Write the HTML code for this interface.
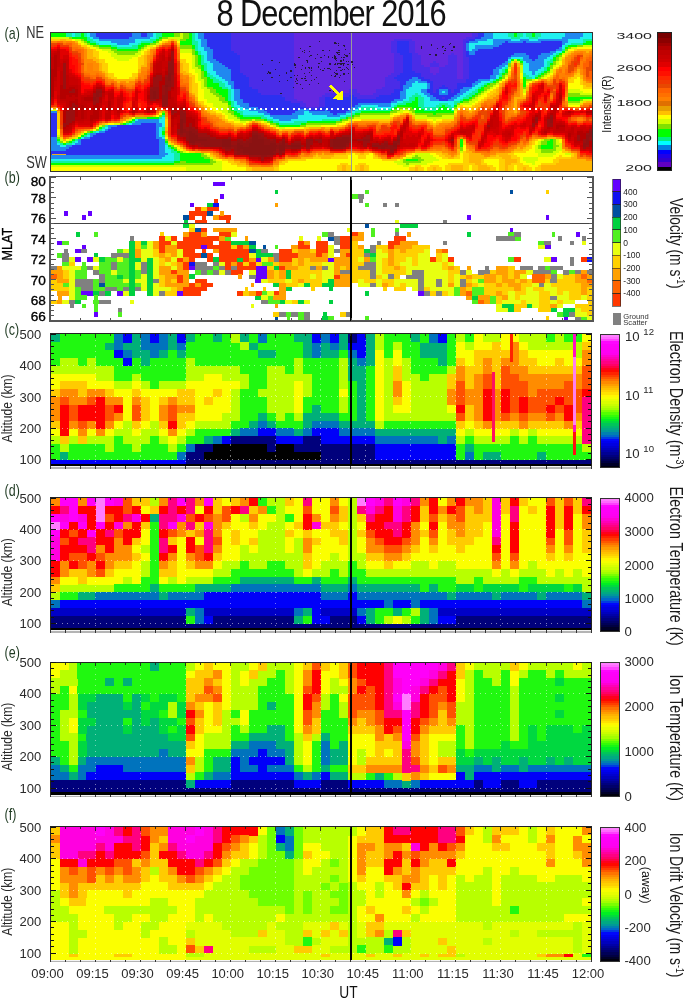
<!DOCTYPE html><html><head><meta charset="utf-8"><style>html,body{margin:0;padding:0;background:#fff}svg{display:block;will-change:transform}</style></head><body>
<svg width="685" height="999" viewBox="0 0 685 999" font-family='"Liberation Sans", sans-serif' shape-rendering="crispEdges">
<rect width="685" height="999" fill="#fff"/>
<text transform="translate(216.50,25.70) rotate(0) scale(0.85,1)" font-size="36.2" fill="#111" text-anchor="start" letter-spacing="-1.2">8 December 2016</text>
<path fill="#00ff00" d="M50.5 32.5h15.3v2.3h-15.3zM80.6 32.5h3.3v2.3h-3.3zM161.8 32.5h12.3v2.3h-12.3zM188.9 32.5h3.3v2.3h-3.3zM513.8 32.5h3.3v2.3h-3.3zM531.8 32.5h3.3v2.3h-3.3zM50.5 34.5h15.3v2.3h-15.3zM80.6 34.5h3.3v2.3h-3.3zM161.8 34.5h12.3v2.3h-12.3zM188.9 34.5h3.3v2.3h-3.3zM513.8 34.5h3.3v2.3h-3.3zM531.8 34.5h3.3v2.3h-3.3zM71.6 36.5h15.3v2.3h-15.3zM158.8 36.5h3.3v2.3h-3.3zM188.9 36.5h3.3v2.3h-3.3zM83.6 38.5h3.3v2.3h-3.3zM155.8 38.5h3.3v2.3h-3.3zM185.9 38.5h6.3v2.3h-6.3zM86.6 40.5h3.3v2.3h-3.3zM152.8 40.5h3.3v2.3h-3.3zM179.9 40.5h12.3v2.3h-12.3zM586 40.5h6.3v2.3h-6.3zM89.6 42.5h6.3v2.3h-6.3zM140.8 42.5h9.3v2.3h-9.3zM179.9 42.5h12.3v2.3h-12.3zM583 42.5h9.3v2.3h-9.3zM98.6 44.5h12.3v2.3h-12.3zM137.7 44.5h6.3v2.3h-6.3zM191.9 44.5h3.3v2.3h-3.3zM567.9 44.5h9.3v2.3h-9.3zM110.7 46.5h6.3v2.3h-6.3zM137.7 46.5h3.3v2.3h-3.3zM191.9 46.5h3.3v2.3h-3.3zM564.9 46.5h3.3v2.3h-3.3zM116.7 48.5h21.4v2.3h-21.4zM194.9 50.5h3.3v2.3h-3.3zM561.9 50.5h3.3v2.3h-3.3zM194.9 52.5h3.3v2.3h-3.3zM558.9 52.5h3.3v2.3h-3.3zM197.9 54.5h3.3v2.3h-3.3zM555.9 54.5h3.3v2.3h-3.3zM197.9 56.5h3.3v2.3h-3.3zM552.9 56.5h3.3v2.3h-3.3zM197.9 58.5h3.3v2.3h-3.3zM510.8 58.5h3.3v2.3h-3.3zM516.8 58.5h3.3v2.3h-3.3zM552.9 58.5h3.3v2.3h-3.3zM197.9 60.5h3.3v2.3h-3.3zM519.8 60.5h3.3v2.3h-3.3zM197.9 62.5h3.3v2.3h-3.3zM549.9 62.5h3.3v2.3h-3.3zM200.9 64.5h3.3v2.3h-3.3zM200.9 66.5h3.3v2.3h-3.3zM546.9 66.5h3.3v2.3h-3.3zM200.9 68.5h3.3v2.3h-3.3zM504.8 68.5h3.3v2.3h-3.3zM546.9 68.5h3.3v2.3h-3.3zM203.9 70.5h3.3v2.3h-3.3zM504.8 70.5h3.3v2.3h-3.3zM543.9 70.5h3.3v2.3h-3.3zM203.9 72.5h3.3v2.3h-3.3zM501.8 72.5h3.3v2.3h-3.3zM540.9 72.5h3.3v2.3h-3.3zM203.9 74.5h3.3v2.3h-3.3zM537.9 74.5h3.3v2.3h-3.3zM206.9 76.5h3.3v2.3h-3.3zM498.7 76.5h3.3v2.3h-3.3zM522.8 76.5h3.3v2.3h-3.3zM534.8 76.5h3.3v2.3h-3.3zM206.9 78.5h6.3v2.3h-6.3zM495.7 78.5h3.3v2.3h-3.3zM522.8 78.5h3.3v2.3h-3.3zM206.9 80.5h6.3v2.3h-6.3zM492.7 80.5h3.3v2.3h-3.3zM522.8 80.5h3.3v2.3h-3.3zM206.9 82.5h12.3v2.3h-12.3zM486.7 82.5h3.3v2.3h-3.3zM522.8 82.5h3.3v2.3h-3.3zM206.9 84.5h12.3v2.3h-12.3zM483.7 84.5h3.3v2.3h-3.3zM522.8 84.5h3.3v2.3h-3.3zM212.9 86.5h9.3v2.3h-9.3zM480.7 86.5h3.3v2.3h-3.3zM216 88.5h12.3v2.3h-12.3zM477.7 88.5h6.3v2.3h-6.3zM216 90.5h12.3v2.3h-12.3zM477.7 90.5h3.3v2.3h-3.3zM219 92.5h9.3v2.3h-9.3zM474.7 92.5h3.3v2.3h-3.3zM222 94.5h6.3v2.3h-6.3zM471.7 94.5h3.3v2.3h-3.3zM225 96.5h3.3v2.3h-3.3zM414.5 96.5h3.3v2.3h-3.3zM468.7 96.5h3.3v2.3h-3.3zM567.9 96.5h24.4v2.3h-24.4zM225 98.5h3.3v2.3h-3.3zM414.5 98.5h3.3v2.3h-3.3zM462.6 98.5h6.3v2.3h-6.3zM567.9 98.5h12.3v2.3h-12.3zM228 100.5h3.3v2.3h-3.3zM411.5 100.5h6.3v2.3h-6.3zM459.6 100.5h3.3v2.3h-3.3zM228 102.6h3.3v2.3h-3.3zM405.5 102.6h12.3v2.3h-12.3zM396.5 104.6h21.4v2.3h-21.4zM441.6 104.6h3.3v2.3h-3.3zM453.6 104.6h3.3v2.3h-3.3zM231 106.6h3.3v2.3h-3.3zM393.4 106.6h3.3v2.3h-3.3zM411.5 106.6h9.3v2.3h-9.3zM438.6 106.6h9.3v2.3h-9.3zM231 108.6h3.3v2.3h-3.3zM390.4 108.6h3.3v2.3h-3.3zM414.5 108.6h9.3v2.3h-9.3zM435.6 108.6h15.3v2.3h-15.3zM234 110.6h3.3v2.3h-3.3zM360.4 110.6h30.4v2.3h-30.4zM414.5 110.6h39.4v2.3h-39.4zM161.8 112.6h3.3v2.3h-3.3zM234 112.6h6.3v2.3h-6.3zM354.3 112.6h6.3v2.3h-6.3zM432.6 112.6h3.3v2.3h-3.3zM237 114.6h6.3v2.3h-6.3zM351.3 114.6h3.3v2.3h-3.3zM146.8 116.6h12.3v2.3h-12.3zM240 116.6h21.4v2.3h-21.4zM345.3 116.6h3.3v2.3h-3.3zM131.7 118.6h3.3v2.3h-3.3zM264.1 118.6h3.3v2.3h-3.3zM339.3 118.6h3.3v2.3h-3.3zM128.7 120.6h3.3v2.3h-3.3zM270.1 120.6h3.3v2.3h-3.3zM306.2 120.6h30.4v2.3h-30.4zM122.7 122.6h3.3v2.3h-3.3zM276.1 122.6h3.3v2.3h-3.3zM300.2 122.6h6.3v2.3h-6.3zM279.1 124.6h21.4v2.3h-21.4zM98.6 126.6h3.3v2.3h-3.3zM89.6 130.6h3.3v2.3h-3.3zM161.8 130.6h3.3v2.3h-3.3zM83.6 132.6h3.3v2.3h-3.3zM161.8 132.6h3.3v2.3h-3.3zM80.6 134.6h3.3v2.3h-3.3zM77.6 136.6h3.3v2.3h-3.3zM56.5 138.6h3.3v2.3h-3.3zM71.6 138.6h3.3v2.3h-3.3zM459.6 138.6h3.3v2.3h-3.3zM549.9 138.6h3.3v2.3h-3.3zM68.5 140.6h3.3v2.3h-3.3zM164.8 140.6h3.3v2.3h-3.3zM459.6 140.6h3.3v2.3h-3.3zM546.9 140.6h6.3v2.3h-6.3zM62.5 142.6h3.3v2.3h-3.3zM459.6 142.6h3.3v2.3h-3.3zM546.9 142.6h6.3v2.3h-6.3zM167.8 144.6h3.3v2.3h-3.3zM459.6 144.6h3.3v2.3h-3.3zM540.9 144.6h12.3v2.3h-12.3zM170.8 146.6h3.3v2.3h-3.3zM540.9 146.6h12.3v2.3h-12.3zM173.8 148.6h3.3v2.3h-3.3zM176.8 150.6h3.3v2.3h-3.3zM179.9 152.6h21.4v2.3h-21.4zM179.9 154.6h21.4v2.3h-21.4zM179.9 156.6h24.4v2.3h-24.4zM179.9 158.6h30.4v2.3h-30.4zM405.5 158.6h12.3v2.3h-12.3zM173.8 160.6h6.3v2.3h-6.3zM185.9 160.6h24.4v2.3h-24.4zM50.5 162.6h123.6v2.3h-123.6z"/>
<path fill="#10f0a0" d="M65.5 32.5h6.3v2.3h-6.3zM74.6 32.5h6.3v2.3h-6.3zM83.6 32.5h3.3v2.3h-3.3zM155.8 32.5h6.3v2.3h-6.3zM191.9 32.5h3.3v2.3h-3.3zM507.8 32.5h6.3v2.3h-6.3zM516.8 32.5h6.3v2.3h-6.3zM525.8 32.5h6.3v2.3h-6.3zM534.8 32.5h6.3v2.3h-6.3zM65.5 34.5h6.3v2.3h-6.3zM74.6 34.5h6.3v2.3h-6.3zM83.6 34.5h3.3v2.3h-3.3zM155.8 34.5h6.3v2.3h-6.3zM191.9 34.5h3.3v2.3h-3.3zM507.8 34.5h6.3v2.3h-6.3zM516.8 34.5h6.3v2.3h-6.3zM525.8 34.5h6.3v2.3h-6.3zM534.8 34.5h6.3v2.3h-6.3zM86.6 36.5h3.3v2.3h-3.3zM155.8 36.5h3.3v2.3h-3.3zM191.9 36.5h3.3v2.3h-3.3zM510.8 36.5h9.3v2.3h-9.3zM528.8 36.5h9.3v2.3h-9.3zM86.6 38.5h6.3v2.3h-6.3zM149.8 38.5h6.3v2.3h-6.3zM191.9 38.5h3.3v2.3h-3.3zM583 38.5h9.3v2.3h-9.3zM89.6 40.5h6.3v2.3h-6.3zM140.8 40.5h12.3v2.3h-12.3zM191.9 40.5h6.3v2.3h-6.3zM583 40.5h3.3v2.3h-3.3zM95.6 42.5h3.3v2.3h-3.3zM137.7 42.5h3.3v2.3h-3.3zM191.9 42.5h6.3v2.3h-6.3zM570.9 42.5h12.3v2.3h-12.3zM110.7 44.5h6.3v2.3h-6.3zM131.7 44.5h6.3v2.3h-6.3zM194.9 44.5h3.3v2.3h-3.3zM564.9 44.5h3.3v2.3h-3.3zM116.7 46.5h21.4v2.3h-21.4zM194.9 46.5h3.3v2.3h-3.3zM194.9 48.5h3.3v2.3h-3.3zM561.9 48.5h3.3v2.3h-3.3zM197.9 50.5h3.3v2.3h-3.3zM197.9 52.5h3.3v2.3h-3.3zM555.9 52.5h3.3v2.3h-3.3zM200.9 54.5h3.3v2.3h-3.3zM552.9 54.5h3.3v2.3h-3.3zM200.9 56.5h3.3v2.3h-3.3zM200.9 58.5h3.3v2.3h-3.3zM519.8 58.5h3.3v2.3h-3.3zM549.9 58.5h3.3v2.3h-3.3zM200.9 60.5h3.3v2.3h-3.3zM507.8 60.5h3.3v2.3h-3.3zM546.9 60.5h6.3v2.3h-6.3zM200.9 62.5h6.3v2.3h-6.3zM546.9 62.5h3.3v2.3h-3.3zM203.9 64.5h3.3v2.3h-3.3zM546.9 64.5h3.3v2.3h-3.3zM203.9 66.5h3.3v2.3h-3.3zM504.8 66.5h3.3v2.3h-3.3zM543.9 66.5h3.3v2.3h-3.3zM203.9 68.5h3.3v2.3h-3.3zM501.8 68.5h3.3v2.3h-3.3zM543.9 68.5h3.3v2.3h-3.3zM501.8 70.5h3.3v2.3h-3.3zM540.9 70.5h3.3v2.3h-3.3zM206.9 72.5h3.3v2.3h-3.3zM498.7 72.5h3.3v2.3h-3.3zM522.8 72.5h3.3v2.3h-3.3zM537.9 72.5h3.3v2.3h-3.3zM206.9 74.5h6.3v2.3h-6.3zM498.7 74.5h3.3v2.3h-3.3zM522.8 74.5h6.3v2.3h-6.3zM534.8 74.5h3.3v2.3h-3.3zM209.9 76.5h6.3v2.3h-6.3zM525.8 76.5h6.3v2.3h-6.3zM212.9 78.5h6.3v2.3h-6.3zM492.7 78.5h3.3v2.3h-3.3zM212.9 80.5h9.3v2.3h-9.3zM489.7 80.5h3.3v2.3h-3.3zM219 82.5h6.3v2.3h-6.3zM483.7 82.5h3.3v2.3h-3.3zM219 84.5h6.3v2.3h-6.3zM480.7 84.5h3.3v2.3h-3.3zM222 86.5h6.3v2.3h-6.3zM477.7 86.5h3.3v2.3h-3.3zM228 88.5h3.3v2.3h-3.3zM474.7 88.5h3.3v2.3h-3.3zM228 90.5h3.3v2.3h-3.3zM471.7 90.5h6.3v2.3h-6.3zM228 92.5h3.3v2.3h-3.3zM414.5 92.5h3.3v2.3h-3.3zM468.7 92.5h6.3v2.3h-6.3zM228 94.5h3.3v2.3h-3.3zM411.5 94.5h9.3v2.3h-9.3zM465.6 94.5h6.3v2.3h-6.3zM228 96.5h3.3v2.3h-3.3zM408.5 96.5h6.3v2.3h-6.3zM417.5 96.5h6.3v2.3h-6.3zM462.6 96.5h6.3v2.3h-6.3zM228 98.5h3.3v2.3h-3.3zM408.5 98.5h6.3v2.3h-6.3zM417.5 98.5h6.3v2.3h-6.3zM459.6 98.5h3.3v2.3h-3.3zM231 100.5h3.3v2.3h-3.3zM402.5 100.5h9.3v2.3h-9.3zM417.5 100.5h6.3v2.3h-6.3zM453.6 100.5h6.3v2.3h-6.3zM231 102.6h3.3v2.3h-3.3zM396.5 102.6h9.3v2.3h-9.3zM417.5 102.6h6.3v2.3h-6.3zM438.6 102.6h9.3v2.3h-9.3zM453.6 102.6h3.3v2.3h-3.3zM231 104.6h3.3v2.3h-3.3zM393.4 104.6h3.3v2.3h-3.3zM417.5 104.6h6.3v2.3h-6.3zM435.6 104.6h6.3v2.3h-6.3zM444.6 104.6h6.3v2.3h-6.3zM234 106.6h3.3v2.3h-3.3zM360.4 106.6h15.3v2.3h-15.3zM390.4 106.6h3.3v2.3h-3.3zM420.5 106.6h18.4v2.3h-18.4zM447.6 106.6h6.3v2.3h-6.3zM234 108.6h6.3v2.3h-6.3zM357.4 108.6h33.4v2.3h-33.4zM423.5 108.6h12.3v2.3h-12.3zM450.6 108.6h3.3v2.3h-3.3zM237 110.6h6.3v2.3h-6.3zM354.3 110.6h6.3v2.3h-6.3zM240 112.6h3.3v2.3h-3.3zM351.3 112.6h3.3v2.3h-3.3zM161.8 114.6h3.3v2.3h-3.3zM243 114.6h21.4v2.3h-21.4zM345.3 114.6h6.3v2.3h-6.3zM158.8 116.6h3.3v2.3h-3.3zM261.1 116.6h6.3v2.3h-6.3zM339.3 116.6h6.3v2.3h-6.3zM267.1 118.6h6.3v2.3h-6.3zM321.2 118.6h18.4v2.3h-18.4zM131.7 120.6h3.3v2.3h-3.3zM273.1 120.6h6.3v2.3h-6.3zM294.2 120.6h12.3v2.3h-12.3zM125.7 122.6h3.3v2.3h-3.3zM279.1 122.6h21.4v2.3h-21.4zM104.7 124.6h3.3v2.3h-3.3zM101.6 126.6h3.3v2.3h-3.3zM161.8 126.6h3.3v2.3h-3.3zM98.6 128.6h3.3v2.3h-3.3zM161.8 128.6h3.3v2.3h-3.3zM92.6 130.6h3.3v2.3h-3.3zM86.6 132.6h3.3v2.3h-3.3zM83.6 134.6h3.3v2.3h-3.3zM161.8 134.6h3.3v2.3h-3.3zM74.6 138.6h3.3v2.3h-3.3zM56.5 140.6h3.3v2.3h-3.3zM71.6 140.6h3.3v2.3h-3.3zM59.5 142.6h3.3v2.3h-3.3zM65.5 142.6h6.3v2.3h-6.3zM164.8 142.6h3.3v2.3h-3.3zM167.8 146.6h3.3v2.3h-3.3zM170.8 148.6h3.3v2.3h-3.3zM170.8 150.6h6.3v2.3h-6.3zM173.8 152.6h6.3v2.3h-6.3zM173.8 154.6h6.3v2.3h-6.3zM173.8 156.6h6.3v2.3h-6.3zM173.8 158.6h6.3v2.3h-6.3zM50.5 160.6h123.6v2.3h-123.6z"/>
<path fill="#20f0f0" d="M71.6 32.5h3.3v2.3h-3.3zM86.6 32.5h3.3v2.3h-3.3zM152.8 32.5h3.3v2.3h-3.3zM194.9 32.5h3.3v2.3h-3.3zM492.7 32.5h15.3v2.3h-15.3zM522.8 32.5h3.3v2.3h-3.3zM540.9 32.5h24.4v2.3h-24.4zM583 32.5h9.3v2.3h-9.3zM71.6 34.5h3.3v2.3h-3.3zM86.6 34.5h3.3v2.3h-3.3zM152.8 34.5h3.3v2.3h-3.3zM194.9 34.5h3.3v2.3h-3.3zM492.7 34.5h15.3v2.3h-15.3zM522.8 34.5h3.3v2.3h-3.3zM540.9 34.5h24.4v2.3h-24.4zM583 34.5h9.3v2.3h-9.3zM89.6 36.5h3.3v2.3h-3.3zM149.8 36.5h6.3v2.3h-6.3zM194.9 36.5h3.3v2.3h-3.3zM492.7 36.5h18.3v2.3h-18.3zM519.8 36.5h9.3v2.3h-9.3zM537.9 36.5h24.4v2.3h-24.4zM580 36.5h12.3v2.3h-12.3zM92.6 38.5h6.3v2.3h-6.3zM134.7 38.5h15.3v2.3h-15.3zM194.9 38.5h6.3v2.3h-6.3zM486.7 38.5h6.3v2.3h-6.3zM510.8 38.5h9.3v2.3h-9.3zM528.8 38.5h9.3v2.3h-9.3zM567.9 38.5h15.3v2.3h-15.3zM95.6 40.5h15.3v2.3h-15.3zM134.7 40.5h6.3v2.3h-6.3zM197.9 40.5h3.3v2.3h-3.3zM477.7 40.5h15.3v2.3h-15.3zM567.9 40.5h15.3v2.3h-15.3zM98.6 42.5h18.4v2.3h-18.4zM128.7 42.5h9.3v2.3h-9.3zM197.9 42.5h3.3v2.3h-3.3zM468.7 42.5h24.4v2.3h-24.4zM564.9 42.5h6.3v2.3h-6.3zM116.7 44.5h15.3v2.3h-15.3zM197.9 44.5h3.3v2.3h-3.3zM468.7 44.5h6.3v2.3h-6.3zM561.9 44.5h3.3v2.3h-3.3zM197.9 46.5h6.3v2.3h-6.3zM468.7 46.5h6.3v2.3h-6.3zM561.9 46.5h3.3v2.3h-3.3zM197.9 48.5h6.3v2.3h-6.3zM468.7 48.5h3.3v2.3h-3.3zM200.9 50.5h6.3v2.3h-6.3zM555.9 50.5h6.3v2.3h-6.3zM200.9 52.5h6.3v2.3h-6.3zM552.9 52.5h3.3v2.3h-3.3zM203.9 54.5h3.3v2.3h-3.3zM549.9 54.5h3.3v2.3h-3.3zM203.9 56.5h3.3v2.3h-3.3zM510.8 56.5h12.3v2.3h-12.3zM546.9 56.5h6.3v2.3h-6.3zM203.9 58.5h3.3v2.3h-3.3zM507.8 58.5h3.3v2.3h-3.3zM543.9 58.5h6.3v2.3h-6.3zM203.9 60.5h6.3v2.3h-6.3zM522.8 60.5h3.3v2.3h-3.3zM543.9 60.5h3.3v2.3h-3.3zM206.9 62.5h6.3v2.3h-6.3zM522.8 62.5h6.3v2.3h-6.3zM543.9 62.5h3.3v2.3h-3.3zM206.9 64.5h6.3v2.3h-6.3zM504.8 64.5h3.3v2.3h-3.3zM522.8 64.5h6.3v2.3h-6.3zM543.9 64.5h3.3v2.3h-3.3zM206.9 66.5h6.3v2.3h-6.3zM501.8 66.5h3.3v2.3h-3.3zM522.8 66.5h6.3v2.3h-6.3zM540.9 66.5h3.3v2.3h-3.3zM206.9 68.5h6.3v2.3h-6.3zM498.7 68.5h3.3v2.3h-3.3zM522.8 68.5h6.3v2.3h-6.3zM537.9 68.5h6.3v2.3h-6.3zM206.9 70.5h9.3v2.3h-9.3zM498.7 70.5h3.3v2.3h-3.3zM522.8 70.5h9.3v2.3h-9.3zM534.8 70.5h6.3v2.3h-6.3zM209.9 72.5h6.3v2.3h-6.3zM525.8 72.5h6.3v2.3h-6.3zM534.8 72.5h3.3v2.3h-3.3zM212.9 74.5h6.3v2.3h-6.3zM495.7 74.5h3.3v2.3h-3.3zM528.8 74.5h6.3v2.3h-6.3zM216 76.5h6.3v2.3h-6.3zM495.7 76.5h3.3v2.3h-3.3zM531.8 76.5h3.3v2.3h-3.3zM219 78.5h6.3v2.3h-6.3zM489.7 78.5h3.3v2.3h-3.3zM222 80.5h6.3v2.3h-6.3zM414.5 80.5h3.3v2.3h-3.3zM480.7 80.5h9.3v2.3h-9.3zM225 82.5h3.3v2.3h-3.3zM411.5 82.5h15.3v2.3h-15.3zM477.7 82.5h6.3v2.3h-6.3zM225 84.5h6.3v2.3h-6.3zM411.5 84.5h15.3v2.3h-15.3zM474.7 84.5h6.3v2.3h-6.3zM228 86.5h3.3v2.3h-3.3zM408.5 86.5h18.4v2.3h-18.4zM471.7 86.5h6.3v2.3h-6.3zM231 88.5h3.3v2.3h-3.3zM405.5 88.5h15.3v2.3h-15.3zM468.7 88.5h6.3v2.3h-6.3zM231 90.5h3.3v2.3h-3.3zM405.5 90.5h15.3v2.3h-15.3zM441.6 90.5h3.3v2.3h-3.3zM465.6 90.5h6.3v2.3h-6.3zM231 92.5h3.3v2.3h-3.3zM405.5 92.5h9.3v2.3h-9.3zM417.5 92.5h6.3v2.3h-6.3zM462.6 92.5h6.3v2.3h-6.3zM231 94.5h3.3v2.3h-3.3zM405.5 94.5h6.3v2.3h-6.3zM420.5 94.5h6.3v2.3h-6.3zM459.6 94.5h6.3v2.3h-6.3zM231 96.5h3.3v2.3h-3.3zM405.5 96.5h3.3v2.3h-3.3zM423.5 96.5h6.3v2.3h-6.3zM456.6 96.5h6.3v2.3h-6.3zM231 98.5h3.3v2.3h-3.3zM402.5 98.5h6.3v2.3h-6.3zM423.5 98.5h6.3v2.3h-6.3zM453.6 98.5h6.3v2.3h-6.3zM234 100.5h3.3v2.3h-3.3zM396.5 100.5h6.3v2.3h-6.3zM423.5 100.5h30.4v2.3h-30.4zM234 102.6h3.3v2.3h-3.3zM390.4 102.6h6.3v2.3h-6.3zM423.5 102.6h15.3v2.3h-15.3zM447.6 102.6h6.3v2.3h-6.3zM234 104.6h6.3v2.3h-6.3zM360.4 104.6h18.4v2.3h-18.4zM390.4 104.6h3.3v2.3h-3.3zM423.5 104.6h12.3v2.3h-12.3zM450.6 104.6h3.3v2.3h-3.3zM237 106.6h6.3v2.3h-6.3zM357.4 106.6h3.3v2.3h-3.3zM375.4 106.6h15.3v2.3h-15.3zM240 108.6h9.3v2.3h-9.3zM354.3 108.6h3.3v2.3h-3.3zM243 110.6h15.3v2.3h-15.3zM303.2 110.6h6.3v2.3h-6.3zM351.3 110.6h3.3v2.3h-3.3zM243 112.6h21.4v2.3h-21.4zM303.2 112.6h9.3v2.3h-9.3zM345.3 112.6h6.3v2.3h-6.3zM264.1 114.6h6.3v2.3h-6.3zM297.2 114.6h30.4v2.3h-30.4zM339.3 114.6h6.3v2.3h-6.3zM161.8 116.6h3.3v2.3h-3.3zM267.1 116.6h6.3v2.3h-6.3zM297.2 116.6h42.4v2.3h-42.4zM134.7 118.6h3.3v2.3h-3.3zM158.8 118.6h6.3v2.3h-6.3zM273.1 118.6h6.3v2.3h-6.3zM291.2 118.6h30.4v2.3h-30.4zM158.8 120.6h6.3v2.3h-6.3zM279.1 120.6h15.3v2.3h-15.3zM128.7 122.6h3.3v2.3h-3.3zM161.8 122.6h3.3v2.3h-3.3zM161.8 124.6h3.3v2.3h-3.3zM104.7 126.6h3.3v2.3h-3.3zM158.8 126.6h3.3v2.3h-3.3zM101.6 128.6h3.3v2.3h-3.3zM158.8 128.6h3.3v2.3h-3.3zM95.6 130.6h3.3v2.3h-3.3zM158.8 130.6h3.3v2.3h-3.3zM158.8 132.6h3.3v2.3h-3.3zM86.6 134.6h3.3v2.3h-3.3zM158.8 134.6h3.3v2.3h-3.3zM80.6 136.6h3.3v2.3h-3.3zM161.8 136.6h3.3v2.3h-3.3zM74.6 140.6h3.3v2.3h-3.3zM56.5 142.6h3.3v2.3h-3.3zM71.6 142.6h3.3v2.3h-3.3zM59.5 144.6h6.3v2.3h-6.3zM164.8 144.6h3.3v2.3h-3.3zM164.8 146.6h3.3v2.3h-3.3zM164.8 148.6h6.3v2.3h-6.3zM164.8 150.6h6.3v2.3h-6.3zM167.8 152.6h6.3v2.3h-6.3zM164.8 154.6h9.3v2.3h-9.3zM161.8 156.6h12.3v2.3h-12.3zM50.5 158.6h123.6v2.3h-123.6z"/>
<path fill="#2088f0" d="M89.6 32.5h6.3v2.3h-6.3zM131.7 32.5h9.3v2.3h-9.3zM146.8 32.5h6.3v2.3h-6.3zM197.9 32.5h6.3v2.3h-6.3zM483.7 32.5h9.3v2.3h-9.3zM564.9 32.5h18.4v2.3h-18.4zM89.6 34.5h6.3v2.3h-6.3zM131.7 34.5h9.3v2.3h-9.3zM146.8 34.5h6.3v2.3h-6.3zM197.9 34.5h6.3v2.3h-6.3zM483.7 34.5h9.3v2.3h-9.3zM564.9 34.5h18.4v2.3h-18.4zM92.6 36.5h6.3v2.3h-6.3zM128.7 36.5h21.4v2.3h-21.4zM197.9 36.5h6.3v2.3h-6.3zM480.7 36.5h12.3v2.3h-12.3zM561.9 36.5h18.3v2.3h-18.3zM98.6 38.5h36.4v2.3h-36.4zM200.9 38.5h6.3v2.3h-6.3zM474.7 38.5h12.3v2.3h-12.3zM492.7 38.5h18.3v2.3h-18.3zM519.8 38.5h9.3v2.3h-9.3zM537.9 38.5h30.4v2.3h-30.4zM110.7 40.5h24.4v2.3h-24.4zM200.9 40.5h6.3v2.3h-6.3zM468.7 40.5h9.3v2.3h-9.3zM492.7 40.5h12.3v2.3h-12.3zM507.8 40.5h15.3v2.3h-15.3zM525.8 40.5h15.3v2.3h-15.3zM561.9 40.5h6.3v2.3h-6.3zM116.7 42.5h12.3v2.3h-12.3zM200.9 42.5h6.3v2.3h-6.3zM465.6 42.5h3.3v2.3h-3.3zM492.7 42.5h9.3v2.3h-9.3zM561.9 42.5h3.3v2.3h-3.3zM200.9 44.5h6.3v2.3h-6.3zM465.6 44.5h3.3v2.3h-3.3zM474.7 44.5h24.4v2.3h-24.4zM203.9 46.5h6.3v2.3h-6.3zM465.6 46.5h3.3v2.3h-3.3zM474.7 46.5h18.4v2.3h-18.4zM558.9 46.5h3.3v2.3h-3.3zM203.9 48.5h9.3v2.3h-9.3zM465.6 48.5h3.3v2.3h-3.3zM471.7 48.5h6.3v2.3h-6.3zM555.9 48.5h6.3v2.3h-6.3zM206.9 50.5h6.3v2.3h-6.3zM468.7 50.5h6.3v2.3h-6.3zM549.9 50.5h6.3v2.3h-6.3zM206.9 52.5h6.3v2.3h-6.3zM468.7 52.5h6.3v2.3h-6.3zM513.8 52.5h12.3v2.3h-12.3zM540.9 52.5h12.3v2.3h-12.3zM206.9 54.5h6.3v2.3h-6.3zM510.8 54.5h18.4v2.3h-18.4zM537.9 54.5h12.3v2.3h-12.3zM206.9 56.5h6.3v2.3h-6.3zM507.8 56.5h3.3v2.3h-3.3zM522.8 56.5h6.3v2.3h-6.3zM537.9 56.5h9.3v2.3h-9.3zM206.9 58.5h9.3v2.3h-9.3zM522.8 58.5h9.3v2.3h-9.3zM534.8 58.5h9.3v2.3h-9.3zM209.9 60.5h9.3v2.3h-9.3zM504.8 60.5h3.3v2.3h-3.3zM525.8 60.5h18.4v2.3h-18.4zM212.9 62.5h9.3v2.3h-9.3zM501.8 62.5h6.3v2.3h-6.3zM528.8 62.5h15.3v2.3h-15.3zM212.9 64.5h12.3v2.3h-12.3zM498.7 64.5h6.3v2.3h-6.3zM528.8 64.5h15.3v2.3h-15.3zM212.9 66.5h15.3v2.3h-15.3zM495.7 66.5h6.3v2.3h-6.3zM528.8 66.5h12.3v2.3h-12.3zM212.9 68.5h18.4v2.3h-18.4zM492.7 68.5h6.3v2.3h-6.3zM528.8 68.5h9.3v2.3h-9.3zM216 70.5h15.3v2.3h-15.3zM492.7 70.5h6.3v2.3h-6.3zM531.8 70.5h3.3v2.3h-3.3zM216 72.5h15.3v2.3h-15.3zM492.7 72.5h6.3v2.3h-6.3zM531.8 72.5h3.3v2.3h-3.3zM219 74.5h12.3v2.3h-12.3zM489.7 74.5h6.3v2.3h-6.3zM222 76.5h9.3v2.3h-9.3zM411.5 76.5h6.3v2.3h-6.3zM489.7 76.5h6.3v2.3h-6.3zM225 78.5h6.3v2.3h-6.3zM408.5 78.5h12.3v2.3h-12.3zM477.7 78.5h12.3v2.3h-12.3zM228 80.5h6.3v2.3h-6.3zM405.5 80.5h9.3v2.3h-9.3zM417.5 80.5h9.3v2.3h-9.3zM474.7 80.5h6.3v2.3h-6.3zM228 82.5h6.3v2.3h-6.3zM405.5 82.5h6.3v2.3h-6.3zM426.5 82.5h3.3v2.3h-3.3zM471.7 82.5h6.3v2.3h-6.3zM231 84.5h3.3v2.3h-3.3zM402.5 84.5h9.3v2.3h-9.3zM426.5 84.5h3.3v2.3h-3.3zM471.7 84.5h3.3v2.3h-3.3zM231 86.5h3.3v2.3h-3.3zM402.5 86.5h6.3v2.3h-6.3zM426.5 86.5h3.3v2.3h-3.3zM462.6 86.5h9.3v2.3h-9.3zM234 88.5h6.3v2.3h-6.3zM402.5 88.5h3.3v2.3h-3.3zM420.5 88.5h6.3v2.3h-6.3zM438.6 88.5h9.3v2.3h-9.3zM459.6 88.5h9.3v2.3h-9.3zM234 90.5h6.3v2.3h-6.3zM399.5 90.5h6.3v2.3h-6.3zM420.5 90.5h6.3v2.3h-6.3zM438.6 90.5h3.3v2.3h-3.3zM444.6 90.5h3.3v2.3h-3.3zM459.6 90.5h6.3v2.3h-6.3zM234 92.5h6.3v2.3h-6.3zM399.5 92.5h6.3v2.3h-6.3zM423.5 92.5h6.3v2.3h-6.3zM438.6 92.5h9.3v2.3h-9.3zM456.6 92.5h6.3v2.3h-6.3zM234 94.5h6.3v2.3h-6.3zM399.5 94.5h6.3v2.3h-6.3zM426.5 94.5h6.3v2.3h-6.3zM453.6 94.5h6.3v2.3h-6.3zM234 96.5h6.3v2.3h-6.3zM399.5 96.5h6.3v2.3h-6.3zM429.6 96.5h6.3v2.3h-6.3zM450.6 96.5h6.3v2.3h-6.3zM234 98.5h9.3v2.3h-9.3zM393.4 98.5h9.3v2.3h-9.3zM429.6 98.5h9.3v2.3h-9.3zM447.6 98.5h6.3v2.3h-6.3zM237 100.5h6.3v2.3h-6.3zM390.4 100.5h6.3v2.3h-6.3zM237 102.6h12.3v2.3h-12.3zM357.4 102.6h33.4v2.3h-33.4zM240 104.6h9.3v2.3h-9.3zM354.3 104.6h6.3v2.3h-6.3zM378.4 104.6h12.3v2.3h-12.3zM243 106.6h15.3v2.3h-15.3zM351.3 106.6h6.3v2.3h-6.3zM249.1 108.6h15.3v2.3h-15.3zM297.2 108.6h12.3v2.3h-12.3zM324.3 108.6h3.3v2.3h-3.3zM348.3 108.6h6.3v2.3h-6.3zM50.5 110.6h6.3v2.3h-6.3zM258.1 110.6h9.3v2.3h-9.3zM294.2 110.6h9.3v2.3h-9.3zM309.2 110.6h21.4v2.3h-21.4zM345.3 110.6h6.3v2.3h-6.3zM264.1 112.6h6.3v2.3h-6.3zM291.2 112.6h12.3v2.3h-12.3zM312.2 112.6h21.4v2.3h-21.4zM336.3 112.6h9.3v2.3h-9.3zM270.1 114.6h27.4v2.3h-27.4zM327.3 114.6h12.3v2.3h-12.3zM273.1 116.6h24.4v2.3h-24.4zM137.7 118.6h21.4v2.3h-21.4zM279.1 118.6h12.3v2.3h-12.3zM134.7 120.6h24.4v2.3h-24.4zM131.7 122.6h9.3v2.3h-9.3zM155.8 122.6h6.3v2.3h-6.3zM107.7 124.6h9.3v2.3h-9.3zM155.8 124.6h6.3v2.3h-6.3zM107.7 126.6h3.3v2.3h-3.3zM155.8 126.6h3.3v2.3h-3.3zM104.7 128.6h3.3v2.3h-3.3zM155.8 128.6h3.3v2.3h-3.3zM98.6 130.6h6.3v2.3h-6.3zM155.8 130.6h3.3v2.3h-3.3zM89.6 132.6h6.3v2.3h-6.3zM155.8 132.6h3.3v2.3h-3.3zM89.6 134.6h3.3v2.3h-3.3zM155.8 134.6h3.3v2.3h-3.3zM50.5 136.6h6.3v2.3h-6.3zM83.6 136.6h6.3v2.3h-6.3zM155.8 136.6h6.3v2.3h-6.3zM50.5 138.6h6.3v2.3h-6.3zM77.6 138.6h3.3v2.3h-3.3zM158.8 138.6h6.3v2.3h-6.3zM50.5 140.6h6.3v2.3h-6.3zM77.6 140.6h3.3v2.3h-3.3zM158.8 140.6h6.3v2.3h-6.3zM50.5 142.6h6.3v2.3h-6.3zM74.6 142.6h6.3v2.3h-6.3zM158.8 142.6h6.3v2.3h-6.3zM50.5 144.6h9.3v2.3h-9.3zM65.5 144.6h6.3v2.3h-6.3zM158.8 144.6h6.3v2.3h-6.3zM50.5 146.6h18.3v2.3h-18.3zM158.8 146.6h6.3v2.3h-6.3zM50.5 148.6h15.3v2.3h-15.3zM158.8 148.6h6.3v2.3h-6.3zM158.8 150.6h6.3v2.3h-6.3zM158.8 152.6h9.3v2.3h-9.3zM50.5 154.6h114.6v2.3h-114.6zM50.5 156.6h111.6v2.3h-111.6z"/>
<path fill="#2c30f0" d="M95.6 32.5h36.4v2.3h-36.4zM140.8 32.5h6.3v2.3h-6.3zM203.9 32.5h27.4v2.3h-27.4zM477.7 32.5h6.3v2.3h-6.3zM95.6 34.5h36.4v2.3h-36.4zM140.8 34.5h6.3v2.3h-6.3zM203.9 34.5h27.4v2.3h-27.4zM477.7 34.5h6.3v2.3h-6.3zM98.6 36.5h30.4v2.3h-30.4zM203.9 36.5h27.4v2.3h-27.4zM474.7 36.5h6.3v2.3h-6.3zM206.9 38.5h24.4v2.3h-24.4zM468.7 38.5h6.3v2.3h-6.3zM206.9 40.5h24.4v2.3h-24.4zM396.5 40.5h12.3v2.3h-12.3zM465.6 40.5h3.3v2.3h-3.3zM504.8 40.5h3.3v2.3h-3.3zM522.8 40.5h3.3v2.3h-3.3zM540.9 40.5h21.4v2.3h-21.4zM206.9 42.5h24.4v2.3h-24.4zM396.5 42.5h12.3v2.3h-12.3zM501.8 42.5h60.5v2.3h-60.5zM206.9 44.5h24.4v2.3h-24.4zM396.5 44.5h12.3v2.3h-12.3zM498.7 44.5h63.5v2.3h-63.5zM209.9 46.5h21.4v2.3h-21.4zM396.5 46.5h12.3v2.3h-12.3zM492.7 46.5h66.5v2.3h-66.5zM212.9 48.5h18.4v2.3h-18.4zM396.5 48.5h12.3v2.3h-12.3zM477.7 48.5h78.5v2.3h-78.5zM212.9 50.5h21.4v2.3h-21.4zM396.5 50.5h12.3v2.3h-12.3zM465.6 50.5h3.3v2.3h-3.3zM474.7 50.5h75.5v2.3h-75.5zM212.9 52.5h24.4v2.3h-24.4zM399.5 52.5h12.3v2.3h-12.3zM465.6 52.5h3.3v2.3h-3.3zM474.7 52.5h39.4v2.3h-39.4zM525.8 52.5h15.3v2.3h-15.3zM212.9 54.5h27.4v2.3h-27.4zM402.5 54.5h9.3v2.3h-9.3zM465.6 54.5h45.4v2.3h-45.4zM528.8 54.5h9.3v2.3h-9.3zM212.9 56.5h27.4v2.3h-27.4zM402.5 56.5h9.3v2.3h-9.3zM468.7 56.5h39.4v2.3h-39.4zM528.8 56.5h9.3v2.3h-9.3zM216 58.5h24.4v2.3h-24.4zM402.5 58.5h9.3v2.3h-9.3zM468.7 58.5h39.4v2.3h-39.4zM531.8 58.5h3.3v2.3h-3.3zM219 60.5h21.4v2.3h-21.4zM402.5 60.5h9.3v2.3h-9.3zM468.7 60.5h36.4v2.3h-36.4zM222 62.5h18.4v2.3h-18.4zM402.5 62.5h9.3v2.3h-9.3zM468.7 62.5h33.4v2.3h-33.4zM225 64.5h15.3v2.3h-15.3zM402.5 64.5h9.3v2.3h-9.3zM468.7 64.5h30.4v2.3h-30.4zM228 66.5h12.3v2.3h-12.3zM402.5 66.5h9.3v2.3h-9.3zM468.7 66.5h27.4v2.3h-27.4zM231 68.5h9.3v2.3h-9.3zM402.5 68.5h9.3v2.3h-9.3zM468.7 68.5h24.4v2.3h-24.4zM231 70.5h9.3v2.3h-9.3zM402.5 70.5h12.3v2.3h-12.3zM468.7 70.5h24.4v2.3h-24.4zM231 72.5h12.3v2.3h-12.3zM399.5 72.5h21.4v2.3h-21.4zM468.7 72.5h24.4v2.3h-24.4zM231 74.5h15.3v2.3h-15.3zM396.5 74.5h24.4v2.3h-24.4zM468.7 74.5h21.4v2.3h-21.4zM231 76.5h18.4v2.3h-18.4zM393.4 76.5h18.4v2.3h-18.4zM417.5 76.5h6.3v2.3h-6.3zM468.7 76.5h21.4v2.3h-21.4zM231 78.5h18.4v2.3h-18.4zM396.5 78.5h12.3v2.3h-12.3zM420.5 78.5h9.3v2.3h-9.3zM465.6 78.5h12.3v2.3h-12.3zM234 80.5h15.3v2.3h-15.3zM399.5 80.5h6.3v2.3h-6.3zM426.5 80.5h6.3v2.3h-6.3zM465.6 80.5h9.3v2.3h-9.3zM234 82.5h15.3v2.3h-15.3zM399.5 82.5h6.3v2.3h-6.3zM429.6 82.5h3.3v2.3h-3.3zM456.6 82.5h15.3v2.3h-15.3zM234 84.5h15.3v2.3h-15.3zM399.5 84.5h3.3v2.3h-3.3zM429.6 84.5h3.3v2.3h-3.3zM441.6 84.5h3.3v2.3h-3.3zM456.6 84.5h15.3v2.3h-15.3zM234 86.5h18.4v2.3h-18.4zM399.5 86.5h3.3v2.3h-3.3zM429.6 86.5h3.3v2.3h-3.3zM438.6 86.5h9.3v2.3h-9.3zM456.6 86.5h6.3v2.3h-6.3zM240 88.5h18.3v2.3h-18.3zM393.4 88.5h9.3v2.3h-9.3zM426.5 88.5h6.3v2.3h-6.3zM435.6 88.5h3.3v2.3h-3.3zM447.6 88.5h3.3v2.3h-3.3zM453.6 88.5h6.3v2.3h-6.3zM240 90.5h18.3v2.3h-18.3zM393.4 90.5h6.3v2.3h-6.3zM426.5 90.5h6.3v2.3h-6.3zM435.6 90.5h3.3v2.3h-3.3zM447.6 90.5h3.3v2.3h-3.3zM453.6 90.5h6.3v2.3h-6.3zM240 92.5h21.4v2.3h-21.4zM390.4 92.5h9.3v2.3h-9.3zM429.6 92.5h9.3v2.3h-9.3zM447.6 92.5h9.3v2.3h-9.3zM240 94.5h42.4v2.3h-42.4zM348.3 94.5h6.3v2.3h-6.3zM378.4 94.5h21.4v2.3h-21.4zM432.6 94.5h21.4v2.3h-21.4zM240 96.5h45.4v2.3h-45.4zM324.3 96.5h33.4v2.3h-33.4zM375.4 96.5h24.4v2.3h-24.4zM435.6 96.5h6.3v2.3h-6.3zM444.6 96.5h6.3v2.3h-6.3zM243 98.5h42.4v2.3h-42.4zM324.3 98.5h69.5v2.3h-69.5zM438.6 98.5h9.3v2.3h-9.3zM243 100.5h48.4v2.3h-48.4zM324.3 100.5h66.5v2.3h-66.5zM249.1 102.6h51.4v2.3h-51.4zM324.3 102.6h33.4v2.3h-33.4zM249.1 104.6h51.4v2.3h-51.4zM324.3 104.6h30.4v2.3h-30.4zM258.1 106.6h48.4v2.3h-48.4zM318.2 106.6h33.4v2.3h-33.4zM264.1 108.6h33.4v2.3h-33.4zM309.2 108.6h15.3v2.3h-15.3zM327.3 108.6h21.4v2.3h-21.4zM267.1 110.6h27.4v2.3h-27.4zM330.3 110.6h15.3v2.3h-15.3zM50.5 112.6h6.3v2.3h-6.3zM270.1 112.6h21.4v2.3h-21.4zM333.3 112.6h3.3v2.3h-3.3zM50.5 114.6h6.3v2.3h-6.3zM50.5 116.6h6.3v2.3h-6.3zM50.5 118.6h6.3v2.3h-6.3zM50.5 120.6h6.3v2.3h-6.3zM50.5 122.6h6.3v2.3h-6.3zM140.8 122.6h15.3v2.3h-15.3zM50.5 124.6h6.3v2.3h-6.3zM116.7 124.6h39.4v2.3h-39.4zM50.5 126.6h6.3v2.3h-6.3zM110.7 126.6h45.4v2.3h-45.4zM50.5 128.6h6.3v2.3h-6.3zM107.7 128.6h48.4v2.3h-48.4zM50.5 130.6h6.3v2.3h-6.3zM104.7 130.6h51.4v2.3h-51.4zM50.5 132.6h6.3v2.3h-6.3zM95.6 132.6h60.5v2.3h-60.5zM50.5 134.6h6.3v2.3h-6.3zM92.6 134.6h63.5v2.3h-63.5zM89.6 136.6h66.5v2.3h-66.5zM80.6 138.6h78.5v2.3h-78.5zM80.6 140.6h78.5v2.3h-78.5zM80.6 142.6h78.5v2.3h-78.5zM71.6 144.6h87.5v2.3h-87.5zM68.5 146.6h90.6v2.3h-90.6zM65.5 148.6h93.6v2.3h-93.6zM50.5 150.6h108.6v2.3h-108.6zM50.5 152.6h108.6v2.3h-108.6z"/>
<path fill="#80e000" d="M173.8 32.5h6.3v2.3h-6.3zM182.9 32.5h6.3v2.3h-6.3zM173.8 34.5h6.3v2.3h-6.3zM182.9 34.5h6.3v2.3h-6.3zM68.5 36.5h3.3v2.3h-3.3zM161.8 36.5h6.3v2.3h-6.3zM182.9 36.5h6.3v2.3h-6.3zM80.6 38.5h3.3v2.3h-3.3zM158.8 38.5h3.3v2.3h-3.3zM179.9 38.5h6.3v2.3h-6.3zM83.6 40.5h3.3v2.3h-3.3zM155.8 40.5h3.3v2.3h-3.3zM86.6 42.5h3.3v2.3h-3.3zM149.8 42.5h6.3v2.3h-6.3zM92.6 44.5h6.3v2.3h-6.3zM143.8 44.5h3.3v2.3h-3.3zM179.9 44.5h12.3v2.3h-12.3zM577 44.5h6.3v2.3h-6.3zM98.6 46.5h12.3v2.3h-12.3zM140.8 46.5h3.3v2.3h-3.3zM179.9 46.5h12.3v2.3h-12.3zM567.9 46.5h3.3v2.3h-3.3zM110.7 48.5h6.3v2.3h-6.3zM137.7 48.5h3.3v2.3h-3.3zM191.9 48.5h3.3v2.3h-3.3zM564.9 48.5h3.3v2.3h-3.3zM113.7 50.5h24.4v2.3h-24.4zM191.9 50.5h3.3v2.3h-3.3zM116.7 52.5h18.4v2.3h-18.4zM191.9 52.5h3.3v2.3h-3.3zM194.9 54.5h3.3v2.3h-3.3zM558.9 54.5h3.3v2.3h-3.3zM194.9 56.5h3.3v2.3h-3.3zM555.9 56.5h3.3v2.3h-3.3zM194.9 58.5h3.3v2.3h-3.3zM555.9 58.5h3.3v2.3h-3.3zM194.9 60.5h3.3v2.3h-3.3zM552.9 60.5h3.3v2.3h-3.3zM194.9 62.5h3.3v2.3h-3.3zM507.8 62.5h3.3v2.3h-3.3zM519.8 62.5h3.3v2.3h-3.3zM552.9 62.5h3.3v2.3h-3.3zM194.9 64.5h6.3v2.3h-6.3zM507.8 64.5h3.3v2.3h-3.3zM549.9 64.5h3.3v2.3h-3.3zM197.9 66.5h3.3v2.3h-3.3zM549.9 66.5h3.3v2.3h-3.3zM200.9 70.5h3.3v2.3h-3.3zM546.9 70.5h3.3v2.3h-3.3zM200.9 72.5h3.3v2.3h-3.3zM504.8 72.5h3.3v2.3h-3.3zM543.9 72.5h3.3v2.3h-3.3zM200.9 74.5h3.3v2.3h-3.3zM501.8 74.5h3.3v2.3h-3.3zM540.9 74.5h3.3v2.3h-3.3zM200.9 76.5h6.3v2.3h-6.3zM501.8 76.5h3.3v2.3h-3.3zM537.9 76.5h3.3v2.3h-3.3zM203.9 78.5h3.3v2.3h-3.3zM498.7 78.5h3.3v2.3h-3.3zM525.8 78.5h6.3v2.3h-6.3zM203.9 80.5h3.3v2.3h-3.3zM495.7 80.5h3.3v2.3h-3.3zM203.9 82.5h3.3v2.3h-3.3zM489.7 82.5h6.3v2.3h-6.3zM203.9 84.5h3.3v2.3h-3.3zM486.7 84.5h6.3v2.3h-6.3zM206.9 86.5h6.3v2.3h-6.3zM483.7 86.5h6.3v2.3h-6.3zM522.8 86.5h3.3v2.3h-3.3zM209.9 88.5h6.3v2.3h-6.3zM483.7 88.5h3.3v2.3h-3.3zM209.9 90.5h6.3v2.3h-6.3zM480.7 90.5h3.3v2.3h-3.3zM212.9 92.5h6.3v2.3h-6.3zM477.7 92.5h3.3v2.3h-3.3zM567.9 92.5h12.3v2.3h-12.3zM216 94.5h6.3v2.3h-6.3zM474.7 94.5h3.3v2.3h-3.3zM567.9 94.5h24.4v2.3h-24.4zM219 96.5h6.3v2.3h-6.3zM471.7 96.5h3.3v2.3h-3.3zM219 98.5h6.3v2.3h-6.3zM468.7 98.5h3.3v2.3h-3.3zM580 98.5h3.3v2.3h-3.3zM222 100.5h6.3v2.3h-6.3zM462.6 100.5h6.3v2.3h-6.3zM567.9 100.5h12.3v2.3h-12.3zM456.6 102.6h3.3v2.3h-3.3zM228 104.6h3.3v2.3h-3.3zM228 106.6h3.3v2.3h-3.3zM396.5 106.6h15.3v2.3h-15.3zM453.6 106.6h3.3v2.3h-3.3zM228 108.6h3.3v2.3h-3.3zM393.4 108.6h6.3v2.3h-6.3zM408.5 108.6h6.3v2.3h-6.3zM161.8 110.6h3.3v2.3h-3.3zM228 110.6h6.3v2.3h-6.3zM390.4 110.6h6.3v2.3h-6.3zM411.5 110.6h3.3v2.3h-3.3zM231 112.6h3.3v2.3h-3.3zM360.4 112.6h30.4v2.3h-30.4zM414.5 112.6h18.4v2.3h-18.4zM435.6 112.6h18.4v2.3h-18.4zM158.8 114.6h3.3v2.3h-3.3zM234 114.6h3.3v2.3h-3.3zM354.3 114.6h6.3v2.3h-6.3zM426.5 114.6h15.3v2.3h-15.3zM134.7 116.6h12.3v2.3h-12.3zM237 116.6h3.3v2.3h-3.3zM348.3 116.6h6.3v2.3h-6.3zM240 118.6h12.3v2.3h-12.3zM255.1 118.6h9.3v2.3h-9.3zM342.3 118.6h6.3v2.3h-6.3zM125.7 120.6h3.3v2.3h-3.3zM267.1 120.6h3.3v2.3h-3.3zM336.3 120.6h6.3v2.3h-6.3zM119.7 122.6h3.3v2.3h-3.3zM270.1 122.6h6.3v2.3h-6.3zM306.2 122.6h30.4v2.3h-30.4zM101.6 124.6h3.3v2.3h-3.3zM276.1 124.6h3.3v2.3h-3.3zM300.2 124.6h6.3v2.3h-6.3zM95.6 128.6h3.3v2.3h-3.3zM86.6 130.6h3.3v2.3h-3.3zM56.5 136.6h3.3v2.3h-3.3zM164.8 138.6h3.3v2.3h-3.3zM543.9 138.6h6.3v2.3h-6.3zM552.9 138.6h3.3v2.3h-3.3zM59.5 140.6h3.3v2.3h-3.3zM65.5 140.6h3.3v2.3h-3.3zM540.9 140.6h6.3v2.3h-6.3zM552.9 140.6h3.3v2.3h-3.3zM540.9 142.6h6.3v2.3h-6.3zM552.9 142.6h3.3v2.3h-3.3zM170.8 144.6h3.3v2.3h-3.3zM537.9 144.6h3.3v2.3h-3.3zM552.9 144.6h6.3v2.3h-6.3zM173.8 146.6h3.3v2.3h-3.3zM459.6 146.6h3.3v2.3h-3.3zM537.9 146.6h3.3v2.3h-3.3zM552.9 146.6h3.3v2.3h-3.3zM459.6 148.6h3.3v2.3h-3.3zM540.9 148.6h15.3v2.3h-15.3zM179.9 150.6h3.3v2.3h-3.3zM540.9 150.6h12.3v2.3h-12.3zM200.9 152.6h3.3v2.3h-3.3zM200.9 154.6h6.3v2.3h-6.3zM414.5 154.6h3.3v2.3h-3.3zM203.9 156.6h6.3v2.3h-6.3zM411.5 156.6h9.3v2.3h-9.3zM209.9 158.6h3.3v2.3h-3.3zM402.5 158.6h3.3v2.3h-3.3zM417.5 158.6h6.3v2.3h-6.3zM179.9 160.6h6.3v2.3h-6.3zM209.9 160.6h6.3v2.3h-6.3zM402.5 160.6h18.3v2.3h-18.3zM173.8 162.6h39.4v2.3h-39.4zM405.5 162.6h3.3v2.3h-3.3z"/>
<path fill="#d0ff00" d="M179.9 32.5h3.3v2.3h-3.3zM179.9 34.5h3.3v2.3h-3.3zM50.5 36.5h18.3v2.3h-18.3zM167.8 36.5h15.3v2.3h-15.3zM74.6 38.5h6.3v2.3h-6.3zM176.8 38.5h3.3v2.3h-3.3zM80.6 40.5h3.3v2.3h-3.3zM83.6 42.5h3.3v2.3h-3.3zM155.8 42.5h3.3v2.3h-3.3zM89.6 44.5h3.3v2.3h-3.3zM146.8 44.5h6.3v2.3h-6.3zM583 44.5h9.3v2.3h-9.3zM95.6 46.5h3.3v2.3h-3.3zM143.8 46.5h3.3v2.3h-3.3zM570.9 46.5h6.3v2.3h-6.3zM101.6 48.5h9.3v2.3h-9.3zM140.8 48.5h3.3v2.3h-3.3zM179.9 48.5h12.3v2.3h-12.3zM107.7 50.5h6.3v2.3h-6.3zM137.7 50.5h3.3v2.3h-3.3zM179.9 50.5h12.3v2.3h-12.3zM564.9 50.5h3.3v2.3h-3.3zM110.7 52.5h6.3v2.3h-6.3zM134.7 52.5h6.3v2.3h-6.3zM561.9 52.5h3.3v2.3h-3.3zM110.7 54.5h27.4v2.3h-27.4zM191.9 54.5h3.3v2.3h-3.3zM113.7 56.5h18.3v2.3h-18.3zM191.9 56.5h3.3v2.3h-3.3zM558.9 56.5h3.3v2.3h-3.3zM116.7 58.5h12.3v2.3h-12.3zM191.9 58.5h3.3v2.3h-3.3zM513.8 58.5h3.3v2.3h-3.3zM558.9 58.5h3.3v2.3h-3.3zM191.9 60.5h3.3v2.3h-3.3zM510.8 60.5h3.3v2.3h-3.3zM516.8 60.5h3.3v2.3h-3.3zM555.9 60.5h3.3v2.3h-3.3zM191.9 62.5h3.3v2.3h-3.3zM555.9 62.5h3.3v2.3h-3.3zM191.9 64.5h3.3v2.3h-3.3zM519.8 64.5h3.3v2.3h-3.3zM552.9 64.5h3.3v2.3h-3.3zM191.9 66.5h6.3v2.3h-6.3zM507.8 66.5h3.3v2.3h-3.3zM519.8 66.5h3.3v2.3h-3.3zM194.9 68.5h6.3v2.3h-6.3zM519.8 68.5h3.3v2.3h-3.3zM549.9 68.5h3.3v2.3h-3.3zM194.9 70.5h6.3v2.3h-6.3zM519.8 70.5h3.3v2.3h-3.3zM549.9 70.5h3.3v2.3h-3.3zM197.9 72.5h3.3v2.3h-3.3zM546.9 72.5h3.3v2.3h-3.3zM197.9 74.5h3.3v2.3h-3.3zM504.8 74.5h3.3v2.3h-3.3zM543.9 74.5h3.3v2.3h-3.3zM197.9 76.5h3.3v2.3h-3.3zM540.9 76.5h3.3v2.3h-3.3zM197.9 78.5h6.3v2.3h-6.3zM531.8 78.5h3.3v2.3h-3.3zM200.9 80.5h3.3v2.3h-3.3zM525.8 80.5h3.3v2.3h-3.3zM200.9 82.5h3.3v2.3h-3.3zM495.7 82.5h3.3v2.3h-3.3zM200.9 84.5h3.3v2.3h-3.3zM492.7 84.5h3.3v2.3h-3.3zM200.9 86.5h6.3v2.3h-6.3zM489.7 86.5h3.3v2.3h-3.3zM203.9 88.5h6.3v2.3h-6.3zM486.7 88.5h3.3v2.3h-3.3zM522.8 88.5h3.3v2.3h-3.3zM567.9 88.5h12.3v2.3h-12.3zM203.9 90.5h6.3v2.3h-6.3zM483.7 90.5h3.3v2.3h-3.3zM522.8 90.5h3.3v2.3h-3.3zM567.9 90.5h15.3v2.3h-15.3zM203.9 92.5h9.3v2.3h-9.3zM480.7 92.5h3.3v2.3h-3.3zM580 92.5h12.3v2.3h-12.3zM203.9 94.5h12.3v2.3h-12.3zM477.7 94.5h3.3v2.3h-3.3zM203.9 96.5h15.3v2.3h-15.3zM474.7 96.5h3.3v2.3h-3.3zM206.9 98.5h12.3v2.3h-12.3zM471.7 98.5h6.3v2.3h-6.3zM583 98.5h9.3v2.3h-9.3zM206.9 100.5h15.3v2.3h-15.3zM468.7 100.5h6.3v2.3h-6.3zM580 100.5h3.3v2.3h-3.3zM212.9 102.6h15.3v2.3h-15.3zM459.6 102.6h12.3v2.3h-12.3zM567.9 102.6h12.3v2.3h-12.3zM212.9 104.6h15.3v2.3h-15.3zM456.6 104.6h3.3v2.3h-3.3zM216 106.6h12.3v2.3h-12.3zM50.5 108.6h6.3v2.3h-6.3zM219 108.6h9.3v2.3h-9.3zM399.5 108.6h9.3v2.3h-9.3zM453.6 108.6h3.3v2.3h-3.3zM222 110.6h6.3v2.3h-6.3zM396.5 110.6h6.3v2.3h-6.3zM408.5 110.6h3.3v2.3h-3.3zM225 112.6h6.3v2.3h-6.3zM390.4 112.6h3.3v2.3h-3.3zM411.5 112.6h3.3v2.3h-3.3zM228 114.6h6.3v2.3h-6.3zM360.4 114.6h30.4v2.3h-30.4zM414.5 114.6h12.3v2.3h-12.3zM441.6 114.6h12.3v2.3h-12.3zM228 116.6h9.3v2.3h-9.3zM354.3 116.6h36.4v2.3h-36.4zM414.5 116.6h39.4v2.3h-39.4zM128.7 118.6h3.3v2.3h-3.3zM234 118.6h6.3v2.3h-6.3zM252.1 118.6h3.3v2.3h-3.3zM348.3 118.6h3.3v2.3h-3.3zM432.6 118.6h3.3v2.3h-3.3zM240 120.6h6.3v2.3h-6.3zM264.1 120.6h3.3v2.3h-3.3zM342.3 120.6h3.3v2.3h-3.3zM113.7 122.6h6.3v2.3h-6.3zM336.3 122.6h3.3v2.3h-3.3zM98.6 124.6h3.3v2.3h-3.3zM273.1 124.6h3.3v2.3h-3.3zM306.2 124.6h15.3v2.3h-15.3zM279.1 126.6h6.3v2.3h-6.3zM80.6 132.6h3.3v2.3h-3.3zM56.5 134.6h3.3v2.3h-3.3zM74.6 136.6h3.3v2.3h-3.3zM59.5 138.6h3.3v2.3h-3.3zM68.5 138.6h3.3v2.3h-3.3zM540.9 138.6h3.3v2.3h-3.3zM555.9 138.6h3.3v2.3h-3.3zM537.9 140.6h3.3v2.3h-3.3zM555.9 140.6h3.3v2.3h-3.3zM167.8 142.6h3.3v2.3h-3.3zM537.9 142.6h3.3v2.3h-3.3zM555.9 142.6h6.3v2.3h-6.3zM534.8 144.6h3.3v2.3h-3.3zM558.9 144.6h3.3v2.3h-3.3zM534.8 146.6h3.3v2.3h-3.3zM555.9 146.6h6.3v2.3h-6.3zM176.8 148.6h3.3v2.3h-3.3zM534.8 148.6h6.3v2.3h-6.3zM555.9 148.6h6.3v2.3h-6.3zM182.9 150.6h3.3v2.3h-3.3zM459.6 150.6h3.3v2.3h-3.3zM534.8 150.6h6.3v2.3h-6.3zM552.9 150.6h6.3v2.3h-6.3zM203.9 152.6h3.3v2.3h-3.3zM414.5 152.6h15.3v2.3h-15.3zM537.9 152.6h18.3v2.3h-18.3zM564.9 152.6h6.3v2.3h-6.3zM206.9 154.6h3.3v2.3h-3.3zM411.5 154.6h3.3v2.3h-3.3zM417.5 154.6h15.3v2.3h-15.3zM537.9 154.6h15.3v2.3h-15.3zM209.9 156.6h3.3v2.3h-3.3zM405.5 156.6h6.3v2.3h-6.3zM420.5 156.6h15.3v2.3h-15.3zM522.8 156.6h15.3v2.3h-15.3zM212.9 158.6h3.3v2.3h-3.3zM399.5 158.6h3.3v2.3h-3.3zM423.5 158.6h15.3v2.3h-15.3zM522.8 158.6h15.3v2.3h-15.3zM216 160.6h6.3v2.3h-6.3zM393.4 160.6h9.3v2.3h-9.3zM420.5 160.6h12.3v2.3h-12.3zM525.8 160.6h9.3v2.3h-9.3zM212.9 162.6h9.3v2.3h-9.3zM396.5 162.6h9.3v2.3h-9.3zM408.5 162.6h18.4v2.3h-18.4zM531.8 162.6h3.3v2.3h-3.3zM50.5 164.6h171.8v2.3h-171.8zM402.5 164.6h6.3v2.3h-6.3zM185.9 166.6h36.4v2.3h-36.4zM185.9 168.6h36.4v2.3h-36.4z"/>
<path fill="#4a2ce8" d="M231 32.5h63.5v2.3h-63.5zM471.7 32.5h6.3v2.3h-6.3zM231 34.5h63.5v2.3h-63.5zM471.7 34.5h6.3v2.3h-6.3zM231 36.5h63.5v2.3h-63.5zM465.6 36.5h9.3v2.3h-9.3zM231 38.5h63.5v2.3h-63.5zM393.4 38.5h18.4v2.3h-18.4zM462.6 38.5h6.3v2.3h-6.3zM231 40.5h63.5v2.3h-63.5zM390.4 40.5h6.3v2.3h-6.3zM408.5 40.5h6.3v2.3h-6.3zM462.6 40.5h3.3v2.3h-3.3zM231 42.5h63.5v2.3h-63.5zM390.4 42.5h6.3v2.3h-6.3zM408.5 42.5h6.3v2.3h-6.3zM462.6 42.5h3.3v2.3h-3.3zM231 44.5h63.5v2.3h-63.5zM390.4 44.5h6.3v2.3h-6.3zM408.5 44.5h6.3v2.3h-6.3zM462.6 44.5h3.3v2.3h-3.3zM231 46.5h63.5v2.3h-63.5zM390.4 46.5h6.3v2.3h-6.3zM408.5 46.5h6.3v2.3h-6.3zM462.6 46.5h3.3v2.3h-3.3zM231 48.5h63.5v2.3h-63.5zM390.4 48.5h6.3v2.3h-6.3zM408.5 48.5h6.3v2.3h-6.3zM462.6 48.5h3.3v2.3h-3.3zM234 50.5h60.5v2.3h-60.5zM390.4 50.5h6.3v2.3h-6.3zM408.5 50.5h6.3v2.3h-6.3zM462.6 50.5h3.3v2.3h-3.3zM237 52.5h57.5v2.3h-57.5zM393.4 52.5h6.3v2.3h-6.3zM411.5 52.5h6.3v2.3h-6.3zM450.6 52.5h3.3v2.3h-3.3zM462.6 52.5h3.3v2.3h-3.3zM240 54.5h54.5v2.3h-54.5zM393.4 54.5h9.3v2.3h-9.3zM411.5 54.5h9.3v2.3h-9.3zM447.6 54.5h9.3v2.3h-9.3zM462.6 54.5h3.3v2.3h-3.3zM240 56.5h54.5v2.3h-54.5zM393.4 56.5h9.3v2.3h-9.3zM411.5 56.5h9.3v2.3h-9.3zM447.6 56.5h9.3v2.3h-9.3zM462.6 56.5h6.3v2.3h-6.3zM240 58.5h54.5v2.3h-54.5zM393.4 58.5h9.3v2.3h-9.3zM411.5 58.5h9.3v2.3h-9.3zM447.6 58.5h9.3v2.3h-9.3zM462.6 58.5h6.3v2.3h-6.3zM240 60.5h54.5v2.3h-54.5zM393.4 60.5h9.3v2.3h-9.3zM411.5 60.5h9.3v2.3h-9.3zM432.6 60.5h3.3v2.3h-3.3zM447.6 60.5h9.3v2.3h-9.3zM462.6 60.5h6.3v2.3h-6.3zM240 62.5h54.5v2.3h-54.5zM393.4 62.5h9.3v2.3h-9.3zM411.5 62.5h9.3v2.3h-9.3zM429.6 62.5h9.3v2.3h-9.3zM447.6 62.5h9.3v2.3h-9.3zM462.6 62.5h6.3v2.3h-6.3zM240 64.5h54.5v2.3h-54.5zM393.4 64.5h9.3v2.3h-9.3zM411.5 64.5h12.3v2.3h-12.3zM429.6 64.5h9.3v2.3h-9.3zM444.6 64.5h12.3v2.3h-12.3zM462.6 64.5h6.3v2.3h-6.3zM240 66.5h54.5v2.3h-54.5zM393.4 66.5h9.3v2.3h-9.3zM411.5 66.5h18.4v2.3h-18.4zM438.6 66.5h18.4v2.3h-18.4zM462.6 66.5h6.3v2.3h-6.3zM240 68.5h54.5v2.3h-54.5zM393.4 68.5h9.3v2.3h-9.3zM411.5 68.5h18.4v2.3h-18.4zM438.6 68.5h18.4v2.3h-18.4zM462.6 68.5h6.3v2.3h-6.3zM240 70.5h54.5v2.3h-54.5zM393.4 70.5h9.3v2.3h-9.3zM414.5 70.5h15.3v2.3h-15.3zM438.6 70.5h18.4v2.3h-18.4zM462.6 70.5h6.3v2.3h-6.3zM243 72.5h51.4v2.3h-51.4zM390.4 72.5h9.3v2.3h-9.3zM420.5 72.5h12.3v2.3h-12.3zM435.6 72.5h21.4v2.3h-21.4zM462.6 72.5h6.3v2.3h-6.3zM246 74.5h48.4v2.3h-48.4zM387.4 74.5h9.3v2.3h-9.3zM420.5 74.5h36.4v2.3h-36.4zM462.6 74.5h6.3v2.3h-6.3zM249.1 76.5h45.4v2.3h-45.4zM384.4 76.5h9.3v2.3h-9.3zM423.5 76.5h33.4v2.3h-33.4zM462.6 76.5h6.3v2.3h-6.3zM249.1 78.5h45.4v2.3h-45.4zM384.4 78.5h12.3v2.3h-12.3zM429.6 78.5h36.4v2.3h-36.4zM249.1 80.5h45.4v2.3h-45.4zM384.4 80.5h15.3v2.3h-15.3zM432.6 80.5h33.4v2.3h-33.4zM249.1 82.5h45.4v2.3h-45.4zM384.4 82.5h15.3v2.3h-15.3zM432.6 82.5h24.4v2.3h-24.4zM249.1 84.5h45.4v2.3h-45.4zM384.4 84.5h15.3v2.3h-15.3zM432.6 84.5h9.3v2.3h-9.3zM444.6 84.5h12.3v2.3h-12.3zM252.1 86.5h42.4v2.3h-42.4zM381.4 86.5h18.3v2.3h-18.3zM432.6 86.5h6.3v2.3h-6.3zM447.6 86.5h9.3v2.3h-9.3zM258.1 88.5h36.4v2.3h-36.4zM348.3 88.5h9.3v2.3h-9.3zM375.4 88.5h18.4v2.3h-18.4zM432.6 88.5h3.3v2.3h-3.3zM450.6 88.5h3.3v2.3h-3.3zM258.1 90.5h36.4v2.3h-36.4zM348.3 90.5h9.3v2.3h-9.3zM375.4 90.5h18.4v2.3h-18.4zM432.6 90.5h3.3v2.3h-3.3zM450.6 90.5h3.3v2.3h-3.3zM261.1 92.5h33.4v2.3h-33.4zM324.3 92.5h36.4v2.3h-36.4zM372.4 92.5h18.4v2.3h-18.4zM282.1 94.5h12.3v2.3h-12.3zM321.2 94.5h27.4v2.3h-27.4zM354.3 94.5h24.4v2.3h-24.4zM285.1 96.5h9.3v2.3h-9.3zM318.2 96.5h6.3v2.3h-6.3zM357.4 96.5h18.3v2.3h-18.3zM441.6 96.5h3.3v2.3h-3.3zM285.1 98.5h12.3v2.3h-12.3zM318.2 98.5h6.3v2.3h-6.3zM291.2 100.5h12.3v2.3h-12.3zM318.2 100.5h6.3v2.3h-6.3zM300.2 102.6h6.3v2.3h-6.3zM318.2 102.6h6.3v2.3h-6.3zM300.2 104.6h6.3v2.3h-6.3zM318.2 104.6h6.3v2.3h-6.3zM306.2 106.6h12.3v2.3h-12.3z"/>
<path fill="#6428e0" d="M294.2 32.5h177.8v2.3h-177.8zM294.2 34.5h177.8v2.3h-177.8zM294.2 36.5h171.8v2.3h-171.8zM294.2 38.5h99.6v2.3h-99.6zM411.5 38.5h51.4v2.3h-51.4zM294.2 40.5h96.6v2.3h-96.6zM414.5 40.5h48.4v2.3h-48.4zM294.2 42.5h96.6v2.3h-96.6zM414.5 42.5h48.4v2.3h-48.4zM294.2 44.5h96.6v2.3h-96.6zM414.5 44.5h48.4v2.3h-48.4zM294.2 46.5h96.6v2.3h-96.6zM414.5 46.5h48.4v2.3h-48.4zM294.2 48.5h96.6v2.3h-96.6zM414.5 48.5h48.4v2.3h-48.4zM294.2 50.5h96.6v2.3h-96.6zM414.5 50.5h48.4v2.3h-48.4zM294.2 52.5h99.6v2.3h-99.6zM417.5 52.5h33.4v2.3h-33.4zM453.6 52.5h9.3v2.3h-9.3zM294.2 54.5h99.6v2.3h-99.6zM420.5 54.5h27.4v2.3h-27.4zM456.6 54.5h6.3v2.3h-6.3zM294.2 56.5h99.6v2.3h-99.6zM420.5 56.5h27.4v2.3h-27.4zM456.6 56.5h6.3v2.3h-6.3zM294.2 58.5h99.6v2.3h-99.6zM420.5 58.5h27.4v2.3h-27.4zM456.6 58.5h6.3v2.3h-6.3zM294.2 60.5h99.6v2.3h-99.6zM420.5 60.5h12.3v2.3h-12.3zM435.6 60.5h12.3v2.3h-12.3zM456.6 60.5h6.3v2.3h-6.3zM294.2 62.5h99.6v2.3h-99.6zM420.5 62.5h9.3v2.3h-9.3zM438.6 62.5h9.3v2.3h-9.3zM456.6 62.5h6.3v2.3h-6.3zM294.2 64.5h99.6v2.3h-99.6zM423.5 64.5h6.3v2.3h-6.3zM438.6 64.5h6.3v2.3h-6.3zM456.6 64.5h6.3v2.3h-6.3zM294.2 66.5h99.6v2.3h-99.6zM429.6 66.5h9.3v2.3h-9.3zM456.6 66.5h6.3v2.3h-6.3zM294.2 68.5h99.6v2.3h-99.6zM429.6 68.5h9.3v2.3h-9.3zM456.6 68.5h6.3v2.3h-6.3zM294.2 70.5h99.6v2.3h-99.6zM429.6 70.5h9.3v2.3h-9.3zM456.6 70.5h6.3v2.3h-6.3zM294.2 72.5h96.6v2.3h-96.6zM432.6 72.5h3.3v2.3h-3.3zM456.6 72.5h6.3v2.3h-6.3zM294.2 74.5h93.6v2.3h-93.6zM456.6 74.5h6.3v2.3h-6.3zM294.2 76.5h90.5v2.3h-90.5zM456.6 76.5h6.3v2.3h-6.3zM294.2 78.5h90.5v2.3h-90.5zM294.2 80.5h90.5v2.3h-90.5zM294.2 82.5h90.5v2.3h-90.5zM294.2 84.5h90.5v2.3h-90.5zM294.2 86.5h87.5v2.3h-87.5zM294.2 88.5h54.4v2.3h-54.4zM357.4 88.5h18.3v2.3h-18.3zM294.2 90.5h54.4v2.3h-54.4zM357.4 90.5h18.3v2.3h-18.3zM294.2 92.5h30.4v2.3h-30.4zM360.4 92.5h12.3v2.3h-12.3zM294.2 94.5h27.4v2.3h-27.4zM294.2 96.5h24.4v2.3h-24.4zM297.2 98.5h21.4v2.3h-21.4zM303.2 100.5h15.3v2.3h-15.3zM306.2 102.6h12.3v2.3h-12.3zM306.2 104.6h12.3v2.3h-12.3z"/>
<path fill="#ffd000" d="M50.5 38.5h9.3v2.3h-9.3zM65.5 38.5h6.3v2.3h-6.3zM167.8 38.5h3.3v2.3h-3.3zM173.8 38.5h3.3v2.3h-3.3zM161.8 40.5h3.3v2.3h-3.3zM77.6 42.5h3.3v2.3h-3.3zM158.8 42.5h3.3v2.3h-3.3zM176.8 42.5h3.3v2.3h-3.3zM80.6 44.5h6.3v2.3h-6.3zM86.6 46.5h3.3v2.3h-3.3zM149.8 46.5h3.3v2.3h-3.3zM92.6 48.5h3.3v2.3h-3.3zM146.8 48.5h3.3v2.3h-3.3zM574 48.5h3.3v2.3h-3.3zM92.6 50.5h6.3v2.3h-6.3zM143.8 50.5h3.3v2.3h-3.3zM567.9 50.5h3.3v2.3h-3.3zM92.6 52.5h6.3v2.3h-6.3zM143.8 52.5h3.3v2.3h-3.3zM564.9 52.5h3.3v2.3h-3.3zM92.6 54.5h6.3v2.3h-6.3zM140.8 54.5h3.3v2.3h-3.3zM95.6 56.5h3.3v2.3h-3.3zM137.7 56.5h6.3v2.3h-6.3zM561.9 56.5h3.3v2.3h-3.3zM98.6 58.5h6.3v2.3h-6.3zM137.7 58.5h6.3v2.3h-6.3zM179.9 58.5h6.3v2.3h-6.3zM98.6 60.5h6.3v2.3h-6.3zM137.7 60.5h6.3v2.3h-6.3zM179.9 60.5h6.3v2.3h-6.3zM101.6 62.5h6.3v2.3h-6.3zM137.7 62.5h6.3v2.3h-6.3zM182.9 62.5h6.3v2.3h-6.3zM510.8 62.5h3.3v2.3h-3.3zM101.6 64.5h6.3v2.3h-6.3zM137.7 64.5h3.3v2.3h-3.3zM182.9 64.5h6.3v2.3h-6.3zM558.9 64.5h3.3v2.3h-3.3zM101.6 66.5h6.3v2.3h-6.3zM137.7 66.5h3.3v2.3h-3.3zM182.9 66.5h6.3v2.3h-6.3zM555.9 66.5h3.3v2.3h-3.3zM101.6 68.5h6.3v2.3h-6.3zM182.9 68.5h6.3v2.3h-6.3zM552.9 68.5h3.3v2.3h-3.3zM104.7 70.5h3.3v2.3h-3.3zM185.9 70.5h3.3v2.3h-3.3zM507.8 70.5h3.3v2.3h-3.3zM552.9 70.5h3.3v2.3h-3.3zM107.7 72.5h6.3v2.3h-6.3zM131.7 72.5h6.3v2.3h-6.3zM188.9 72.5h3.3v2.3h-3.3zM507.8 72.5h3.3v2.3h-3.3zM577 72.5h3.3v2.3h-3.3zM107.7 74.5h6.3v2.3h-6.3zM131.7 74.5h6.3v2.3h-6.3zM188.9 74.5h6.3v2.3h-6.3zM549.9 74.5h3.3v2.3h-3.3zM574 74.5h6.3v2.3h-6.3zM110.7 76.5h6.3v2.3h-6.3zM128.7 76.5h6.3v2.3h-6.3zM191.9 76.5h3.3v2.3h-3.3zM546.9 76.5h3.3v2.3h-3.3zM570.9 76.5h6.3v2.3h-6.3zM191.9 78.5h3.3v2.3h-3.3zM519.8 78.5h3.3v2.3h-3.3zM567.9 78.5h6.3v2.3h-6.3zM580 78.5h3.3v2.3h-3.3zM191.9 80.5h3.3v2.3h-3.3zM519.8 80.5h3.3v2.3h-3.3zM567.9 80.5h6.3v2.3h-6.3zM580 80.5h3.3v2.3h-3.3zM191.9 82.5h6.3v2.3h-6.3zM580 82.5h3.3v2.3h-3.3zM191.9 84.5h6.3v2.3h-6.3zM525.8 84.5h3.3v2.3h-3.3zM583 84.5h3.3v2.3h-3.3zM191.9 86.5h6.3v2.3h-6.3zM495.7 86.5h3.3v2.3h-3.3zM583 86.5h9.3v2.3h-9.3zM191.9 88.5h6.3v2.3h-6.3zM492.7 88.5h3.3v2.3h-3.3zM191.9 90.5h6.3v2.3h-6.3zM489.7 90.5h6.3v2.3h-6.3zM194.9 92.5h3.3v2.3h-3.3zM486.7 92.5h6.3v2.3h-6.3zM194.9 94.5h3.3v2.3h-3.3zM486.7 94.5h3.3v2.3h-3.3zM522.8 94.5h3.3v2.3h-3.3zM483.7 96.5h3.3v2.3h-3.3zM480.7 98.5h3.3v2.3h-3.3zM197.9 100.5h6.3v2.3h-6.3zM477.7 100.5h3.3v2.3h-3.3zM583 100.5h3.3v2.3h-3.3zM200.9 102.6h3.3v2.3h-3.3zM474.7 102.6h3.3v2.3h-3.3zM580 102.6h3.3v2.3h-3.3zM203.9 104.6h3.3v2.3h-3.3zM459.6 104.6h3.3v2.3h-3.3zM471.7 104.6h3.3v2.3h-3.3zM206.9 106.6h3.3v2.3h-3.3zM465.6 106.6h6.3v2.3h-6.3zM206.9 108.6h6.3v2.3h-6.3zM468.7 108.6h3.3v2.3h-3.3zM209.9 110.6h6.3v2.3h-6.3zM56.5 112.6h3.3v2.3h-3.3zM216 112.6h6.3v2.3h-6.3zM399.5 112.6h3.3v2.3h-3.3zM408.5 112.6h3.3v2.3h-3.3zM453.6 112.6h3.3v2.3h-3.3zM56.5 114.6h3.3v2.3h-3.3zM222 114.6h3.3v2.3h-3.3zM393.4 114.6h3.3v2.3h-3.3zM411.5 114.6h3.3v2.3h-3.3zM56.5 116.6h3.3v2.3h-3.3zM222 116.6h3.3v2.3h-3.3zM390.4 116.6h3.3v2.3h-3.3zM56.5 118.6h3.3v2.3h-3.3zM125.7 118.6h3.3v2.3h-3.3zM164.8 118.6h3.3v2.3h-3.3zM225 118.6h3.3v2.3h-3.3zM360.4 118.6h30.4v2.3h-30.4zM414.5 118.6h12.3v2.3h-12.3zM441.6 118.6h12.3v2.3h-12.3zM56.5 120.6h3.3v2.3h-3.3zM164.8 120.6h3.3v2.3h-3.3zM228 120.6h6.3v2.3h-6.3zM249.1 120.6h3.3v2.3h-3.3zM258.1 120.6h3.3v2.3h-3.3zM348.3 120.6h3.3v2.3h-3.3zM429.6 120.6h3.3v2.3h-3.3zM435.6 120.6h6.3v2.3h-6.3zM56.5 122.6h3.3v2.3h-3.3zM104.7 122.6h3.3v2.3h-3.3zM164.8 122.6h3.3v2.3h-3.3zM234 122.6h9.3v2.3h-9.3zM264.1 122.6h3.3v2.3h-3.3zM432.6 122.6h3.3v2.3h-3.3zM56.5 124.6h3.3v2.3h-3.3zM164.8 124.6h3.3v2.3h-3.3zM336.3 124.6h6.3v2.3h-6.3zM56.5 126.6h3.3v2.3h-3.3zM303.2 126.6h6.3v2.3h-6.3zM279.1 128.6h3.3v2.3h-3.3zM164.8 134.6h3.3v2.3h-3.3zM59.5 136.6h3.3v2.3h-3.3zM71.6 136.6h3.3v2.3h-3.3zM534.8 138.6h3.3v2.3h-3.3zM167.8 140.6h3.3v2.3h-3.3zM462.6 140.6h3.3v2.3h-3.3zM531.8 140.6h3.3v2.3h-3.3zM170.8 142.6h3.3v2.3h-3.3zM462.6 142.6h3.3v2.3h-3.3zM531.8 142.6h3.3v2.3h-3.3zM176.8 144.6h3.3v2.3h-3.3zM528.8 144.6h3.3v2.3h-3.3zM179.9 146.6h3.3v2.3h-3.3zM525.8 146.6h6.3v2.3h-6.3zM182.9 148.6h3.3v2.3h-3.3zM522.8 148.6h6.3v2.3h-6.3zM561.9 148.6h3.3v2.3h-3.3zM188.9 150.6h6.3v2.3h-6.3zM462.6 150.6h3.3v2.3h-3.3zM513.8 150.6h12.3v2.3h-12.3zM561.9 150.6h6.3v2.3h-6.3zM345.3 152.6h6.3v2.3h-6.3zM354.3 152.6h6.3v2.3h-6.3zM363.4 152.6h6.3v2.3h-6.3zM408.5 152.6h3.3v2.3h-3.3zM435.6 152.6h6.3v2.3h-6.3zM462.6 152.6h6.3v2.3h-6.3zM507.8 152.6h6.3v2.3h-6.3zM570.9 152.6h3.3v2.3h-3.3zM209.9 154.6h3.3v2.3h-3.3zM315.2 154.6h3.3v2.3h-3.3zM333.3 154.6h15.3v2.3h-15.3zM357.4 154.6h9.3v2.3h-9.3zM372.4 154.6h3.3v2.3h-3.3zM438.6 154.6h6.3v2.3h-6.3zM456.6 154.6h3.3v2.3h-3.3zM462.6 154.6h6.3v2.3h-6.3zM495.7 154.6h3.3v2.3h-3.3zM510.8 154.6h6.3v2.3h-6.3zM558.9 154.6h3.3v2.3h-3.3zM570.9 154.6h3.3v2.3h-3.3zM212.9 156.6h3.3v2.3h-3.3zM312.2 156.6h9.3v2.3h-9.3zM330.3 156.6h18.4v2.3h-18.4zM357.4 156.6h9.3v2.3h-9.3zM372.4 156.6h6.3v2.3h-6.3zM441.6 156.6h6.3v2.3h-6.3zM453.6 156.6h6.3v2.3h-6.3zM462.6 156.6h6.3v2.3h-6.3zM486.7 156.6h15.3v2.3h-15.3zM510.8 156.6h9.3v2.3h-9.3zM555.9 156.6h15.3v2.3h-15.3zM222 158.6h6.3v2.3h-6.3zM288.2 158.6h18.4v2.3h-18.4zM381.4 158.6h15.3v2.3h-15.3zM462.6 158.6h6.3v2.3h-6.3zM480.7 158.6h3.3v2.3h-3.3zM498.7 158.6h6.3v2.3h-6.3zM516.8 158.6h3.3v2.3h-3.3zM552.9 158.6h6.3v2.3h-6.3zM228 160.6h6.3v2.3h-6.3zM282.1 160.6h6.3v2.3h-6.3zM462.6 160.6h6.3v2.3h-6.3zM480.7 160.6h3.3v2.3h-3.3zM498.7 160.6h6.3v2.3h-6.3zM516.8 160.6h3.3v2.3h-3.3zM552.9 160.6h6.3v2.3h-6.3zM231 162.6h6.3v2.3h-6.3zM279.1 162.6h6.3v2.3h-6.3zM339.3 162.6h9.3v2.3h-9.3zM357.4 162.6h9.3v2.3h-9.3zM447.6 162.6h27.4v2.3h-27.4zM480.7 162.6h6.3v2.3h-6.3zM498.7 162.6h6.3v2.3h-6.3zM510.8 162.6h12.3v2.3h-12.3zM540.9 162.6h15.3v2.3h-15.3zM237 164.6h9.3v2.3h-9.3zM336.3 164.6h6.3v2.3h-6.3zM345.3 164.6h6.3v2.3h-6.3zM354.3 164.6h6.3v2.3h-6.3zM363.4 164.6h6.3v2.3h-6.3zM414.5 164.6h6.3v2.3h-6.3zM429.6 164.6h9.3v2.3h-9.3zM444.6 164.6h6.3v2.3h-6.3zM462.6 164.6h6.3v2.3h-6.3zM471.7 164.6h6.3v2.3h-6.3zM486.7 164.6h6.3v2.3h-6.3zM498.7 164.6h6.3v2.3h-6.3zM507.8 164.6h6.3v2.3h-6.3zM516.8 164.6h12.3v2.3h-12.3zM537.9 164.6h3.3v2.3h-3.3zM246 166.6h6.3v2.3h-6.3zM273.1 166.6h6.3v2.3h-6.3zM336.3 166.6h6.3v2.3h-6.3zM345.3 166.6h6.3v2.3h-6.3zM354.3 166.6h6.3v2.3h-6.3zM363.4 166.6h6.3v2.3h-6.3zM408.5 166.6h6.3v2.3h-6.3zM417.5 166.6h6.3v2.3h-6.3zM426.5 166.6h6.3v2.3h-6.3zM435.6 166.6h6.3v2.3h-6.3zM444.6 166.6h6.3v2.3h-6.3zM462.6 166.6h6.3v2.3h-6.3zM471.7 166.6h6.3v2.3h-6.3zM489.7 166.6h6.3v2.3h-6.3zM498.7 166.6h6.3v2.3h-6.3zM507.8 166.6h6.3v2.3h-6.3zM516.8 166.6h6.3v2.3h-6.3zM525.8 166.6h6.3v2.3h-6.3zM534.8 166.6h6.3v2.3h-6.3zM246 168.6h6.3v2.3h-6.3zM273.1 168.6h6.3v2.3h-6.3zM336.3 168.6h6.3v2.3h-6.3zM345.3 168.6h6.3v2.3h-6.3zM354.3 168.6h6.3v2.3h-6.3zM363.4 168.6h6.3v2.3h-6.3zM408.5 168.6h6.3v2.3h-6.3zM417.5 168.6h6.3v2.3h-6.3zM426.5 168.6h6.3v2.3h-6.3zM435.6 168.6h6.3v2.3h-6.3zM444.6 168.6h6.3v2.3h-6.3zM462.6 168.6h6.3v2.3h-6.3zM471.7 168.6h6.3v2.3h-6.3zM489.7 168.6h6.3v2.3h-6.3zM498.7 168.6h6.3v2.3h-6.3zM507.8 168.6h6.3v2.3h-6.3zM516.8 168.6h6.3v2.3h-6.3zM525.8 168.6h6.3v2.3h-6.3zM534.8 168.6h6.3v2.3h-6.3z"/>
<path fill="#ffb400" d="M59.5 38.5h6.3v2.3h-6.3zM170.8 38.5h3.3v2.3h-3.3zM74.6 40.5h3.3v2.3h-3.3zM164.8 40.5h3.3v2.3h-3.3zM155.8 44.5h3.3v2.3h-3.3zM176.8 44.5h3.3v2.3h-3.3zM83.6 46.5h3.3v2.3h-3.3zM152.8 46.5h3.3v2.3h-3.3zM86.6 48.5h6.3v2.3h-6.3zM577 48.5h15.3v2.3h-15.3zM86.6 50.5h6.3v2.3h-6.3zM146.8 50.5h3.3v2.3h-3.3zM570.9 50.5h3.3v2.3h-3.3zM586 50.5h3.3v2.3h-3.3zM86.6 52.5h6.3v2.3h-6.3zM146.8 52.5h3.3v2.3h-3.3zM567.9 52.5h3.3v2.3h-3.3zM86.6 54.5h6.3v2.3h-6.3zM143.8 54.5h3.3v2.3h-3.3zM564.9 54.5h3.3v2.3h-3.3zM86.6 56.5h9.3v2.3h-9.3zM143.8 56.5h3.3v2.3h-3.3zM92.6 58.5h6.3v2.3h-6.3zM143.8 58.5h3.3v2.3h-3.3zM561.9 58.5h3.3v2.3h-3.3zM95.6 60.5h3.3v2.3h-3.3zM143.8 60.5h3.3v2.3h-3.3zM513.8 60.5h3.3v2.3h-3.3zM561.9 60.5h3.3v2.3h-3.3zM98.6 62.5h3.3v2.3h-3.3zM143.8 62.5h3.3v2.3h-3.3zM179.9 62.5h3.3v2.3h-3.3zM516.8 62.5h3.3v2.3h-3.3zM561.9 62.5h3.3v2.3h-3.3zM98.6 64.5h3.3v2.3h-3.3zM140.8 64.5h6.3v2.3h-6.3zM179.9 64.5h3.3v2.3h-3.3zM510.8 64.5h3.3v2.3h-3.3zM516.8 64.5h3.3v2.3h-3.3zM98.6 66.5h3.3v2.3h-3.3zM179.9 66.5h3.3v2.3h-3.3zM98.6 68.5h3.3v2.3h-3.3zM137.7 68.5h3.3v2.3h-3.3zM179.9 68.5h3.3v2.3h-3.3zM577 68.5h3.3v2.3h-3.3zM101.6 70.5h3.3v2.3h-3.3zM137.7 70.5h3.3v2.3h-3.3zM179.9 70.5h6.3v2.3h-6.3zM577 70.5h3.3v2.3h-3.3zM104.7 72.5h3.3v2.3h-3.3zM182.9 72.5h6.3v2.3h-6.3zM552.9 72.5h3.3v2.3h-3.3zM574 72.5h3.3v2.3h-3.3zM104.7 74.5h3.3v2.3h-3.3zM507.8 74.5h3.3v2.3h-3.3zM580 74.5h3.3v2.3h-3.3zM107.7 76.5h3.3v2.3h-3.3zM134.7 76.5h3.3v2.3h-3.3zM188.9 76.5h3.3v2.3h-3.3zM549.9 76.5h3.3v2.3h-3.3zM567.9 76.5h3.3v2.3h-3.3zM580 76.5h3.3v2.3h-3.3zM113.7 78.5h21.4v2.3h-21.4zM188.9 78.5h3.3v2.3h-3.3zM504.8 78.5h3.3v2.3h-3.3zM537.9 78.5h3.3v2.3h-3.3zM546.9 78.5h3.3v2.3h-3.3zM116.7 80.5h3.3v2.3h-3.3zM125.7 80.5h3.3v2.3h-3.3zM188.9 80.5h3.3v2.3h-3.3zM501.8 80.5h3.3v2.3h-3.3zM531.8 80.5h3.3v2.3h-3.3zM583 80.5h3.3v2.3h-3.3zM188.9 82.5h3.3v2.3h-3.3zM498.7 82.5h3.3v2.3h-3.3zM519.8 82.5h3.3v2.3h-3.3zM583 82.5h9.3v2.3h-9.3zM188.9 84.5h3.3v2.3h-3.3zM498.7 84.5h3.3v2.3h-3.3zM519.8 84.5h3.3v2.3h-3.3zM586 84.5h6.3v2.3h-6.3zM188.9 86.5h3.3v2.3h-3.3zM519.8 86.5h3.3v2.3h-3.3zM525.8 86.5h3.3v2.3h-3.3zM188.9 88.5h3.3v2.3h-3.3zM495.7 88.5h3.3v2.3h-3.3zM519.8 88.5h3.3v2.3h-3.3zM525.8 88.5h3.3v2.3h-3.3zM188.9 90.5h3.3v2.3h-3.3zM495.7 90.5h3.3v2.3h-3.3zM519.8 90.5h3.3v2.3h-3.3zM191.9 92.5h3.3v2.3h-3.3zM492.7 92.5h6.3v2.3h-6.3zM519.8 92.5h3.3v2.3h-3.3zM489.7 94.5h6.3v2.3h-6.3zM519.8 94.5h3.3v2.3h-3.3zM194.9 96.5h3.3v2.3h-3.3zM486.7 96.5h6.3v2.3h-6.3zM513.8 96.5h12.3v2.3h-12.3zM564.9 96.5h3.3v2.3h-3.3zM194.9 98.5h3.3v2.3h-3.3zM483.7 98.5h3.3v2.3h-3.3zM513.8 98.5h3.3v2.3h-3.3zM564.9 98.5h3.3v2.3h-3.3zM480.7 100.5h3.3v2.3h-3.3zM513.8 100.5h3.3v2.3h-3.3zM586 100.5h6.3v2.3h-6.3zM197.9 102.6h3.3v2.3h-3.3zM477.7 102.6h3.3v2.3h-3.3zM513.8 102.6h3.3v2.3h-3.3zM200.9 104.6h3.3v2.3h-3.3zM474.7 104.6h6.3v2.3h-6.3zM513.8 104.6h3.3v2.3h-3.3zM203.9 106.6h3.3v2.3h-3.3zM459.6 106.6h6.3v2.3h-6.3zM471.7 106.6h6.3v2.3h-6.3zM513.8 106.6h3.3v2.3h-3.3zM203.9 108.6h3.3v2.3h-3.3zM456.6 108.6h3.3v2.3h-3.3zM465.6 108.6h3.3v2.3h-3.3zM471.7 108.6h3.3v2.3h-3.3zM513.8 108.6h3.3v2.3h-3.3zM56.5 110.6h3.3v2.3h-3.3zM158.8 110.6h3.3v2.3h-3.3zM206.9 110.6h3.3v2.3h-3.3zM468.7 110.6h3.3v2.3h-3.3zM513.8 110.6h3.3v2.3h-3.3zM209.9 112.6h6.3v2.3h-6.3zM402.5 112.6h3.3v2.3h-3.3zM152.8 114.6h3.3v2.3h-3.3zM216 114.6h6.3v2.3h-6.3zM396.5 114.6h3.3v2.3h-3.3zM453.6 114.6h3.3v2.3h-3.3zM128.7 116.6h3.3v2.3h-3.3zM164.8 116.6h3.3v2.3h-3.3zM219 116.6h3.3v2.3h-3.3zM411.5 116.6h3.3v2.3h-3.3zM222 118.6h3.3v2.3h-3.3zM390.4 118.6h3.3v2.3h-3.3zM119.7 120.6h3.3v2.3h-3.3zM225 120.6h3.3v2.3h-3.3zM255.1 120.6h3.3v2.3h-3.3zM351.3 120.6h3.3v2.3h-3.3zM378.4 120.6h12.3v2.3h-12.3zM426.5 120.6h3.3v2.3h-3.3zM441.6 120.6h9.3v2.3h-9.3zM101.6 122.6h3.3v2.3h-3.3zM231 122.6h3.3v2.3h-3.3zM246 122.6h3.3v2.3h-3.3zM261.1 122.6h3.3v2.3h-3.3zM345.3 122.6h3.3v2.3h-3.3zM429.6 122.6h3.3v2.3h-3.3zM435.6 122.6h3.3v2.3h-3.3zM234 124.6h12.3v2.3h-12.3zM267.1 124.6h3.3v2.3h-3.3zM342.3 124.6h3.3v2.3h-3.3zM432.6 124.6h3.3v2.3h-3.3zM164.8 126.6h3.3v2.3h-3.3zM273.1 126.6h3.3v2.3h-3.3zM309.2 126.6h12.3v2.3h-12.3zM324.3 126.6h6.3v2.3h-6.3zM89.6 128.6h3.3v2.3h-3.3zM164.8 128.6h3.3v2.3h-3.3zM282.1 128.6h12.3v2.3h-12.3zM303.2 128.6h3.3v2.3h-3.3zM80.6 130.6h3.3v2.3h-3.3zM77.6 132.6h3.3v2.3h-3.3zM164.8 132.6h3.3v2.3h-3.3zM74.6 134.6h3.3v2.3h-3.3zM68.5 136.6h3.3v2.3h-3.3zM546.9 136.6h9.3v2.3h-9.3zM62.5 138.6h3.3v2.3h-3.3zM462.6 138.6h3.3v2.3h-3.3zM531.8 138.6h3.3v2.3h-3.3zM528.8 140.6h3.3v2.3h-3.3zM528.8 142.6h3.3v2.3h-3.3zM525.8 144.6h3.3v2.3h-3.3zM516.8 146.6h3.3v2.3h-3.3zM522.8 146.6h3.3v2.3h-3.3zM456.6 148.6h3.3v2.3h-3.3zM465.6 148.6h3.3v2.3h-3.3zM513.8 148.6h9.3v2.3h-9.3zM194.9 150.6h6.3v2.3h-6.3zM414.5 150.6h27.4v2.3h-27.4zM456.6 150.6h3.3v2.3h-3.3zM465.6 150.6h6.3v2.3h-6.3zM510.8 150.6h3.3v2.3h-3.3zM567.9 150.6h3.3v2.3h-3.3zM209.9 152.6h3.3v2.3h-3.3zM315.2 152.6h3.3v2.3h-3.3zM321.2 152.6h3.3v2.3h-3.3zM333.3 152.6h12.3v2.3h-12.3zM360.4 152.6h3.3v2.3h-3.3zM372.4 152.6h3.3v2.3h-3.3zM405.5 152.6h3.3v2.3h-3.3zM441.6 152.6h6.3v2.3h-6.3zM456.6 152.6h3.3v2.3h-3.3zM468.7 152.6h12.3v2.3h-12.3zM495.7 152.6h12.3v2.3h-12.3zM574 152.6h3.3v2.3h-3.3zM212.9 154.6h3.3v2.3h-3.3zM312.2 154.6h3.3v2.3h-3.3zM318.2 154.6h15.3v2.3h-15.3zM375.4 154.6h3.3v2.3h-3.3zM444.6 154.6h6.3v2.3h-6.3zM453.6 154.6h3.3v2.3h-3.3zM468.7 154.6h15.3v2.3h-15.3zM489.7 154.6h6.3v2.3h-6.3zM498.7 154.6h12.3v2.3h-12.3zM574 154.6h3.3v2.3h-3.3zM216 156.6h3.3v2.3h-3.3zM300.2 156.6h12.3v2.3h-12.3zM321.2 156.6h9.3v2.3h-9.3zM378.4 156.6h3.3v2.3h-3.3zM399.5 156.6h3.3v2.3h-3.3zM447.6 156.6h6.3v2.3h-6.3zM468.7 156.6h18.3v2.3h-18.3zM501.8 156.6h9.3v2.3h-9.3zM570.9 156.6h6.3v2.3h-6.3zM228 158.6h6.3v2.3h-6.3zM285.1 158.6h3.3v2.3h-3.3zM468.7 158.6h12.3v2.3h-12.3zM504.8 158.6h12.3v2.3h-12.3zM558.9 158.6h27.4v2.3h-27.4zM234 160.6h6.3v2.3h-6.3zM279.1 160.6h3.3v2.3h-3.3zM468.7 160.6h12.3v2.3h-12.3zM504.8 160.6h12.3v2.3h-12.3zM558.9 160.6h33.4v2.3h-33.4zM237 162.6h9.3v2.3h-9.3zM474.7 162.6h6.3v2.3h-6.3zM504.8 162.6h6.3v2.3h-6.3zM555.9 162.6h36.4v2.3h-36.4zM246 164.6h3.3v2.3h-3.3zM273.1 164.6h6.3v2.3h-6.3zM342.3 164.6h3.3v2.3h-3.3zM360.4 164.6h3.3v2.3h-3.3zM450.6 164.6h12.3v2.3h-12.3zM477.7 164.6h9.3v2.3h-9.3zM504.8 164.6h3.3v2.3h-3.3zM540.9 164.6h51.4v2.3h-51.4zM252.1 166.6h21.4v2.3h-21.4zM342.3 166.6h3.3v2.3h-3.3zM360.4 166.6h3.3v2.3h-3.3zM414.5 166.6h3.3v2.3h-3.3zM432.6 166.6h3.3v2.3h-3.3zM450.6 166.6h12.3v2.3h-12.3zM477.7 166.6h12.3v2.3h-12.3zM504.8 166.6h3.3v2.3h-3.3zM522.8 166.6h3.3v2.3h-3.3zM540.9 166.6h51.4v2.3h-51.4zM252.1 168.6h21.4v2.3h-21.4zM342.3 168.6h3.3v2.3h-3.3zM360.4 168.6h3.3v2.3h-3.3zM414.5 168.6h3.3v2.3h-3.3zM432.6 168.6h3.3v2.3h-3.3zM450.6 168.6h12.3v2.3h-12.3zM477.7 168.6h12.3v2.3h-12.3zM504.8 168.6h3.3v2.3h-3.3zM522.8 168.6h3.3v2.3h-3.3zM540.9 168.6h51.4v2.3h-51.4z"/>
<path fill="#ffff00" d="M71.6 38.5h3.3v2.3h-3.3zM161.8 38.5h6.3v2.3h-6.3zM77.6 40.5h3.3v2.3h-3.3zM158.8 40.5h3.3v2.3h-3.3zM176.8 40.5h3.3v2.3h-3.3zM80.6 42.5h3.3v2.3h-3.3zM86.6 44.5h3.3v2.3h-3.3zM152.8 44.5h3.3v2.3h-3.3zM89.6 46.5h6.3v2.3h-6.3zM146.8 46.5h3.3v2.3h-3.3zM577 46.5h15.3v2.3h-15.3zM95.6 48.5h6.3v2.3h-6.3zM143.8 48.5h3.3v2.3h-3.3zM567.9 48.5h6.3v2.3h-6.3zM98.6 50.5h9.3v2.3h-9.3zM140.8 50.5h3.3v2.3h-3.3zM98.6 52.5h12.3v2.3h-12.3zM140.8 52.5h3.3v2.3h-3.3zM179.9 52.5h12.3v2.3h-12.3zM98.6 54.5h12.3v2.3h-12.3zM137.7 54.5h3.3v2.3h-3.3zM179.9 54.5h12.3v2.3h-12.3zM561.9 54.5h3.3v2.3h-3.3zM98.6 56.5h15.3v2.3h-15.3zM131.7 56.5h6.3v2.3h-6.3zM179.9 56.5h12.3v2.3h-12.3zM104.7 58.5h12.3v2.3h-12.3zM128.7 58.5h9.3v2.3h-9.3zM185.9 58.5h6.3v2.3h-6.3zM104.7 60.5h33.4v2.3h-33.4zM185.9 60.5h6.3v2.3h-6.3zM558.9 60.5h3.3v2.3h-3.3zM107.7 62.5h30.4v2.3h-30.4zM188.9 62.5h3.3v2.3h-3.3zM558.9 62.5h3.3v2.3h-3.3zM107.7 64.5h30.4v2.3h-30.4zM188.9 64.5h3.3v2.3h-3.3zM555.9 64.5h3.3v2.3h-3.3zM107.7 66.5h30.4v2.3h-30.4zM188.9 66.5h3.3v2.3h-3.3zM552.9 66.5h3.3v2.3h-3.3zM107.7 68.5h30.4v2.3h-30.4zM188.9 68.5h6.3v2.3h-6.3zM507.8 68.5h3.3v2.3h-3.3zM107.7 70.5h30.4v2.3h-30.4zM188.9 70.5h6.3v2.3h-6.3zM113.7 72.5h18.3v2.3h-18.3zM191.9 72.5h6.3v2.3h-6.3zM519.8 72.5h3.3v2.3h-3.3zM549.9 72.5h3.3v2.3h-3.3zM113.7 74.5h18.3v2.3h-18.3zM194.9 74.5h3.3v2.3h-3.3zM519.8 74.5h3.3v2.3h-3.3zM546.9 74.5h3.3v2.3h-3.3zM116.7 76.5h12.3v2.3h-12.3zM194.9 76.5h3.3v2.3h-3.3zM504.8 76.5h3.3v2.3h-3.3zM519.8 76.5h3.3v2.3h-3.3zM543.9 76.5h3.3v2.3h-3.3zM577 76.5h3.3v2.3h-3.3zM194.9 78.5h3.3v2.3h-3.3zM501.8 78.5h3.3v2.3h-3.3zM534.8 78.5h3.3v2.3h-3.3zM574 78.5h6.3v2.3h-6.3zM194.9 80.5h6.3v2.3h-6.3zM498.7 80.5h3.3v2.3h-3.3zM528.8 80.5h3.3v2.3h-3.3zM574 80.5h6.3v2.3h-6.3zM197.9 82.5h3.3v2.3h-3.3zM525.8 82.5h3.3v2.3h-3.3zM567.9 82.5h12.3v2.3h-12.3zM197.9 84.5h3.3v2.3h-3.3zM495.7 84.5h3.3v2.3h-3.3zM567.9 84.5h15.3v2.3h-15.3zM197.9 86.5h3.3v2.3h-3.3zM492.7 86.5h3.3v2.3h-3.3zM567.9 86.5h15.3v2.3h-15.3zM197.9 88.5h6.3v2.3h-6.3zM489.7 88.5h3.3v2.3h-3.3zM580 88.5h12.3v2.3h-12.3zM197.9 90.5h6.3v2.3h-6.3zM486.7 90.5h3.3v2.3h-3.3zM583 90.5h9.3v2.3h-9.3zM197.9 92.5h6.3v2.3h-6.3zM483.7 92.5h3.3v2.3h-3.3zM522.8 92.5h3.3v2.3h-3.3zM197.9 94.5h6.3v2.3h-6.3zM480.7 94.5h6.3v2.3h-6.3zM197.9 96.5h6.3v2.3h-6.3zM477.7 96.5h6.3v2.3h-6.3zM197.9 98.5h9.3v2.3h-9.3zM477.7 98.5h3.3v2.3h-3.3zM203.9 100.5h3.3v2.3h-3.3zM474.7 100.5h3.3v2.3h-3.3zM203.9 102.6h9.3v2.3h-9.3zM471.7 102.6h3.3v2.3h-3.3zM206.9 104.6h6.3v2.3h-6.3zM462.6 104.6h9.3v2.3h-9.3zM567.9 104.6h12.3v2.3h-12.3zM209.9 106.6h6.3v2.3h-6.3zM456.6 106.6h3.3v2.3h-3.3zM212.9 108.6h6.3v2.3h-6.3zM216 110.6h6.3v2.3h-6.3zM402.5 110.6h6.3v2.3h-6.3zM453.6 110.6h3.3v2.3h-3.3zM158.8 112.6h3.3v2.3h-3.3zM222 112.6h3.3v2.3h-3.3zM393.4 112.6h6.3v2.3h-6.3zM155.8 114.6h3.3v2.3h-3.3zM225 114.6h3.3v2.3h-3.3zM390.4 114.6h3.3v2.3h-3.3zM131.7 116.6h3.3v2.3h-3.3zM225 116.6h3.3v2.3h-3.3zM228 118.6h6.3v2.3h-6.3zM351.3 118.6h9.3v2.3h-9.3zM426.5 118.6h6.3v2.3h-6.3zM435.6 118.6h6.3v2.3h-6.3zM122.7 120.6h3.3v2.3h-3.3zM234 120.6h6.3v2.3h-6.3zM246 120.6h3.3v2.3h-3.3zM261.1 120.6h3.3v2.3h-3.3zM345.3 120.6h3.3v2.3h-3.3zM432.6 120.6h3.3v2.3h-3.3zM107.7 122.6h6.3v2.3h-6.3zM243 122.6h3.3v2.3h-3.3zM267.1 122.6h3.3v2.3h-3.3zM339.3 122.6h6.3v2.3h-6.3zM270.1 124.6h3.3v2.3h-3.3zM321.2 124.6h15.3v2.3h-15.3zM95.6 126.6h3.3v2.3h-3.3zM276.1 126.6h3.3v2.3h-3.3zM285.1 126.6h18.4v2.3h-18.4zM56.5 128.6h3.3v2.3h-3.3zM92.6 128.6h3.3v2.3h-3.3zM56.5 130.6h3.3v2.3h-3.3zM83.6 130.6h3.3v2.3h-3.3zM56.5 132.6h3.3v2.3h-3.3zM77.6 134.6h3.3v2.3h-3.3zM164.8 136.6h3.3v2.3h-3.3zM65.5 138.6h3.3v2.3h-3.3zM537.9 138.6h3.3v2.3h-3.3zM558.9 138.6h3.3v2.3h-3.3zM62.5 140.6h3.3v2.3h-3.3zM534.8 140.6h3.3v2.3h-3.3zM558.9 140.6h3.3v2.3h-3.3zM534.8 142.6h3.3v2.3h-3.3zM173.8 144.6h3.3v2.3h-3.3zM462.6 144.6h3.3v2.3h-3.3zM531.8 144.6h3.3v2.3h-3.3zM176.8 146.6h3.3v2.3h-3.3zM462.6 146.6h3.3v2.3h-3.3zM531.8 146.6h3.3v2.3h-3.3zM179.9 148.6h3.3v2.3h-3.3zM462.6 148.6h3.3v2.3h-3.3zM528.8 148.6h6.3v2.3h-6.3zM185.9 150.6h3.3v2.3h-3.3zM525.8 150.6h9.3v2.3h-9.3zM558.9 150.6h3.3v2.3h-3.3zM206.9 152.6h3.3v2.3h-3.3zM351.3 152.6h3.3v2.3h-3.3zM369.4 152.6h3.3v2.3h-3.3zM411.5 152.6h3.3v2.3h-3.3zM429.6 152.6h6.3v2.3h-6.3zM459.6 152.6h3.3v2.3h-3.3zM513.8 152.6h24.4v2.3h-24.4zM555.9 152.6h9.3v2.3h-9.3zM348.3 154.6h9.3v2.3h-9.3zM366.4 154.6h6.3v2.3h-6.3zM405.5 154.6h6.3v2.3h-6.3zM432.6 154.6h6.3v2.3h-6.3zM459.6 154.6h3.3v2.3h-3.3zM516.8 154.6h21.4v2.3h-21.4zM552.9 154.6h6.3v2.3h-6.3zM561.9 154.6h9.3v2.3h-9.3zM348.3 156.6h9.3v2.3h-9.3zM366.4 156.6h6.3v2.3h-6.3zM402.5 156.6h3.3v2.3h-3.3zM435.6 156.6h6.3v2.3h-6.3zM459.6 156.6h3.3v2.3h-3.3zM519.8 156.6h3.3v2.3h-3.3zM537.9 156.6h18.3v2.3h-18.3zM216 158.6h6.3v2.3h-6.3zM306.2 158.6h75.5v2.3h-75.5zM396.5 158.6h3.3v2.3h-3.3zM438.6 158.6h24.4v2.3h-24.4zM483.7 158.6h15.3v2.3h-15.3zM519.8 158.6h3.3v2.3h-3.3zM537.9 158.6h15.3v2.3h-15.3zM222 160.6h6.3v2.3h-6.3zM288.2 160.6h105.6v2.3h-105.6zM432.6 160.6h30.4v2.3h-30.4zM483.7 160.6h15.3v2.3h-15.3zM519.8 160.6h6.3v2.3h-6.3zM534.8 160.6h18.3v2.3h-18.3zM222 162.6h9.3v2.3h-9.3zM285.1 162.6h54.5v2.3h-54.5zM348.3 162.6h9.3v2.3h-9.3zM366.4 162.6h30.4v2.3h-30.4zM426.5 162.6h21.4v2.3h-21.4zM486.7 162.6h12.3v2.3h-12.3zM522.8 162.6h9.3v2.3h-9.3zM534.8 162.6h6.3v2.3h-6.3zM222 164.6h15.3v2.3h-15.3zM279.1 164.6h57.5v2.3h-57.5zM351.3 164.6h3.3v2.3h-3.3zM369.4 164.6h33.4v2.3h-33.4zM408.5 164.6h6.3v2.3h-6.3zM420.5 164.6h9.3v2.3h-9.3zM438.6 164.6h6.3v2.3h-6.3zM468.7 164.6h3.3v2.3h-3.3zM492.7 164.6h6.3v2.3h-6.3zM513.8 164.6h3.3v2.3h-3.3zM528.8 164.6h9.3v2.3h-9.3zM50.5 166.6h135.7v2.3h-135.7zM222 166.6h24.4v2.3h-24.4zM279.1 166.6h57.5v2.3h-57.5zM351.3 166.6h3.3v2.3h-3.3zM369.4 166.6h39.4v2.3h-39.4zM423.5 166.6h3.3v2.3h-3.3zM441.6 166.6h3.3v2.3h-3.3zM468.7 166.6h3.3v2.3h-3.3zM495.7 166.6h3.3v2.3h-3.3zM513.8 166.6h3.3v2.3h-3.3zM531.8 166.6h3.3v2.3h-3.3zM50.5 168.6h135.7v2.3h-135.7zM222 168.6h24.4v2.3h-24.4zM279.1 168.6h57.5v2.3h-57.5zM351.3 168.6h3.3v2.3h-3.3zM369.4 168.6h39.4v2.3h-39.4zM423.5 168.6h3.3v2.3h-3.3zM441.6 168.6h3.3v2.3h-3.3zM468.7 168.6h3.3v2.3h-3.3zM495.7 168.6h3.3v2.3h-3.3zM513.8 168.6h3.3v2.3h-3.3zM531.8 168.6h3.3v2.3h-3.3z"/>
<path fill="#ff8000" d="M50.5 40.5h6.3v2.3h-6.3zM65.5 40.5h6.3v2.3h-6.3zM71.6 42.5h3.3v2.3h-3.3zM71.6 44.5h6.3v2.3h-6.3zM77.6 46.5h3.3v2.3h-3.3zM152.8 48.5h3.3v2.3h-3.3zM176.8 48.5h3.3v2.3h-3.3zM176.8 50.5h3.3v2.3h-3.3zM580 50.5h3.3v2.3h-3.3zM574 52.5h3.3v2.3h-3.3zM589 52.5h3.3v2.3h-3.3zM149.8 54.5h3.3v2.3h-3.3zM570.9 54.5h3.3v2.3h-3.3zM586 54.5h3.3v2.3h-3.3zM149.8 56.5h3.3v2.3h-3.3zM583 56.5h3.3v2.3h-3.3zM567.9 58.5h3.3v2.3h-3.3zM583 58.5h3.3v2.3h-3.3zM580 60.5h3.3v2.3h-3.3zM86.6 62.5h6.3v2.3h-6.3zM146.8 62.5h3.3v2.3h-3.3zM580 62.5h3.3v2.3h-3.3zM86.6 64.5h6.3v2.3h-6.3zM146.8 64.5h3.3v2.3h-3.3zM580 64.5h3.3v2.3h-3.3zM86.6 66.5h6.3v2.3h-6.3zM146.8 66.5h3.3v2.3h-3.3zM564.9 66.5h3.3v2.3h-3.3zM580 66.5h3.3v2.3h-3.3zM86.6 68.5h6.3v2.3h-6.3zM510.8 68.5h3.3v2.3h-3.3zM83.6 70.5h15.3v2.3h-15.3zM140.8 70.5h6.3v2.3h-6.3zM555.9 70.5h3.3v2.3h-3.3zM89.6 72.5h6.3v2.3h-6.3zM98.6 72.5h3.3v2.3h-3.3zM140.8 72.5h6.3v2.3h-6.3zM558.9 72.5h6.3v2.3h-6.3zM570.9 72.5h3.3v2.3h-3.3zM101.6 74.5h3.3v2.3h-3.3zM137.7 74.5h6.3v2.3h-6.3zM179.9 74.5h3.3v2.3h-3.3zM558.9 74.5h12.3v2.3h-12.3zM583 74.5h3.3v2.3h-3.3zM140.8 76.5h3.3v2.3h-3.3zM179.9 76.5h3.3v2.3h-3.3zM185.9 76.5h3.3v2.3h-3.3zM516.8 76.5h3.3v2.3h-3.3zM558.9 76.5h3.3v2.3h-3.3zM564.9 76.5h3.3v2.3h-3.3zM583 76.5h3.3v2.3h-3.3zM104.7 78.5h3.3v2.3h-3.3zM134.7 78.5h3.3v2.3h-3.3zM182.9 78.5h6.3v2.3h-6.3zM516.8 78.5h3.3v2.3h-3.3zM540.9 78.5h3.3v2.3h-3.3zM564.9 78.5h3.3v2.3h-3.3zM107.7 80.5h3.3v2.3h-3.3zM113.7 80.5h3.3v2.3h-3.3zM182.9 80.5h6.3v2.3h-6.3zM534.8 80.5h3.3v2.3h-3.3zM549.9 80.5h3.3v2.3h-3.3zM589 80.5h3.3v2.3h-3.3zM122.7 82.5h3.3v2.3h-3.3zM116.7 84.5h3.3v2.3h-3.3zM125.7 84.5h6.3v2.3h-6.3zM501.8 84.5h3.3v2.3h-3.3zM516.8 86.5h3.3v2.3h-3.3zM516.8 88.5h3.3v2.3h-3.3zM498.7 90.5h3.3v2.3h-3.3zM525.8 90.5h3.3v2.3h-3.3zM564.9 90.5h3.3v2.3h-3.3zM513.8 92.5h3.3v2.3h-3.3zM188.9 94.5h3.3v2.3h-3.3zM549.9 94.5h3.3v2.3h-3.3zM191.9 96.5h3.3v2.3h-3.3zM549.9 96.5h3.3v2.3h-3.3zM510.8 98.5h3.3v2.3h-3.3zM483.7 100.5h12.3v2.3h-12.3zM510.8 100.5h3.3v2.3h-3.3zM516.8 100.5h3.3v2.3h-3.3zM194.9 102.6h3.3v2.3h-3.3zM480.7 102.6h3.3v2.3h-3.3zM486.7 102.6h3.3v2.3h-3.3zM589 102.6h3.3v2.3h-3.3zM564.9 104.6h3.3v2.3h-3.3zM50.5 106.6h3.3v2.3h-3.3zM477.7 106.6h3.3v2.3h-3.3zM507.8 106.6h3.3v2.3h-3.3zM574 106.6h6.3v2.3h-6.3zM200.9 108.6h3.3v2.3h-3.3zM507.8 108.6h3.3v2.3h-3.3zM200.9 110.6h3.3v2.3h-3.3zM516.8 110.6h3.3v2.3h-3.3zM203.9 112.6h3.3v2.3h-3.3zM462.6 112.6h3.3v2.3h-3.3zM471.7 112.6h3.3v2.3h-3.3zM507.8 112.6h6.3v2.3h-6.3zM143.8 114.6h6.3v2.3h-6.3zM206.9 114.6h3.3v2.3h-3.3zM408.5 114.6h3.3v2.3h-3.3zM456.6 114.6h3.3v2.3h-3.3zM465.6 114.6h6.3v2.3h-6.3zM507.8 114.6h3.3v2.3h-3.3zM122.7 116.6h3.3v2.3h-3.3zM209.9 116.6h3.3v2.3h-3.3zM399.5 116.6h3.3v2.3h-3.3zM577 116.6h6.3v2.3h-6.3zM119.7 118.6h3.3v2.3h-3.3zM212.9 118.6h6.3v2.3h-6.3zM110.7 120.6h3.3v2.3h-3.3zM116.7 120.6h3.3v2.3h-3.3zM216 120.6h3.3v2.3h-3.3zM411.5 120.6h3.3v2.3h-3.3zM453.6 120.6h3.3v2.3h-3.3zM216 122.6h3.3v2.3h-3.3zM249.1 122.6h3.3v2.3h-3.3zM258.1 122.6h3.3v2.3h-3.3zM348.3 122.6h3.3v2.3h-3.3zM357.4 122.6h9.3v2.3h-9.3zM387.4 122.6h3.3v2.3h-3.3zM414.5 122.6h3.3v2.3h-3.3zM447.6 122.6h6.3v2.3h-6.3zM95.6 124.6h3.3v2.3h-3.3zM219 124.6h12.3v2.3h-12.3zM246 124.6h3.3v2.3h-3.3zM345.3 124.6h3.3v2.3h-3.3zM429.6 124.6h3.3v2.3h-3.3zM438.6 124.6h6.3v2.3h-6.3zM92.6 126.6h3.3v2.3h-3.3zM237 126.6h3.3v2.3h-3.3zM267.1 126.6h3.3v2.3h-3.3zM330.3 126.6h3.3v2.3h-3.3zM339.3 126.6h3.3v2.3h-3.3zM435.6 126.6h6.3v2.3h-6.3zM83.6 128.6h3.3v2.3h-3.3zM234 128.6h3.3v2.3h-3.3zM432.6 128.6h3.3v2.3h-3.3zM77.6 130.6h3.3v2.3h-3.3zM279.1 132.6h3.3v2.3h-3.3zM65.5 136.6h3.3v2.3h-3.3zM534.8 136.6h9.3v2.3h-9.3zM558.9 136.6h3.3v2.3h-3.3zM519.8 140.6h3.3v2.3h-3.3zM561.9 142.6h3.3v2.3h-3.3zM179.9 144.6h3.3v2.3h-3.3zM465.6 144.6h3.3v2.3h-3.3zM561.9 144.6h3.3v2.3h-3.3zM182.9 146.6h3.3v2.3h-3.3zM441.6 146.6h3.3v2.3h-3.3zM468.7 146.6h3.3v2.3h-3.3zM513.8 146.6h3.3v2.3h-3.3zM185.9 148.6h3.3v2.3h-3.3zM429.6 148.6h3.3v2.3h-3.3zM435.6 148.6h6.3v2.3h-6.3zM444.6 148.6h3.3v2.3h-3.3zM507.8 148.6h3.3v2.3h-3.3zM567.9 148.6h3.3v2.3h-3.3zM209.9 150.6h3.3v2.3h-3.3zM321.2 150.6h3.3v2.3h-3.3zM345.3 150.6h6.3v2.3h-6.3zM354.3 150.6h3.3v2.3h-3.3zM363.4 150.6h3.3v2.3h-3.3zM411.5 150.6h3.3v2.3h-3.3zM447.6 150.6h3.3v2.3h-3.3zM489.7 150.6h6.3v2.3h-6.3zM498.7 150.6h6.3v2.3h-6.3zM570.9 150.6h6.3v2.3h-6.3zM216 152.6h3.3v2.3h-3.3zM309.2 152.6h3.3v2.3h-3.3zM375.4 152.6h3.3v2.3h-3.3zM450.6 152.6h3.3v2.3h-3.3zM483.7 152.6h6.3v2.3h-6.3zM303.2 154.6h6.3v2.3h-6.3zM378.4 154.6h3.3v2.3h-3.3zM399.5 154.6h3.3v2.3h-3.3zM222 156.6h3.3v2.3h-3.3zM228 156.6h3.3v2.3h-3.3zM288.2 156.6h9.3v2.3h-9.3zM384.4 156.6h3.3v2.3h-3.3zM390.4 156.6h3.3v2.3h-3.3zM577 156.6h9.3v2.3h-9.3zM234 158.6h6.3v2.3h-6.3zM279.1 158.6h3.3v2.3h-3.3zM276.1 160.6h3.3v2.3h-3.3zM246 162.6h3.3v2.3h-3.3zM249.1 164.6h12.3v2.3h-12.3zM270.1 164.6h3.3v2.3h-3.3z"/>
<path fill="#ff7000" d="M56.5 40.5h6.3v2.3h-6.3zM62.5 42.5h3.3v2.3h-3.3zM164.8 42.5h6.3v2.3h-6.3zM173.8 42.5h3.3v2.3h-3.3zM158.8 44.5h3.3v2.3h-3.3zM71.6 46.5h6.3v2.3h-6.3zM71.6 48.5h3.3v2.3h-3.3zM80.6 48.5h3.3v2.3h-3.3zM80.6 50.5h3.3v2.3h-3.3zM152.8 50.5h3.3v2.3h-3.3zM80.6 52.5h3.3v2.3h-3.3zM176.8 52.5h3.3v2.3h-3.3zM577 52.5h6.3v2.3h-6.3zM80.6 54.5h3.3v2.3h-3.3zM176.8 54.5h3.3v2.3h-3.3zM589 54.5h3.3v2.3h-3.3zM80.6 56.5h3.3v2.3h-3.3zM176.8 56.5h3.3v2.3h-3.3zM570.9 56.5h3.3v2.3h-3.3zM586 56.5h3.3v2.3h-3.3zM149.8 58.5h3.3v2.3h-3.3zM580 58.5h3.3v2.3h-3.3zM567.9 60.5h3.3v2.3h-3.3zM583 60.5h3.3v2.3h-3.3zM577 64.5h3.3v2.3h-3.3zM146.8 68.5h3.3v2.3h-3.3zM558.9 68.5h3.3v2.3h-3.3zM564.9 68.5h3.3v2.3h-3.3zM574 68.5h3.3v2.3h-3.3zM583 68.5h3.3v2.3h-3.3zM510.8 70.5h3.3v2.3h-3.3zM558.9 70.5h3.3v2.3h-3.3zM564.9 70.5h3.3v2.3h-3.3zM583 70.5h3.3v2.3h-3.3zM83.6 72.5h6.3v2.3h-6.3zM95.6 72.5h3.3v2.3h-3.3zM555.9 72.5h3.3v2.3h-3.3zM564.9 72.5h6.3v2.3h-6.3zM583 72.5h3.3v2.3h-3.3zM89.6 74.5h6.3v2.3h-6.3zM98.6 74.5h3.3v2.3h-3.3zM143.8 74.5h3.3v2.3h-3.3zM92.6 76.5h3.3v2.3h-3.3zM101.6 76.5h3.3v2.3h-3.3zM137.7 76.5h3.3v2.3h-3.3zM143.8 76.5h3.3v2.3h-3.3zM552.9 76.5h3.3v2.3h-3.3zM561.9 76.5h3.3v2.3h-3.3zM140.8 78.5h3.3v2.3h-3.3zM179.9 78.5h3.3v2.3h-3.3zM586 78.5h6.3v2.3h-6.3zM104.7 80.5h3.3v2.3h-3.3zM110.7 80.5h3.3v2.3h-3.3zM179.9 80.5h3.3v2.3h-3.3zM504.8 80.5h3.3v2.3h-3.3zM516.8 80.5h3.3v2.3h-3.3zM543.9 80.5h3.3v2.3h-3.3zM564.9 80.5h3.3v2.3h-3.3zM107.7 82.5h3.3v2.3h-3.3zM113.7 82.5h3.3v2.3h-3.3zM119.7 82.5h3.3v2.3h-3.3zM179.9 82.5h9.3v2.3h-9.3zM516.8 82.5h3.3v2.3h-3.3zM546.9 82.5h3.3v2.3h-3.3zM131.7 84.5h3.3v2.3h-3.3zM185.9 84.5h3.3v2.3h-3.3zM516.8 84.5h3.3v2.3h-3.3zM528.8 84.5h3.3v2.3h-3.3zM128.7 86.5h3.3v2.3h-3.3zM564.9 86.5h3.3v2.3h-3.3zM564.9 88.5h3.3v2.3h-3.3zM525.8 92.5h3.3v2.3h-3.3zM549.9 92.5h3.3v2.3h-3.3zM510.8 96.5h3.3v2.3h-3.3zM191.9 98.5h3.3v2.3h-3.3zM522.8 98.5h3.3v2.3h-3.3zM483.7 102.6h3.3v2.3h-3.3zM489.7 102.6h3.3v2.3h-3.3zM507.8 102.6h3.3v2.3h-3.3zM516.8 102.6h3.3v2.3h-3.3zM561.9 102.6h3.3v2.3h-3.3zM194.9 104.6h3.3v2.3h-3.3zM480.7 104.6h3.3v2.3h-3.3zM486.7 104.6h3.3v2.3h-3.3zM507.8 104.6h3.3v2.3h-3.3zM516.8 104.6h3.3v2.3h-3.3zM583 104.6h6.3v2.3h-6.3zM197.9 106.6h3.3v2.3h-3.3zM516.8 106.6h3.3v2.3h-3.3zM56.5 108.6h3.3v2.3h-3.3zM161.8 108.6h3.3v2.3h-3.3zM477.7 108.6h3.3v2.3h-3.3zM504.8 108.6h3.3v2.3h-3.3zM516.8 108.6h3.3v2.3h-3.3zM164.8 110.6h3.3v2.3h-3.3zM459.6 110.6h3.3v2.3h-3.3zM474.7 110.6h3.3v2.3h-3.3zM504.8 110.6h3.3v2.3h-3.3zM200.9 112.6h3.3v2.3h-3.3zM504.8 112.6h3.3v2.3h-3.3zM125.7 114.6h3.3v2.3h-3.3zM203.9 114.6h3.3v2.3h-3.3zM462.6 114.6h3.3v2.3h-3.3zM504.8 114.6h3.3v2.3h-3.3zM510.8 114.6h6.3v2.3h-6.3zM206.9 116.6h3.3v2.3h-3.3zM396.5 116.6h3.3v2.3h-3.3zM408.5 116.6h3.3v2.3h-3.3zM456.6 116.6h3.3v2.3h-3.3zM465.6 116.6h3.3v2.3h-3.3zM504.8 116.6h3.3v2.3h-3.3zM209.9 118.6h3.3v2.3h-3.3zM393.4 118.6h3.3v2.3h-3.3zM399.5 118.6h3.3v2.3h-3.3zM574 118.6h3.3v2.3h-3.3zM583 118.6h3.3v2.3h-3.3zM113.7 120.6h3.3v2.3h-3.3zM212.9 120.6h3.3v2.3h-3.3zM390.4 120.6h3.3v2.3h-3.3zM212.9 122.6h3.3v2.3h-3.3zM366.4 122.6h6.3v2.3h-6.3zM375.4 122.6h3.3v2.3h-3.3zM381.4 122.6h6.3v2.3h-6.3zM417.5 122.6h3.3v2.3h-3.3zM216 124.6h3.3v2.3h-3.3zM261.1 124.6h3.3v2.3h-3.3zM375.4 124.6h6.3v2.3h-6.3zM426.5 124.6h3.3v2.3h-3.3zM444.6 124.6h9.3v2.3h-9.3zM225 126.6h3.3v2.3h-3.3zM231 126.6h3.3v2.3h-3.3zM243 126.6h3.3v2.3h-3.3zM264.1 126.6h3.3v2.3h-3.3zM342.3 126.6h3.3v2.3h-3.3zM375.4 126.6h3.3v2.3h-3.3zM426.5 126.6h3.3v2.3h-3.3zM441.6 126.6h3.3v2.3h-3.3zM80.6 128.6h3.3v2.3h-3.3zM273.1 128.6h3.3v2.3h-3.3zM309.2 128.6h9.3v2.3h-9.3zM321.2 128.6h3.3v2.3h-3.3zM336.3 128.6h3.3v2.3h-3.3zM435.6 128.6h9.3v2.3h-9.3zM276.1 130.6h3.3v2.3h-3.3zM282.1 130.6h3.3v2.3h-3.3zM291.2 130.6h3.3v2.3h-3.3zM306.2 130.6h3.3v2.3h-3.3zM432.6 130.6h9.3v2.3h-9.3zM59.5 132.6h3.3v2.3h-3.3zM288.2 132.6h3.3v2.3h-3.3zM303.2 132.6h3.3v2.3h-3.3zM531.8 134.6h3.3v2.3h-3.3zM546.9 134.6h3.3v2.3h-3.3zM167.8 136.6h3.3v2.3h-3.3zM561.9 138.6h3.3v2.3h-3.3zM173.8 140.6h3.3v2.3h-3.3zM525.8 140.6h3.3v2.3h-3.3zM561.9 140.6h3.3v2.3h-3.3zM516.8 142.6h3.3v2.3h-3.3zM522.8 142.6h3.3v2.3h-3.3zM468.7 144.6h3.3v2.3h-3.3zM513.8 144.6h3.3v2.3h-3.3zM432.6 146.6h9.3v2.3h-9.3zM471.7 146.6h3.3v2.3h-3.3zM507.8 146.6h6.3v2.3h-6.3zM564.9 146.6h3.3v2.3h-3.3zM414.5 148.6h6.3v2.3h-6.3zM426.5 148.6h3.3v2.3h-3.3zM492.7 148.6h6.3v2.3h-6.3zM504.8 148.6h3.3v2.3h-3.3zM315.2 150.6h6.3v2.3h-6.3zM324.3 150.6h6.3v2.3h-6.3zM357.4 150.6h3.3v2.3h-3.3zM369.4 150.6h3.3v2.3h-3.3zM408.5 150.6h3.3v2.3h-3.3zM450.6 150.6h6.3v2.3h-6.3zM474.7 150.6h12.3v2.3h-12.3zM303.2 152.6h3.3v2.3h-3.3zM402.5 152.6h3.3v2.3h-3.3zM577 152.6h3.3v2.3h-3.3zM219 154.6h3.3v2.3h-3.3zM297.2 154.6h3.3v2.3h-3.3zM381.4 154.6h6.3v2.3h-6.3zM393.4 154.6h3.3v2.3h-3.3zM577 154.6h3.3v2.3h-3.3zM231 156.6h3.3v2.3h-3.3zM586 156.6h3.3v2.3h-3.3zM240 158.6h6.3v2.3h-6.3zM276.1 158.6h3.3v2.3h-3.3zM273.1 160.6h3.3v2.3h-3.3zM261.1 164.6h9.3v2.3h-9.3z"/>
<path fill="#ff8c00" d="M62.5 40.5h3.3v2.3h-3.3zM71.6 40.5h3.3v2.3h-3.3zM167.8 40.5h3.3v2.3h-3.3zM173.8 40.5h3.3v2.3h-3.3zM74.6 42.5h3.3v2.3h-3.3zM161.8 42.5h3.3v2.3h-3.3zM77.6 44.5h3.3v2.3h-3.3zM80.6 46.5h3.3v2.3h-3.3zM176.8 46.5h3.3v2.3h-3.3zM83.6 48.5h3.3v2.3h-3.3zM149.8 48.5h3.3v2.3h-3.3zM83.6 50.5h3.3v2.3h-3.3zM149.8 50.5h3.3v2.3h-3.3zM574 50.5h6.3v2.3h-6.3zM583 50.5h3.3v2.3h-3.3zM589 50.5h3.3v2.3h-3.3zM83.6 52.5h3.3v2.3h-3.3zM149.8 52.5h3.3v2.3h-3.3zM570.9 52.5h3.3v2.3h-3.3zM583 52.5h6.3v2.3h-6.3zM83.6 54.5h3.3v2.3h-3.3zM146.8 54.5h3.3v2.3h-3.3zM567.9 54.5h3.3v2.3h-3.3zM583 54.5h3.3v2.3h-3.3zM83.6 56.5h3.3v2.3h-3.3zM146.8 56.5h3.3v2.3h-3.3zM564.9 56.5h6.3v2.3h-6.3zM83.6 58.5h9.3v2.3h-9.3zM146.8 58.5h3.3v2.3h-3.3zM564.9 58.5h3.3v2.3h-3.3zM83.6 60.5h12.3v2.3h-12.3zM146.8 60.5h3.3v2.3h-3.3zM564.9 60.5h3.3v2.3h-3.3zM83.6 62.5h3.3v2.3h-3.3zM92.6 62.5h6.3v2.3h-6.3zM564.9 62.5h3.3v2.3h-3.3zM83.6 64.5h3.3v2.3h-3.3zM92.6 64.5h6.3v2.3h-6.3zM561.9 64.5h6.3v2.3h-6.3zM83.6 66.5h3.3v2.3h-3.3zM92.6 66.5h6.3v2.3h-6.3zM140.8 66.5h6.3v2.3h-6.3zM510.8 66.5h3.3v2.3h-3.3zM516.8 66.5h3.3v2.3h-3.3zM558.9 66.5h6.3v2.3h-6.3zM577 66.5h3.3v2.3h-3.3zM83.6 68.5h3.3v2.3h-3.3zM92.6 68.5h6.3v2.3h-6.3zM140.8 68.5h6.3v2.3h-6.3zM516.8 68.5h3.3v2.3h-3.3zM555.9 68.5h3.3v2.3h-3.3zM561.9 68.5h3.3v2.3h-3.3zM580 68.5h3.3v2.3h-3.3zM98.6 70.5h3.3v2.3h-3.3zM516.8 70.5h3.3v2.3h-3.3zM561.9 70.5h3.3v2.3h-3.3zM574 70.5h3.3v2.3h-3.3zM580 70.5h3.3v2.3h-3.3zM101.6 72.5h3.3v2.3h-3.3zM137.7 72.5h3.3v2.3h-3.3zM179.9 72.5h3.3v2.3h-3.3zM516.8 72.5h3.3v2.3h-3.3zM580 72.5h3.3v2.3h-3.3zM182.9 74.5h6.3v2.3h-6.3zM516.8 74.5h3.3v2.3h-3.3zM552.9 74.5h3.3v2.3h-3.3zM570.9 74.5h3.3v2.3h-3.3zM104.7 76.5h3.3v2.3h-3.3zM182.9 76.5h3.3v2.3h-3.3zM507.8 76.5h3.3v2.3h-3.3zM107.7 78.5h6.3v2.3h-6.3zM543.9 78.5h3.3v2.3h-3.3zM549.9 78.5h3.3v2.3h-3.3zM583 78.5h3.3v2.3h-3.3zM119.7 80.5h6.3v2.3h-6.3zM128.7 80.5h6.3v2.3h-6.3zM546.9 80.5h3.3v2.3h-3.3zM586 80.5h3.3v2.3h-3.3zM116.7 82.5h3.3v2.3h-3.3zM125.7 82.5h9.3v2.3h-9.3zM501.8 82.5h3.3v2.3h-3.3zM528.8 82.5h3.3v2.3h-3.3zM498.7 86.5h3.3v2.3h-3.3zM498.7 88.5h3.3v2.3h-3.3zM516.8 90.5h3.3v2.3h-3.3zM188.9 92.5h3.3v2.3h-3.3zM516.8 92.5h3.3v2.3h-3.3zM564.9 92.5h3.3v2.3h-3.3zM191.9 94.5h3.3v2.3h-3.3zM495.7 94.5h3.3v2.3h-3.3zM513.8 94.5h6.3v2.3h-6.3zM564.9 94.5h3.3v2.3h-3.3zM492.7 96.5h6.3v2.3h-6.3zM486.7 98.5h9.3v2.3h-9.3zM516.8 98.5h6.3v2.3h-6.3zM194.9 100.5h3.3v2.3h-3.3zM564.9 100.5h3.3v2.3h-3.3zM510.8 102.6h3.3v2.3h-3.3zM564.9 102.6h3.3v2.3h-3.3zM583 102.6h6.3v2.3h-6.3zM197.9 104.6h3.3v2.3h-3.3zM510.8 104.6h3.3v2.3h-3.3zM580 104.6h3.3v2.3h-3.3zM53.5 106.6h3.3v2.3h-3.3zM200.9 106.6h3.3v2.3h-3.3zM510.8 106.6h3.3v2.3h-3.3zM459.6 108.6h6.3v2.3h-6.3zM474.7 108.6h3.3v2.3h-3.3zM510.8 108.6h3.3v2.3h-3.3zM203.9 110.6h3.3v2.3h-3.3zM456.6 110.6h3.3v2.3h-3.3zM462.6 110.6h6.3v2.3h-6.3zM471.7 110.6h3.3v2.3h-3.3zM507.8 110.6h6.3v2.3h-6.3zM155.8 112.6h3.3v2.3h-3.3zM164.8 112.6h3.3v2.3h-3.3zM206.9 112.6h3.3v2.3h-3.3zM405.5 112.6h3.3v2.3h-3.3zM456.6 112.6h3.3v2.3h-3.3zM465.6 112.6h6.3v2.3h-6.3zM513.8 112.6h3.3v2.3h-3.3zM134.7 114.6h9.3v2.3h-9.3zM149.8 114.6h3.3v2.3h-3.3zM164.8 114.6h3.3v2.3h-3.3zM209.9 114.6h6.3v2.3h-6.3zM399.5 114.6h6.3v2.3h-6.3zM125.7 116.6h3.3v2.3h-3.3zM212.9 116.6h6.3v2.3h-6.3zM393.4 116.6h3.3v2.3h-3.3zM453.6 116.6h3.3v2.3h-3.3zM122.7 118.6h3.3v2.3h-3.3zM219 118.6h3.3v2.3h-3.3zM411.5 118.6h3.3v2.3h-3.3zM453.6 118.6h3.3v2.3h-3.3zM577 118.6h6.3v2.3h-6.3zM219 120.6h6.3v2.3h-6.3zM252.1 120.6h3.3v2.3h-3.3zM354.3 120.6h24.4v2.3h-24.4zM414.5 120.6h12.3v2.3h-12.3zM450.6 120.6h3.3v2.3h-3.3zM98.6 122.6h3.3v2.3h-3.3zM219 122.6h12.3v2.3h-12.3zM378.4 122.6h3.3v2.3h-3.3zM426.5 122.6h3.3v2.3h-3.3zM438.6 122.6h9.3v2.3h-9.3zM231 124.6h3.3v2.3h-3.3zM264.1 124.6h3.3v2.3h-3.3zM435.6 124.6h3.3v2.3h-3.3zM234 126.6h3.3v2.3h-3.3zM270.1 126.6h3.3v2.3h-3.3zM321.2 126.6h3.3v2.3h-3.3zM333.3 126.6h6.3v2.3h-6.3zM432.6 126.6h3.3v2.3h-3.3zM86.6 128.6h3.3v2.3h-3.3zM276.1 128.6h3.3v2.3h-3.3zM294.2 128.6h9.3v2.3h-9.3zM306.2 128.6h3.3v2.3h-3.3zM324.3 128.6h6.3v2.3h-6.3zM164.8 130.6h3.3v2.3h-3.3zM279.1 130.6h3.3v2.3h-3.3zM288.2 130.6h3.3v2.3h-3.3zM303.2 130.6h3.3v2.3h-3.3zM74.6 132.6h3.3v2.3h-3.3zM59.5 134.6h3.3v2.3h-3.3zM71.6 134.6h3.3v2.3h-3.3zM459.6 136.6h3.3v2.3h-3.3zM531.8 136.6h3.3v2.3h-3.3zM543.9 136.6h3.3v2.3h-3.3zM555.9 136.6h3.3v2.3h-3.3zM167.8 138.6h3.3v2.3h-3.3zM456.6 138.6h3.3v2.3h-3.3zM528.8 138.6h3.3v2.3h-3.3zM170.8 140.6h3.3v2.3h-3.3zM456.6 140.6h3.3v2.3h-3.3zM173.8 142.6h3.3v2.3h-3.3zM456.6 142.6h3.3v2.3h-3.3zM519.8 142.6h3.3v2.3h-3.3zM525.8 142.6h3.3v2.3h-3.3zM456.6 144.6h3.3v2.3h-3.3zM516.8 144.6h9.3v2.3h-9.3zM456.6 146.6h3.3v2.3h-3.3zM465.6 146.6h3.3v2.3h-3.3zM519.8 146.6h3.3v2.3h-3.3zM561.9 146.6h3.3v2.3h-3.3zM432.6 148.6h3.3v2.3h-3.3zM441.6 148.6h3.3v2.3h-3.3zM468.7 148.6h6.3v2.3h-6.3zM510.8 148.6h3.3v2.3h-3.3zM564.9 148.6h3.3v2.3h-3.3zM200.9 150.6h9.3v2.3h-9.3zM351.3 150.6h3.3v2.3h-3.3zM366.4 150.6h3.3v2.3h-3.3zM441.6 150.6h6.3v2.3h-6.3zM471.7 150.6h3.3v2.3h-3.3zM495.7 150.6h3.3v2.3h-3.3zM504.8 150.6h6.3v2.3h-6.3zM212.9 152.6h3.3v2.3h-3.3zM300.2 152.6h3.3v2.3h-3.3zM312.2 152.6h3.3v2.3h-3.3zM318.2 152.6h3.3v2.3h-3.3zM324.3 152.6h9.3v2.3h-9.3zM447.6 152.6h3.3v2.3h-3.3zM453.6 152.6h3.3v2.3h-3.3zM480.7 152.6h3.3v2.3h-3.3zM489.7 152.6h6.3v2.3h-6.3zM216 154.6h3.3v2.3h-3.3zM300.2 154.6h3.3v2.3h-3.3zM309.2 154.6h3.3v2.3h-3.3zM402.5 154.6h3.3v2.3h-3.3zM450.6 154.6h3.3v2.3h-3.3zM483.7 154.6h6.3v2.3h-6.3zM219 156.6h3.3v2.3h-3.3zM285.1 156.6h3.3v2.3h-3.3zM297.2 156.6h3.3v2.3h-3.3zM381.4 156.6h3.3v2.3h-3.3zM393.4 156.6h6.3v2.3h-6.3zM282.1 158.6h3.3v2.3h-3.3zM586 158.6h6.3v2.3h-6.3zM240 160.6h6.3v2.3h-6.3zM273.1 162.6h6.3v2.3h-6.3z"/>
<path fill="#e84800" d="M170.8 40.5h3.3v2.3h-3.3zM50.5 42.5h6.3v2.3h-6.3zM59.5 42.5h3.3v2.3h-3.3zM161.8 44.5h6.3v2.3h-6.3zM173.8 44.5h3.3v2.3h-3.3zM68.5 46.5h3.3v2.3h-3.3zM71.6 50.5h6.3v2.3h-6.3zM77.6 52.5h3.3v2.3h-3.3zM77.6 54.5h3.3v2.3h-3.3zM152.8 54.5h3.3v2.3h-3.3zM580 54.5h3.3v2.3h-3.3zM574 56.5h3.3v2.3h-3.3zM574 58.5h3.3v2.3h-3.3zM176.8 60.5h3.3v2.3h-3.3zM570.9 60.5h3.3v2.3h-3.3zM589 60.5h3.3v2.3h-3.3zM80.6 62.5h3.3v2.3h-3.3zM149.8 62.5h3.3v2.3h-3.3zM513.8 62.5h3.3v2.3h-3.3zM570.9 62.5h3.3v2.3h-3.3zM577 62.5h3.3v2.3h-3.3zM589 62.5h3.3v2.3h-3.3zM149.8 64.5h3.3v2.3h-3.3zM567.9 64.5h6.3v2.3h-6.3zM589 64.5h3.3v2.3h-3.3zM567.9 66.5h6.3v2.3h-6.3zM586 66.5h6.3v2.3h-6.3zM567.9 68.5h6.3v2.3h-6.3zM586 68.5h6.3v2.3h-6.3zM567.9 70.5h3.3v2.3h-3.3zM586 70.5h3.3v2.3h-3.3zM80.6 72.5h3.3v2.3h-3.3zM586 72.5h3.3v2.3h-3.3zM146.8 74.5h3.3v2.3h-3.3zM513.8 74.5h3.3v2.3h-3.3zM586 74.5h3.3v2.3h-3.3zM83.6 76.5h6.3v2.3h-6.3zM98.6 76.5h3.3v2.3h-3.3zM513.8 76.5h3.3v2.3h-3.3zM89.6 78.5h6.3v2.3h-6.3zM101.6 78.5h3.3v2.3h-3.3zM143.8 78.5h3.3v2.3h-3.3zM510.8 78.5h3.3v2.3h-3.3zM552.9 78.5h3.3v2.3h-3.3zM558.9 78.5h3.3v2.3h-3.3zM110.7 82.5h3.3v2.3h-3.3zM140.8 82.5h3.3v2.3h-3.3zM531.8 82.5h3.3v2.3h-3.3zM119.7 84.5h3.3v2.3h-3.3zM546.9 84.5h9.3v2.3h-9.3zM122.7 86.5h3.3v2.3h-3.3zM179.9 86.5h6.3v2.3h-6.3zM501.8 86.5h3.3v2.3h-3.3zM528.8 86.5h3.3v2.3h-3.3zM552.9 86.5h3.3v2.3h-3.3zM125.7 88.5h6.3v2.3h-6.3zM513.8 88.5h3.3v2.3h-3.3zM185.9 90.5h3.3v2.3h-3.3zM549.9 90.5h6.3v2.3h-6.3zM510.8 92.5h3.3v2.3h-3.3zM552.9 92.5h3.3v2.3h-3.3zM525.8 96.5h3.3v2.3h-3.3zM507.8 98.5h3.3v2.3h-3.3zM561.9 98.5h3.3v2.3h-3.3zM188.9 100.5h3.3v2.3h-3.3zM537.9 100.5h3.3v2.3h-3.3zM546.9 100.5h3.3v2.3h-3.3zM191.9 102.6h3.3v2.3h-3.3zM537.9 102.6h3.3v2.3h-3.3zM53.5 104.6h3.3v2.3h-3.3zM537.9 104.6h3.3v2.3h-3.3zM589 104.6h3.3v2.3h-3.3zM480.7 106.6h3.3v2.3h-3.3zM489.7 106.6h3.3v2.3h-3.3zM543.9 106.6h3.3v2.3h-3.3zM583 106.6h3.3v2.3h-3.3zM155.8 108.6h3.3v2.3h-3.3zM197.9 108.6h3.3v2.3h-3.3zM486.7 108.6h3.3v2.3h-3.3zM501.8 108.6h3.3v2.3h-3.3zM477.7 110.6h9.3v2.3h-9.3zM501.8 110.6h3.3v2.3h-3.3zM519.8 110.6h6.3v2.3h-6.3zM480.7 112.6h6.3v2.3h-6.3zM501.8 112.6h3.3v2.3h-3.3zM519.8 112.6h3.3v2.3h-3.3zM122.7 114.6h3.3v2.3h-3.3zM131.7 114.6h3.3v2.3h-3.3zM459.6 114.6h3.3v2.3h-3.3zM483.7 114.6h3.3v2.3h-3.3zM580 114.6h3.3v2.3h-3.3zM119.7 116.6h3.3v2.3h-3.3zM203.9 116.6h3.3v2.3h-3.3zM462.6 116.6h3.3v2.3h-3.3zM483.7 116.6h3.3v2.3h-3.3zM510.8 116.6h3.3v2.3h-3.3zM589 116.6h3.3v2.3h-3.3zM465.6 118.6h3.3v2.3h-3.3zM477.7 118.6h9.3v2.3h-9.3zM507.8 118.6h3.3v2.3h-3.3zM567.9 118.6h3.3v2.3h-3.3zM586 118.6h3.3v2.3h-3.3zM98.6 120.6h3.3v2.3h-3.3zM206.9 120.6h3.3v2.3h-3.3zM396.5 120.6h3.3v2.3h-3.3zM408.5 120.6h3.3v2.3h-3.3zM456.6 120.6h3.3v2.3h-3.3zM477.7 120.6h3.3v2.3h-3.3zM504.8 120.6h3.3v2.3h-3.3zM209.9 122.6h3.3v2.3h-3.3zM252.1 122.6h6.3v2.3h-6.3zM390.4 122.6h3.3v2.3h-3.3zM396.5 122.6h3.3v2.3h-3.3zM59.5 124.6h3.3v2.3h-3.3zM249.1 124.6h3.3v2.3h-3.3zM258.1 124.6h3.3v2.3h-3.3zM348.3 124.6h3.3v2.3h-3.3zM366.4 124.6h3.3v2.3h-3.3zM384.4 124.6h3.3v2.3h-3.3zM414.5 124.6h3.3v2.3h-3.3zM453.6 124.6h3.3v2.3h-3.3zM59.5 126.6h3.3v2.3h-3.3zM216 126.6h3.3v2.3h-3.3zM246 126.6h3.3v2.3h-3.3zM387.4 126.6h3.3v2.3h-3.3zM450.6 126.6h3.3v2.3h-3.3zM74.6 128.6h3.3v2.3h-3.3zM219 128.6h9.3v2.3h-9.3zM231 128.6h3.3v2.3h-3.3zM237 128.6h3.3v2.3h-3.3zM378.4 128.6h3.3v2.3h-3.3zM426.5 128.6h3.3v2.3h-3.3zM444.6 128.6h3.3v2.3h-3.3zM234 130.6h3.3v2.3h-3.3zM294.2 130.6h9.3v2.3h-9.3zM327.3 130.6h3.3v2.3h-3.3zM375.4 130.6h3.3v2.3h-3.3zM71.6 132.6h3.3v2.3h-3.3zM276.1 132.6h3.3v2.3h-3.3zM68.5 134.6h3.3v2.3h-3.3zM167.8 134.6h3.3v2.3h-3.3zM288.2 134.6h3.3v2.3h-3.3zM435.6 134.6h6.3v2.3h-6.3zM522.8 134.6h3.3v2.3h-3.3zM537.9 134.6h3.3v2.3h-3.3zM462.6 136.6h3.3v2.3h-3.3zM519.8 136.6h3.3v2.3h-3.3zM173.8 138.6h3.3v2.3h-3.3zM525.8 138.6h3.3v2.3h-3.3zM516.8 140.6h3.3v2.3h-3.3zM179.9 142.6h3.3v2.3h-3.3zM441.6 142.6h3.3v2.3h-3.3zM468.7 142.6h6.3v2.3h-6.3zM513.8 142.6h3.3v2.3h-3.3zM182.9 144.6h3.3v2.3h-3.3zM453.6 144.6h3.3v2.3h-3.3zM492.7 144.6h6.3v2.3h-6.3zM507.8 144.6h3.3v2.3h-3.3zM498.7 146.6h3.3v2.3h-3.3zM504.8 146.6h3.3v2.3h-3.3zM567.9 146.6h3.3v2.3h-3.3zM197.9 148.6h3.3v2.3h-3.3zM351.3 148.6h3.3v2.3h-3.3zM366.4 148.6h3.3v2.3h-3.3zM423.5 148.6h3.3v2.3h-3.3zM570.9 148.6h6.3v2.3h-6.3zM216 150.6h3.3v2.3h-3.3zM300.2 150.6h3.3v2.3h-3.3zM309.2 150.6h3.3v2.3h-3.3zM342.3 150.6h3.3v2.3h-3.3zM372.4 150.6h3.3v2.3h-3.3zM402.5 150.6h3.3v2.3h-3.3zM219 152.6h3.3v2.3h-3.3zM297.2 152.6h3.3v2.3h-3.3zM399.5 152.6h3.3v2.3h-3.3zM222 154.6h3.3v2.3h-3.3zM288.2 154.6h3.3v2.3h-3.3zM294.2 154.6h3.3v2.3h-3.3zM580 154.6h3.3v2.3h-3.3zM586 154.6h3.3v2.3h-3.3zM282.1 156.6h3.3v2.3h-3.3zM273.1 158.6h3.3v2.3h-3.3zM249.1 162.6h9.3v2.3h-9.3zM270.1 162.6h3.3v2.3h-3.3z"/>
<path fill="#ff2800" d="M56.5 42.5h3.3v2.3h-3.3zM53.5 44.5h3.3v2.3h-3.3zM158.8 46.5h3.3v2.3h-3.3zM164.8 46.5h3.3v2.3h-3.3zM173.8 46.5h3.3v2.3h-3.3zM68.5 50.5h3.3v2.3h-3.3zM71.6 54.5h6.3v2.3h-6.3zM74.6 56.5h3.3v2.3h-3.3zM152.8 56.5h3.3v2.3h-3.3zM577 56.5h3.3v2.3h-3.3zM577 58.5h3.3v2.3h-3.3zM77.6 62.5h3.3v2.3h-3.3zM574 62.5h3.3v2.3h-3.3zM77.6 64.5h3.3v2.3h-3.3zM77.6 66.5h3.3v2.3h-3.3zM513.8 66.5h3.3v2.3h-3.3zM77.6 68.5h3.3v2.3h-3.3zM513.8 68.5h3.3v2.3h-3.3zM77.6 70.5h3.3v2.3h-3.3zM149.8 70.5h3.3v2.3h-3.3zM513.8 70.5h3.3v2.3h-3.3zM176.8 72.5h3.3v2.3h-3.3zM80.6 76.5h3.3v2.3h-3.3zM80.6 78.5h3.3v2.3h-3.3zM95.6 78.5h6.3v2.3h-6.3zM83.6 80.5h6.3v2.3h-6.3zM92.6 80.5h3.3v2.3h-3.3zM101.6 80.5h3.3v2.3h-3.3zM146.8 80.5h3.3v2.3h-3.3zM507.8 80.5h3.3v2.3h-3.3zM513.8 80.5h3.3v2.3h-3.3zM558.9 80.5h3.3v2.3h-3.3zM89.6 82.5h3.3v2.3h-3.3zM137.7 82.5h3.3v2.3h-3.3zM143.8 82.5h3.3v2.3h-3.3zM510.8 82.5h3.3v2.3h-3.3zM561.9 82.5h3.3v2.3h-3.3zM110.7 84.5h3.3v2.3h-3.3zM134.7 84.5h3.3v2.3h-3.3zM140.8 84.5h3.3v2.3h-3.3zM531.8 84.5h3.3v2.3h-3.3zM543.9 84.5h3.3v2.3h-3.3zM555.9 84.5h3.3v2.3h-3.3zM140.8 86.5h3.3v2.3h-3.3zM510.8 86.5h6.3v2.3h-6.3zM543.9 86.5h6.3v2.3h-6.3zM555.9 86.5h3.3v2.3h-3.3zM113.7 88.5h3.3v2.3h-3.3zM122.7 88.5h3.3v2.3h-3.3zM501.8 88.5h3.3v2.3h-3.3zM543.9 88.5h3.3v2.3h-3.3zM125.7 90.5h3.3v2.3h-3.3zM179.9 90.5h6.3v2.3h-6.3zM528.8 90.5h3.3v2.3h-3.3zM128.7 92.5h3.3v2.3h-3.3zM179.9 92.5h3.3v2.3h-3.3zM507.8 92.5h3.3v2.3h-3.3zM528.8 92.5h3.3v2.3h-3.3zM128.7 94.5h3.3v2.3h-3.3zM179.9 94.5h3.3v2.3h-3.3zM528.8 94.5h3.3v2.3h-3.3zM185.9 96.5h3.3v2.3h-3.3zM498.7 96.5h3.3v2.3h-3.3zM540.9 96.5h3.3v2.3h-3.3zM546.9 96.5h3.3v2.3h-3.3zM552.9 96.5h3.3v2.3h-3.3zM561.9 96.5h3.3v2.3h-3.3zM185.9 98.5h3.3v2.3h-3.3zM537.9 98.5h6.3v2.3h-6.3zM128.7 100.5h3.3v2.3h-3.3zM495.7 100.5h3.3v2.3h-3.3zM501.8 100.5h6.3v2.3h-6.3zM540.9 100.5h3.3v2.3h-3.3zM549.9 100.5h3.3v2.3h-3.3zM53.5 102.6h3.3v2.3h-3.3zM125.7 102.6h6.3v2.3h-6.3zM137.7 102.6h3.3v2.3h-3.3zM501.8 102.6h3.3v2.3h-3.3zM543.9 102.6h3.3v2.3h-3.3zM50.5 104.6h3.3v2.3h-3.3zM125.7 104.6h6.3v2.3h-6.3zM137.7 104.6h3.3v2.3h-3.3zM188.9 104.6h3.3v2.3h-3.3zM492.7 104.6h3.3v2.3h-3.3zM534.8 104.6h3.3v2.3h-3.3zM546.9 104.6h3.3v2.3h-3.3zM125.7 106.6h3.3v2.3h-3.3zM158.8 106.6h3.3v2.3h-3.3zM519.8 106.6h3.3v2.3h-3.3zM534.8 106.6h3.3v2.3h-3.3zM540.9 106.6h3.3v2.3h-3.3zM558.9 106.6h3.3v2.3h-3.3zM164.8 108.6h3.3v2.3h-3.3zM194.9 108.6h3.3v2.3h-3.3zM498.7 108.6h3.3v2.3h-3.3zM522.8 108.6h3.3v2.3h-3.3zM558.9 108.6h3.3v2.3h-3.3zM197.9 110.6h3.3v2.3h-3.3zM489.7 110.6h3.3v2.3h-3.3zM498.7 110.6h3.3v2.3h-3.3zM525.8 110.6h3.3v2.3h-3.3zM543.9 110.6h3.3v2.3h-3.3zM558.9 110.6h3.3v2.3h-3.3zM122.7 112.6h3.3v2.3h-3.3zM134.7 112.6h3.3v2.3h-3.3zM152.8 112.6h3.3v2.3h-3.3zM119.7 114.6h3.3v2.3h-3.3zM167.8 114.6h3.3v2.3h-3.3zM522.8 114.6h3.3v2.3h-3.3zM570.9 114.6h3.3v2.3h-3.3zM167.8 116.6h3.3v2.3h-3.3zM474.7 116.6h3.3v2.3h-3.3zM486.7 116.6h3.3v2.3h-3.3zM516.8 116.6h6.3v2.3h-6.3zM110.7 118.6h3.3v2.3h-3.3zM116.7 118.6h3.3v2.3h-3.3zM200.9 118.6h3.3v2.3h-3.3zM459.6 118.6h3.3v2.3h-3.3zM471.7 118.6h3.3v2.3h-3.3zM501.8 118.6h3.3v2.3h-3.3zM513.8 118.6h3.3v2.3h-3.3zM200.9 120.6h3.3v2.3h-3.3zM462.6 120.6h6.3v2.3h-6.3zM501.8 120.6h3.3v2.3h-3.3zM507.8 120.6h3.3v2.3h-3.3zM574 120.6h3.3v2.3h-3.3zM586 120.6h3.3v2.3h-3.3zM200.9 122.6h9.3v2.3h-9.3zM393.4 122.6h3.3v2.3h-3.3zM399.5 122.6h3.3v2.3h-3.3zM504.8 122.6h3.3v2.3h-3.3zM580 122.6h3.3v2.3h-3.3zM92.6 124.6h3.3v2.3h-3.3zM351.3 124.6h3.3v2.3h-3.3zM390.4 124.6h3.3v2.3h-3.3zM408.5 124.6h3.3v2.3h-3.3zM420.5 124.6h6.3v2.3h-6.3zM456.6 124.6h3.3v2.3h-3.3zM477.7 124.6h6.3v2.3h-6.3zM537.9 124.6h3.3v2.3h-3.3zM74.6 126.6h9.3v2.3h-9.3zM89.6 126.6h3.3v2.3h-3.3zM167.8 126.6h3.3v2.3h-3.3zM209.9 126.6h3.3v2.3h-3.3zM249.1 126.6h3.3v2.3h-3.3zM354.3 126.6h3.3v2.3h-3.3zM366.4 126.6h3.3v2.3h-3.3zM372.4 126.6h3.3v2.3h-3.3zM396.5 126.6h3.3v2.3h-3.3zM411.5 126.6h3.3v2.3h-3.3zM417.5 126.6h3.3v2.3h-3.3zM423.5 126.6h3.3v2.3h-3.3zM453.6 126.6h3.3v2.3h-3.3zM477.7 126.6h6.3v2.3h-6.3zM167.8 128.6h3.3v2.3h-3.3zM216 128.6h3.3v2.3h-3.3zM240 128.6h3.3v2.3h-3.3zM264.1 128.6h3.3v2.3h-3.3zM330.3 128.6h3.3v2.3h-3.3zM342.3 128.6h3.3v2.3h-3.3zM393.4 128.6h3.3v2.3h-3.3zM423.5 128.6h3.3v2.3h-3.3zM450.6 128.6h3.3v2.3h-3.3zM474.7 128.6h9.3v2.3h-9.3zM167.8 130.6h3.3v2.3h-3.3zM219 130.6h9.3v2.3h-9.3zM231 130.6h3.3v2.3h-3.3zM270.1 130.6h6.3v2.3h-6.3zM309.2 130.6h3.3v2.3h-3.3zM315.2 130.6h3.3v2.3h-3.3zM336.3 130.6h3.3v2.3h-3.3zM381.4 130.6h9.3v2.3h-9.3zM393.4 130.6h3.3v2.3h-3.3zM426.5 130.6h6.3v2.3h-6.3zM447.6 130.6h3.3v2.3h-3.3zM474.7 130.6h3.3v2.3h-3.3zM522.8 130.6h3.3v2.3h-3.3zM534.8 130.6h3.3v2.3h-3.3zM167.8 132.6h3.3v2.3h-3.3zM234 132.6h3.3v2.3h-3.3zM282.1 132.6h6.3v2.3h-6.3zM294.2 132.6h3.3v2.3h-3.3zM300.2 132.6h3.3v2.3h-3.3zM324.3 132.6h6.3v2.3h-6.3zM375.4 132.6h9.3v2.3h-9.3zM393.4 132.6h3.3v2.3h-3.3zM444.6 132.6h3.3v2.3h-3.3zM474.7 132.6h3.3v2.3h-3.3zM62.5 134.6h3.3v2.3h-3.3zM456.6 134.6h3.3v2.3h-3.3zM471.7 134.6h6.3v2.3h-6.3zM528.8 134.6h3.3v2.3h-3.3zM540.9 134.6h6.3v2.3h-6.3zM555.9 134.6h6.3v2.3h-6.3zM173.8 136.6h3.3v2.3h-3.3zM288.2 136.6h3.3v2.3h-3.3zM432.6 136.6h12.3v2.3h-12.3zM471.7 136.6h9.3v2.3h-9.3zM525.8 136.6h3.3v2.3h-3.3zM453.6 138.6h3.3v2.3h-3.3zM465.6 138.6h3.3v2.3h-3.3zM471.7 138.6h3.3v2.3h-3.3zM495.7 138.6h3.3v2.3h-3.3zM516.8 138.6h3.3v2.3h-3.3zM176.8 140.6h3.3v2.3h-3.3zM432.6 140.6h9.3v2.3h-9.3zM453.6 140.6h3.3v2.3h-3.3zM492.7 140.6h3.3v2.3h-3.3zM510.8 140.6h6.3v2.3h-6.3zM444.6 142.6h3.3v2.3h-3.3zM498.7 142.6h3.3v2.3h-3.3zM564.9 142.6h3.3v2.3h-3.3zM429.6 144.6h3.3v2.3h-3.3zM474.7 144.6h3.3v2.3h-3.3zM489.7 144.6h3.3v2.3h-3.3zM501.8 144.6h6.3v2.3h-6.3zM567.9 144.6h3.3v2.3h-3.3zM185.9 146.6h3.3v2.3h-3.3zM474.7 146.6h3.3v2.3h-3.3zM486.7 146.6h3.3v2.3h-3.3zM209.9 148.6h3.3v2.3h-3.3zM312.2 148.6h9.3v2.3h-9.3zM324.3 148.6h6.3v2.3h-6.3zM345.3 148.6h3.3v2.3h-3.3zM357.4 148.6h3.3v2.3h-3.3zM363.4 148.6h3.3v2.3h-3.3zM405.5 148.6h9.3v2.3h-9.3zM477.7 148.6h3.3v2.3h-3.3zM333.3 150.6h9.3v2.3h-9.3zM375.4 150.6h3.3v2.3h-3.3zM399.5 150.6h3.3v2.3h-3.3zM396.5 152.6h3.3v2.3h-3.3zM580 152.6h3.3v2.3h-3.3zM228 154.6h6.3v2.3h-6.3zM234 156.6h12.3v2.3h-12.3zM249.1 160.6h3.3v2.3h-3.3zM261.1 162.6h6.3v2.3h-6.3z"/>
<path fill="#ff6000" d="M65.5 42.5h6.3v2.3h-6.3zM68.5 44.5h3.3v2.3h-3.3zM155.8 46.5h3.3v2.3h-3.3zM74.6 48.5h6.3v2.3h-6.3zM77.6 50.5h3.3v2.3h-3.3zM152.8 52.5h3.3v2.3h-3.3zM574 54.5h3.3v2.3h-3.3zM580 56.5h3.3v2.3h-3.3zM589 56.5h3.3v2.3h-3.3zM80.6 58.5h3.3v2.3h-3.3zM176.8 58.5h3.3v2.3h-3.3zM570.9 58.5h3.3v2.3h-3.3zM586 58.5h6.3v2.3h-6.3zM80.6 60.5h3.3v2.3h-3.3zM149.8 60.5h3.3v2.3h-3.3zM586 60.5h3.3v2.3h-3.3zM567.9 62.5h3.3v2.3h-3.3zM583 62.5h6.3v2.3h-6.3zM80.6 64.5h3.3v2.3h-3.3zM583 64.5h6.3v2.3h-6.3zM80.6 66.5h3.3v2.3h-3.3zM574 66.5h3.3v2.3h-3.3zM583 66.5h3.3v2.3h-3.3zM80.6 68.5h3.3v2.3h-3.3zM80.6 70.5h3.3v2.3h-3.3zM146.8 70.5h3.3v2.3h-3.3zM570.9 70.5h3.3v2.3h-3.3zM589 70.5h3.3v2.3h-3.3zM146.8 72.5h3.3v2.3h-3.3zM510.8 72.5h3.3v2.3h-3.3zM589 72.5h3.3v2.3h-3.3zM83.6 74.5h6.3v2.3h-6.3zM95.6 74.5h3.3v2.3h-3.3zM510.8 74.5h3.3v2.3h-3.3zM555.9 74.5h3.3v2.3h-3.3zM589 74.5h3.3v2.3h-3.3zM89.6 76.5h3.3v2.3h-3.3zM510.8 76.5h3.3v2.3h-3.3zM555.9 76.5h3.3v2.3h-3.3zM586 76.5h6.3v2.3h-6.3zM137.7 78.5h3.3v2.3h-3.3zM507.8 78.5h3.3v2.3h-3.3zM555.9 78.5h3.3v2.3h-3.3zM561.9 78.5h3.3v2.3h-3.3zM134.7 80.5h3.3v2.3h-3.3zM140.8 80.5h3.3v2.3h-3.3zM537.9 80.5h3.3v2.3h-3.3zM555.9 80.5h3.3v2.3h-3.3zM104.7 82.5h3.3v2.3h-3.3zM549.9 82.5h3.3v2.3h-3.3zM564.9 82.5h3.3v2.3h-3.3zM113.7 84.5h3.3v2.3h-3.3zM122.7 84.5h3.3v2.3h-3.3zM179.9 84.5h6.3v2.3h-6.3zM564.9 84.5h3.3v2.3h-3.3zM116.7 86.5h3.3v2.3h-3.3zM125.7 86.5h3.3v2.3h-3.3zM131.7 86.5h3.3v2.3h-3.3zM185.9 86.5h3.3v2.3h-3.3zM185.9 88.5h3.3v2.3h-3.3zM552.9 88.5h3.3v2.3h-3.3zM513.8 90.5h3.3v2.3h-3.3zM498.7 92.5h3.3v2.3h-3.3zM510.8 94.5h3.3v2.3h-3.3zM525.8 94.5h3.3v2.3h-3.3zM188.9 96.5h3.3v2.3h-3.3zM188.9 98.5h3.3v2.3h-3.3zM495.7 98.5h3.3v2.3h-3.3zM549.9 98.5h3.3v2.3h-3.3zM191.9 100.5h3.3v2.3h-3.3zM507.8 100.5h3.3v2.3h-3.3zM519.8 100.5h3.3v2.3h-3.3zM561.9 100.5h3.3v2.3h-3.3zM492.7 102.6h3.3v2.3h-3.3zM483.7 104.6h3.3v2.3h-3.3zM489.7 104.6h3.3v2.3h-3.3zM504.8 104.6h3.3v2.3h-3.3zM561.9 104.6h3.3v2.3h-3.3zM483.7 106.6h6.3v2.3h-6.3zM504.8 106.6h3.3v2.3h-3.3zM567.9 106.6h6.3v2.3h-6.3zM158.8 108.6h3.3v2.3h-3.3zM483.7 108.6h3.3v2.3h-3.3zM155.8 110.6h3.3v2.3h-3.3zM459.6 112.6h3.3v2.3h-3.3zM474.7 112.6h3.3v2.3h-3.3zM516.8 112.6h3.3v2.3h-3.3zM128.7 114.6h3.3v2.3h-3.3zM200.9 114.6h3.3v2.3h-3.3zM471.7 114.6h3.3v2.3h-3.3zM480.7 114.6h3.3v2.3h-3.3zM402.5 116.6h3.3v2.3h-3.3zM468.7 116.6h3.3v2.3h-3.3zM480.7 116.6h3.3v2.3h-3.3zM507.8 116.6h3.3v2.3h-3.3zM570.9 116.6h6.3v2.3h-6.3zM583 116.6h3.3v2.3h-3.3zM206.9 118.6h3.3v2.3h-3.3zM396.5 118.6h3.3v2.3h-3.3zM408.5 118.6h3.3v2.3h-3.3zM456.6 118.6h3.3v2.3h-3.3zM504.8 118.6h3.3v2.3h-3.3zM570.9 118.6h3.3v2.3h-3.3zM589 118.6h3.3v2.3h-3.3zM101.6 120.6h3.3v2.3h-3.3zM107.7 120.6h3.3v2.3h-3.3zM209.9 120.6h3.3v2.3h-3.3zM399.5 120.6h3.3v2.3h-3.3zM577 120.6h6.3v2.3h-6.3zM351.3 122.6h6.3v2.3h-6.3zM372.4 122.6h3.3v2.3h-3.3zM411.5 122.6h3.3v2.3h-3.3zM420.5 122.6h6.3v2.3h-6.3zM453.6 122.6h3.3v2.3h-3.3zM212.9 124.6h3.3v2.3h-3.3zM357.4 124.6h9.3v2.3h-9.3zM387.4 124.6h3.3v2.3h-3.3zM219 126.6h6.3v2.3h-6.3zM228 126.6h3.3v2.3h-3.3zM240 126.6h3.3v2.3h-3.3zM378.4 126.6h3.3v2.3h-3.3zM429.6 126.6h3.3v2.3h-3.3zM444.6 126.6h6.3v2.3h-6.3zM59.5 128.6h3.3v2.3h-3.3zM77.6 128.6h3.3v2.3h-3.3zM270.1 128.6h3.3v2.3h-3.3zM318.2 128.6h3.3v2.3h-3.3zM333.3 128.6h3.3v2.3h-3.3zM375.4 128.6h3.3v2.3h-3.3zM59.5 130.6h3.3v2.3h-3.3zM74.6 130.6h3.3v2.3h-3.3zM285.1 130.6h3.3v2.3h-3.3zM324.3 130.6h3.3v2.3h-3.3zM441.6 130.6h3.3v2.3h-3.3zM432.6 132.6h12.3v2.3h-12.3zM534.8 134.6h3.3v2.3h-3.3zM549.9 134.6h3.3v2.3h-3.3zM62.5 136.6h3.3v2.3h-3.3zM456.6 136.6h3.3v2.3h-3.3zM522.8 136.6h3.3v2.3h-3.3zM528.8 136.6h3.3v2.3h-3.3zM170.8 138.6h3.3v2.3h-3.3zM519.8 138.6h6.3v2.3h-6.3zM522.8 140.6h3.3v2.3h-3.3zM176.8 142.6h3.3v2.3h-3.3zM465.6 142.6h3.3v2.3h-3.3zM432.6 144.6h12.3v2.3h-12.3zM471.7 144.6h3.3v2.3h-3.3zM510.8 144.6h3.3v2.3h-3.3zM429.6 146.6h3.3v2.3h-3.3zM444.6 146.6h3.3v2.3h-3.3zM453.6 146.6h3.3v2.3h-3.3zM492.7 146.6h6.3v2.3h-6.3zM188.9 148.6h3.3v2.3h-3.3zM194.9 148.6h3.3v2.3h-3.3zM447.6 148.6h3.3v2.3h-3.3zM453.6 148.6h3.3v2.3h-3.3zM489.7 148.6h3.3v2.3h-3.3zM498.7 148.6h6.3v2.3h-6.3zM212.9 150.6h3.3v2.3h-3.3zM312.2 150.6h3.3v2.3h-3.3zM360.4 150.6h3.3v2.3h-3.3zM405.5 150.6h3.3v2.3h-3.3zM486.7 150.6h3.3v2.3h-3.3zM577 150.6h3.3v2.3h-3.3zM306.2 152.6h3.3v2.3h-3.3zM378.4 152.6h3.3v2.3h-3.3zM285.1 154.6h3.3v2.3h-3.3zM396.5 154.6h3.3v2.3h-3.3zM583 154.6h3.3v2.3h-3.3zM225 156.6h3.3v2.3h-3.3zM589 156.6h3.3v2.3h-3.3zM246 160.6h3.3v2.3h-3.3z"/>
<path fill="#ff1000" d="M170.8 42.5h3.3v2.3h-3.3zM50.5 46.5h3.3v2.3h-3.3zM59.5 46.5h9.3v2.3h-9.3zM161.8 46.5h3.3v2.3h-3.3zM167.8 46.5h3.3v2.3h-3.3zM155.8 48.5h3.3v2.3h-3.3zM173.8 48.5h3.3v2.3h-3.3zM155.8 50.5h3.3v2.3h-3.3zM173.8 50.5h3.3v2.3h-3.3zM68.5 52.5h3.3v2.3h-3.3zM173.8 52.5h3.3v2.3h-3.3zM68.5 54.5h3.3v2.3h-3.3zM173.8 54.5h3.3v2.3h-3.3zM71.6 56.5h3.3v2.3h-3.3zM173.8 56.5h3.3v2.3h-3.3zM71.6 58.5h6.3v2.3h-6.3zM152.8 58.5h3.3v2.3h-3.3zM71.6 60.5h6.3v2.3h-6.3zM71.6 62.5h6.3v2.3h-6.3zM74.6 64.5h3.3v2.3h-3.3zM74.6 66.5h3.3v2.3h-3.3zM74.6 68.5h3.3v2.3h-3.3zM74.6 70.5h3.3v2.3h-3.3zM77.6 72.5h3.3v2.3h-3.3zM176.8 74.5h3.3v2.3h-3.3zM176.8 76.5h3.3v2.3h-3.3zM176.8 78.5h3.3v2.3h-3.3zM80.6 80.5h3.3v2.3h-3.3zM83.6 82.5h6.3v2.3h-6.3zM92.6 82.5h3.3v2.3h-3.3zM101.6 82.5h3.3v2.3h-3.3zM146.8 82.5h3.3v2.3h-3.3zM507.8 82.5h3.3v2.3h-3.3zM513.8 82.5h3.3v2.3h-3.3zM537.9 82.5h3.3v2.3h-3.3zM89.6 84.5h3.3v2.3h-3.3zM137.7 84.5h3.3v2.3h-3.3zM143.8 84.5h3.3v2.3h-3.3zM507.8 84.5h9.3v2.3h-9.3zM534.8 84.5h3.3v2.3h-3.3zM561.9 84.5h3.3v2.3h-3.3zM104.7 86.5h6.3v2.3h-6.3zM137.7 86.5h3.3v2.3h-3.3zM507.8 86.5h3.3v2.3h-3.3zM531.8 86.5h6.3v2.3h-6.3zM561.9 86.5h3.3v2.3h-3.3zM119.7 88.5h3.3v2.3h-3.3zM140.8 88.5h3.3v2.3h-3.3zM507.8 88.5h3.3v2.3h-3.3zM531.8 88.5h3.3v2.3h-3.3zM555.9 88.5h3.3v2.3h-3.3zM113.7 90.5h6.3v2.3h-6.3zM122.7 90.5h3.3v2.3h-3.3zM131.7 90.5h3.3v2.3h-3.3zM507.8 90.5h3.3v2.3h-3.3zM543.9 90.5h3.3v2.3h-3.3zM125.7 92.5h3.3v2.3h-3.3zM182.9 92.5h3.3v2.3h-3.3zM540.9 92.5h3.3v2.3h-3.3zM125.7 94.5h3.3v2.3h-3.3zM540.9 94.5h3.3v2.3h-3.3zM546.9 94.5h3.3v2.3h-3.3zM561.9 94.5h3.3v2.3h-3.3zM128.7 96.5h3.3v2.3h-3.3zM179.9 96.5h3.3v2.3h-3.3zM528.8 96.5h3.3v2.3h-3.3zM537.9 96.5h3.3v2.3h-3.3zM128.7 98.5h3.3v2.3h-3.3zM137.7 98.5h3.3v2.3h-3.3zM498.7 98.5h9.3v2.3h-9.3zM528.8 98.5h3.3v2.3h-3.3zM552.9 98.5h3.3v2.3h-3.3zM53.5 100.5h3.3v2.3h-3.3zM125.7 100.5h3.3v2.3h-3.3zM137.7 100.5h6.3v2.3h-6.3zM185.9 100.5h3.3v2.3h-3.3zM525.8 100.5h3.3v2.3h-3.3zM122.7 102.6h3.3v2.3h-3.3zM140.8 102.6h6.3v2.3h-6.3zM534.8 102.6h3.3v2.3h-3.3zM122.7 104.6h3.3v2.3h-3.3zM140.8 104.6h6.3v2.3h-6.3zM152.8 104.6h6.3v2.3h-6.3zM519.8 104.6h3.3v2.3h-3.3zM558.9 104.6h3.3v2.3h-3.3zM122.7 106.6h3.3v2.3h-3.3zM128.7 106.6h3.3v2.3h-3.3zM137.7 106.6h6.3v2.3h-6.3zM188.9 106.6h6.3v2.3h-6.3zM492.7 106.6h3.3v2.3h-3.3zM498.7 106.6h3.3v2.3h-3.3zM522.8 106.6h3.3v2.3h-3.3zM537.9 106.6h3.3v2.3h-3.3zM546.9 106.6h3.3v2.3h-3.3zM589 106.6h3.3v2.3h-3.3zM59.5 108.6h3.3v2.3h-3.3zM125.7 108.6h3.3v2.3h-3.3zM525.8 108.6h3.3v2.3h-3.3zM534.8 108.6h3.3v2.3h-3.3zM540.9 108.6h3.3v2.3h-3.3zM561.9 108.6h3.3v2.3h-3.3zM570.9 108.6h3.3v2.3h-3.3zM583 108.6h3.3v2.3h-3.3zM540.9 110.6h3.3v2.3h-3.3zM128.7 112.6h3.3v2.3h-3.3zM143.8 112.6h3.3v2.3h-3.3zM149.8 112.6h3.3v2.3h-3.3zM167.8 112.6h3.3v2.3h-3.3zM197.9 112.6h3.3v2.3h-3.3zM498.7 112.6h3.3v2.3h-3.3zM525.8 112.6h3.3v2.3h-3.3zM540.9 112.6h6.3v2.3h-6.3zM558.9 112.6h3.3v2.3h-3.3zM580 112.6h6.3v2.3h-6.3zM197.9 114.6h3.3v2.3h-3.3zM498.7 114.6h3.3v2.3h-3.3zM540.9 114.6h3.3v2.3h-3.3zM555.9 114.6h6.3v2.3h-6.3zM589 114.6h3.3v2.3h-3.3zM522.8 116.6h3.3v2.3h-3.3zM113.7 118.6h3.3v2.3h-3.3zM402.5 118.6h3.3v2.3h-3.3zM474.7 118.6h3.3v2.3h-3.3zM516.8 118.6h6.3v2.3h-6.3zM564.9 118.6h3.3v2.3h-3.3zM459.6 120.6h3.3v2.3h-3.3zM468.7 120.6h3.3v2.3h-3.3zM510.8 120.6h3.3v2.3h-3.3zM516.8 120.6h3.3v2.3h-3.3zM462.6 122.6h3.3v2.3h-3.3zM483.7 122.6h3.3v2.3h-3.3zM501.8 122.6h3.3v2.3h-3.3zM507.8 122.6h3.3v2.3h-3.3zM537.9 122.6h3.3v2.3h-3.3zM567.9 122.6h3.3v2.3h-3.3zM586 122.6h6.3v2.3h-6.3zM200.9 124.6h9.3v2.3h-9.3zM393.4 124.6h3.3v2.3h-3.3zM501.8 124.6h3.3v2.3h-3.3zM258.1 126.6h3.3v2.3h-3.3zM348.3 126.6h3.3v2.3h-3.3zM369.4 126.6h3.3v2.3h-3.3zM390.4 126.6h6.3v2.3h-6.3zM408.5 126.6h3.3v2.3h-3.3zM456.6 126.6h3.3v2.3h-3.3zM474.7 126.6h3.3v2.3h-3.3zM537.9 126.6h3.3v2.3h-3.3zM212.9 128.6h3.3v2.3h-3.3zM246 128.6h3.3v2.3h-3.3zM354.3 128.6h9.3v2.3h-9.3zM372.4 128.6h3.3v2.3h-3.3zM390.4 128.6h3.3v2.3h-3.3zM411.5 128.6h6.3v2.3h-6.3zM453.6 128.6h3.3v2.3h-3.3zM525.8 128.6h3.3v2.3h-3.3zM534.8 128.6h3.3v2.3h-3.3zM71.6 130.6h3.3v2.3h-3.3zM228 130.6h3.3v2.3h-3.3zM237 130.6h3.3v2.3h-3.3zM318.2 130.6h3.3v2.3h-3.3zM372.4 130.6h3.3v2.3h-3.3zM390.4 130.6h3.3v2.3h-3.3zM423.5 130.6h3.3v2.3h-3.3zM480.7 130.6h3.3v2.3h-3.3zM525.8 130.6h3.3v2.3h-3.3zM297.2 132.6h3.3v2.3h-3.3zM312.2 132.6h3.3v2.3h-3.3zM321.2 132.6h3.3v2.3h-3.3zM333.3 132.6h3.3v2.3h-3.3zM372.4 132.6h3.3v2.3h-3.3zM384.4 132.6h9.3v2.3h-9.3zM423.5 132.6h3.3v2.3h-3.3zM429.6 132.6h3.3v2.3h-3.3zM447.6 132.6h3.3v2.3h-3.3zM471.7 132.6h3.3v2.3h-3.3zM516.8 132.6h6.3v2.3h-6.3zM525.8 132.6h3.3v2.3h-3.3zM546.9 132.6h6.3v2.3h-6.3zM276.1 134.6h3.3v2.3h-3.3zM291.2 134.6h3.3v2.3h-3.3zM378.4 134.6h3.3v2.3h-3.3zM423.5 134.6h3.3v2.3h-3.3zM429.6 134.6h3.3v2.3h-3.3zM444.6 134.6h3.3v2.3h-3.3zM462.6 134.6h3.3v2.3h-3.3zM516.8 134.6h3.3v2.3h-3.3zM525.8 134.6h3.3v2.3h-3.3zM561.9 134.6h3.3v2.3h-3.3zM420.5 136.6h3.3v2.3h-3.3zM453.6 136.6h3.3v2.3h-3.3zM495.7 136.6h3.3v2.3h-3.3zM516.8 136.6h3.3v2.3h-3.3zM420.5 138.6h3.3v2.3h-3.3zM435.6 138.6h9.3v2.3h-9.3zM477.7 138.6h3.3v2.3h-3.3zM492.7 138.6h3.3v2.3h-3.3zM179.9 140.6h3.3v2.3h-3.3zM420.5 140.6h3.3v2.3h-3.3zM429.6 140.6h3.3v2.3h-3.3zM444.6 140.6h3.3v2.3h-3.3zM489.7 140.6h3.3v2.3h-3.3zM498.7 140.6h3.3v2.3h-3.3zM507.8 140.6h3.3v2.3h-3.3zM564.9 140.6h3.3v2.3h-3.3zM182.9 142.6h3.3v2.3h-3.3zM429.6 142.6h3.3v2.3h-3.3zM489.7 142.6h3.3v2.3h-3.3zM501.8 142.6h6.3v2.3h-6.3zM567.9 142.6h3.3v2.3h-3.3zM417.5 144.6h3.3v2.3h-3.3zM447.6 144.6h3.3v2.3h-3.3zM414.5 146.6h3.3v2.3h-3.3zM450.6 146.6h3.3v2.3h-3.3zM480.7 146.6h6.3v2.3h-6.3zM570.9 146.6h9.3v2.3h-9.3zM212.9 148.6h3.3v2.3h-3.3zM300.2 148.6h3.3v2.3h-3.3zM309.2 148.6h3.3v2.3h-3.3zM360.4 148.6h3.3v2.3h-3.3zM369.4 148.6h3.3v2.3h-3.3zM402.5 148.6h3.3v2.3h-3.3zM219 150.6h3.3v2.3h-3.3zM306.2 150.6h3.3v2.3h-3.3zM378.4 150.6h3.3v2.3h-3.3zM384.4 150.6h3.3v2.3h-3.3zM396.5 150.6h3.3v2.3h-3.3zM222 152.6h3.3v2.3h-3.3zM285.1 152.6h6.3v2.3h-6.3zM294.2 152.6h3.3v2.3h-3.3zM393.4 152.6h3.3v2.3h-3.3zM586 152.6h6.3v2.3h-6.3zM225 154.6h3.3v2.3h-3.3zM390.4 154.6h3.3v2.3h-3.3zM273.1 156.6h3.3v2.3h-3.3zM279.1 156.6h3.3v2.3h-3.3zM252.1 160.6h3.3v2.3h-3.3zM270.1 160.6h3.3v2.3h-3.3z"/>
<path fill="#f03800" d="M50.5 44.5h3.3v2.3h-3.3zM59.5 44.5h9.3v2.3h-9.3zM167.8 44.5h3.3v2.3h-3.3zM68.5 48.5h3.3v2.3h-3.3zM71.6 52.5h6.3v2.3h-6.3zM577 54.5h3.3v2.3h-3.3zM77.6 56.5h3.3v2.3h-3.3zM77.6 58.5h3.3v2.3h-3.3zM77.6 60.5h3.3v2.3h-3.3zM574 60.5h6.3v2.3h-6.3zM176.8 62.5h3.3v2.3h-3.3zM176.8 64.5h3.3v2.3h-3.3zM513.8 64.5h3.3v2.3h-3.3zM574 64.5h3.3v2.3h-3.3zM149.8 66.5h3.3v2.3h-3.3zM176.8 66.5h3.3v2.3h-3.3zM149.8 68.5h3.3v2.3h-3.3zM176.8 68.5h3.3v2.3h-3.3zM176.8 70.5h3.3v2.3h-3.3zM513.8 72.5h3.3v2.3h-3.3zM80.6 74.5h3.3v2.3h-3.3zM95.6 76.5h3.3v2.3h-3.3zM146.8 76.5h3.3v2.3h-3.3zM83.6 78.5h6.3v2.3h-6.3zM146.8 78.5h3.3v2.3h-3.3zM513.8 78.5h3.3v2.3h-3.3zM89.6 80.5h3.3v2.3h-3.3zM137.7 80.5h3.3v2.3h-3.3zM143.8 80.5h3.3v2.3h-3.3zM510.8 80.5h3.3v2.3h-3.3zM540.9 80.5h3.3v2.3h-3.3zM552.9 80.5h3.3v2.3h-3.3zM561.9 80.5h3.3v2.3h-3.3zM134.7 82.5h3.3v2.3h-3.3zM504.8 82.5h3.3v2.3h-3.3zM534.8 82.5h3.3v2.3h-3.3zM543.9 82.5h3.3v2.3h-3.3zM552.9 82.5h6.3v2.3h-6.3zM104.7 84.5h6.3v2.3h-6.3zM113.7 86.5h3.3v2.3h-3.3zM119.7 86.5h3.3v2.3h-3.3zM549.9 86.5h3.3v2.3h-3.3zM116.7 88.5h3.3v2.3h-3.3zM131.7 88.5h3.3v2.3h-3.3zM179.9 88.5h6.3v2.3h-6.3zM510.8 88.5h3.3v2.3h-3.3zM528.8 88.5h3.3v2.3h-3.3zM549.9 88.5h3.3v2.3h-3.3zM128.7 90.5h3.3v2.3h-3.3zM510.8 90.5h3.3v2.3h-3.3zM185.9 92.5h3.3v2.3h-3.3zM185.9 94.5h3.3v2.3h-3.3zM498.7 94.5h3.3v2.3h-3.3zM507.8 94.5h3.3v2.3h-3.3zM552.9 94.5h3.3v2.3h-3.3zM507.8 96.5h3.3v2.3h-3.3zM525.8 98.5h3.3v2.3h-3.3zM546.9 98.5h3.3v2.3h-3.3zM522.8 100.5h3.3v2.3h-3.3zM188.9 102.6h3.3v2.3h-3.3zM504.8 102.6h3.3v2.3h-3.3zM519.8 102.6h3.3v2.3h-3.3zM540.9 102.6h3.3v2.3h-3.3zM546.9 102.6h3.3v2.3h-3.3zM191.9 104.6h3.3v2.3h-3.3zM501.8 104.6h3.3v2.3h-3.3zM540.9 104.6h6.3v2.3h-6.3zM56.5 106.6h3.3v2.3h-3.3zM155.8 106.6h3.3v2.3h-3.3zM194.9 106.6h3.3v2.3h-3.3zM501.8 106.6h3.3v2.3h-3.3zM561.9 106.6h6.3v2.3h-6.3zM580 106.6h3.3v2.3h-3.3zM586 106.6h3.3v2.3h-3.3zM480.7 108.6h3.3v2.3h-3.3zM489.7 108.6h3.3v2.3h-3.3zM519.8 108.6h3.3v2.3h-3.3zM543.9 108.6h3.3v2.3h-3.3zM574 108.6h6.3v2.3h-6.3zM59.5 110.6h3.3v2.3h-3.3zM486.7 110.6h3.3v2.3h-3.3zM59.5 112.6h3.3v2.3h-3.3zM125.7 112.6h3.3v2.3h-3.3zM137.7 112.6h6.3v2.3h-6.3zM477.7 112.6h3.3v2.3h-3.3zM486.7 112.6h3.3v2.3h-3.3zM522.8 112.6h3.3v2.3h-3.3zM59.5 114.6h3.3v2.3h-3.3zM405.5 114.6h3.3v2.3h-3.3zM474.7 114.6h6.3v2.3h-6.3zM486.7 114.6h3.3v2.3h-3.3zM501.8 114.6h3.3v2.3h-3.3zM516.8 114.6h6.3v2.3h-6.3zM574 114.6h6.3v2.3h-6.3zM583 114.6h3.3v2.3h-3.3zM59.5 116.6h3.3v2.3h-3.3zM200.9 116.6h3.3v2.3h-3.3zM459.6 116.6h3.3v2.3h-3.3zM471.7 116.6h3.3v2.3h-3.3zM477.7 116.6h3.3v2.3h-3.3zM501.8 116.6h3.3v2.3h-3.3zM513.8 116.6h3.3v2.3h-3.3zM567.9 116.6h3.3v2.3h-3.3zM586 116.6h3.3v2.3h-3.3zM59.5 118.6h3.3v2.3h-3.3zM167.8 118.6h3.3v2.3h-3.3zM203.9 118.6h3.3v2.3h-3.3zM462.6 118.6h3.3v2.3h-3.3zM468.7 118.6h3.3v2.3h-3.3zM510.8 118.6h3.3v2.3h-3.3zM59.5 120.6h3.3v2.3h-3.3zM104.7 120.6h3.3v2.3h-3.3zM167.8 120.6h3.3v2.3h-3.3zM203.9 120.6h3.3v2.3h-3.3zM393.4 120.6h3.3v2.3h-3.3zM480.7 120.6h6.3v2.3h-6.3zM567.9 120.6h6.3v2.3h-6.3zM583 120.6h3.3v2.3h-3.3zM589 120.6h3.3v2.3h-3.3zM59.5 122.6h3.3v2.3h-3.3zM95.6 122.6h3.3v2.3h-3.3zM167.8 122.6h3.3v2.3h-3.3zM408.5 122.6h3.3v2.3h-3.3zM456.6 122.6h3.3v2.3h-3.3zM477.7 122.6h6.3v2.3h-6.3zM577 122.6h3.3v2.3h-3.3zM167.8 124.6h3.3v2.3h-3.3zM209.9 124.6h3.3v2.3h-3.3zM354.3 124.6h3.3v2.3h-3.3zM369.4 124.6h6.3v2.3h-6.3zM381.4 124.6h3.3v2.3h-3.3zM396.5 124.6h3.3v2.3h-3.3zM411.5 124.6h3.3v2.3h-3.3zM417.5 124.6h3.3v2.3h-3.3zM83.6 126.6h6.3v2.3h-6.3zM212.9 126.6h3.3v2.3h-3.3zM261.1 126.6h3.3v2.3h-3.3zM345.3 126.6h3.3v2.3h-3.3zM357.4 126.6h9.3v2.3h-9.3zM381.4 126.6h6.3v2.3h-6.3zM414.5 126.6h3.3v2.3h-3.3zM228 128.6h3.3v2.3h-3.3zM243 128.6h3.3v2.3h-3.3zM267.1 128.6h3.3v2.3h-3.3zM339.3 128.6h3.3v2.3h-3.3zM381.4 128.6h9.3v2.3h-9.3zM429.6 128.6h3.3v2.3h-3.3zM447.6 128.6h3.3v2.3h-3.3zM312.2 130.6h3.3v2.3h-3.3zM321.2 130.6h3.3v2.3h-3.3zM333.3 130.6h3.3v2.3h-3.3zM378.4 130.6h3.3v2.3h-3.3zM444.6 130.6h3.3v2.3h-3.3zM477.7 130.6h3.3v2.3h-3.3zM291.2 132.6h3.3v2.3h-3.3zM306.2 132.6h3.3v2.3h-3.3zM477.7 132.6h3.3v2.3h-3.3zM522.8 132.6h3.3v2.3h-3.3zM531.8 132.6h6.3v2.3h-6.3zM65.5 134.6h3.3v2.3h-3.3zM279.1 134.6h3.3v2.3h-3.3zM303.2 134.6h3.3v2.3h-3.3zM432.6 134.6h3.3v2.3h-3.3zM441.6 134.6h3.3v2.3h-3.3zM459.6 134.6h3.3v2.3h-3.3zM477.7 134.6h3.3v2.3h-3.3zM519.8 134.6h3.3v2.3h-3.3zM552.9 134.6h3.3v2.3h-3.3zM170.8 136.6h3.3v2.3h-3.3zM561.9 136.6h3.3v2.3h-3.3zM474.7 138.6h3.3v2.3h-3.3zM441.6 140.6h3.3v2.3h-3.3zM465.6 140.6h12.3v2.3h-12.3zM495.7 140.6h3.3v2.3h-3.3zM432.6 142.6h9.3v2.3h-9.3zM453.6 142.6h3.3v2.3h-3.3zM474.7 142.6h3.3v2.3h-3.3zM492.7 142.6h6.3v2.3h-6.3zM507.8 142.6h6.3v2.3h-6.3zM444.6 144.6h3.3v2.3h-3.3zM498.7 144.6h3.3v2.3h-3.3zM564.9 144.6h3.3v2.3h-3.3zM417.5 146.6h3.3v2.3h-3.3zM426.5 146.6h3.3v2.3h-3.3zM447.6 146.6h3.3v2.3h-3.3zM489.7 146.6h3.3v2.3h-3.3zM501.8 146.6h3.3v2.3h-3.3zM191.9 148.6h3.3v2.3h-3.3zM200.9 148.6h9.3v2.3h-9.3zM321.2 148.6h3.3v2.3h-3.3zM348.3 148.6h3.3v2.3h-3.3zM354.3 148.6h3.3v2.3h-3.3zM420.5 148.6h3.3v2.3h-3.3zM450.6 148.6h3.3v2.3h-3.3zM474.7 148.6h3.3v2.3h-3.3zM480.7 148.6h9.3v2.3h-9.3zM577 148.6h3.3v2.3h-3.3zM303.2 150.6h3.3v2.3h-3.3zM330.3 150.6h3.3v2.3h-3.3zM381.4 152.6h6.3v2.3h-6.3zM583 152.6h3.3v2.3h-3.3zM291.2 154.6h3.3v2.3h-3.3zM589 154.6h3.3v2.3h-3.3zM276.1 156.6h3.3v2.3h-3.3zM387.4 156.6h3.3v2.3h-3.3zM246 158.6h3.3v2.3h-3.3zM258.1 162.6h3.3v2.3h-3.3zM267.1 162.6h3.3v2.3h-3.3z"/>
<path fill="#ff0000" d="M56.5 44.5h3.3v2.3h-3.3zM53.5 46.5h3.3v2.3h-3.3zM65.5 48.5h3.3v2.3h-3.3zM158.8 48.5h3.3v2.3h-3.3zM164.8 48.5h3.3v2.3h-3.3zM155.8 52.5h3.3v2.3h-3.3zM68.5 56.5h3.3v2.3h-3.3zM68.5 58.5h3.3v2.3h-3.3zM173.8 58.5h3.3v2.3h-3.3zM68.5 60.5h3.3v2.3h-3.3zM173.8 60.5h3.3v2.3h-3.3zM68.5 62.5h3.3v2.3h-3.3zM68.5 64.5h6.3v2.3h-6.3zM68.5 66.5h6.3v2.3h-6.3zM71.6 68.5h3.3v2.3h-3.3zM71.6 70.5h3.3v2.3h-3.3zM74.6 72.5h3.3v2.3h-3.3zM149.8 72.5h3.3v2.3h-3.3zM77.6 74.5h3.3v2.3h-3.3zM95.6 80.5h6.3v2.3h-6.3zM176.8 80.5h3.3v2.3h-3.3zM80.6 82.5h3.3v2.3h-3.3zM176.8 82.5h3.3v2.3h-3.3zM80.6 84.5h9.3v2.3h-9.3zM146.8 84.5h3.3v2.3h-3.3zM176.8 84.5h3.3v2.3h-3.3zM504.8 84.5h3.3v2.3h-3.3zM80.6 86.5h12.3v2.3h-12.3zM110.7 86.5h3.3v2.3h-3.3zM134.7 86.5h3.3v2.3h-3.3zM143.8 86.5h3.3v2.3h-3.3zM80.6 88.5h3.3v2.3h-3.3zM104.7 88.5h3.3v2.3h-3.3zM137.7 88.5h3.3v2.3h-3.3zM534.8 88.5h3.3v2.3h-3.3zM546.9 88.5h3.3v2.3h-3.3zM561.9 88.5h3.3v2.3h-3.3zM80.6 90.5h3.3v2.3h-3.3zM140.8 90.5h3.3v2.3h-3.3zM501.8 90.5h3.3v2.3h-3.3zM531.8 90.5h3.3v2.3h-3.3zM555.9 90.5h3.3v2.3h-3.3zM561.9 90.5h3.3v2.3h-3.3zM113.7 92.5h6.3v2.3h-6.3zM122.7 92.5h3.3v2.3h-3.3zM131.7 92.5h3.3v2.3h-3.3zM137.7 92.5h6.3v2.3h-6.3zM501.8 92.5h3.3v2.3h-3.3zM543.9 92.5h6.3v2.3h-6.3zM561.9 92.5h3.3v2.3h-3.3zM113.7 94.5h3.3v2.3h-3.3zM122.7 94.5h3.3v2.3h-3.3zM131.7 94.5h3.3v2.3h-3.3zM137.7 94.5h6.3v2.3h-6.3zM176.8 94.5h3.3v2.3h-3.3zM182.9 94.5h3.3v2.3h-3.3zM501.8 94.5h6.3v2.3h-6.3zM537.9 94.5h3.3v2.3h-3.3zM125.7 96.5h3.3v2.3h-3.3zM137.7 96.5h6.3v2.3h-6.3zM176.8 96.5h3.3v2.3h-3.3zM182.9 96.5h3.3v2.3h-3.3zM501.8 96.5h6.3v2.3h-6.3zM53.5 98.5h3.3v2.3h-3.3zM125.7 98.5h3.3v2.3h-3.3zM140.8 98.5h3.3v2.3h-3.3zM176.8 98.5h6.3v2.3h-6.3zM122.7 100.5h3.3v2.3h-3.3zM143.8 100.5h3.3v2.3h-3.3zM498.7 100.5h3.3v2.3h-3.3zM528.8 100.5h3.3v2.3h-3.3zM534.8 100.5h3.3v2.3h-3.3zM543.9 100.5h3.3v2.3h-3.3zM552.9 100.5h3.3v2.3h-3.3zM152.8 102.6h3.3v2.3h-3.3zM185.9 102.6h3.3v2.3h-3.3zM498.7 102.6h3.3v2.3h-3.3zM522.8 102.6h6.3v2.3h-6.3zM56.5 104.6h3.3v2.3h-3.3zM149.8 104.6h3.3v2.3h-3.3zM185.9 104.6h3.3v2.3h-3.3zM498.7 104.6h3.3v2.3h-3.3zM59.5 106.6h3.3v2.3h-3.3zM143.8 106.6h3.3v2.3h-3.3zM152.8 106.6h3.3v2.3h-3.3zM525.8 106.6h3.3v2.3h-3.3zM122.7 108.6h3.3v2.3h-3.3zM128.7 108.6h3.3v2.3h-3.3zM137.7 108.6h6.3v2.3h-6.3zM188.9 108.6h6.3v2.3h-6.3zM546.9 108.6h3.3v2.3h-3.3zM564.9 108.6h6.3v2.3h-6.3zM580 108.6h3.3v2.3h-3.3zM125.7 110.6h3.3v2.3h-3.3zM167.8 110.6h3.3v2.3h-3.3zM194.9 110.6h3.3v2.3h-3.3zM528.8 110.6h3.3v2.3h-3.3zM534.8 110.6h3.3v2.3h-3.3zM119.7 112.6h3.3v2.3h-3.3zM146.8 112.6h3.3v2.3h-3.3zM489.7 112.6h3.3v2.3h-3.3zM555.9 112.6h3.3v2.3h-3.3zM574 112.6h6.3v2.3h-6.3zM110.7 114.6h3.3v2.3h-3.3zM525.8 114.6h3.3v2.3h-3.3zM586 114.6h3.3v2.3h-3.3zM110.7 116.6h3.3v2.3h-3.3zM197.9 116.6h3.3v2.3h-3.3zM498.7 116.6h3.3v2.3h-3.3zM540.9 116.6h3.3v2.3h-3.3zM555.9 116.6h12.3v2.3h-12.3zM101.6 118.6h3.3v2.3h-3.3zM486.7 118.6h3.3v2.3h-3.3zM498.7 118.6h3.3v2.3h-3.3zM522.8 118.6h3.3v2.3h-3.3zM540.9 118.6h3.3v2.3h-3.3zM561.9 118.6h3.3v2.3h-3.3zM95.6 120.6h3.3v2.3h-3.3zM197.9 120.6h3.3v2.3h-3.3zM471.7 120.6h6.3v2.3h-6.3zM513.8 120.6h3.3v2.3h-3.3zM519.8 120.6h3.3v2.3h-3.3zM537.9 120.6h6.3v2.3h-6.3zM564.9 120.6h3.3v2.3h-3.3zM92.6 122.6h3.3v2.3h-3.3zM197.9 122.6h3.3v2.3h-3.3zM459.6 122.6h3.3v2.3h-3.3zM465.6 122.6h6.3v2.3h-6.3zM474.7 122.6h3.3v2.3h-3.3zM510.8 122.6h3.3v2.3h-3.3zM516.8 122.6h3.3v2.3h-3.3zM540.9 122.6h3.3v2.3h-3.3zM570.9 122.6h6.3v2.3h-6.3zM583 122.6h3.3v2.3h-3.3zM74.6 124.6h3.3v2.3h-3.3zM197.9 124.6h3.3v2.3h-3.3zM252.1 124.6h6.3v2.3h-6.3zM462.6 124.6h3.3v2.3h-3.3zM474.7 124.6h3.3v2.3h-3.3zM504.8 124.6h3.3v2.3h-3.3zM540.9 124.6h3.3v2.3h-3.3zM577 124.6h3.3v2.3h-3.3zM200.9 126.6h3.3v2.3h-3.3zM206.9 126.6h3.3v2.3h-3.3zM420.5 126.6h3.3v2.3h-3.3zM501.8 126.6h3.3v2.3h-3.3zM516.8 126.6h3.3v2.3h-3.3zM525.8 126.6h3.3v2.3h-3.3zM534.8 126.6h3.3v2.3h-3.3zM71.6 128.6h3.3v2.3h-3.3zM209.9 128.6h3.3v2.3h-3.3zM249.1 128.6h3.3v2.3h-3.3zM261.1 128.6h3.3v2.3h-3.3zM345.3 128.6h3.3v2.3h-3.3zM363.4 128.6h6.3v2.3h-6.3zM396.5 128.6h3.3v2.3h-3.3zM408.5 128.6h3.3v2.3h-3.3zM417.5 128.6h3.3v2.3h-3.3zM513.8 128.6h12.3v2.3h-12.3zM537.9 128.6h3.3v2.3h-3.3zM216 130.6h3.3v2.3h-3.3zM243 130.6h3.3v2.3h-3.3zM267.1 130.6h3.3v2.3h-3.3zM339.3 130.6h3.3v2.3h-3.3zM411.5 130.6h6.3v2.3h-6.3zM450.6 130.6h3.3v2.3h-3.3zM513.8 130.6h9.3v2.3h-9.3zM531.8 130.6h3.3v2.3h-3.3zM68.5 132.6h3.3v2.3h-3.3zM219 132.6h9.3v2.3h-9.3zM231 132.6h3.3v2.3h-3.3zM273.1 132.6h3.3v2.3h-3.3zM309.2 132.6h3.3v2.3h-3.3zM315.2 132.6h3.3v2.3h-3.3zM426.5 132.6h3.3v2.3h-3.3zM480.7 132.6h3.3v2.3h-3.3zM513.8 132.6h3.3v2.3h-3.3zM537.9 132.6h3.3v2.3h-3.3zM170.8 134.6h6.3v2.3h-6.3zM234 134.6h3.3v2.3h-3.3zM285.1 134.6h3.3v2.3h-3.3zM300.2 134.6h3.3v2.3h-3.3zM306.2 134.6h3.3v2.3h-3.3zM324.3 134.6h6.3v2.3h-6.3zM372.4 134.6h6.3v2.3h-6.3zM381.4 134.6h6.3v2.3h-6.3zM390.4 134.6h6.3v2.3h-6.3zM420.5 134.6h3.3v2.3h-3.3zM453.6 134.6h3.3v2.3h-3.3zM486.7 134.6h6.3v2.3h-6.3zM495.7 134.6h6.3v2.3h-6.3zM513.8 134.6h3.3v2.3h-3.3zM303.2 136.6h3.3v2.3h-3.3zM378.4 136.6h3.3v2.3h-3.3zM390.4 136.6h3.3v2.3h-3.3zM423.5 136.6h3.3v2.3h-3.3zM429.6 136.6h3.3v2.3h-3.3zM444.6 136.6h3.3v2.3h-3.3zM465.6 136.6h3.3v2.3h-3.3zM486.7 136.6h9.3v2.3h-9.3zM498.7 136.6h3.3v2.3h-3.3zM510.8 136.6h6.3v2.3h-6.3zM288.2 138.6h3.3v2.3h-3.3zM432.6 138.6h3.3v2.3h-3.3zM468.7 138.6h3.3v2.3h-3.3zM486.7 138.6h6.3v2.3h-6.3zM498.7 138.6h3.3v2.3h-3.3zM510.8 138.6h6.3v2.3h-6.3zM564.9 138.6h3.3v2.3h-3.3zM486.7 140.6h3.3v2.3h-3.3zM501.8 140.6h3.3v2.3h-3.3zM417.5 142.6h6.3v2.3h-6.3zM447.6 142.6h3.3v2.3h-3.3zM483.7 142.6h6.3v2.3h-6.3zM426.5 144.6h3.3v2.3h-3.3zM483.7 144.6h6.3v2.3h-6.3zM570.9 144.6h3.3v2.3h-3.3zM188.9 146.6h3.3v2.3h-3.3zM321.2 146.6h3.3v2.3h-3.3zM351.3 146.6h6.3v2.3h-6.3zM366.4 146.6h3.3v2.3h-3.3zM420.5 146.6h6.3v2.3h-6.3zM216 148.6h3.3v2.3h-3.3zM303.2 148.6h3.3v2.3h-3.3zM399.5 148.6h3.3v2.3h-3.3zM297.2 150.6h3.3v2.3h-3.3zM580 150.6h9.3v2.3h-9.3zM291.2 152.6h3.3v2.3h-3.3zM276.1 154.6h3.3v2.3h-3.3zM282.1 154.6h3.3v2.3h-3.3zM387.4 154.6h3.3v2.3h-3.3zM246 156.6h3.3v2.3h-3.3zM255.1 160.6h6.3v2.3h-6.3z"/>
<path fill="#e00000" d="M170.8 44.5h3.3v2.3h-3.3zM56.5 46.5h3.3v2.3h-3.3zM50.5 48.5h6.3v2.3h-6.3zM59.5 48.5h6.3v2.3h-6.3zM59.5 50.5h9.3v2.3h-9.3zM158.8 50.5h3.3v2.3h-3.3zM164.8 50.5h3.3v2.3h-3.3zM59.5 52.5h9.3v2.3h-9.3zM164.8 52.5h3.3v2.3h-3.3zM59.5 54.5h3.3v2.3h-3.3zM155.8 54.5h3.3v2.3h-3.3zM164.8 54.5h3.3v2.3h-3.3zM59.5 56.5h3.3v2.3h-3.3zM155.8 56.5h3.3v2.3h-3.3zM152.8 60.5h3.3v2.3h-3.3zM173.8 62.5h3.3v2.3h-3.3zM173.8 64.5h3.3v2.3h-3.3zM173.8 66.5h3.3v2.3h-3.3zM68.5 68.5h3.3v2.3h-3.3zM173.8 68.5h3.3v2.3h-3.3zM68.5 70.5h3.3v2.3h-3.3zM173.8 70.5h3.3v2.3h-3.3zM71.6 72.5h3.3v2.3h-3.3zM74.6 74.5h3.3v2.3h-3.3zM149.8 74.5h3.3v2.3h-3.3zM77.6 76.5h3.3v2.3h-3.3zM98.6 82.5h3.3v2.3h-3.3zM540.9 82.5h3.3v2.3h-3.3zM558.9 82.5h3.3v2.3h-3.3zM92.6 84.5h3.3v2.3h-3.3zM101.6 84.5h3.3v2.3h-3.3zM537.9 84.5h3.3v2.3h-3.3zM176.8 86.5h3.3v2.3h-3.3zM504.8 86.5h3.3v2.3h-3.3zM537.9 86.5h3.3v2.3h-3.3zM83.6 88.5h9.3v2.3h-9.3zM107.7 88.5h3.3v2.3h-3.3zM134.7 88.5h3.3v2.3h-3.3zM143.8 88.5h3.3v2.3h-3.3zM176.8 88.5h3.3v2.3h-3.3zM504.8 88.5h3.3v2.3h-3.3zM537.9 88.5h6.3v2.3h-6.3zM53.5 90.5h3.3v2.3h-3.3zM83.6 90.5h3.3v2.3h-3.3zM119.7 90.5h3.3v2.3h-3.3zM137.7 90.5h3.3v2.3h-3.3zM143.8 90.5h3.3v2.3h-3.3zM176.8 90.5h3.3v2.3h-3.3zM534.8 90.5h9.3v2.3h-9.3zM546.9 90.5h3.3v2.3h-3.3zM53.5 92.5h3.3v2.3h-3.3zM80.6 92.5h3.3v2.3h-3.3zM143.8 92.5h3.3v2.3h-3.3zM176.8 92.5h3.3v2.3h-3.3zM504.8 92.5h3.3v2.3h-3.3zM531.8 92.5h9.3v2.3h-9.3zM555.9 92.5h3.3v2.3h-3.3zM53.5 94.5h3.3v2.3h-3.3zM104.7 94.5h3.3v2.3h-3.3zM116.7 94.5h3.3v2.3h-3.3zM143.8 94.5h3.3v2.3h-3.3zM534.8 94.5h3.3v2.3h-3.3zM543.9 94.5h3.3v2.3h-3.3zM555.9 94.5h3.3v2.3h-3.3zM53.5 96.5h3.3v2.3h-3.3zM104.7 96.5h3.3v2.3h-3.3zM113.7 96.5h3.3v2.3h-3.3zM122.7 96.5h3.3v2.3h-3.3zM131.7 96.5h3.3v2.3h-3.3zM143.8 96.5h3.3v2.3h-3.3zM534.8 96.5h3.3v2.3h-3.3zM543.9 96.5h3.3v2.3h-3.3zM555.9 96.5h3.3v2.3h-3.3zM104.7 98.5h3.3v2.3h-3.3zM113.7 98.5h3.3v2.3h-3.3zM122.7 98.5h3.3v2.3h-3.3zM131.7 98.5h3.3v2.3h-3.3zM143.8 98.5h3.3v2.3h-3.3zM182.9 98.5h3.3v2.3h-3.3zM534.8 98.5h3.3v2.3h-3.3zM543.9 98.5h3.3v2.3h-3.3zM113.7 100.5h3.3v2.3h-3.3zM134.7 100.5h3.3v2.3h-3.3zM176.8 100.5h6.3v2.3h-6.3zM50.5 102.6h3.3v2.3h-3.3zM56.5 102.6h3.3v2.3h-3.3zM113.7 102.6h3.3v2.3h-3.3zM134.7 102.6h3.3v2.3h-3.3zM155.8 102.6h3.3v2.3h-3.3zM176.8 102.6h3.3v2.3h-3.3zM495.7 102.6h3.3v2.3h-3.3zM528.8 102.6h3.3v2.3h-3.3zM549.9 102.6h6.3v2.3h-6.3zM558.9 102.6h3.3v2.3h-3.3zM59.5 104.6h3.3v2.3h-3.3zM101.6 104.6h3.3v2.3h-3.3zM113.7 104.6h3.3v2.3h-3.3zM134.7 104.6h3.3v2.3h-3.3zM146.8 104.6h3.3v2.3h-3.3zM158.8 104.6h3.3v2.3h-3.3zM522.8 104.6h6.3v2.3h-6.3zM101.6 106.6h3.3v2.3h-3.3zM113.7 106.6h3.3v2.3h-3.3zM149.8 106.6h3.3v2.3h-3.3zM161.8 106.6h3.3v2.3h-3.3zM185.9 106.6h3.3v2.3h-3.3zM528.8 106.6h3.3v2.3h-3.3zM101.6 108.6h3.3v2.3h-3.3zM152.8 108.6h3.3v2.3h-3.3zM167.8 108.6h3.3v2.3h-3.3zM492.7 108.6h3.3v2.3h-3.3zM528.8 108.6h6.3v2.3h-6.3zM537.9 108.6h3.3v2.3h-3.3zM586 108.6h3.3v2.3h-3.3zM101.6 110.6h3.3v2.3h-3.3zM110.7 110.6h3.3v2.3h-3.3zM122.7 110.6h3.3v2.3h-3.3zM137.7 110.6h6.3v2.3h-6.3zM191.9 110.6h3.3v2.3h-3.3zM531.8 110.6h3.3v2.3h-3.3zM546.9 110.6h3.3v2.3h-3.3zM555.9 110.6h3.3v2.3h-3.3zM561.9 110.6h3.3v2.3h-3.3zM574 110.6h6.3v2.3h-6.3zM583 110.6h3.3v2.3h-3.3zM101.6 112.6h3.3v2.3h-3.3zM110.7 112.6h3.3v2.3h-3.3zM131.7 112.6h3.3v2.3h-3.3zM194.9 112.6h3.3v2.3h-3.3zM528.8 112.6h6.3v2.3h-6.3zM570.9 112.6h3.3v2.3h-3.3zM101.6 114.6h3.3v2.3h-3.3zM113.7 114.6h3.3v2.3h-3.3zM528.8 114.6h3.3v2.3h-3.3zM543.9 114.6h3.3v2.3h-3.3zM561.9 114.6h9.3v2.3h-9.3zM101.6 116.6h3.3v2.3h-3.3zM113.7 116.6h6.3v2.3h-6.3zM405.5 116.6h3.3v2.3h-3.3zM525.8 116.6h6.3v2.3h-6.3zM98.6 118.6h3.3v2.3h-3.3zM107.7 118.6h3.3v2.3h-3.3zM197.9 118.6h3.3v2.3h-3.3zM525.8 118.6h6.3v2.3h-6.3zM555.9 118.6h6.3v2.3h-6.3zM402.5 120.6h3.3v2.3h-3.3zM498.7 120.6h3.3v2.3h-3.3zM522.8 120.6h9.3v2.3h-9.3zM74.6 122.6h3.3v2.3h-3.3zM471.7 122.6h3.3v2.3h-3.3zM498.7 122.6h3.3v2.3h-3.3zM513.8 122.6h3.3v2.3h-3.3zM519.8 122.6h3.3v2.3h-3.3zM525.8 122.6h6.3v2.3h-6.3zM564.9 122.6h3.3v2.3h-3.3zM77.6 124.6h12.3v2.3h-12.3zM399.5 124.6h3.3v2.3h-3.3zM459.6 124.6h3.3v2.3h-3.3zM465.6 124.6h3.3v2.3h-3.3zM483.7 124.6h3.3v2.3h-3.3zM498.7 124.6h3.3v2.3h-3.3zM507.8 124.6h3.3v2.3h-3.3zM513.8 124.6h6.3v2.3h-6.3zM525.8 124.6h3.3v2.3h-3.3zM534.8 124.6h3.3v2.3h-3.3zM567.9 124.6h3.3v2.3h-3.3zM586 124.6h3.3v2.3h-3.3zM71.6 126.6h3.3v2.3h-3.3zM197.9 126.6h3.3v2.3h-3.3zM203.9 126.6h3.3v2.3h-3.3zM351.3 126.6h3.3v2.3h-3.3zM405.5 126.6h3.3v2.3h-3.3zM462.6 126.6h3.3v2.3h-3.3zM498.7 126.6h3.3v2.3h-3.3zM504.8 126.6h6.3v2.3h-6.3zM513.8 126.6h3.3v2.3h-3.3zM519.8 126.6h6.3v2.3h-6.3zM540.9 126.6h3.3v2.3h-3.3zM348.3 128.6h3.3v2.3h-3.3zM369.4 128.6h3.3v2.3h-3.3zM405.5 128.6h3.3v2.3h-3.3zM420.5 128.6h3.3v2.3h-3.3zM456.6 128.6h3.3v2.3h-3.3zM498.7 128.6h6.3v2.3h-6.3zM212.9 130.6h3.3v2.3h-3.3zM240 130.6h3.3v2.3h-3.3zM246 130.6h3.3v2.3h-3.3zM264.1 130.6h3.3v2.3h-3.3zM330.3 130.6h3.3v2.3h-3.3zM342.3 130.6h3.3v2.3h-3.3zM354.3 130.6h9.3v2.3h-9.3zM405.5 130.6h6.3v2.3h-6.3zM417.5 130.6h6.3v2.3h-6.3zM453.6 130.6h3.3v2.3h-3.3zM471.7 130.6h3.3v2.3h-3.3zM489.7 130.6h3.3v2.3h-3.3zM498.7 130.6h3.3v2.3h-3.3zM537.9 130.6h3.3v2.3h-3.3zM549.9 130.6h3.3v2.3h-3.3zM62.5 132.6h6.3v2.3h-6.3zM173.8 132.6h3.3v2.3h-3.3zM216 132.6h3.3v2.3h-3.3zM270.1 132.6h3.3v2.3h-3.3zM318.2 132.6h3.3v2.3h-3.3zM336.3 132.6h3.3v2.3h-3.3zM402.5 132.6h15.3v2.3h-15.3zM420.5 132.6h3.3v2.3h-3.3zM453.6 132.6h6.3v2.3h-6.3zM486.7 132.6h9.3v2.3h-9.3zM498.7 132.6h3.3v2.3h-3.3zM528.8 132.6h3.3v2.3h-3.3zM552.9 132.6h12.3v2.3h-12.3zM231 134.6h3.3v2.3h-3.3zM282.1 134.6h3.3v2.3h-3.3zM294.2 134.6h6.3v2.3h-6.3zM312.2 134.6h3.3v2.3h-3.3zM321.2 134.6h3.3v2.3h-3.3zM387.4 134.6h3.3v2.3h-3.3zM402.5 134.6h3.3v2.3h-3.3zM408.5 134.6h3.3v2.3h-3.3zM414.5 134.6h3.3v2.3h-3.3zM426.5 134.6h3.3v2.3h-3.3zM447.6 134.6h3.3v2.3h-3.3zM480.7 134.6h3.3v2.3h-3.3zM492.7 134.6h3.3v2.3h-3.3zM510.8 134.6h3.3v2.3h-3.3zM279.1 136.6h3.3v2.3h-3.3zM291.2 136.6h3.3v2.3h-3.3zM372.4 136.6h3.3v2.3h-3.3zM381.4 136.6h3.3v2.3h-3.3zM402.5 136.6h3.3v2.3h-3.3zM468.7 136.6h3.3v2.3h-3.3zM501.8 136.6h3.3v2.3h-3.3zM564.9 136.6h3.3v2.3h-3.3zM176.8 138.6h3.3v2.3h-3.3zM390.4 138.6h3.3v2.3h-3.3zM417.5 138.6h3.3v2.3h-3.3zM423.5 138.6h3.3v2.3h-3.3zM429.6 138.6h3.3v2.3h-3.3zM444.6 138.6h3.3v2.3h-3.3zM483.7 138.6h3.3v2.3h-3.3zM501.8 138.6h3.3v2.3h-3.3zM507.8 138.6h3.3v2.3h-3.3zM182.9 140.6h3.3v2.3h-3.3zM417.5 140.6h3.3v2.3h-3.3zM477.7 140.6h3.3v2.3h-3.3zM483.7 140.6h3.3v2.3h-3.3zM504.8 140.6h3.3v2.3h-3.3zM567.9 140.6h6.3v2.3h-6.3zM426.5 142.6h3.3v2.3h-3.3zM570.9 142.6h3.3v2.3h-3.3zM185.9 144.6h3.3v2.3h-3.3zM420.5 144.6h3.3v2.3h-3.3zM450.6 144.6h3.3v2.3h-3.3zM480.7 144.6h3.3v2.3h-3.3zM577 144.6h3.3v2.3h-3.3zM194.9 146.6h3.3v2.3h-3.3zM312.2 146.6h9.3v2.3h-9.3zM324.3 146.6h3.3v2.3h-3.3zM348.3 146.6h3.3v2.3h-3.3zM357.4 146.6h3.3v2.3h-3.3zM402.5 146.6h12.3v2.3h-12.3zM477.7 146.6h3.3v2.3h-3.3zM342.3 148.6h3.3v2.3h-3.3zM372.4 148.6h3.3v2.3h-3.3zM396.5 148.6h3.3v2.3h-3.3zM285.1 150.6h6.3v2.3h-6.3zM381.4 150.6h3.3v2.3h-3.3zM589 150.6h3.3v2.3h-3.3zM249.1 158.6h3.3v2.3h-3.3zM264.1 160.6h6.3v2.3h-6.3z"/>
<path fill="#c80000" d="M170.8 46.5h3.3v2.3h-3.3zM56.5 48.5h3.3v2.3h-3.3zM53.5 50.5h3.3v2.3h-3.3zM161.8 50.5h3.3v2.3h-3.3zM50.5 52.5h3.3v2.3h-3.3zM161.8 52.5h3.3v2.3h-3.3zM167.8 52.5h3.3v2.3h-3.3zM50.5 54.5h3.3v2.3h-3.3zM158.8 54.5h3.3v2.3h-3.3zM158.8 56.5h3.3v2.3h-3.3zM62.5 58.5h6.3v2.3h-6.3zM158.8 58.5h3.3v2.3h-3.3zM65.5 60.5h3.3v2.3h-3.3zM155.8 60.5h3.3v2.3h-3.3zM161.8 60.5h6.3v2.3h-6.3zM59.5 62.5h3.3v2.3h-3.3zM65.5 62.5h3.3v2.3h-3.3zM161.8 62.5h6.3v2.3h-6.3zM59.5 64.5h3.3v2.3h-3.3zM65.5 64.5h3.3v2.3h-3.3zM152.8 64.5h3.3v2.3h-3.3zM161.8 64.5h6.3v2.3h-6.3zM56.5 66.5h6.3v2.3h-6.3zM65.5 66.5h3.3v2.3h-3.3zM152.8 66.5h3.3v2.3h-3.3zM161.8 66.5h3.3v2.3h-3.3zM56.5 68.5h6.3v2.3h-6.3zM65.5 68.5h3.3v2.3h-3.3zM152.8 68.5h3.3v2.3h-3.3zM65.5 70.5h3.3v2.3h-3.3zM152.8 70.5h3.3v2.3h-3.3zM161.8 70.5h3.3v2.3h-3.3zM65.5 72.5h3.3v2.3h-3.3zM161.8 72.5h3.3v2.3h-3.3zM68.5 76.5h6.3v2.3h-6.3zM173.8 76.5h3.3v2.3h-3.3zM68.5 78.5h9.3v2.3h-9.3zM149.8 78.5h3.3v2.3h-3.3zM173.8 78.5h3.3v2.3h-3.3zM53.5 80.5h3.3v2.3h-3.3zM68.5 80.5h9.3v2.3h-9.3zM149.8 80.5h3.3v2.3h-3.3zM173.8 80.5h3.3v2.3h-3.3zM53.5 82.5h3.3v2.3h-3.3zM68.5 82.5h9.3v2.3h-9.3zM173.8 82.5h3.3v2.3h-3.3zM53.5 84.5h3.3v2.3h-3.3zM77.6 84.5h3.3v2.3h-3.3zM95.6 84.5h6.3v2.3h-6.3zM173.8 84.5h3.3v2.3h-3.3zM558.9 84.5h3.3v2.3h-3.3zM77.6 86.5h3.3v2.3h-3.3zM101.6 86.5h3.3v2.3h-3.3zM173.8 86.5h3.3v2.3h-3.3zM558.9 86.5h3.3v2.3h-3.3zM77.6 88.5h3.3v2.3h-3.3zM146.8 88.5h3.3v2.3h-3.3zM173.8 88.5h3.3v2.3h-3.3zM558.9 88.5h3.3v2.3h-3.3zM77.6 90.5h3.3v2.3h-3.3zM107.7 90.5h6.3v2.3h-6.3zM170.8 90.5h6.3v2.3h-6.3zM558.9 90.5h3.3v2.3h-3.3zM77.6 92.5h3.3v2.3h-3.3zM89.6 92.5h3.3v2.3h-3.3zM170.8 92.5h6.3v2.3h-6.3zM56.5 94.5h3.3v2.3h-3.3zM77.6 94.5h9.3v2.3h-9.3zM119.7 94.5h3.3v2.3h-3.3zM170.8 94.5h6.3v2.3h-6.3zM56.5 96.5h3.3v2.3h-3.3zM77.6 96.5h3.3v2.3h-3.3zM101.6 96.5h3.3v2.3h-3.3zM119.7 96.5h3.3v2.3h-3.3zM173.8 96.5h3.3v2.3h-3.3zM50.5 98.5h3.3v2.3h-3.3zM77.6 98.5h3.3v2.3h-3.3zM110.7 98.5h3.3v2.3h-3.3zM116.7 98.5h6.3v2.3h-6.3zM173.8 98.5h3.3v2.3h-3.3zM531.8 98.5h3.3v2.3h-3.3zM59.5 100.5h6.3v2.3h-6.3zM77.6 100.5h3.3v2.3h-3.3zM110.7 100.5h3.3v2.3h-3.3zM116.7 100.5h6.3v2.3h-6.3zM146.8 100.5h3.3v2.3h-3.3zM152.8 100.5h9.3v2.3h-9.3zM173.8 100.5h3.3v2.3h-3.3zM531.8 100.5h3.3v2.3h-3.3zM558.9 100.5h3.3v2.3h-3.3zM86.6 102.6h6.3v2.3h-6.3zM110.7 102.6h3.3v2.3h-3.3zM116.7 102.6h3.3v2.3h-3.3zM182.9 102.6h3.3v2.3h-3.3zM531.8 102.6h3.3v2.3h-3.3zM555.9 102.6h3.3v2.3h-3.3zM86.6 104.6h6.3v2.3h-6.3zM116.7 104.6h3.3v2.3h-3.3zM179.9 104.6h3.3v2.3h-3.3zM495.7 104.6h3.3v2.3h-3.3zM549.9 104.6h9.3v2.3h-9.3zM62.5 106.6h3.3v2.3h-3.3zM86.6 106.6h6.3v2.3h-6.3zM104.7 106.6h3.3v2.3h-3.3zM131.7 106.6h3.3v2.3h-3.3zM146.8 106.6h3.3v2.3h-3.3zM167.8 106.6h3.3v2.3h-3.3zM495.7 106.6h3.3v2.3h-3.3zM549.9 106.6h9.3v2.3h-9.3zM86.6 108.6h3.3v2.3h-3.3zM104.7 108.6h3.3v2.3h-3.3zM549.9 108.6h3.3v2.3h-3.3zM86.6 110.6h3.3v2.3h-3.3zM98.6 110.6h3.3v2.3h-3.3zM104.7 110.6h3.3v2.3h-3.3zM134.7 110.6h3.3v2.3h-3.3zM143.8 110.6h3.3v2.3h-3.3zM149.8 110.6h3.3v2.3h-3.3zM185.9 110.6h3.3v2.3h-3.3zM492.7 110.6h3.3v2.3h-3.3zM537.9 110.6h3.3v2.3h-3.3zM549.9 110.6h3.3v2.3h-3.3zM564.9 110.6h3.3v2.3h-3.3zM570.9 110.6h3.3v2.3h-3.3zM86.6 112.6h3.3v2.3h-3.3zM98.6 112.6h3.3v2.3h-3.3zM116.7 112.6h3.3v2.3h-3.3zM188.9 112.6h3.3v2.3h-3.3zM492.7 112.6h3.3v2.3h-3.3zM534.8 112.6h3.3v2.3h-3.3zM546.9 112.6h3.3v2.3h-3.3zM564.9 112.6h6.3v2.3h-6.3zM586 112.6h6.3v2.3h-6.3zM86.6 114.6h3.3v2.3h-3.3zM98.6 114.6h3.3v2.3h-3.3zM191.9 114.6h3.3v2.3h-3.3zM86.6 116.6h3.3v2.3h-3.3zM194.9 116.6h3.3v2.3h-3.3zM489.7 116.6h9.3v2.3h-9.3zM543.9 116.6h3.3v2.3h-3.3zM83.6 118.6h6.3v2.3h-6.3zM95.6 118.6h3.3v2.3h-3.3zM173.8 118.6h3.3v2.3h-3.3zM194.9 118.6h3.3v2.3h-3.3zM405.5 118.6h3.3v2.3h-3.3zM492.7 118.6h6.3v2.3h-6.3zM552.9 118.6h3.3v2.3h-3.3zM77.6 120.6h6.3v2.3h-6.3zM173.8 120.6h3.3v2.3h-3.3zM194.9 120.6h3.3v2.3h-3.3zM405.5 120.6h3.3v2.3h-3.3zM492.7 120.6h6.3v2.3h-6.3zM543.9 120.6h3.3v2.3h-3.3zM552.9 120.6h3.3v2.3h-3.3zM558.9 120.6h3.3v2.3h-3.3zM89.6 122.6h3.3v2.3h-3.3zM173.8 122.6h3.3v2.3h-3.3zM194.9 122.6h3.3v2.3h-3.3zM402.5 122.6h3.3v2.3h-3.3zM492.7 122.6h6.3v2.3h-6.3zM543.9 122.6h3.3v2.3h-3.3zM552.9 122.6h3.3v2.3h-3.3zM561.9 122.6h3.3v2.3h-3.3zM89.6 124.6h3.3v2.3h-3.3zM194.9 124.6h3.3v2.3h-3.3zM471.7 124.6h3.3v2.3h-3.3zM492.7 124.6h6.3v2.3h-6.3zM543.9 124.6h3.3v2.3h-3.3zM552.9 124.6h3.3v2.3h-3.3zM170.8 126.6h3.3v2.3h-3.3zM399.5 126.6h3.3v2.3h-3.3zM471.7 126.6h3.3v2.3h-3.3zM489.7 126.6h6.3v2.3h-6.3zM543.9 126.6h3.3v2.3h-3.3zM552.9 126.6h3.3v2.3h-3.3zM580 126.6h6.3v2.3h-6.3zM68.5 128.6h3.3v2.3h-3.3zM170.8 128.6h3.3v2.3h-3.3zM197.9 128.6h3.3v2.3h-3.3zM203.9 128.6h3.3v2.3h-3.3zM402.5 128.6h3.3v2.3h-3.3zM459.6 128.6h12.3v2.3h-12.3zM483.7 128.6h3.3v2.3h-3.3zM528.8 128.6h3.3v2.3h-3.3zM552.9 128.6h3.3v2.3h-3.3zM567.9 128.6h3.3v2.3h-3.3zM577 128.6h3.3v2.3h-3.3zM583 128.6h6.3v2.3h-6.3zM62.5 130.6h6.3v2.3h-6.3zM170.8 130.6h3.3v2.3h-3.3zM249.1 130.6h3.3v2.3h-3.3zM348.3 130.6h6.3v2.3h-6.3zM366.4 130.6h3.3v2.3h-3.3zM465.6 130.6h6.3v2.3h-6.3zM483.7 130.6h3.3v2.3h-3.3zM504.8 130.6h6.3v2.3h-6.3zM528.8 130.6h3.3v2.3h-3.3zM540.9 130.6h3.3v2.3h-3.3zM546.9 130.6h3.3v2.3h-3.3zM552.9 130.6h15.3v2.3h-15.3zM212.9 132.6h3.3v2.3h-3.3zM240 132.6h3.3v2.3h-3.3zM246 132.6h3.3v2.3h-3.3zM264.1 132.6h3.3v2.3h-3.3zM339.3 132.6h3.3v2.3h-3.3zM357.4 132.6h6.3v2.3h-6.3zM462.6 132.6h9.3v2.3h-9.3zM483.7 132.6h3.3v2.3h-3.3zM501.8 132.6h6.3v2.3h-6.3zM543.9 132.6h3.3v2.3h-3.3zM574 132.6h3.3v2.3h-3.3zM216 134.6h3.3v2.3h-3.3zM222 134.6h6.3v2.3h-6.3zM243 134.6h3.3v2.3h-3.3zM270.1 134.6h6.3v2.3h-6.3zM318.2 134.6h3.3v2.3h-3.3zM330.3 134.6h3.3v2.3h-3.3zM354.3 134.6h6.3v2.3h-6.3zM417.5 134.6h3.3v2.3h-3.3zM450.6 134.6h3.3v2.3h-3.3zM483.7 134.6h3.3v2.3h-3.3zM504.8 134.6h6.3v2.3h-6.3zM570.9 134.6h6.3v2.3h-6.3zM176.8 136.6h3.3v2.3h-3.3zM231 136.6h3.3v2.3h-3.3zM294.2 136.6h6.3v2.3h-6.3zM312.2 136.6h3.3v2.3h-3.3zM387.4 136.6h3.3v2.3h-3.3zM393.4 136.6h3.3v2.3h-3.3zM300.2 138.6h6.3v2.3h-6.3zM372.4 138.6h6.3v2.3h-6.3zM381.4 138.6h3.3v2.3h-3.3zM480.7 138.6h3.3v2.3h-3.3zM567.9 138.6h3.3v2.3h-3.3zM390.4 140.6h3.3v2.3h-3.3zM399.5 140.6h3.3v2.3h-3.3zM480.7 140.6h3.3v2.3h-3.3zM185.9 142.6h3.3v2.3h-3.3zM321.2 142.6h3.3v2.3h-3.3zM351.3 142.6h6.3v2.3h-6.3zM399.5 142.6h6.3v2.3h-6.3zM408.5 142.6h6.3v2.3h-6.3zM450.6 142.6h3.3v2.3h-3.3zM574 142.6h9.3v2.3h-9.3zM321.2 144.6h3.3v2.3h-3.3zM348.3 144.6h3.3v2.3h-3.3zM354.3 144.6h6.3v2.3h-6.3zM399.5 144.6h15.3v2.3h-15.3zM477.7 144.6h3.3v2.3h-3.3zM200.9 146.6h9.3v2.3h-9.3zM303.2 146.6h3.3v2.3h-3.3zM309.2 146.6h3.3v2.3h-3.3zM345.3 146.6h3.3v2.3h-3.3zM363.4 146.6h3.3v2.3h-3.3zM369.4 146.6h3.3v2.3h-3.3zM396.5 146.6h3.3v2.3h-3.3zM580 146.6h3.3v2.3h-3.3zM285.1 148.6h6.3v2.3h-6.3zM384.4 148.6h3.3v2.3h-3.3zM583 148.6h3.3v2.3h-3.3zM589 148.6h3.3v2.3h-3.3zM291.2 150.6h3.3v2.3h-3.3zM225 152.6h3.3v2.3h-3.3zM387.4 152.6h3.3v2.3h-3.3zM246 154.6h3.3v2.3h-3.3zM273.1 154.6h3.3v2.3h-3.3zM279.1 154.6h3.3v2.3h-3.3zM267.1 158.6h3.3v2.3h-3.3z"/>
<path fill="#d00000" d="M161.8 48.5h3.3v2.3h-3.3zM167.8 48.5h3.3v2.3h-3.3zM50.5 50.5h3.3v2.3h-3.3zM167.8 50.5h3.3v2.3h-3.3zM158.8 52.5h3.3v2.3h-3.3zM62.5 54.5h6.3v2.3h-6.3zM62.5 56.5h6.3v2.3h-6.3zM164.8 56.5h3.3v2.3h-3.3zM59.5 58.5h3.3v2.3h-3.3zM155.8 58.5h3.3v2.3h-3.3zM164.8 58.5h3.3v2.3h-3.3zM59.5 60.5h3.3v2.3h-3.3zM152.8 62.5h3.3v2.3h-3.3zM161.8 68.5h3.3v2.3h-3.3zM56.5 70.5h3.3v2.3h-3.3zM56.5 72.5h3.3v2.3h-3.3zM68.5 72.5h3.3v2.3h-3.3zM173.8 72.5h3.3v2.3h-3.3zM56.5 74.5h3.3v2.3h-3.3zM68.5 74.5h6.3v2.3h-6.3zM173.8 74.5h3.3v2.3h-3.3zM56.5 76.5h3.3v2.3h-3.3zM74.6 76.5h3.3v2.3h-3.3zM149.8 76.5h3.3v2.3h-3.3zM56.5 78.5h3.3v2.3h-3.3zM77.6 78.5h3.3v2.3h-3.3zM56.5 80.5h3.3v2.3h-3.3zM77.6 80.5h3.3v2.3h-3.3zM56.5 82.5h3.3v2.3h-3.3zM77.6 82.5h3.3v2.3h-3.3zM95.6 82.5h3.3v2.3h-3.3zM56.5 84.5h3.3v2.3h-3.3zM540.9 84.5h3.3v2.3h-3.3zM53.5 86.5h6.3v2.3h-6.3zM92.6 86.5h3.3v2.3h-3.3zM146.8 86.5h3.3v2.3h-3.3zM540.9 86.5h3.3v2.3h-3.3zM53.5 88.5h6.3v2.3h-6.3zM110.7 88.5h3.3v2.3h-3.3zM56.5 90.5h3.3v2.3h-3.3zM86.6 90.5h6.3v2.3h-6.3zM104.7 90.5h3.3v2.3h-3.3zM134.7 90.5h3.3v2.3h-3.3zM504.8 90.5h3.3v2.3h-3.3zM56.5 92.5h3.3v2.3h-3.3zM83.6 92.5h6.3v2.3h-6.3zM104.7 92.5h3.3v2.3h-3.3zM119.7 92.5h3.3v2.3h-3.3zM134.7 92.5h3.3v2.3h-3.3zM134.7 94.5h3.3v2.3h-3.3zM531.8 94.5h3.3v2.3h-3.3zM116.7 96.5h3.3v2.3h-3.3zM134.7 96.5h3.3v2.3h-3.3zM531.8 96.5h3.3v2.3h-3.3zM56.5 98.5h3.3v2.3h-3.3zM101.6 98.5h3.3v2.3h-3.3zM134.7 98.5h3.3v2.3h-3.3zM555.9 98.5h3.3v2.3h-3.3zM50.5 100.5h3.3v2.3h-3.3zM56.5 100.5h3.3v2.3h-3.3zM101.6 100.5h6.3v2.3h-6.3zM131.7 100.5h3.3v2.3h-3.3zM182.9 100.5h3.3v2.3h-3.3zM555.9 100.5h3.3v2.3h-3.3zM59.5 102.6h6.3v2.3h-6.3zM101.6 102.6h6.3v2.3h-6.3zM119.7 102.6h3.3v2.3h-3.3zM131.7 102.6h3.3v2.3h-3.3zM146.8 102.6h6.3v2.3h-6.3zM158.8 102.6h3.3v2.3h-3.3zM179.9 102.6h3.3v2.3h-3.3zM62.5 104.6h3.3v2.3h-3.3zM104.7 104.6h3.3v2.3h-3.3zM110.7 104.6h3.3v2.3h-3.3zM119.7 104.6h3.3v2.3h-3.3zM131.7 104.6h3.3v2.3h-3.3zM176.8 104.6h3.3v2.3h-3.3zM528.8 104.6h6.3v2.3h-6.3zM110.7 106.6h3.3v2.3h-3.3zM119.7 106.6h3.3v2.3h-3.3zM134.7 106.6h3.3v2.3h-3.3zM164.8 106.6h3.3v2.3h-3.3zM176.8 106.6h3.3v2.3h-3.3zM531.8 106.6h3.3v2.3h-3.3zM110.7 108.6h6.3v2.3h-6.3zM119.7 108.6h3.3v2.3h-3.3zM134.7 108.6h3.3v2.3h-3.3zM143.8 108.6h3.3v2.3h-3.3zM149.8 108.6h3.3v2.3h-3.3zM185.9 108.6h3.3v2.3h-3.3zM495.7 108.6h3.3v2.3h-3.3zM555.9 108.6h3.3v2.3h-3.3zM589 108.6h3.3v2.3h-3.3zM113.7 110.6h3.3v2.3h-3.3zM119.7 110.6h3.3v2.3h-3.3zM128.7 110.6h3.3v2.3h-3.3zM152.8 110.6h3.3v2.3h-3.3zM188.9 110.6h3.3v2.3h-3.3zM495.7 110.6h3.3v2.3h-3.3zM580 110.6h3.3v2.3h-3.3zM113.7 112.6h3.3v2.3h-3.3zM191.9 112.6h3.3v2.3h-3.3zM495.7 112.6h3.3v2.3h-3.3zM561.9 112.6h3.3v2.3h-3.3zM116.7 114.6h3.3v2.3h-3.3zM194.9 114.6h3.3v2.3h-3.3zM489.7 114.6h3.3v2.3h-3.3zM495.7 114.6h3.3v2.3h-3.3zM531.8 114.6h3.3v2.3h-3.3zM98.6 116.6h3.3v2.3h-3.3zM104.7 118.6h3.3v2.3h-3.3zM537.9 118.6h3.3v2.3h-3.3zM74.6 120.6h3.3v2.3h-3.3zM83.6 120.6h6.3v2.3h-6.3zM92.6 120.6h3.3v2.3h-3.3zM486.7 120.6h3.3v2.3h-3.3zM555.9 120.6h3.3v2.3h-3.3zM561.9 120.6h3.3v2.3h-3.3zM77.6 122.6h12.3v2.3h-12.3zM405.5 122.6h3.3v2.3h-3.3zM522.8 122.6h3.3v2.3h-3.3zM71.6 124.6h3.3v2.3h-3.3zM173.8 124.6h3.3v2.3h-3.3zM405.5 124.6h3.3v2.3h-3.3zM468.7 124.6h3.3v2.3h-3.3zM510.8 124.6h3.3v2.3h-3.3zM519.8 124.6h6.3v2.3h-6.3zM528.8 124.6h3.3v2.3h-3.3zM564.9 124.6h3.3v2.3h-3.3zM570.9 124.6h6.3v2.3h-6.3zM580 124.6h6.3v2.3h-6.3zM589 124.6h3.3v2.3h-3.3zM173.8 126.6h3.3v2.3h-3.3zM252.1 126.6h6.3v2.3h-6.3zM459.6 126.6h3.3v2.3h-3.3zM465.6 126.6h6.3v2.3h-6.3zM483.7 126.6h3.3v2.3h-3.3zM495.7 126.6h3.3v2.3h-3.3zM510.8 126.6h3.3v2.3h-3.3zM528.8 126.6h3.3v2.3h-3.3zM564.9 126.6h6.3v2.3h-6.3zM574 126.6h6.3v2.3h-6.3zM586 126.6h3.3v2.3h-3.3zM173.8 128.6h3.3v2.3h-3.3zM200.9 128.6h3.3v2.3h-3.3zM206.9 128.6h3.3v2.3h-3.3zM258.1 128.6h3.3v2.3h-3.3zM351.3 128.6h3.3v2.3h-3.3zM471.7 128.6h3.3v2.3h-3.3zM489.7 128.6h9.3v2.3h-9.3zM504.8 128.6h9.3v2.3h-9.3zM531.8 128.6h3.3v2.3h-3.3zM540.9 128.6h3.3v2.3h-3.3zM549.9 128.6h3.3v2.3h-3.3zM564.9 128.6h3.3v2.3h-3.3zM574 128.6h3.3v2.3h-3.3zM68.5 130.6h3.3v2.3h-3.3zM173.8 130.6h3.3v2.3h-3.3zM209.9 130.6h3.3v2.3h-3.3zM345.3 130.6h3.3v2.3h-3.3zM363.4 130.6h3.3v2.3h-3.3zM396.5 130.6h3.3v2.3h-3.3zM402.5 130.6h3.3v2.3h-3.3zM456.6 130.6h3.3v2.3h-3.3zM486.7 130.6h3.3v2.3h-3.3zM492.7 130.6h6.3v2.3h-6.3zM501.8 130.6h3.3v2.3h-3.3zM510.8 130.6h3.3v2.3h-3.3zM574 130.6h3.3v2.3h-3.3zM170.8 132.6h3.3v2.3h-3.3zM228 132.6h3.3v2.3h-3.3zM237 132.6h3.3v2.3h-3.3zM243 132.6h3.3v2.3h-3.3zM267.1 132.6h3.3v2.3h-3.3zM330.3 132.6h3.3v2.3h-3.3zM354.3 132.6h3.3v2.3h-3.3zM417.5 132.6h3.3v2.3h-3.3zM450.6 132.6h3.3v2.3h-3.3zM459.6 132.6h3.3v2.3h-3.3zM495.7 132.6h3.3v2.3h-3.3zM510.8 132.6h3.3v2.3h-3.3zM540.9 132.6h3.3v2.3h-3.3zM564.9 132.6h3.3v2.3h-3.3zM219 134.6h3.3v2.3h-3.3zM309.2 134.6h3.3v2.3h-3.3zM315.2 134.6h3.3v2.3h-3.3zM333.3 134.6h3.3v2.3h-3.3zM405.5 134.6h3.3v2.3h-3.3zM411.5 134.6h3.3v2.3h-3.3zM465.6 134.6h6.3v2.3h-6.3zM501.8 134.6h3.3v2.3h-3.3zM564.9 134.6h3.3v2.3h-3.3zM234 136.6h3.3v2.3h-3.3zM276.1 136.6h3.3v2.3h-3.3zM285.1 136.6h3.3v2.3h-3.3zM300.2 136.6h3.3v2.3h-3.3zM321.2 136.6h9.3v2.3h-9.3zM375.4 136.6h3.3v2.3h-3.3zM384.4 136.6h3.3v2.3h-3.3zM405.5 136.6h15.3v2.3h-15.3zM426.5 136.6h3.3v2.3h-3.3zM447.6 136.6h3.3v2.3h-3.3zM480.7 136.6h6.3v2.3h-6.3zM504.8 136.6h6.3v2.3h-6.3zM570.9 136.6h3.3v2.3h-3.3zM179.9 138.6h3.3v2.3h-3.3zM378.4 138.6h3.3v2.3h-3.3zM402.5 138.6h15.3v2.3h-15.3zM426.5 138.6h3.3v2.3h-3.3zM504.8 138.6h3.3v2.3h-3.3zM570.9 138.6h3.3v2.3h-3.3zM288.2 140.6h3.3v2.3h-3.3zM402.5 140.6h15.3v2.3h-15.3zM423.5 140.6h6.3v2.3h-6.3zM447.6 140.6h3.3v2.3h-3.3zM405.5 142.6h3.3v2.3h-3.3zM414.5 142.6h3.3v2.3h-3.3zM423.5 142.6h3.3v2.3h-3.3zM477.7 142.6h6.3v2.3h-6.3zM351.3 144.6h3.3v2.3h-3.3zM414.5 144.6h3.3v2.3h-3.3zM423.5 144.6h3.3v2.3h-3.3zM574 144.6h3.3v2.3h-3.3zM191.9 146.6h3.3v2.3h-3.3zM197.9 146.6h3.3v2.3h-3.3zM327.3 146.6h3.3v2.3h-3.3zM360.4 146.6h3.3v2.3h-3.3zM399.5 146.6h3.3v2.3h-3.3zM219 148.6h3.3v2.3h-3.3zM306.2 148.6h3.3v2.3h-3.3zM330.3 148.6h12.3v2.3h-12.3zM375.4 148.6h6.3v2.3h-6.3zM580 148.6h3.3v2.3h-3.3zM586 148.6h3.3v2.3h-3.3zM222 150.6h3.3v2.3h-3.3zM294.2 150.6h3.3v2.3h-3.3zM393.4 150.6h3.3v2.3h-3.3zM228 152.6h6.3v2.3h-6.3zM234 154.6h12.3v2.3h-12.3zM252.1 158.6h6.3v2.3h-6.3zM270.1 158.6h3.3v2.3h-3.3zM261.1 160.6h3.3v2.3h-3.3z"/>
<path fill="#b40000" d="M170.8 48.5h3.3v2.3h-3.3zM53.5 54.5h3.3v2.3h-3.3zM53.5 56.5h3.3v2.3h-3.3zM167.8 56.5h3.3v2.3h-3.3zM53.5 58.5h3.3v2.3h-3.3zM167.8 58.5h3.3v2.3h-3.3zM53.5 60.5h3.3v2.3h-3.3zM53.5 62.5h3.3v2.3h-3.3zM53.5 64.5h3.3v2.3h-3.3zM53.5 66.5h3.3v2.3h-3.3zM50.5 68.5h6.3v2.3h-6.3zM50.5 70.5h6.3v2.3h-6.3zM164.8 70.5h3.3v2.3h-3.3zM50.5 72.5h6.3v2.3h-6.3zM155.8 72.5h6.3v2.3h-6.3zM164.8 72.5h3.3v2.3h-3.3zM50.5 74.5h6.3v2.3h-6.3zM152.8 74.5h3.3v2.3h-3.3zM50.5 76.5h3.3v2.3h-3.3zM161.8 76.5h3.3v2.3h-3.3zM50.5 78.5h3.3v2.3h-3.3zM161.8 78.5h3.3v2.3h-3.3zM50.5 80.5h3.3v2.3h-3.3zM158.8 80.5h6.3v2.3h-6.3zM50.5 82.5h3.3v2.3h-3.3zM158.8 82.5h6.3v2.3h-6.3zM50.5 84.5h3.3v2.3h-3.3zM59.5 84.5h3.3v2.3h-3.3zM149.8 84.5h3.3v2.3h-3.3zM158.8 84.5h3.3v2.3h-3.3zM50.5 86.5h3.3v2.3h-3.3zM59.5 86.5h3.3v2.3h-3.3zM68.5 86.5h6.3v2.3h-6.3zM95.6 86.5h6.3v2.3h-6.3zM158.8 86.5h3.3v2.3h-3.3zM170.8 86.5h3.3v2.3h-3.3zM50.5 88.5h3.3v2.3h-3.3zM59.5 88.5h12.3v2.3h-12.3zM74.6 88.5h3.3v2.3h-3.3zM158.8 88.5h3.3v2.3h-3.3zM50.5 90.5h3.3v2.3h-3.3zM59.5 90.5h9.3v2.3h-9.3zM74.6 90.5h3.3v2.3h-3.3zM92.6 90.5h3.3v2.3h-3.3zM101.6 90.5h3.3v2.3h-3.3zM158.8 90.5h3.3v2.3h-3.3zM167.8 90.5h3.3v2.3h-3.3zM50.5 92.5h3.3v2.3h-3.3zM59.5 92.5h18.4v2.3h-18.4zM158.8 92.5h3.3v2.3h-3.3zM167.8 92.5h3.3v2.3h-3.3zM50.5 94.5h3.3v2.3h-3.3zM59.5 94.5h6.3v2.3h-6.3zM68.5 94.5h3.3v2.3h-3.3zM74.6 94.5h3.3v2.3h-3.3zM146.8 94.5h3.3v2.3h-3.3zM158.8 94.5h3.3v2.3h-3.3zM167.8 94.5h3.3v2.3h-3.3zM558.9 94.5h3.3v2.3h-3.3zM59.5 96.5h6.3v2.3h-6.3zM83.6 96.5h9.3v2.3h-9.3zM98.6 96.5h3.3v2.3h-3.3zM146.8 96.5h3.3v2.3h-3.3zM158.8 96.5h3.3v2.3h-3.3zM167.8 96.5h3.3v2.3h-3.3zM558.9 96.5h3.3v2.3h-3.3zM74.6 98.5h3.3v2.3h-3.3zM83.6 98.5h9.3v2.3h-9.3zM98.6 98.5h3.3v2.3h-3.3zM155.8 98.5h3.3v2.3h-3.3zM68.5 100.5h9.3v2.3h-9.3zM98.6 100.5h3.3v2.3h-3.3zM107.7 100.5h3.3v2.3h-3.3zM68.5 102.6h3.3v2.3h-3.3zM74.6 102.6h3.3v2.3h-3.3zM95.6 102.6h3.3v2.3h-3.3zM107.7 102.6h3.3v2.3h-3.3zM68.5 104.6h3.3v2.3h-3.3zM80.6 104.6h3.3v2.3h-3.3zM92.6 104.6h6.3v2.3h-6.3zM107.7 104.6h3.3v2.3h-3.3zM74.6 106.6h3.3v2.3h-3.3zM80.6 106.6h3.3v2.3h-3.3zM92.6 106.6h6.3v2.3h-6.3zM107.7 106.6h3.3v2.3h-3.3zM170.8 106.6h6.3v2.3h-6.3zM179.9 106.6h6.3v2.3h-6.3zM65.5 108.6h3.3v2.3h-3.3zM74.6 108.6h3.3v2.3h-3.3zM80.6 108.6h3.3v2.3h-3.3zM92.6 108.6h6.3v2.3h-6.3zM107.7 108.6h3.3v2.3h-3.3zM173.8 108.6h3.3v2.3h-3.3zM182.9 108.6h3.3v2.3h-3.3zM62.5 110.6h3.3v2.3h-3.3zM74.6 110.6h3.3v2.3h-3.3zM80.6 110.6h3.3v2.3h-3.3zM92.6 110.6h6.3v2.3h-6.3zM131.7 110.6h3.3v2.3h-3.3zM146.8 110.6h3.3v2.3h-3.3zM176.8 110.6h3.3v2.3h-3.3zM567.9 110.6h3.3v2.3h-3.3zM586 110.6h6.3v2.3h-6.3zM62.5 112.6h3.3v2.3h-3.3zM74.6 112.6h3.3v2.3h-3.3zM80.6 112.6h3.3v2.3h-3.3zM92.6 112.6h6.3v2.3h-6.3zM173.8 112.6h6.3v2.3h-6.3zM549.9 112.6h3.3v2.3h-3.3zM62.5 114.6h3.3v2.3h-3.3zM74.6 114.6h3.3v2.3h-3.3zM80.6 114.6h3.3v2.3h-3.3zM89.6 114.6h9.3v2.3h-9.3zM170.8 114.6h6.3v2.3h-6.3zM534.8 114.6h3.3v2.3h-3.3zM62.5 116.6h3.3v2.3h-3.3zM80.6 116.6h3.3v2.3h-3.3zM89.6 116.6h9.3v2.3h-9.3zM170.8 116.6h3.3v2.3h-3.3zM185.9 116.6h6.3v2.3h-6.3zM546.9 116.6h3.3v2.3h-3.3zM62.5 118.6h3.3v2.3h-3.3zM89.6 118.6h3.3v2.3h-3.3zM185.9 118.6h9.3v2.3h-9.3zM531.8 118.6h3.3v2.3h-3.3zM62.5 120.6h3.3v2.3h-3.3zM71.6 120.6h3.3v2.3h-3.3zM185.9 120.6h9.3v2.3h-9.3zM531.8 120.6h3.3v2.3h-3.3zM68.5 122.6h3.3v2.3h-3.3zM176.8 122.6h3.3v2.3h-3.3zM185.9 122.6h3.3v2.3h-3.3zM191.9 122.6h3.3v2.3h-3.3zM65.5 124.6h3.3v2.3h-3.3zM176.8 124.6h3.3v2.3h-3.3zM185.9 124.6h3.3v2.3h-3.3zM191.9 124.6h3.3v2.3h-3.3zM555.9 124.6h9.3v2.3h-9.3zM62.5 126.6h3.3v2.3h-3.3zM176.8 126.6h3.3v2.3h-3.3zM194.9 126.6h3.3v2.3h-3.3zM486.7 126.6h3.3v2.3h-3.3zM546.9 126.6h3.3v2.3h-3.3zM555.9 126.6h3.3v2.3h-3.3zM399.5 130.6h3.3v2.3h-3.3zM543.9 130.6h3.3v2.3h-3.3zM577 130.6h6.3v2.3h-6.3zM586 130.6h3.3v2.3h-3.3zM206.9 132.6h3.3v2.3h-3.3zM249.1 132.6h3.3v2.3h-3.3zM348.3 132.6h3.3v2.3h-3.3zM366.4 132.6h6.3v2.3h-6.3zM399.5 132.6h3.3v2.3h-3.3zM567.9 132.6h3.3v2.3h-3.3zM577 132.6h9.3v2.3h-9.3zM209.9 134.6h3.3v2.3h-3.3zM249.1 134.6h3.3v2.3h-3.3zM264.1 134.6h3.3v2.3h-3.3zM339.3 134.6h3.3v2.3h-3.3zM363.4 134.6h3.3v2.3h-3.3zM369.4 134.6h3.3v2.3h-3.3zM399.5 134.6h3.3v2.3h-3.3zM567.9 134.6h3.3v2.3h-3.3zM580 134.6h6.3v2.3h-6.3zM182.9 136.6h3.3v2.3h-3.3zM216 136.6h12.3v2.3h-12.3zM237 136.6h6.3v2.3h-6.3zM246 136.6h3.3v2.3h-3.3zM267.1 136.6h9.3v2.3h-9.3zM282.1 136.6h3.3v2.3h-3.3zM309.2 136.6h3.3v2.3h-3.3zM318.2 136.6h3.3v2.3h-3.3zM333.3 136.6h3.3v2.3h-3.3zM360.4 136.6h3.3v2.3h-3.3zM369.4 136.6h3.3v2.3h-3.3zM450.6 136.6h3.3v2.3h-3.3zM580 136.6h6.3v2.3h-6.3zM231 138.6h6.3v2.3h-6.3zM243 138.6h3.3v2.3h-3.3zM276.1 138.6h6.3v2.3h-6.3zM294.2 138.6h6.3v2.3h-6.3zM312.2 138.6h3.3v2.3h-3.3zM327.3 138.6h3.3v2.3h-3.3zM351.3 138.6h6.3v2.3h-6.3zM369.4 138.6h3.3v2.3h-3.3zM393.4 138.6h3.3v2.3h-3.3zM580 138.6h3.3v2.3h-3.3zM185.9 140.6h3.3v2.3h-3.3zM276.1 140.6h3.3v2.3h-3.3zM285.1 140.6h3.3v2.3h-3.3zM291.2 140.6h3.3v2.3h-3.3zM312.2 140.6h6.3v2.3h-6.3zM327.3 140.6h3.3v2.3h-3.3zM357.4 140.6h6.3v2.3h-6.3zM375.4 140.6h3.3v2.3h-3.3zM381.4 140.6h3.3v2.3h-3.3zM450.6 140.6h3.3v2.3h-3.3zM589 140.6h3.3v2.3h-3.3zM300.2 142.6h6.3v2.3h-6.3zM318.2 142.6h3.3v2.3h-3.3zM327.3 142.6h3.3v2.3h-3.3zM360.4 142.6h3.3v2.3h-3.3zM366.4 142.6h6.3v2.3h-6.3zM378.4 142.6h3.3v2.3h-3.3zM387.4 142.6h6.3v2.3h-6.3zM589 142.6h3.3v2.3h-3.3zM191.9 144.6h3.3v2.3h-3.3zM303.2 144.6h3.3v2.3h-3.3zM309.2 144.6h3.3v2.3h-3.3zM327.3 144.6h3.3v2.3h-3.3zM369.4 144.6h3.3v2.3h-3.3zM396.5 144.6h3.3v2.3h-3.3zM589 144.6h3.3v2.3h-3.3zM219 146.6h3.3v2.3h-3.3zM330.3 146.6h3.3v2.3h-3.3zM372.4 146.6h6.3v2.3h-6.3zM231 148.6h3.3v2.3h-3.3zM291.2 148.6h6.3v2.3h-6.3zM393.4 148.6h3.3v2.3h-3.3zM225 150.6h3.3v2.3h-3.3zM276.1 152.6h3.3v2.3h-3.3zM282.1 152.6h3.3v2.3h-3.3zM258.1 156.6h3.3v2.3h-3.3zM264.1 156.6h6.3v2.3h-6.3z"/>
<path fill="#c00000" d="M56.5 50.5h3.3v2.3h-3.3zM53.5 52.5h6.3v2.3h-6.3zM56.5 54.5h3.3v2.3h-3.3zM161.8 54.5h3.3v2.3h-3.3zM167.8 54.5h3.3v2.3h-3.3zM50.5 56.5h3.3v2.3h-3.3zM56.5 56.5h3.3v2.3h-3.3zM161.8 56.5h3.3v2.3h-3.3zM50.5 58.5h3.3v2.3h-3.3zM56.5 58.5h3.3v2.3h-3.3zM161.8 58.5h3.3v2.3h-3.3zM50.5 60.5h3.3v2.3h-3.3zM56.5 60.5h3.3v2.3h-3.3zM62.5 60.5h3.3v2.3h-3.3zM158.8 60.5h3.3v2.3h-3.3zM50.5 62.5h3.3v2.3h-3.3zM56.5 62.5h3.3v2.3h-3.3zM155.8 62.5h6.3v2.3h-6.3zM50.5 64.5h3.3v2.3h-3.3zM56.5 64.5h3.3v2.3h-3.3zM155.8 64.5h6.3v2.3h-6.3zM50.5 66.5h3.3v2.3h-3.3zM155.8 66.5h6.3v2.3h-6.3zM164.8 66.5h3.3v2.3h-3.3zM155.8 68.5h6.3v2.3h-6.3zM164.8 68.5h3.3v2.3h-3.3zM59.5 70.5h3.3v2.3h-3.3zM155.8 70.5h6.3v2.3h-6.3zM59.5 72.5h3.3v2.3h-3.3zM152.8 72.5h3.3v2.3h-3.3zM59.5 74.5h3.3v2.3h-3.3zM65.5 74.5h3.3v2.3h-3.3zM161.8 74.5h3.3v2.3h-3.3zM53.5 76.5h3.3v2.3h-3.3zM59.5 76.5h3.3v2.3h-3.3zM65.5 76.5h3.3v2.3h-3.3zM53.5 78.5h3.3v2.3h-3.3zM59.5 78.5h3.3v2.3h-3.3zM65.5 78.5h3.3v2.3h-3.3zM59.5 80.5h3.3v2.3h-3.3zM65.5 80.5h3.3v2.3h-3.3zM59.5 82.5h3.3v2.3h-3.3zM65.5 82.5h3.3v2.3h-3.3zM149.8 82.5h3.3v2.3h-3.3zM65.5 84.5h12.3v2.3h-12.3zM65.5 86.5h3.3v2.3h-3.3zM74.6 86.5h3.3v2.3h-3.3zM92.6 88.5h3.3v2.3h-3.3zM101.6 88.5h3.3v2.3h-3.3zM170.8 88.5h3.3v2.3h-3.3zM146.8 90.5h3.3v2.3h-3.3zM101.6 92.5h3.3v2.3h-3.3zM107.7 92.5h6.3v2.3h-6.3zM146.8 92.5h3.3v2.3h-3.3zM558.9 92.5h3.3v2.3h-3.3zM65.5 94.5h3.3v2.3h-3.3zM71.6 94.5h3.3v2.3h-3.3zM86.6 94.5h6.3v2.3h-6.3zM101.6 94.5h3.3v2.3h-3.3zM107.7 94.5h6.3v2.3h-6.3zM50.5 96.5h3.3v2.3h-3.3zM65.5 96.5h12.3v2.3h-12.3zM80.6 96.5h3.3v2.3h-3.3zM107.7 96.5h6.3v2.3h-6.3zM170.8 96.5h3.3v2.3h-3.3zM59.5 98.5h15.3v2.3h-15.3zM80.6 98.5h3.3v2.3h-3.3zM107.7 98.5h3.3v2.3h-3.3zM146.8 98.5h3.3v2.3h-3.3zM158.8 98.5h3.3v2.3h-3.3zM167.8 98.5h6.3v2.3h-6.3zM558.9 98.5h3.3v2.3h-3.3zM65.5 100.5h3.3v2.3h-3.3zM80.6 100.5h12.3v2.3h-12.3zM149.8 100.5h3.3v2.3h-3.3zM167.8 100.5h6.3v2.3h-6.3zM65.5 102.6h3.3v2.3h-3.3zM77.6 102.6h9.3v2.3h-9.3zM98.6 102.6h3.3v2.3h-3.3zM167.8 102.6h9.3v2.3h-9.3zM65.5 104.6h3.3v2.3h-3.3zM77.6 104.6h3.3v2.3h-3.3zM83.6 104.6h3.3v2.3h-3.3zM98.6 104.6h3.3v2.3h-3.3zM167.8 104.6h9.3v2.3h-9.3zM182.9 104.6h3.3v2.3h-3.3zM65.5 106.6h3.3v2.3h-3.3zM77.6 106.6h3.3v2.3h-3.3zM83.6 106.6h3.3v2.3h-3.3zM98.6 106.6h3.3v2.3h-3.3zM116.7 106.6h3.3v2.3h-3.3zM62.5 108.6h3.3v2.3h-3.3zM77.6 108.6h3.3v2.3h-3.3zM83.6 108.6h3.3v2.3h-3.3zM89.6 108.6h3.3v2.3h-3.3zM98.6 108.6h3.3v2.3h-3.3zM116.7 108.6h3.3v2.3h-3.3zM131.7 108.6h3.3v2.3h-3.3zM146.8 108.6h3.3v2.3h-3.3zM176.8 108.6h3.3v2.3h-3.3zM552.9 108.6h3.3v2.3h-3.3zM77.6 110.6h3.3v2.3h-3.3zM83.6 110.6h3.3v2.3h-3.3zM89.6 110.6h3.3v2.3h-3.3zM107.7 110.6h3.3v2.3h-3.3zM116.7 110.6h3.3v2.3h-3.3zM552.9 110.6h3.3v2.3h-3.3zM77.6 112.6h3.3v2.3h-3.3zM83.6 112.6h3.3v2.3h-3.3zM89.6 112.6h3.3v2.3h-3.3zM104.7 112.6h6.3v2.3h-6.3zM185.9 112.6h3.3v2.3h-3.3zM537.9 112.6h3.3v2.3h-3.3zM552.9 112.6h3.3v2.3h-3.3zM77.6 114.6h3.3v2.3h-3.3zM83.6 114.6h3.3v2.3h-3.3zM104.7 114.6h6.3v2.3h-6.3zM176.8 114.6h3.3v2.3h-3.3zM185.9 114.6h6.3v2.3h-6.3zM492.7 114.6h3.3v2.3h-3.3zM537.9 114.6h3.3v2.3h-3.3zM546.9 114.6h3.3v2.3h-3.3zM552.9 114.6h3.3v2.3h-3.3zM74.6 116.6h6.3v2.3h-6.3zM83.6 116.6h3.3v2.3h-3.3zM104.7 116.6h6.3v2.3h-6.3zM173.8 116.6h6.3v2.3h-6.3zM191.9 116.6h3.3v2.3h-3.3zM531.8 116.6h3.3v2.3h-3.3zM537.9 116.6h3.3v2.3h-3.3zM552.9 116.6h3.3v2.3h-3.3zM74.6 118.6h9.3v2.3h-9.3zM92.6 118.6h3.3v2.3h-3.3zM170.8 118.6h3.3v2.3h-3.3zM176.8 118.6h3.3v2.3h-3.3zM489.7 118.6h3.3v2.3h-3.3zM543.9 118.6h3.3v2.3h-3.3zM89.6 120.6h3.3v2.3h-3.3zM170.8 120.6h3.3v2.3h-3.3zM176.8 120.6h3.3v2.3h-3.3zM489.7 120.6h3.3v2.3h-3.3zM71.6 122.6h3.3v2.3h-3.3zM170.8 122.6h3.3v2.3h-3.3zM486.7 122.6h6.3v2.3h-6.3zM534.8 122.6h3.3v2.3h-3.3zM555.9 122.6h6.3v2.3h-6.3zM68.5 124.6h3.3v2.3h-3.3zM170.8 124.6h3.3v2.3h-3.3zM402.5 124.6h3.3v2.3h-3.3zM489.7 124.6h3.3v2.3h-3.3zM65.5 126.6h6.3v2.3h-6.3zM402.5 126.6h3.3v2.3h-3.3zM531.8 126.6h3.3v2.3h-3.3zM549.9 126.6h3.3v2.3h-3.3zM558.9 126.6h6.3v2.3h-6.3zM570.9 126.6h3.3v2.3h-3.3zM589 126.6h3.3v2.3h-3.3zM62.5 128.6h6.3v2.3h-6.3zM252.1 128.6h6.3v2.3h-6.3zM399.5 128.6h3.3v2.3h-3.3zM486.7 128.6h3.3v2.3h-3.3zM543.9 128.6h6.3v2.3h-6.3zM555.9 128.6h9.3v2.3h-9.3zM570.9 128.6h3.3v2.3h-3.3zM580 128.6h3.3v2.3h-3.3zM197.9 130.6h12.3v2.3h-12.3zM258.1 130.6h6.3v2.3h-6.3zM369.4 130.6h3.3v2.3h-3.3zM459.6 130.6h6.3v2.3h-6.3zM567.9 130.6h6.3v2.3h-6.3zM583 130.6h3.3v2.3h-3.3zM209.9 132.6h3.3v2.3h-3.3zM342.3 132.6h6.3v2.3h-6.3zM351.3 132.6h3.3v2.3h-3.3zM363.4 132.6h3.3v2.3h-3.3zM396.5 132.6h3.3v2.3h-3.3zM507.8 132.6h3.3v2.3h-3.3zM570.9 132.6h3.3v2.3h-3.3zM176.8 134.6h3.3v2.3h-3.3zM212.9 134.6h3.3v2.3h-3.3zM228 134.6h3.3v2.3h-3.3zM237 134.6h6.3v2.3h-6.3zM246 134.6h3.3v2.3h-3.3zM267.1 134.6h3.3v2.3h-3.3zM336.3 134.6h3.3v2.3h-3.3zM351.3 134.6h3.3v2.3h-3.3zM360.4 134.6h3.3v2.3h-3.3zM179.9 136.6h3.3v2.3h-3.3zM243 136.6h3.3v2.3h-3.3zM306.2 136.6h3.3v2.3h-3.3zM315.2 136.6h3.3v2.3h-3.3zM330.3 136.6h3.3v2.3h-3.3zM351.3 136.6h9.3v2.3h-9.3zM399.5 136.6h3.3v2.3h-3.3zM567.9 136.6h3.3v2.3h-3.3zM574 136.6h3.3v2.3h-3.3zM182.9 138.6h3.3v2.3h-3.3zM285.1 138.6h3.3v2.3h-3.3zM291.2 138.6h3.3v2.3h-3.3zM321.2 138.6h6.3v2.3h-6.3zM384.4 138.6h6.3v2.3h-6.3zM399.5 138.6h3.3v2.3h-3.3zM447.6 138.6h3.3v2.3h-3.3zM574 138.6h3.3v2.3h-3.3zM300.2 140.6h6.3v2.3h-6.3zM321.2 140.6h6.3v2.3h-6.3zM351.3 140.6h6.3v2.3h-6.3zM369.4 140.6h6.3v2.3h-6.3zM378.4 140.6h3.3v2.3h-3.3zM387.4 140.6h3.3v2.3h-3.3zM574 140.6h9.3v2.3h-9.3zM288.2 142.6h3.3v2.3h-3.3zM312.2 142.6h6.3v2.3h-6.3zM324.3 142.6h3.3v2.3h-3.3zM348.3 142.6h3.3v2.3h-3.3zM357.4 142.6h3.3v2.3h-3.3zM188.9 144.6h3.3v2.3h-3.3zM194.9 144.6h3.3v2.3h-3.3zM312.2 144.6h9.3v2.3h-9.3zM324.3 144.6h3.3v2.3h-3.3zM360.4 144.6h3.3v2.3h-3.3zM366.4 144.6h3.3v2.3h-3.3zM580 144.6h3.3v2.3h-3.3zM209.9 146.6h9.3v2.3h-9.3zM300.2 146.6h3.3v2.3h-3.3zM586 146.6h6.3v2.3h-6.3zM222 148.6h3.3v2.3h-3.3zM297.2 148.6h3.3v2.3h-3.3zM381.4 148.6h3.3v2.3h-3.3zM387.4 148.6h3.3v2.3h-3.3zM228 150.6h6.3v2.3h-6.3zM387.4 150.6h3.3v2.3h-3.3zM390.4 152.6h3.3v2.3h-3.3zM249.1 156.6h9.3v2.3h-9.3zM270.1 156.6h3.3v2.3h-3.3zM258.1 158.6h3.3v2.3h-3.3zM264.1 158.6h3.3v2.3h-3.3z"/>
<path fill="#9a1010" d="M170.8 50.5h3.3v2.3h-3.3zM170.8 52.5h3.3v2.3h-3.3zM170.8 54.5h3.3v2.3h-3.3zM170.8 56.5h3.3v2.3h-3.3zM167.8 60.5h3.3v2.3h-3.3zM62.5 62.5h3.3v2.3h-3.3zM62.5 64.5h3.3v2.3h-3.3zM62.5 66.5h3.3v2.3h-3.3zM62.5 68.5h3.3v2.3h-3.3zM62.5 70.5h3.3v2.3h-3.3zM62.5 72.5h3.3v2.3h-3.3zM62.5 74.5h3.3v2.3h-3.3zM155.8 74.5h6.3v2.3h-6.3zM164.8 74.5h3.3v2.3h-3.3zM170.8 74.5h3.3v2.3h-3.3zM62.5 76.5h3.3v2.3h-3.3zM152.8 76.5h9.3v2.3h-9.3zM170.8 76.5h3.3v2.3h-3.3zM62.5 78.5h3.3v2.3h-3.3zM152.8 78.5h9.3v2.3h-9.3zM170.8 78.5h3.3v2.3h-3.3zM62.5 80.5h3.3v2.3h-3.3zM152.8 80.5h6.3v2.3h-6.3zM170.8 80.5h3.3v2.3h-3.3zM62.5 82.5h3.3v2.3h-3.3zM152.8 82.5h6.3v2.3h-6.3zM170.8 82.5h3.3v2.3h-3.3zM62.5 84.5h3.3v2.3h-3.3zM152.8 84.5h6.3v2.3h-6.3zM161.8 84.5h3.3v2.3h-3.3zM170.8 84.5h3.3v2.3h-3.3zM62.5 86.5h3.3v2.3h-3.3zM149.8 86.5h3.3v2.3h-3.3zM161.8 86.5h3.3v2.3h-3.3zM167.8 86.5h3.3v2.3h-3.3zM71.6 88.5h3.3v2.3h-3.3zM95.6 88.5h6.3v2.3h-6.3zM161.8 88.5h3.3v2.3h-3.3zM167.8 88.5h3.3v2.3h-3.3zM68.5 90.5h6.3v2.3h-6.3zM161.8 90.5h3.3v2.3h-3.3zM92.6 92.5h3.3v2.3h-3.3zM98.6 92.5h3.3v2.3h-3.3zM161.8 92.5h3.3v2.3h-3.3zM92.6 94.5h3.3v2.3h-3.3zM98.6 94.5h3.3v2.3h-3.3zM95.6 96.5h3.3v2.3h-3.3zM95.6 98.5h3.3v2.3h-3.3zM149.8 98.5h6.3v2.3h-6.3zM92.6 100.5h6.3v2.3h-6.3zM71.6 102.6h3.3v2.3h-3.3zM92.6 102.6h3.3v2.3h-3.3zM71.6 104.6h6.3v2.3h-6.3zM164.8 104.6h3.3v2.3h-3.3zM68.5 106.6h6.3v2.3h-6.3zM68.5 108.6h6.3v2.3h-6.3zM170.8 108.6h3.3v2.3h-3.3zM179.9 108.6h3.3v2.3h-3.3zM65.5 110.6h9.3v2.3h-9.3zM173.8 110.6h3.3v2.3h-3.3zM182.9 110.6h3.3v2.3h-3.3zM65.5 112.6h9.3v2.3h-9.3zM170.8 112.6h3.3v2.3h-3.3zM65.5 114.6h9.3v2.3h-9.3zM549.9 114.6h3.3v2.3h-3.3zM65.5 116.6h9.3v2.3h-9.3zM534.8 116.6h3.3v2.3h-3.3zM65.5 118.6h9.3v2.3h-9.3zM546.9 118.6h3.3v2.3h-3.3zM65.5 120.6h6.3v2.3h-6.3zM534.8 120.6h3.3v2.3h-3.3zM546.9 120.6h3.3v2.3h-3.3zM62.5 122.6h6.3v2.3h-6.3zM182.9 122.6h3.3v2.3h-3.3zM188.9 122.6h3.3v2.3h-3.3zM531.8 122.6h3.3v2.3h-3.3zM546.9 122.6h6.3v2.3h-6.3zM62.5 124.6h3.3v2.3h-3.3zM182.9 124.6h3.3v2.3h-3.3zM188.9 124.6h3.3v2.3h-3.3zM486.7 124.6h3.3v2.3h-3.3zM531.8 124.6h3.3v2.3h-3.3zM546.9 124.6h6.3v2.3h-6.3zM182.9 126.6h6.3v2.3h-6.3zM191.9 126.6h3.3v2.3h-3.3zM176.8 128.6h3.3v2.3h-3.3zM185.9 128.6h3.3v2.3h-3.3zM194.9 128.6h3.3v2.3h-3.3zM589 128.6h3.3v2.3h-3.3zM176.8 130.6h3.3v2.3h-3.3zM252.1 130.6h6.3v2.3h-6.3zM176.8 132.6h3.3v2.3h-3.3zM182.9 132.6h3.3v2.3h-3.3zM197.9 132.6h9.3v2.3h-9.3zM258.1 132.6h6.3v2.3h-6.3zM586 132.6h3.3v2.3h-3.3zM179.9 134.6h6.3v2.3h-6.3zM197.9 134.6h12.3v2.3h-12.3zM261.1 134.6h3.3v2.3h-3.3zM342.3 134.6h9.3v2.3h-9.3zM366.4 134.6h3.3v2.3h-3.3zM396.5 134.6h3.3v2.3h-3.3zM577 134.6h3.3v2.3h-3.3zM209.9 136.6h6.3v2.3h-6.3zM228 136.6h3.3v2.3h-3.3zM249.1 136.6h3.3v2.3h-3.3zM264.1 136.6h3.3v2.3h-3.3zM363.4 136.6h6.3v2.3h-6.3zM577 136.6h3.3v2.3h-3.3zM589 136.6h3.3v2.3h-3.3zM240 138.6h3.3v2.3h-3.3zM246 138.6h3.3v2.3h-3.3zM270.1 138.6h3.3v2.3h-3.3zM315.2 138.6h6.3v2.3h-6.3zM357.4 138.6h6.3v2.3h-6.3zM577 138.6h3.3v2.3h-3.3zM583 138.6h3.3v2.3h-3.3zM589 138.6h3.3v2.3h-3.3zM231 140.6h6.3v2.3h-6.3zM243 140.6h3.3v2.3h-3.3zM279.1 140.6h3.3v2.3h-3.3zM294.2 140.6h6.3v2.3h-6.3zM309.2 140.6h3.3v2.3h-3.3zM318.2 140.6h3.3v2.3h-3.3zM348.3 140.6h3.3v2.3h-3.3zM363.4 140.6h6.3v2.3h-6.3zM384.4 140.6h3.3v2.3h-3.3zM583 140.6h3.3v2.3h-3.3zM188.9 142.6h3.3v2.3h-3.3zM194.9 142.6h6.3v2.3h-6.3zM231 142.6h6.3v2.3h-6.3zM276.1 142.6h3.3v2.3h-3.3zM285.1 142.6h3.3v2.3h-3.3zM309.2 142.6h3.3v2.3h-3.3zM363.4 142.6h3.3v2.3h-3.3zM372.4 142.6h6.3v2.3h-6.3zM381.4 142.6h3.3v2.3h-3.3zM396.5 142.6h3.3v2.3h-3.3zM197.9 144.6h6.3v2.3h-6.3zM300.2 144.6h3.3v2.3h-3.3zM345.3 144.6h3.3v2.3h-3.3zM363.4 144.6h3.3v2.3h-3.3zM387.4 144.6h3.3v2.3h-3.3zM586 144.6h3.3v2.3h-3.3zM222 146.6h3.3v2.3h-3.3zM231 146.6h3.3v2.3h-3.3zM285.1 146.6h6.3v2.3h-6.3zM306.2 146.6h3.3v2.3h-3.3zM342.3 146.6h3.3v2.3h-3.3zM378.4 146.6h3.3v2.3h-3.3zM384.4 146.6h6.3v2.3h-6.3zM583 146.6h3.3v2.3h-3.3zM225 148.6h6.3v2.3h-6.3zM276.1 148.6h3.3v2.3h-3.3zM234 150.6h3.3v2.3h-3.3zM276.1 150.6h3.3v2.3h-3.3zM282.1 150.6h3.3v2.3h-3.3zM390.4 150.6h3.3v2.3h-3.3zM234 152.6h3.3v2.3h-3.3zM240 152.6h3.3v2.3h-3.3zM249.1 154.6h12.3v2.3h-12.3zM267.1 154.6h6.3v2.3h-6.3zM261.1 156.6h3.3v2.3h-3.3zM261.1 158.6h3.3v2.3h-3.3z"/>
<path fill="#901212" d="M170.8 58.5h3.3v2.3h-3.3zM170.8 60.5h3.3v2.3h-3.3zM167.8 62.5h6.3v2.3h-6.3zM167.8 64.5h6.3v2.3h-6.3zM167.8 66.5h6.3v2.3h-6.3zM167.8 68.5h6.3v2.3h-6.3zM167.8 70.5h6.3v2.3h-6.3zM170.8 72.5h3.3v2.3h-3.3zM164.8 76.5h3.3v2.3h-3.3zM164.8 78.5h3.3v2.3h-3.3zM164.8 80.5h6.3v2.3h-6.3zM164.8 82.5h6.3v2.3h-6.3zM167.8 84.5h3.3v2.3h-3.3zM152.8 86.5h6.3v2.3h-6.3zM164.8 86.5h3.3v2.3h-3.3zM149.8 88.5h9.3v2.3h-9.3zM164.8 88.5h3.3v2.3h-3.3zM95.6 90.5h6.3v2.3h-6.3zM149.8 90.5h3.3v2.3h-3.3zM155.8 90.5h3.3v2.3h-3.3zM164.8 90.5h3.3v2.3h-3.3zM95.6 92.5h3.3v2.3h-3.3zM149.8 92.5h3.3v2.3h-3.3zM155.8 92.5h3.3v2.3h-3.3zM164.8 92.5h3.3v2.3h-3.3zM95.6 94.5h3.3v2.3h-3.3zM149.8 94.5h3.3v2.3h-3.3zM155.8 94.5h3.3v2.3h-3.3zM161.8 94.5h6.3v2.3h-6.3zM92.6 96.5h3.3v2.3h-3.3zM149.8 96.5h3.3v2.3h-3.3zM155.8 96.5h3.3v2.3h-3.3zM161.8 96.5h6.3v2.3h-6.3zM92.6 98.5h3.3v2.3h-3.3zM161.8 98.5h6.3v2.3h-6.3zM161.8 100.5h6.3v2.3h-6.3zM161.8 102.6h6.3v2.3h-6.3zM161.8 104.6h3.3v2.3h-3.3zM170.8 110.6h3.3v2.3h-3.3zM179.9 110.6h3.3v2.3h-3.3zM179.9 112.6h6.3v2.3h-6.3zM179.9 114.6h6.3v2.3h-6.3zM179.9 116.6h6.3v2.3h-6.3zM549.9 116.6h3.3v2.3h-3.3zM182.9 118.6h3.3v2.3h-3.3zM534.8 118.6h3.3v2.3h-3.3zM549.9 118.6h3.3v2.3h-3.3zM182.9 120.6h3.3v2.3h-3.3zM549.9 120.6h3.3v2.3h-3.3zM188.9 126.6h3.3v2.3h-3.3zM182.9 128.6h3.3v2.3h-3.3zM188.9 128.6h6.3v2.3h-6.3zM182.9 130.6h6.3v2.3h-6.3zM191.9 130.6h6.3v2.3h-6.3zM589 130.6h3.3v2.3h-3.3zM179.9 132.6h3.3v2.3h-3.3zM185.9 132.6h3.3v2.3h-3.3zM194.9 132.6h3.3v2.3h-3.3zM252.1 132.6h6.3v2.3h-6.3zM589 132.6h3.3v2.3h-3.3zM185.9 134.6h3.3v2.3h-3.3zM258.1 134.6h3.3v2.3h-3.3zM586 134.6h6.3v2.3h-6.3zM185.9 136.6h3.3v2.3h-3.3zM197.9 136.6h12.3v2.3h-12.3zM258.1 136.6h6.3v2.3h-6.3zM336.3 136.6h6.3v2.3h-6.3zM348.3 136.6h3.3v2.3h-3.3zM396.5 136.6h3.3v2.3h-3.3zM586 136.6h3.3v2.3h-3.3zM185.9 138.6h3.3v2.3h-3.3zM206.9 138.6h15.3v2.3h-15.3zM237 138.6h3.3v2.3h-3.3zM249.1 138.6h3.3v2.3h-3.3zM264.1 138.6h6.3v2.3h-6.3zM273.1 138.6h3.3v2.3h-3.3zM282.1 138.6h3.3v2.3h-3.3zM306.2 138.6h6.3v2.3h-6.3zM330.3 138.6h3.3v2.3h-3.3zM348.3 138.6h3.3v2.3h-3.3zM363.4 138.6h6.3v2.3h-6.3zM450.6 138.6h3.3v2.3h-3.3zM586 138.6h3.3v2.3h-3.3zM194.9 140.6h27.4v2.3h-27.4zM237 140.6h6.3v2.3h-6.3zM246 140.6h6.3v2.3h-6.3zM264.1 140.6h12.3v2.3h-12.3zM306.2 140.6h3.3v2.3h-3.3zM330.3 140.6h3.3v2.3h-3.3zM393.4 140.6h6.3v2.3h-6.3zM586 140.6h3.3v2.3h-3.3zM191.9 142.6h3.3v2.3h-3.3zM200.9 142.6h21.4v2.3h-21.4zM240 142.6h9.3v2.3h-9.3zM264.1 142.6h6.3v2.3h-6.3zM279.1 142.6h3.3v2.3h-3.3zM291.2 142.6h9.3v2.3h-9.3zM306.2 142.6h3.3v2.3h-3.3zM330.3 142.6h3.3v2.3h-3.3zM345.3 142.6h3.3v2.3h-3.3zM384.4 142.6h3.3v2.3h-3.3zM583 142.6h6.3v2.3h-6.3zM203.9 144.6h18.3v2.3h-18.3zM231 144.6h6.3v2.3h-6.3zM243 144.6h6.3v2.3h-6.3zM276.1 144.6h3.3v2.3h-3.3zM285.1 144.6h6.3v2.3h-6.3zM306.2 144.6h3.3v2.3h-3.3zM330.3 144.6h3.3v2.3h-3.3zM372.4 144.6h15.3v2.3h-15.3zM390.4 144.6h3.3v2.3h-3.3zM583 144.6h3.3v2.3h-3.3zM225 146.6h6.3v2.3h-6.3zM234 146.6h3.3v2.3h-3.3zM276.1 146.6h3.3v2.3h-3.3zM291.2 146.6h9.3v2.3h-9.3zM333.3 146.6h9.3v2.3h-9.3zM381.4 146.6h3.3v2.3h-3.3zM390.4 146.6h6.3v2.3h-6.3zM234 148.6h3.3v2.3h-3.3zM240 148.6h3.3v2.3h-3.3zM390.4 148.6h3.3v2.3h-3.3zM237 150.6h6.3v2.3h-6.3zM273.1 150.6h3.3v2.3h-3.3zM279.1 150.6h3.3v2.3h-3.3zM237 152.6h3.3v2.3h-3.3zM243 152.6h6.3v2.3h-6.3zM273.1 152.6h3.3v2.3h-3.3zM279.1 152.6h3.3v2.3h-3.3zM261.1 154.6h6.3v2.3h-6.3z"/>
<path fill="#8a1212" d="M167.8 72.5h3.3v2.3h-3.3zM167.8 74.5h3.3v2.3h-3.3zM167.8 76.5h3.3v2.3h-3.3zM167.8 78.5h3.3v2.3h-3.3zM164.8 84.5h3.3v2.3h-3.3zM152.8 90.5h3.3v2.3h-3.3zM152.8 92.5h3.3v2.3h-3.3zM152.8 94.5h3.3v2.3h-3.3zM152.8 96.5h3.3v2.3h-3.3zM179.9 118.6h3.3v2.3h-3.3zM179.9 120.6h3.3v2.3h-3.3zM179.9 122.6h3.3v2.3h-3.3zM179.9 124.6h3.3v2.3h-3.3zM179.9 126.6h3.3v2.3h-3.3zM179.9 128.6h3.3v2.3h-3.3zM179.9 130.6h3.3v2.3h-3.3zM188.9 130.6h3.3v2.3h-3.3zM188.9 132.6h6.3v2.3h-6.3zM188.9 134.6h9.3v2.3h-9.3zM252.1 134.6h6.3v2.3h-6.3zM188.9 136.6h9.3v2.3h-9.3zM252.1 136.6h6.3v2.3h-6.3zM342.3 136.6h6.3v2.3h-6.3zM188.9 138.6h18.4v2.3h-18.4zM222 138.6h9.3v2.3h-9.3zM252.1 138.6h12.3v2.3h-12.3zM333.3 138.6h15.3v2.3h-15.3zM396.5 138.6h3.3v2.3h-3.3zM188.9 140.6h6.3v2.3h-6.3zM222 140.6h9.3v2.3h-9.3zM252.1 140.6h12.3v2.3h-12.3zM282.1 140.6h3.3v2.3h-3.3zM333.3 140.6h15.3v2.3h-15.3zM222 142.6h9.3v2.3h-9.3zM237 142.6h3.3v2.3h-3.3zM249.1 142.6h15.3v2.3h-15.3zM270.1 142.6h6.3v2.3h-6.3zM282.1 142.6h3.3v2.3h-3.3zM333.3 142.6h12.3v2.3h-12.3zM393.4 142.6h3.3v2.3h-3.3zM222 144.6h9.3v2.3h-9.3zM237 144.6h6.3v2.3h-6.3zM249.1 144.6h27.4v2.3h-27.4zM279.1 144.6h6.3v2.3h-6.3zM291.2 144.6h9.3v2.3h-9.3zM333.3 144.6h12.3v2.3h-12.3zM393.4 144.6h3.3v2.3h-3.3zM237 146.6h39.4v2.3h-39.4zM279.1 146.6h6.3v2.3h-6.3zM237 148.6h3.3v2.3h-3.3zM243 148.6h33.4v2.3h-33.4zM279.1 148.6h6.3v2.3h-6.3zM243 150.6h30.4v2.3h-30.4zM249.1 152.6h24.4v2.3h-24.4z"/>
<path fill="#00b078" d="M50.5 334.4h9.3v8.1h-9.3zM131.6 334.4h9.3v8.1h-9.3zM167.6 334.4h9.3v8.1h-9.3zM185.6 334.4h9.3v8.1h-9.3zM212.7 334.4h9.3v8.1h-9.3zM239.7 334.4h9.3v8.1h-9.3zM293.7 334.4h18.3v8.1h-18.3zM338.8 334.4h9.3v8.1h-9.3zM365.8 334.4h9.3v8.1h-9.3zM410.8 334.4h9.3v8.1h-9.3zM104.5 342.2h9.3v8.1h-9.3zM122.6 342.2h18.3v8.1h-18.3zM167.6 342.2h9.3v8.1h-9.3zM248.7 342.2h9.3v8.1h-9.3zM302.7 342.2h9.3v8.1h-9.3zM320.8 342.2h9.3v8.1h-9.3zM338.8 342.2h9.3v8.1h-9.3zM365.8 342.2h9.3v8.1h-9.3zM419.8 342.2h27.3v8.1h-27.3zM131.6 350h18.3v8.1h-18.3zM158.6 350h9.3v8.1h-9.3zM176.6 350h9.3v8.1h-9.3zM257.7 350h18.3v8.1h-18.3zM302.7 350h9.3v8.1h-9.3zM320.8 350h18.3v8.1h-18.3zM365.8 350h9.3v8.1h-9.3zM419.8 350h27.3v8.1h-27.3zM140.6 357.9h9.3v8.1h-9.3zM347.8 357.9h9.3v8.1h-9.3zM365.8 357.9h9.3v8.1h-9.3zM437.9 357.9h9.3v8.1h-9.3zM347.8 365.7h18.3v8.1h-18.3zM347.8 373.5h18.3v8.1h-18.3zM356.8 381.3h9.3v8.1h-9.3zM356.8 389.2h9.3v8.1h-9.3zM356.8 397h9.3v8.1h-9.3zM311.7 404.8h9.3v8.1h-9.3zM356.8 404.8h9.3v8.1h-9.3zM257.7 412.6h9.3v8.1h-9.3zM302.7 412.6h36.3v8.1h-36.3zM356.8 412.6h9.3v8.1h-9.3zM248.7 420.5h9.3v8.1h-9.3zM266.7 420.5h9.3v8.1h-9.3zM302.7 420.5h9.3v8.1h-9.3zM338.8 420.5h36.3v8.1h-36.3zM230.7 428.3h9.3v8.1h-9.3zM293.7 428.3h9.3v8.1h-9.3zM374.8 428.3h81.4v8.1h-81.4zM203.6 436.1h9.3v8.1h-9.3zM437.9 436.1h9.3v8.1h-9.3zM464.9 443.9h9.3v8.1h-9.3zM59.5 451.8h9.3v8.1h-9.3zM482.9 451.8h18.3v8.1h-18.3zM537 451.8h9.3v8.1h-9.3z"/>
<path fill="#20f810" d="M59.5 334.4h54.4v8.1h-54.4zM194.6 334.4h18.3v8.1h-18.3zM221.7 334.4h9.3v8.1h-9.3zM248.7 334.4h9.3v8.1h-9.3zM266.7 334.4h27.3v8.1h-27.3zM383.8 334.4h27.3v8.1h-27.3zM419.8 334.4h9.3v8.1h-9.3zM446.9 334.4h9.3v8.1h-9.3zM464.9 334.4h9.3v8.1h-9.3zM546 334.4h9.3v8.1h-9.3zM564 334.4h18.3v8.1h-18.3zM50.5 342.2h54.3v8.1h-54.3zM185.6 342.2h54.4v8.1h-54.4zM257.7 342.2h45.3v8.1h-45.3zM383.8 342.2h9.3v8.1h-9.3zM401.8 342.2h18.3v8.1h-18.3zM446.9 342.2h9.3v8.1h-9.3zM50.5 350h63.4v8.1h-63.4zM167.6 350h9.3v8.1h-9.3zM185.6 350h72.4v8.1h-72.4zM275.7 350h27.3v8.1h-27.3zM338.8 350h9.3v8.1h-9.3zM383.8 350h9.3v8.1h-9.3zM401.8 350h18.3v8.1h-18.3zM446.9 350h9.3v8.1h-9.3zM50.5 357.9h9.3v8.1h-9.3zM77.5 357.9h9.3v8.1h-9.3zM95.5 357.9h27.3v8.1h-27.3zM131.6 357.9h9.3v8.1h-9.3zM149.6 357.9h36.3v8.1h-36.3zM194.6 357.9h99.4v8.1h-99.4zM302.7 357.9h36.3v8.1h-36.3zM410.8 357.9h27.3v8.1h-27.3zM446.9 357.9h9.3v8.1h-9.3zM113.6 365.7h72.4v8.1h-72.4zM239.7 365.7h27.3v8.1h-27.3zM284.7 365.7h9.3v8.1h-9.3zM302.7 365.7h36.3v8.1h-36.3zM365.8 365.7h9.3v8.1h-9.3zM410.8 365.7h36.3v8.1h-36.3zM113.6 373.5h18.3v8.1h-18.3zM140.6 373.5h45.3v8.1h-45.3zM248.7 373.5h18.3v8.1h-18.3zM311.7 373.5h27.3v8.1h-27.3zM365.8 373.5h9.3v8.1h-9.3zM419.8 373.5h9.3v8.1h-9.3zM149.6 381.3h9.3v8.1h-9.3zM248.7 381.3h18.3v8.1h-18.3zM311.7 381.3h27.3v8.1h-27.3zM347.8 381.3h9.3v8.1h-9.3zM365.8 381.3h9.3v8.1h-9.3zM239.7 389.2h18.3v8.1h-18.3zM311.7 389.2h27.3v8.1h-27.3zM347.8 389.2h9.3v8.1h-9.3zM365.8 389.2h9.3v8.1h-9.3zM239.7 397h27.3v8.1h-27.3zM302.7 397h36.3v8.1h-36.3zM347.8 397h9.3v8.1h-9.3zM365.8 397h9.3v8.1h-9.3zM239.7 404.8h27.3v8.1h-27.3zM302.7 404.8h9.3v8.1h-9.3zM320.8 404.8h18.3v8.1h-18.3zM347.8 404.8h9.3v8.1h-9.3zM365.8 404.8h9.3v8.1h-9.3zM239.7 412.6h18.3v8.1h-18.3zM266.7 412.6h9.3v8.1h-9.3zM284.7 412.6h9.3v8.1h-9.3zM338.8 412.6h18.3v8.1h-18.3zM365.8 412.6h9.3v8.1h-9.3zM230.7 420.5h18.3v8.1h-18.3zM275.7 420.5h27.3v8.1h-27.3zM383.8 420.5h72.4v8.1h-72.4zM194.6 428.3h36.3v8.1h-36.3zM113.6 436.1h9.3v8.1h-9.3zM149.6 436.1h9.3v8.1h-9.3zM185.6 436.1h18.3v8.1h-18.3zM464.9 436.1h9.3v8.1h-9.3zM509.9 436.1h9.3v8.1h-9.3zM527.9 436.1h9.3v8.1h-9.3zM50.5 443.9h9.3v8.1h-9.3zM68.5 443.9h36.3v8.1h-36.3zM113.6 443.9h18.3v8.1h-18.3zM140.6 443.9h27.3v8.1h-27.3zM176.6 443.9h9.3v8.1h-9.3zM455.9 443.9h9.3v8.1h-9.3zM473.9 443.9h108.4v8.1h-108.4zM50.5 451.8h9.3v8.1h-9.3zM68.5 451.8h108.4v8.1h-108.4zM455.9 451.8h9.3v8.1h-9.3zM473.9 451.8h9.3v8.1h-9.3zM500.9 451.8h36.3v8.1h-36.3zM546 451.8h45.3v8.1h-45.3z"/>
<path fill="#0073bd" d="M113.6 334.4h9.3v8.1h-9.3zM140.6 334.4h9.3v8.1h-9.3zM158.6 334.4h9.3v8.1h-9.3zM257.7 334.4h9.3v8.1h-9.3zM320.8 334.4h9.3v8.1h-9.3zM428.9 334.4h9.3v8.1h-9.3zM113.6 342.2h9.3v8.1h-9.3zM140.6 342.2h27.3v8.1h-27.3zM176.6 342.2h9.3v8.1h-9.3zM311.7 342.2h9.3v8.1h-9.3zM329.8 342.2h9.3v8.1h-9.3zM122.6 350h9.3v8.1h-9.3zM149.6 350h9.3v8.1h-9.3zM311.7 350h9.3v8.1h-9.3zM347.8 350h9.3v8.1h-9.3zM356.8 357.9h9.3v8.1h-9.3zM257.7 420.5h9.3v8.1h-9.3zM311.7 420.5h27.3v8.1h-27.3zM239.7 428.3h18.3v8.1h-18.3zM275.7 428.3h18.3v8.1h-18.3zM302.7 428.3h9.3v8.1h-9.3zM338.8 428.3h36.3v8.1h-36.3zM212.7 436.1h9.3v8.1h-9.3zM374.8 436.1h63.4v8.1h-63.4zM446.9 436.1h9.3v8.1h-9.3zM185.6 443.9h9.3v8.1h-9.3zM176.6 451.8h9.3v8.1h-9.3zM464.9 451.8h9.3v8.1h-9.3z"/>
<path fill="#0000f9" d="M122.6 334.4h9.3v8.1h-9.3zM149.6 334.4h9.3v8.1h-9.3zM176.6 334.4h9.3v8.1h-9.3zM311.7 334.4h9.3v8.1h-9.3zM329.8 334.4h9.3v8.1h-9.3zM356.8 334.4h9.3v8.1h-9.3zM437.9 334.4h9.3v8.1h-9.3zM347.8 342.2h18.3v8.1h-18.3zM113.6 350h9.3v8.1h-9.3zM356.8 350h9.3v8.1h-9.3zM122.6 357.9h9.3v8.1h-9.3zM257.7 428.3h18.3v8.1h-18.3zM311.7 428.3h27.3v8.1h-27.3zM221.7 436.1h9.3v8.1h-9.3zM275.7 436.1h27.3v8.1h-27.3zM320.8 436.1h54.4v8.1h-54.4zM374.8 443.9h81.4v8.1h-81.4zM374.8 451.8h81.4v8.1h-81.4zM50.5 459.6h135.4v4.2h-135.4z"/>
<path fill="#b8ff00" d="M230.7 334.4h9.3v8.1h-9.3zM374.8 334.4h9.3v8.1h-9.3zM455.9 334.4h9.3v8.1h-9.3zM482.9 334.4h18.3v8.1h-18.3zM518.9 334.4h27.3v8.1h-27.3zM555 334.4h9.3v8.1h-9.3zM239.7 342.2h9.3v8.1h-9.3zM374.8 342.2h9.3v8.1h-9.3zM392.8 342.2h9.3v8.1h-9.3zM464.9 342.2h9.3v8.1h-9.3zM527.9 342.2h54.4v8.1h-54.4zM573 350h9.3v8.1h-9.3zM59.5 357.9h18.3v8.1h-18.3zM86.5 357.9h9.3v8.1h-9.3zM185.6 357.9h9.3v8.1h-9.3zM293.7 357.9h9.3v8.1h-9.3zM338.8 357.9h9.3v8.1h-9.3zM383.8 357.9h9.3v8.1h-9.3zM401.8 357.9h9.3v8.1h-9.3zM50.5 365.7h63.4v8.1h-63.4zM185.6 365.7h54.4v8.1h-54.4zM266.7 365.7h18.3v8.1h-18.3zM293.7 365.7h9.3v8.1h-9.3zM338.8 365.7h9.3v8.1h-9.3zM383.8 365.7h9.3v8.1h-9.3zM401.8 365.7h9.3v8.1h-9.3zM446.9 365.7h9.3v8.1h-9.3zM95.5 373.5h18.3v8.1h-18.3zM131.6 373.5h9.3v8.1h-9.3zM185.6 373.5h18.3v8.1h-18.3zM221.7 373.5h27.3v8.1h-27.3zM266.7 373.5h45.3v8.1h-45.3zM338.8 373.5h9.3v8.1h-9.3zM383.8 373.5h9.3v8.1h-9.3zM401.8 373.5h18.3v8.1h-18.3zM428.9 373.5h18.3v8.1h-18.3zM113.6 381.3h18.3v8.1h-18.3zM140.6 381.3h9.3v8.1h-9.3zM158.6 381.3h27.3v8.1h-27.3zM239.7 381.3h9.3v8.1h-9.3zM266.7 381.3h27.3v8.1h-27.3zM302.7 381.3h9.3v8.1h-9.3zM338.8 381.3h9.3v8.1h-9.3zM383.8 381.3h9.3v8.1h-9.3zM410.8 381.3h36.3v8.1h-36.3zM230.7 389.2h9.3v8.1h-9.3zM257.7 389.2h36.3v8.1h-36.3zM302.7 389.2h9.3v8.1h-9.3zM383.8 389.2h9.3v8.1h-9.3zM410.8 389.2h36.3v8.1h-36.3zM230.7 397h9.3v8.1h-9.3zM266.7 397h27.3v8.1h-27.3zM338.8 397h9.3v8.1h-9.3zM383.8 397h9.3v8.1h-9.3zM410.8 397h36.3v8.1h-36.3zM230.7 404.8h9.3v8.1h-9.3zM266.7 404.8h27.3v8.1h-27.3zM338.8 404.8h9.3v8.1h-9.3zM383.8 404.8h9.3v8.1h-9.3zM410.8 404.8h36.3v8.1h-36.3zM221.7 412.6h18.3v8.1h-18.3zM275.7 412.6h9.3v8.1h-9.3zM293.7 412.6h9.3v8.1h-9.3zM383.8 412.6h72.4v8.1h-72.4zM122.6 420.5h9.3v8.1h-9.3zM149.6 420.5h9.3v8.1h-9.3zM194.6 420.5h36.3v8.1h-36.3zM374.8 420.5h9.3v8.1h-9.3zM113.6 428.3h18.3v8.1h-18.3zM140.6 428.3h18.3v8.1h-18.3zM185.6 428.3h9.3v8.1h-9.3zM464.9 428.3h9.3v8.1h-9.3zM509.9 428.3h9.3v8.1h-9.3zM527.9 428.3h9.3v8.1h-9.3zM50.5 436.1h9.3v8.1h-9.3zM68.5 436.1h9.3v8.1h-9.3zM86.5 436.1h27.3v8.1h-27.3zM122.6 436.1h27.3v8.1h-27.3zM158.6 436.1h9.3v8.1h-9.3zM176.6 436.1h9.3v8.1h-9.3zM455.9 436.1h9.3v8.1h-9.3zM473.9 436.1h36.3v8.1h-36.3zM518.9 436.1h9.3v8.1h-9.3zM537 436.1h45.3v8.1h-45.3zM59.5 443.9h9.3v8.1h-9.3zM104.5 443.9h9.3v8.1h-9.3zM131.6 443.9h9.3v8.1h-9.3zM167.6 443.9h9.3v8.1h-9.3zM582 443.9h9.3v8.1h-9.3z"/>
<path fill="#00007c" d="M347.8 334.4h9.3v8.1h-9.3zM230.7 436.1h45.3v8.1h-45.3zM302.7 436.1h18.3v8.1h-18.3zM194.6 443.9h18.3v8.1h-18.3zM266.7 443.9h9.3v8.1h-9.3zM293.7 443.9h81.4v8.1h-81.4zM185.6 451.8h18.3v8.1h-18.3zM320.8 451.8h54.4v8.1h-54.4zM185.6 459.6h405.7v4.2h-405.7z"/>
<path fill="#fbff00" d="M473.9 334.4h9.3v8.1h-9.3zM500.9 334.4h18.3v8.1h-18.3zM582 334.4h9.3v8.1h-9.3zM455.9 342.2h9.3v8.1h-9.3zM473.9 342.2h18.3v8.1h-18.3zM500.9 342.2h9.3v8.1h-9.3zM518.9 342.2h9.3v8.1h-9.3zM374.8 350h9.3v8.1h-9.3zM392.8 350h9.3v8.1h-9.3zM455.9 350h18.3v8.1h-18.3zM527.9 350h45.3v8.1h-45.3zM374.8 357.9h9.3v8.1h-9.3zM392.8 357.9h9.3v8.1h-9.3zM464.9 357.9h9.3v8.1h-9.3zM537 357.9h18.3v8.1h-18.3zM564 357.9h18.3v8.1h-18.3zM374.8 365.7h9.3v8.1h-9.3zM50.5 373.5h45.3v8.1h-45.3zM203.6 373.5h18.3v8.1h-18.3zM374.8 373.5h9.3v8.1h-9.3zM50.5 381.3h9.3v8.1h-9.3zM86.5 381.3h27.3v8.1h-27.3zM131.6 381.3h9.3v8.1h-9.3zM185.6 381.3h54.4v8.1h-54.4zM293.7 381.3h9.3v8.1h-9.3zM374.8 381.3h9.3v8.1h-9.3zM401.8 381.3h9.3v8.1h-9.3zM113.6 389.2h18.3v8.1h-18.3zM140.6 389.2h36.3v8.1h-36.3zM194.6 389.2h18.3v8.1h-18.3zM221.7 389.2h9.3v8.1h-9.3zM293.7 389.2h9.3v8.1h-9.3zM338.8 389.2h9.3v8.1h-9.3zM374.8 389.2h9.3v8.1h-9.3zM401.8 389.2h9.3v8.1h-9.3zM122.6 397h9.3v8.1h-9.3zM149.6 397h9.3v8.1h-9.3zM194.6 397h9.3v8.1h-9.3zM212.7 397h18.3v8.1h-18.3zM293.7 397h9.3v8.1h-9.3zM374.8 397h9.3v8.1h-9.3zM401.8 397h9.3v8.1h-9.3zM122.6 404.8h9.3v8.1h-9.3zM149.6 404.8h9.3v8.1h-9.3zM194.6 404.8h36.3v8.1h-36.3zM293.7 404.8h9.3v8.1h-9.3zM374.8 404.8h9.3v8.1h-9.3zM392.8 404.8h18.3v8.1h-18.3zM446.9 404.8h9.3v8.1h-9.3zM122.6 412.6h9.3v8.1h-9.3zM149.6 412.6h9.3v8.1h-9.3zM194.6 412.6h27.3v8.1h-27.3zM374.8 412.6h9.3v8.1h-9.3zM113.6 420.5h9.3v8.1h-9.3zM140.6 420.5h9.3v8.1h-9.3zM185.6 420.5h9.3v8.1h-9.3zM464.9 420.5h9.3v8.1h-9.3zM50.5 428.3h9.3v8.1h-9.3zM68.5 428.3h9.3v8.1h-9.3zM86.5 428.3h9.3v8.1h-9.3zM104.5 428.3h9.3v8.1h-9.3zM131.6 428.3h9.3v8.1h-9.3zM158.6 428.3h9.3v8.1h-9.3zM176.6 428.3h9.3v8.1h-9.3zM455.9 428.3h9.3v8.1h-9.3zM473.9 428.3h36.3v8.1h-36.3zM518.9 428.3h9.3v8.1h-9.3zM537 428.3h45.3v8.1h-45.3zM167.6 436.1h9.3v8.1h-9.3z"/>
<path fill="#ffcb00" d="M491.9 342.2h9.3v8.1h-9.3zM582 342.2h9.3v8.1h-9.3zM473.9 350h36.3v8.1h-36.3zM518.9 350h9.3v8.1h-9.3zM455.9 357.9h9.3v8.1h-9.3zM473.9 357.9h9.3v8.1h-9.3zM491.9 357.9h9.3v8.1h-9.3zM518.9 357.9h18.3v8.1h-18.3zM555 357.9h9.3v8.1h-9.3zM392.8 365.7h9.3v8.1h-9.3zM464.9 365.7h18.3v8.1h-18.3zM491.9 365.7h9.3v8.1h-9.3zM527.9 365.7h54.4v8.1h-54.4zM392.8 373.5h9.3v8.1h-9.3zM446.9 373.5h9.3v8.1h-9.3zM464.9 373.5h9.3v8.1h-9.3zM491.9 373.5h9.3v8.1h-9.3zM59.5 381.3h27.3v8.1h-27.3zM446.9 381.3h9.3v8.1h-9.3zM464.9 381.3h9.3v8.1h-9.3zM491.9 381.3h9.3v8.1h-9.3zM50.5 389.2h9.3v8.1h-9.3zM77.5 389.2h9.3v8.1h-9.3zM104.5 389.2h9.3v8.1h-9.3zM131.6 389.2h9.3v8.1h-9.3zM176.6 389.2h18.3v8.1h-18.3zM212.7 389.2h9.3v8.1h-9.3zM140.6 397h9.3v8.1h-9.3zM158.6 397h9.3v8.1h-9.3zM176.6 397h18.3v8.1h-18.3zM203.6 397h9.3v8.1h-9.3zM392.8 397h9.3v8.1h-9.3zM140.6 404.8h9.3v8.1h-9.3zM464.9 404.8h9.3v8.1h-9.3zM140.6 412.6h9.3v8.1h-9.3zM176.6 412.6h18.3v8.1h-18.3zM464.9 412.6h9.3v8.1h-9.3zM50.5 420.5h9.3v8.1h-9.3zM131.6 420.5h9.3v8.1h-9.3zM158.6 420.5h9.3v8.1h-9.3zM176.6 420.5h9.3v8.1h-9.3zM455.9 420.5h9.3v8.1h-9.3zM473.9 420.5h9.3v8.1h-9.3zM491.9 420.5h27.3v8.1h-27.3zM527.9 420.5h36.3v8.1h-36.3zM573 420.5h9.3v8.1h-9.3zM59.5 436.1h9.3v8.1h-9.3zM77.5 436.1h9.3v8.1h-9.3z"/>
<path fill="#ff8c00" d="M509.9 342.2h9.3v8.1h-9.3zM509.9 350h9.3v8.1h-9.3zM582 350h9.3v8.1h-9.3zM482.9 357.9h9.3v8.1h-9.3zM500.9 357.9h18.3v8.1h-18.3zM582 357.9h9.3v8.1h-9.3zM455.9 365.7h9.3v8.1h-9.3zM482.9 365.7h9.3v8.1h-9.3zM509.9 365.7h18.3v8.1h-18.3zM455.9 373.5h9.3v8.1h-9.3zM473.9 373.5h9.3v8.1h-9.3zM518.9 373.5h63.4v8.1h-63.4zM392.8 381.3h9.3v8.1h-9.3zM473.9 381.3h9.3v8.1h-9.3zM527.9 381.3h36.3v8.1h-36.3zM573 381.3h9.3v8.1h-9.3zM59.5 389.2h18.3v8.1h-18.3zM86.5 389.2h18.3v8.1h-18.3zM392.8 389.2h9.3v8.1h-9.3zM446.9 389.2h9.3v8.1h-9.3zM464.9 389.2h18.3v8.1h-18.3zM491.9 389.2h9.3v8.1h-9.3zM527.9 389.2h9.3v8.1h-9.3zM50.5 397h9.3v8.1h-9.3zM68.5 397h18.3v8.1h-18.3zM104.5 397h18.3v8.1h-18.3zM131.6 397h9.3v8.1h-9.3zM167.6 397h9.3v8.1h-9.3zM446.9 397h9.3v8.1h-9.3zM464.9 397h18.3v8.1h-18.3zM491.9 397h9.3v8.1h-9.3zM50.5 404.8h9.3v8.1h-9.3zM158.6 404.8h9.3v8.1h-9.3zM176.6 404.8h18.3v8.1h-18.3zM473.9 404.8h9.3v8.1h-9.3zM491.9 404.8h9.3v8.1h-9.3zM50.5 412.6h9.3v8.1h-9.3zM113.6 412.6h9.3v8.1h-9.3zM158.6 412.6h9.3v8.1h-9.3zM473.9 412.6h9.3v8.1h-9.3zM491.9 412.6h9.3v8.1h-9.3zM509.9 412.6h9.3v8.1h-9.3zM527.9 412.6h18.3v8.1h-18.3zM555 412.6h9.3v8.1h-9.3zM573 412.6h9.3v8.1h-9.3zM68.5 420.5h9.3v8.1h-9.3zM86.5 420.5h9.3v8.1h-9.3zM104.5 420.5h9.3v8.1h-9.3zM482.9 420.5h9.3v8.1h-9.3zM518.9 420.5h9.3v8.1h-9.3zM564 420.5h9.3v8.1h-9.3zM77.5 428.3h9.3v8.1h-9.3zM95.5 428.3h9.3v8.1h-9.3zM167.6 428.3h9.3v8.1h-9.3z"/>
<path fill="#ff5000" d="M500.9 365.7h9.3v8.1h-9.3zM582 365.7h9.3v8.1h-9.3zM482.9 373.5h9.3v8.1h-9.3zM500.9 373.5h18.3v8.1h-18.3zM582 373.5h9.3v8.1h-9.3zM455.9 381.3h9.3v8.1h-9.3zM482.9 381.3h9.3v8.1h-9.3zM500.9 381.3h27.3v8.1h-27.3zM564 381.3h9.3v8.1h-9.3zM582 381.3h9.3v8.1h-9.3zM455.9 389.2h9.3v8.1h-9.3zM509.9 389.2h18.3v8.1h-18.3zM537 389.2h45.3v8.1h-45.3zM59.5 397h9.3v8.1h-9.3zM86.5 397h9.3v8.1h-9.3zM455.9 397h9.3v8.1h-9.3zM509.9 397h9.3v8.1h-9.3zM527.9 397h27.3v8.1h-27.3zM564 397h18.3v8.1h-18.3zM68.5 404.8h9.3v8.1h-9.3zM104.5 404.8h9.3v8.1h-9.3zM131.6 404.8h9.3v8.1h-9.3zM167.6 404.8h9.3v8.1h-9.3zM509.9 404.8h9.3v8.1h-9.3zM527.9 404.8h18.3v8.1h-18.3zM555 404.8h9.3v8.1h-9.3zM573 404.8h9.3v8.1h-9.3zM68.5 412.6h9.3v8.1h-9.3zM104.5 412.6h9.3v8.1h-9.3zM131.6 412.6h9.3v8.1h-9.3zM167.6 412.6h9.3v8.1h-9.3zM455.9 412.6h9.3v8.1h-9.3zM500.9 412.6h9.3v8.1h-9.3zM518.9 412.6h9.3v8.1h-9.3zM546 412.6h9.3v8.1h-9.3zM77.5 420.5h9.3v8.1h-9.3z"/>
<path fill="#ff0000" d="M482.9 389.2h9.3v8.1h-9.3zM500.9 389.2h9.3v8.1h-9.3zM582 389.2h9.3v8.1h-9.3zM95.5 397h9.3v8.1h-9.3zM482.9 397h9.3v8.1h-9.3zM500.9 397h9.3v8.1h-9.3zM518.9 397h9.3v8.1h-9.3zM555 397h9.3v8.1h-9.3zM59.5 404.8h9.3v8.1h-9.3zM77.5 404.8h27.3v8.1h-27.3zM113.6 404.8h9.3v8.1h-9.3zM455.9 404.8h9.3v8.1h-9.3zM482.9 404.8h9.3v8.1h-9.3zM500.9 404.8h9.3v8.1h-9.3zM518.9 404.8h9.3v8.1h-9.3zM546 404.8h9.3v8.1h-9.3zM564 404.8h9.3v8.1h-9.3zM59.5 412.6h9.3v8.1h-9.3zM77.5 412.6h27.3v8.1h-27.3zM482.9 412.6h9.3v8.1h-9.3zM564 412.6h9.3v8.1h-9.3zM59.5 420.5h9.3v8.1h-9.3zM95.5 420.5h9.3v8.1h-9.3zM167.6 420.5h9.3v8.1h-9.3zM59.5 428.3h9.3v8.1h-9.3z"/>
<path fill="#ff0080" d="M582 397h9.3v8.1h-9.3zM582 404.8h9.3v8.1h-9.3zM582 412.6h9.3v8.1h-9.3zM582 420.5h9.3v8.1h-9.3zM582 428.3h9.3v8.1h-9.3zM582 436.1h9.3v8.1h-9.3z"/>
<path fill="#000000" d="M212.7 443.9h54.3v8.1h-54.3zM275.7 443.9h18.3v8.1h-18.3zM203.6 451.8h117.4v8.1h-117.4zM50.5 463.5h540.8v4.2h-540.8z"/>
<path fill="#ff8c00" d="M50.5 498h9.3v8.1h-9.3zM77.5 498h9.3v8.1h-9.3zM158.6 498h9.3v8.1h-9.3zM194.6 498h9.3v8.1h-9.3zM239.7 498h9.3v8.1h-9.3zM329.8 498h9.3v8.1h-9.3zM419.8 498h9.3v8.1h-9.3zM446.9 498h9.3v8.1h-9.3zM464.9 498h18.3v8.1h-18.3zM257.7 505.8h9.3v8.1h-9.3zM437.9 505.8h9.3v8.1h-9.3zM473.9 505.8h9.3v8.1h-9.3zM212.7 513.7h9.3v8.1h-9.3zM248.7 513.7h9.3v8.1h-9.3zM311.7 513.7h9.3v8.1h-9.3zM329.8 513.7h9.3v8.1h-9.3zM446.9 513.7h9.3v8.1h-9.3zM582 513.7h9.3v8.1h-9.3zM122.6 521.5h9.3v8.1h-9.3zM176.6 521.5h9.3v8.1h-9.3zM212.7 521.5h9.3v8.1h-9.3zM410.8 521.5h9.3v8.1h-9.3zM446.9 521.5h18.3v8.1h-18.3zM582 521.5h9.3v8.1h-9.3zM176.6 529.4h9.3v8.1h-9.3zM194.6 529.4h9.3v8.1h-9.3zM212.7 529.4h9.3v8.1h-9.3zM410.8 529.4h9.3v8.1h-9.3zM455.9 529.4h9.3v8.1h-9.3zM113.6 537.2h9.3v8.1h-9.3zM302.7 537.2h9.3v8.1h-9.3zM365.8 537.2h9.3v8.1h-9.3zM410.8 537.2h9.3v8.1h-9.3zM428.9 537.2h9.3v8.1h-9.3zM95.5 545.1h9.3v8.1h-9.3zM113.6 545.1h18.3v8.1h-18.3zM212.7 545.1h9.3v8.1h-9.3zM302.7 545.1h9.3v8.1h-9.3zM365.8 545.1h18.3v8.1h-18.3zM401.8 545.1h9.3v8.1h-9.3zM546 545.1h9.3v8.1h-9.3zM564 545.1h9.3v8.1h-9.3zM104.5 552.9h27.3v8.1h-27.3zM167.6 552.9h9.3v8.1h-9.3zM185.6 552.9h9.3v8.1h-9.3zM383.8 552.9h18.3v8.1h-18.3zM59.5 560.8h9.3v8.1h-9.3zM86.5 560.8h9.3v8.1h-9.3zM104.5 560.8h9.3v8.1h-9.3zM158.6 560.8h9.3v8.1h-9.3zM194.6 560.8h18.3v8.1h-18.3zM491.9 560.8h9.3v8.1h-9.3zM509.9 560.8h9.3v8.1h-9.3zM59.5 568.6h9.3v8.1h-9.3zM86.5 568.6h9.3v8.1h-9.3zM50.5 576.5h9.3v8.1h-9.3z"/>
<path fill="#ff00f9" d="M59.5 498h18.3v8.1h-18.3zM86.5 498h9.3v8.1h-9.3zM104.5 498h9.3v8.1h-9.3zM176.6 498h9.3v8.1h-9.3zM203.6 498h9.3v8.1h-9.3zM365.8 498h9.3v8.1h-9.3zM392.8 498h9.3v8.1h-9.3zM68.5 505.8h9.3v8.1h-9.3zM50.5 513.7h9.3v8.1h-9.3zM68.5 513.7h9.3v8.1h-9.3zM59.5 521.5h9.3v8.1h-9.3zM77.5 521.5h9.3v8.1h-9.3zM95.5 521.5h9.3v8.1h-9.3zM167.6 521.5h9.3v8.1h-9.3zM50.5 529.4h9.3v8.1h-9.3zM86.5 529.4h9.3v8.1h-9.3z"/>
<path fill="#ff7cff" d="M95.5 498h9.3v8.1h-9.3zM356.8 498h9.3v8.1h-9.3zM95.5 505.8h9.3v8.1h-9.3zM95.5 513.7h9.3v8.1h-9.3zM50.5 521.5h9.3v8.1h-9.3z"/>
<path fill="#ff00e0" d="M113.6 498h9.3v8.1h-9.3zM374.8 498h9.3v8.1h-9.3zM401.8 498h9.3v8.1h-9.3zM491.9 498h9.3v8.1h-9.3zM365.8 505.8h9.3v8.1h-9.3zM392.8 505.8h9.3v8.1h-9.3zM491.9 505.8h9.3v8.1h-9.3zM59.5 513.7h9.3v8.1h-9.3zM77.5 513.7h9.3v8.1h-9.3zM131.6 513.7h9.3v8.1h-9.3zM176.6 513.7h9.3v8.1h-9.3zM392.8 513.7h9.3v8.1h-9.3zM491.9 513.7h9.3v8.1h-9.3zM113.6 521.5h9.3v8.1h-9.3zM203.6 521.5h9.3v8.1h-9.3zM311.7 521.5h9.3v8.1h-9.3zM491.9 521.5h9.3v8.1h-9.3zM491.9 529.4h9.3v8.1h-9.3zM50.5 537.2h9.3v8.1h-9.3zM50.5 545.1h9.3v8.1h-9.3zM50.5 552.9h9.3v8.1h-9.3z"/>
<path fill="#ff5000" d="M122.6 498h9.3v8.1h-9.3zM546 498h9.3v8.1h-9.3zM564 498h9.3v8.1h-9.3zM122.6 505.8h9.3v8.1h-9.3zM221.7 505.8h9.3v8.1h-9.3zM302.7 505.8h9.3v8.1h-9.3zM329.8 505.8h9.3v8.1h-9.3zM455.9 505.8h9.3v8.1h-9.3zM104.5 513.7h9.3v8.1h-9.3zM185.6 513.7h9.3v8.1h-9.3zM203.6 513.7h9.3v8.1h-9.3zM221.7 513.7h9.3v8.1h-9.3zM428.9 513.7h9.3v8.1h-9.3zM455.9 513.7h9.3v8.1h-9.3zM68.5 529.4h9.3v8.1h-9.3zM113.6 529.4h9.3v8.1h-9.3zM167.6 529.4h9.3v8.1h-9.3zM365.8 529.4h9.3v8.1h-9.3zM428.9 529.4h9.3v8.1h-9.3zM564 529.4h9.3v8.1h-9.3zM59.5 537.2h9.3v8.1h-9.3zM212.7 537.2h9.3v8.1h-9.3zM374.8 537.2h9.3v8.1h-9.3zM401.8 537.2h9.3v8.1h-9.3zM546 537.2h9.3v8.1h-9.3zM564 537.2h9.3v8.1h-9.3zM194.6 545.1h9.3v8.1h-9.3zM383.8 545.1h18.3v8.1h-18.3zM68.5 552.9h18.3v8.1h-18.3zM95.5 552.9h9.3v8.1h-9.3zM194.6 552.9h9.3v8.1h-9.3zM491.9 552.9h9.3v8.1h-9.3zM509.9 552.9h9.3v8.1h-9.3zM77.5 560.8h9.3v8.1h-9.3zM95.5 568.6h9.3v8.1h-9.3z"/>
<path fill="#ffcb00" d="M131.6 498h18.3v8.1h-18.3zM212.7 498h9.3v8.1h-9.3zM230.7 498h9.3v8.1h-9.3zM284.7 498h9.3v8.1h-9.3zM482.9 498h9.3v8.1h-9.3zM500.9 498h9.3v8.1h-9.3zM518.9 498h9.3v8.1h-9.3zM555 498h9.3v8.1h-9.3zM573 498h9.3v8.1h-9.3zM149.6 505.8h9.3v8.1h-9.3zM212.7 505.8h9.3v8.1h-9.3zM248.7 505.8h9.3v8.1h-9.3zM338.8 505.8h9.3v8.1h-9.3zM419.8 505.8h9.3v8.1h-9.3zM464.9 505.8h9.3v8.1h-9.3zM482.9 505.8h9.3v8.1h-9.3zM500.9 505.8h9.3v8.1h-9.3zM527.9 505.8h9.3v8.1h-9.3zM555 505.8h9.3v8.1h-9.3zM573 505.8h9.3v8.1h-9.3zM338.8 513.7h9.3v8.1h-9.3zM356.8 513.7h9.3v8.1h-9.3zM419.8 513.7h9.3v8.1h-9.3zM437.9 513.7h9.3v8.1h-9.3zM464.9 513.7h27.3v8.1h-27.3zM555 513.7h9.3v8.1h-9.3zM140.6 521.5h9.3v8.1h-9.3zM194.6 521.5h9.3v8.1h-9.3zM221.7 521.5h9.3v8.1h-9.3zM248.7 521.5h9.3v8.1h-9.3zM293.7 521.5h9.3v8.1h-9.3zM320.8 521.5h18.3v8.1h-18.3zM464.9 521.5h18.3v8.1h-18.3zM555 521.5h9.3v8.1h-9.3zM185.6 529.4h9.3v8.1h-9.3zM230.7 529.4h9.3v8.1h-9.3zM284.7 529.4h9.3v8.1h-9.3zM302.7 529.4h9.3v8.1h-9.3zM329.8 529.4h18.3v8.1h-18.3zM356.8 529.4h9.3v8.1h-9.3zM419.8 529.4h9.3v8.1h-9.3zM446.9 529.4h9.3v8.1h-9.3zM464.9 529.4h18.3v8.1h-18.3zM582 529.4h9.3v8.1h-9.3zM131.6 537.2h9.3v8.1h-9.3zM167.6 537.2h9.3v8.1h-9.3zM230.7 537.2h9.3v8.1h-9.3zM248.7 537.2h9.3v8.1h-9.3zM311.7 537.2h9.3v8.1h-9.3zM338.8 537.2h9.3v8.1h-9.3zM446.9 537.2h27.3v8.1h-27.3zM582 537.2h9.3v8.1h-9.3zM410.8 545.1h9.3v8.1h-9.3zM428.9 545.1h9.3v8.1h-9.3zM455.9 545.1h9.3v8.1h-9.3zM582 545.1h9.3v8.1h-9.3zM131.6 552.9h9.3v8.1h-9.3zM212.7 552.9h9.3v8.1h-9.3zM302.7 552.9h9.3v8.1h-9.3zM365.8 552.9h18.3v8.1h-18.3zM401.8 552.9h9.3v8.1h-9.3zM546 552.9h9.3v8.1h-9.3zM564 552.9h9.3v8.1h-9.3zM113.6 560.8h18.3v8.1h-18.3zM167.6 560.8h9.3v8.1h-9.3zM185.6 560.8h9.3v8.1h-9.3zM302.7 560.8h9.3v8.1h-9.3zM383.8 560.8h9.3v8.1h-9.3zM68.5 568.6h18.3v8.1h-18.3zM104.5 568.6h9.3v8.1h-9.3zM158.6 568.6h18.3v8.1h-18.3zM77.5 576.5h9.3v8.1h-9.3zM50.5 584.3h9.3v8.1h-9.3z"/>
<path fill="#b8ff00" d="M149.6 498h9.3v8.1h-9.3zM266.7 498h18.3v8.1h-18.3zM347.8 498h9.3v8.1h-9.3zM275.7 505.8h9.3v8.1h-9.3zM347.8 505.8h9.3v8.1h-9.3zM239.7 513.7h9.3v8.1h-9.3zM275.7 513.7h9.3v8.1h-9.3zM347.8 513.7h9.3v8.1h-9.3zM266.7 521.5h18.3v8.1h-18.3zM347.8 521.5h9.3v8.1h-9.3zM257.7 529.4h27.3v8.1h-27.3zM347.8 529.4h9.3v8.1h-9.3zM257.7 537.2h27.3v8.1h-27.3zM293.7 537.2h9.3v8.1h-9.3zM347.8 537.2h9.3v8.1h-9.3zM140.6 545.1h9.3v8.1h-9.3zM239.7 545.1h9.3v8.1h-9.3zM257.7 545.1h27.3v8.1h-27.3zM293.7 545.1h9.3v8.1h-9.3zM347.8 545.1h9.3v8.1h-9.3zM239.7 552.9h63.4v8.1h-63.4zM329.8 552.9h9.3v8.1h-9.3zM347.8 552.9h18.3v8.1h-18.3zM140.6 560.8h9.3v8.1h-9.3zM221.7 560.8h18.3v8.1h-18.3zM248.7 560.8h18.3v8.1h-18.3zM284.7 560.8h18.3v8.1h-18.3zM320.8 560.8h27.3v8.1h-27.3zM356.8 560.8h9.3v8.1h-9.3zM410.8 560.8h18.3v8.1h-18.3zM437.9 560.8h18.3v8.1h-18.3zM527.9 560.8h9.3v8.1h-9.3zM140.6 568.6h9.3v8.1h-9.3zM212.7 568.6h18.3v8.1h-18.3zM293.7 568.6h9.3v8.1h-9.3zM311.7 568.6h18.3v8.1h-18.3zM338.8 568.6h9.3v8.1h-9.3zM365.8 568.6h126.4v8.1h-126.4zM500.9 568.6h9.3v8.1h-9.3zM518.9 568.6h27.3v8.1h-27.3zM555 568.6h9.3v8.1h-9.3zM573 568.6h9.3v8.1h-9.3zM122.6 576.5h9.3v8.1h-9.3zM167.6 576.5h9.3v8.1h-9.3zM185.6 576.5h27.3v8.1h-27.3zM455.9 576.5h18.3v8.1h-18.3zM482.9 576.5h36.3v8.1h-36.3zM537 576.5h54.3v8.1h-54.3zM59.5 584.3h54.4v8.1h-54.4zM582 584.3h9.3v8.1h-9.3zM50.5 592.2h9.3v8.1h-9.3zM410.8 607.9h9.3v8.1h-9.3zM383.8 615.7h9.3v8.1h-9.3zM401.8 615.7h9.3v8.1h-9.3z"/>
<path fill="#ff0080" d="M167.6 498h9.3v8.1h-9.3zM185.6 498h9.3v8.1h-9.3zM302.7 498h9.3v8.1h-9.3zM383.8 498h9.3v8.1h-9.3zM410.8 498h9.3v8.1h-9.3zM582 498h9.3v8.1h-9.3zM59.5 505.8h9.3v8.1h-9.3zM167.6 505.8h9.3v8.1h-9.3zM185.6 505.8h9.3v8.1h-9.3zM239.7 505.8h9.3v8.1h-9.3zM356.8 505.8h9.3v8.1h-9.3zM374.8 505.8h9.3v8.1h-9.3zM401.8 505.8h9.3v8.1h-9.3zM509.9 505.8h9.3v8.1h-9.3zM122.6 513.7h9.3v8.1h-9.3zM158.6 513.7h18.3v8.1h-18.3zM365.8 513.7h9.3v8.1h-9.3zM401.8 513.7h9.3v8.1h-9.3zM509.9 513.7h9.3v8.1h-9.3zM158.6 521.5h9.3v8.1h-9.3zM185.6 521.5h9.3v8.1h-9.3zM383.8 521.5h18.3v8.1h-18.3zM104.5 529.4h9.3v8.1h-9.3zM203.6 529.4h9.3v8.1h-9.3zM392.8 529.4h9.3v8.1h-9.3zM77.5 537.2h18.3v8.1h-18.3zM158.6 537.2h9.3v8.1h-9.3zM203.6 537.2h9.3v8.1h-9.3zM491.9 537.2h9.3v8.1h-9.3zM86.5 545.1h9.3v8.1h-9.3zM158.6 545.1h9.3v8.1h-9.3zM203.6 545.1h9.3v8.1h-9.3z"/>
<path fill="#fbff00" d="M221.7 498h9.3v8.1h-9.3zM293.7 498h9.3v8.1h-9.3zM311.7 498h18.3v8.1h-18.3zM338.8 498h9.3v8.1h-9.3zM437.9 498h9.3v8.1h-9.3zM527.9 498h18.3v8.1h-18.3zM140.6 505.8h9.3v8.1h-9.3zM194.6 505.8h9.3v8.1h-9.3zM284.7 505.8h18.3v8.1h-18.3zM311.7 505.8h18.3v8.1h-18.3zM518.9 505.8h9.3v8.1h-9.3zM537 505.8h9.3v8.1h-9.3zM230.7 513.7h9.3v8.1h-9.3zM257.7 513.7h18.3v8.1h-18.3zM293.7 513.7h9.3v8.1h-9.3zM320.8 513.7h9.3v8.1h-9.3zM500.9 513.7h9.3v8.1h-9.3zM518.9 513.7h27.3v8.1h-27.3zM573 513.7h9.3v8.1h-9.3zM230.7 521.5h18.3v8.1h-18.3zM257.7 521.5h9.3v8.1h-9.3zM284.7 521.5h9.3v8.1h-9.3zM338.8 521.5h9.3v8.1h-9.3zM356.8 521.5h9.3v8.1h-9.3zM419.8 521.5h9.3v8.1h-9.3zM437.9 521.5h9.3v8.1h-9.3zM482.9 521.5h9.3v8.1h-9.3zM500.9 521.5h9.3v8.1h-9.3zM518.9 521.5h27.3v8.1h-27.3zM573 521.5h9.3v8.1h-9.3zM140.6 529.4h9.3v8.1h-9.3zM221.7 529.4h9.3v8.1h-9.3zM239.7 529.4h18.3v8.1h-18.3zM293.7 529.4h9.3v8.1h-9.3zM311.7 529.4h18.3v8.1h-18.3zM437.9 529.4h9.3v8.1h-9.3zM482.9 529.4h9.3v8.1h-9.3zM500.9 529.4h9.3v8.1h-9.3zM518.9 529.4h27.3v8.1h-27.3zM555 529.4h9.3v8.1h-9.3zM573 529.4h9.3v8.1h-9.3zM140.6 537.2h9.3v8.1h-9.3zM176.6 537.2h9.3v8.1h-9.3zM194.6 537.2h9.3v8.1h-9.3zM221.7 537.2h9.3v8.1h-9.3zM239.7 537.2h9.3v8.1h-9.3zM284.7 537.2h9.3v8.1h-9.3zM320.8 537.2h18.3v8.1h-18.3zM356.8 537.2h9.3v8.1h-9.3zM419.8 537.2h9.3v8.1h-9.3zM437.9 537.2h9.3v8.1h-9.3zM473.9 537.2h18.3v8.1h-18.3zM500.9 537.2h9.3v8.1h-9.3zM518.9 537.2h27.3v8.1h-27.3zM555 537.2h9.3v8.1h-9.3zM573 537.2h9.3v8.1h-9.3zM131.6 545.1h9.3v8.1h-9.3zM176.6 545.1h9.3v8.1h-9.3zM221.7 545.1h18.3v8.1h-18.3zM248.7 545.1h9.3v8.1h-9.3zM284.7 545.1h9.3v8.1h-9.3zM311.7 545.1h36.3v8.1h-36.3zM356.8 545.1h9.3v8.1h-9.3zM419.8 545.1h9.3v8.1h-9.3zM437.9 545.1h18.3v8.1h-18.3zM464.9 545.1h27.3v8.1h-27.3zM500.9 545.1h9.3v8.1h-9.3zM518.9 545.1h27.3v8.1h-27.3zM555 545.1h9.3v8.1h-9.3zM573 545.1h9.3v8.1h-9.3zM140.6 552.9h9.3v8.1h-9.3zM176.6 552.9h9.3v8.1h-9.3zM221.7 552.9h18.3v8.1h-18.3zM311.7 552.9h18.3v8.1h-18.3zM338.8 552.9h9.3v8.1h-9.3zM410.8 552.9h81.4v8.1h-81.4zM500.9 552.9h9.3v8.1h-9.3zM518.9 552.9h27.3v8.1h-27.3zM555 552.9h9.3v8.1h-9.3zM573 552.9h18.3v8.1h-18.3zM131.6 560.8h9.3v8.1h-9.3zM176.6 560.8h9.3v8.1h-9.3zM212.7 560.8h9.3v8.1h-9.3zM311.7 560.8h9.3v8.1h-9.3zM365.8 560.8h18.3v8.1h-18.3zM392.8 560.8h18.3v8.1h-18.3zM428.9 560.8h9.3v8.1h-9.3zM455.9 560.8h36.3v8.1h-36.3zM500.9 560.8h9.3v8.1h-9.3zM518.9 560.8h9.3v8.1h-9.3zM537 560.8h54.3v8.1h-54.3zM113.6 568.6h27.3v8.1h-27.3zM176.6 568.6h36.3v8.1h-36.3zM302.7 568.6h9.3v8.1h-9.3zM491.9 568.6h9.3v8.1h-9.3zM509.9 568.6h9.3v8.1h-9.3zM546 568.6h9.3v8.1h-9.3zM564 568.6h9.3v8.1h-9.3zM582 568.6h9.3v8.1h-9.3zM59.5 576.5h18.3v8.1h-18.3zM86.5 576.5h36.3v8.1h-36.3zM131.6 576.5h9.3v8.1h-9.3zM158.6 576.5h9.3v8.1h-9.3zM176.6 576.5h9.3v8.1h-9.3zM392.8 615.7h9.3v8.1h-9.3z"/>
<path fill="#ff0000" d="M248.7 498h9.3v8.1h-9.3zM428.9 498h9.3v8.1h-9.3zM455.9 498h9.3v8.1h-9.3zM509.9 498h9.3v8.1h-9.3zM50.5 505.8h9.3v8.1h-9.3zM77.5 505.8h18.3v8.1h-18.3zM104.5 505.8h18.3v8.1h-18.3zM131.6 505.8h9.3v8.1h-9.3zM158.6 505.8h9.3v8.1h-9.3zM176.6 505.8h9.3v8.1h-9.3zM203.6 505.8h9.3v8.1h-9.3zM230.7 505.8h9.3v8.1h-9.3zM383.8 505.8h9.3v8.1h-9.3zM410.8 505.8h9.3v8.1h-9.3zM428.9 505.8h9.3v8.1h-9.3zM446.9 505.8h9.3v8.1h-9.3zM546 505.8h9.3v8.1h-9.3zM564 505.8h9.3v8.1h-9.3zM582 505.8h9.3v8.1h-9.3zM86.5 513.7h9.3v8.1h-9.3zM113.6 513.7h9.3v8.1h-9.3zM140.6 513.7h9.3v8.1h-9.3zM194.6 513.7h9.3v8.1h-9.3zM302.7 513.7h9.3v8.1h-9.3zM374.8 513.7h18.3v8.1h-18.3zM410.8 513.7h9.3v8.1h-9.3zM546 513.7h9.3v8.1h-9.3zM564 513.7h9.3v8.1h-9.3zM68.5 521.5h9.3v8.1h-9.3zM86.5 521.5h9.3v8.1h-9.3zM104.5 521.5h9.3v8.1h-9.3zM131.6 521.5h9.3v8.1h-9.3zM302.7 521.5h9.3v8.1h-9.3zM365.8 521.5h18.3v8.1h-18.3zM401.8 521.5h9.3v8.1h-9.3zM428.9 521.5h9.3v8.1h-9.3zM509.9 521.5h9.3v8.1h-9.3zM546 521.5h9.3v8.1h-9.3zM564 521.5h9.3v8.1h-9.3zM59.5 529.4h9.3v8.1h-9.3zM77.5 529.4h9.3v8.1h-9.3zM95.5 529.4h9.3v8.1h-9.3zM122.6 529.4h18.3v8.1h-18.3zM158.6 529.4h9.3v8.1h-9.3zM374.8 529.4h18.3v8.1h-18.3zM401.8 529.4h9.3v8.1h-9.3zM509.9 529.4h9.3v8.1h-9.3zM546 529.4h9.3v8.1h-9.3zM68.5 537.2h9.3v8.1h-9.3zM95.5 537.2h18.3v8.1h-18.3zM122.6 537.2h9.3v8.1h-9.3zM185.6 537.2h9.3v8.1h-9.3zM383.8 537.2h18.3v8.1h-18.3zM509.9 537.2h9.3v8.1h-9.3zM59.5 545.1h27.3v8.1h-27.3zM104.5 545.1h9.3v8.1h-9.3zM167.6 545.1h9.3v8.1h-9.3zM185.6 545.1h9.3v8.1h-9.3zM491.9 545.1h9.3v8.1h-9.3zM509.9 545.1h9.3v8.1h-9.3zM59.5 552.9h9.3v8.1h-9.3zM86.5 552.9h9.3v8.1h-9.3zM158.6 552.9h9.3v8.1h-9.3zM203.6 552.9h9.3v8.1h-9.3zM50.5 560.8h9.3v8.1h-9.3zM68.5 560.8h9.3v8.1h-9.3zM95.5 560.8h9.3v8.1h-9.3zM50.5 568.6h9.3v8.1h-9.3z"/>
<path fill="#20f810" d="M257.7 498h9.3v8.1h-9.3zM266.7 505.8h9.3v8.1h-9.3zM284.7 513.7h9.3v8.1h-9.3zM149.6 521.5h9.3v8.1h-9.3zM149.6 529.4h9.3v8.1h-9.3zM149.6 537.2h9.3v8.1h-9.3zM149.6 545.1h9.3v8.1h-9.3zM149.6 552.9h9.3v8.1h-9.3zM149.6 560.8h9.3v8.1h-9.3zM239.7 560.8h9.3v8.1h-9.3zM266.7 560.8h18.3v8.1h-18.3zM347.8 560.8h9.3v8.1h-9.3zM149.6 568.6h9.3v8.1h-9.3zM230.7 568.6h63.4v8.1h-63.4zM329.8 568.6h9.3v8.1h-9.3zM347.8 568.6h18.3v8.1h-18.3zM140.6 576.5h18.3v8.1h-18.3zM212.7 576.5h27.3v8.1h-27.3zM293.7 576.5h18.3v8.1h-18.3zM320.8 576.5h27.3v8.1h-27.3zM356.8 576.5h99.4v8.1h-99.4zM473.9 576.5h9.3v8.1h-9.3zM518.9 576.5h18.3v8.1h-18.3zM113.6 584.3h36.3v8.1h-36.3zM158.6 584.3h36.3v8.1h-36.3zM419.8 584.3h9.3v8.1h-9.3zM437.9 584.3h18.3v8.1h-18.3zM473.9 584.3h9.3v8.1h-9.3zM518.9 584.3h9.3v8.1h-9.3zM564 584.3h9.3v8.1h-9.3zM59.5 592.2h18.3v8.1h-18.3zM374.8 607.9h18.3v8.1h-18.3zM401.8 607.9h9.3v8.1h-9.3zM185.6 615.7h9.3v8.1h-9.3zM302.7 615.7h9.3v8.1h-9.3zM374.8 615.7h9.3v8.1h-9.3zM410.8 615.7h9.3v8.1h-9.3z"/>
<path fill="#00b078" d="M149.6 513.7h9.3v8.1h-9.3zM239.7 576.5h54.4v8.1h-54.4zM311.7 576.5h9.3v8.1h-9.3zM347.8 576.5h9.3v8.1h-9.3zM149.6 584.3h9.3v8.1h-9.3zM194.6 584.3h36.3v8.1h-36.3zM320.8 584.3h27.3v8.1h-27.3zM356.8 584.3h63.4v8.1h-63.4zM428.9 584.3h9.3v8.1h-9.3zM77.5 592.2h18.3v8.1h-18.3zM158.6 592.2h9.3v8.1h-9.3zM446.9 592.2h9.3v8.1h-9.3zM491.9 592.2h9.3v8.1h-9.3zM537 592.2h9.3v8.1h-9.3zM582 592.2h9.3v8.1h-9.3zM185.6 607.9h9.3v8.1h-9.3zM302.7 607.9h9.3v8.1h-9.3zM365.8 607.9h9.3v8.1h-9.3zM392.8 607.9h9.3v8.1h-9.3zM419.8 607.9h9.3v8.1h-9.3zM293.7 615.7h9.3v8.1h-9.3zM365.8 615.7h9.3v8.1h-9.3zM419.8 615.7h9.3v8.1h-9.3z"/>
<path fill="#0073bd" d="M230.7 584.3h90.4v8.1h-90.4zM347.8 584.3h9.3v8.1h-9.3zM95.5 592.2h63.4v8.1h-63.4zM167.6 592.2h36.3v8.1h-36.3zM320.8 592.2h27.3v8.1h-27.3zM356.8 592.2h90.4v8.1h-90.4zM455.9 592.2h36.3v8.1h-36.3zM500.9 592.2h36.3v8.1h-36.3zM546 592.2h36.3v8.1h-36.3zM50.5 600h9.3v8.1h-9.3zM383.8 600h9.3v8.1h-9.3zM410.8 600h9.3v8.1h-9.3zM582 600h9.3v8.1h-9.3zM194.6 607.9h9.3v8.1h-9.3zM293.7 607.9h9.3v8.1h-9.3zM356.8 607.9h9.3v8.1h-9.3zM428.9 607.9h9.3v8.1h-9.3zM194.6 615.7h9.3v8.1h-9.3zM428.9 615.7h9.3v8.1h-9.3z"/>
<path fill="#00d840" d="M455.9 584.3h18.3v8.1h-18.3zM482.9 584.3h36.3v8.1h-36.3zM527.9 584.3h36.3v8.1h-36.3zM573 584.3h9.3v8.1h-9.3z"/>
<path fill="#0000f9" d="M203.6 592.2h117.4v8.1h-117.4zM347.8 592.2h9.3v8.1h-9.3zM59.5 600h324.6v8.1h-324.6zM392.8 600h18.3v8.1h-18.3zM419.8 600h162.5v8.1h-162.5zM311.7 607.9h9.3v8.1h-9.3zM203.6 615.7h9.3v8.1h-9.3zM311.7 615.7h18.3v8.1h-18.3zM356.8 615.7h9.3v8.1h-9.3zM437.9 615.7h18.3v8.1h-18.3z"/>
<path fill="#0000c6" d="M50.5 607.9h135.4v8.1h-135.4zM203.6 607.9h90.4v8.1h-90.4zM320.8 607.9h36.3v8.1h-36.3zM437.9 607.9h153.4v8.1h-153.4z"/>
<path fill="#00007c" d="M50.5 615.7h135.4v8.1h-135.4zM212.7 615.7h81.4v8.1h-81.4zM329.8 615.7h27.3v8.1h-27.3zM455.9 615.7h135.4v8.1h-135.4zM50.5 623.6h540.8v4.2h-540.8z"/>
<path fill="#000000" d="M50.5 627.5h540.8v4.2h-540.8z"/>
<path fill="#fbff00" d="M50.5 662.5h18.3v8.2h-18.3zM194.6 662.5h9.3v8.2h-9.3zM212.7 662.5h18.3v8.2h-18.3zM248.7 662.5h9.3v8.2h-9.3zM293.7 662.5h9.3v8.2h-9.3zM329.8 662.5h9.3v8.2h-9.3zM464.9 662.5h9.3v8.2h-9.3zM518.9 662.5h9.3v8.2h-9.3zM573 662.5h9.3v8.2h-9.3zM50.5 670.4h9.3v8.2h-9.3zM185.6 670.4h9.3v8.2h-9.3zM221.7 670.4h9.3v8.2h-9.3zM239.7 670.4h9.3v8.2h-9.3zM293.7 670.4h9.3v8.2h-9.3zM320.8 670.4h18.3v8.2h-18.3zM509.9 670.4h9.3v8.2h-9.3zM221.7 678.2h9.3v8.2h-9.3zM239.7 678.2h9.3v8.2h-9.3zM293.7 678.2h9.3v8.2h-9.3zM320.8 678.2h9.3v8.2h-9.3zM338.8 678.2h9.3v8.2h-9.3zM455.9 678.2h9.3v8.2h-9.3zM509.9 678.2h9.3v8.2h-9.3zM68.5 686.1h9.3v8.2h-9.3zM221.7 686.1h9.3v8.2h-9.3zM293.7 686.1h9.3v8.2h-9.3zM320.8 686.1h9.3v8.2h-9.3zM455.9 686.1h9.3v8.2h-9.3zM221.7 693.9h9.3v8.2h-9.3zM293.7 693.9h9.3v8.2h-9.3zM338.8 693.9h9.3v8.2h-9.3zM455.9 693.9h9.3v8.2h-9.3zM203.6 701.8h9.3v8.2h-9.3zM221.7 701.8h9.3v8.2h-9.3zM293.7 701.8h9.3v8.2h-9.3zM203.6 709.6h9.3v8.2h-9.3zM239.7 709.6h9.3v8.2h-9.3zM293.7 709.6h9.3v8.2h-9.3zM68.5 717.5h9.3v8.2h-9.3zM203.6 717.5h9.3v8.2h-9.3zM239.7 717.5h9.3v8.2h-9.3zM293.7 717.5h9.3v8.2h-9.3zM68.5 725.3h9.3v8.2h-9.3zM203.6 725.3h18.3v8.2h-18.3zM293.7 725.3h9.3v8.2h-9.3zM194.6 733.2h9.3v8.2h-9.3zM347.8 733.2h27.3v8.2h-27.3zM428.9 733.2h27.3v8.2h-27.3zM194.6 741h9.3v8.2h-9.3zM302.7 741h9.3v8.2h-9.3zM347.8 741h27.3v8.2h-27.3zM428.9 741h9.3v8.2h-9.3zM185.6 748.9h18.3v8.2h-18.3zM302.7 748.9h9.3v8.2h-9.3zM347.8 748.9h9.3v8.2h-9.3zM365.8 748.9h9.3v8.2h-9.3zM383.8 748.9h9.3v8.2h-9.3zM428.9 748.9h9.3v8.2h-9.3zM302.7 756.7h9.3v8.2h-9.3zM347.8 756.7h9.3v8.2h-9.3zM428.9 756.7h9.3v8.2h-9.3zM428.9 772.4h27.3v8.2h-27.3z"/>
<path fill="#b8ff00" d="M68.5 662.5h9.3v8.2h-9.3zM185.6 662.5h9.3v8.2h-9.3zM230.7 662.5h18.3v8.2h-18.3zM266.7 662.5h27.3v8.2h-27.3zM473.9 662.5h36.3v8.2h-36.3zM527.9 662.5h45.3v8.2h-45.3zM582 662.5h9.3v8.2h-9.3zM59.5 670.4h18.3v8.2h-18.3zM230.7 670.4h9.3v8.2h-9.3zM257.7 670.4h18.3v8.2h-18.3zM284.7 670.4h9.3v8.2h-9.3zM464.9 670.4h9.3v8.2h-9.3zM482.9 670.4h18.3v8.2h-18.3zM518.9 670.4h9.3v8.2h-9.3zM546 670.4h9.3v8.2h-9.3zM564 670.4h27.3v8.2h-27.3zM50.5 678.2h27.3v8.2h-27.3zM230.7 678.2h9.3v8.2h-9.3zM248.7 678.2h18.3v8.2h-18.3zM284.7 678.2h9.3v8.2h-9.3zM329.8 678.2h9.3v8.2h-9.3zM464.9 678.2h9.3v8.2h-9.3zM491.9 678.2h9.3v8.2h-9.3zM50.5 686.1h9.3v8.2h-9.3zM230.7 686.1h27.3v8.2h-27.3zM284.7 686.1h9.3v8.2h-9.3zM329.8 686.1h18.3v8.2h-18.3zM464.9 686.1h9.3v8.2h-9.3zM509.9 686.1h9.3v8.2h-9.3zM68.5 693.9h9.3v8.2h-9.3zM230.7 693.9h27.3v8.2h-27.3zM320.8 693.9h9.3v8.2h-9.3zM464.9 693.9h9.3v8.2h-9.3zM509.9 693.9h9.3v8.2h-9.3zM68.5 701.8h9.3v8.2h-9.3zM167.6 701.8h9.3v8.2h-9.3zM230.7 701.8h27.3v8.2h-27.3zM320.8 701.8h9.3v8.2h-9.3zM338.8 701.8h9.3v8.2h-9.3zM455.9 701.8h18.3v8.2h-18.3zM509.9 701.8h9.3v8.2h-9.3zM59.5 709.6h18.3v8.2h-18.3zM167.6 709.6h9.3v8.2h-9.3zM221.7 709.6h9.3v8.2h-9.3zM338.8 709.6h9.3v8.2h-9.3zM455.9 709.6h18.3v8.2h-18.3zM509.9 709.6h9.3v8.2h-9.3zM59.5 717.5h9.3v8.2h-9.3zM221.7 717.5h18.3v8.2h-18.3zM455.9 717.5h18.3v8.2h-18.3zM509.9 717.5h9.3v8.2h-9.3zM59.5 725.3h9.3v8.2h-9.3zM221.7 725.3h9.3v8.2h-9.3zM239.7 725.3h9.3v8.2h-9.3zM464.9 725.3h9.3v8.2h-9.3zM509.9 725.3h9.3v8.2h-9.3zM59.5 733.2h18.3v8.2h-18.3zM203.6 733.2h27.3v8.2h-27.3zM293.7 733.2h9.3v8.2h-9.3zM311.7 733.2h9.3v8.2h-9.3zM464.9 733.2h9.3v8.2h-9.3zM509.9 733.2h9.3v8.2h-9.3zM68.5 741h9.3v8.2h-9.3zM203.6 741h27.3v8.2h-27.3zM293.7 741h9.3v8.2h-9.3zM437.9 741h18.3v8.2h-18.3zM464.9 741h9.3v8.2h-9.3zM68.5 748.9h9.3v8.2h-9.3zM293.7 748.9h9.3v8.2h-9.3zM356.8 748.9h9.3v8.2h-9.3zM437.9 748.9h18.3v8.2h-18.3zM68.5 756.7h9.3v8.2h-9.3zM194.6 756.7h9.3v8.2h-9.3zM293.7 756.7h9.3v8.2h-9.3zM356.8 756.7h9.3v8.2h-9.3zM194.6 764.6h9.3v8.2h-9.3zM302.7 764.6h9.3v8.2h-9.3zM185.6 772.4h9.3v8.2h-9.3zM347.8 772.4h18.3v8.2h-18.3zM392.8 772.4h9.3v8.2h-9.3z"/>
<path fill="#20f810" d="M77.5 662.5h72.4v8.2h-72.4zM158.6 662.5h27.3v8.2h-27.3zM77.5 670.4h108.4v8.2h-108.4zM275.7 670.4h9.3v8.2h-9.3zM473.9 670.4h9.3v8.2h-9.3zM500.9 670.4h9.3v8.2h-9.3zM527.9 670.4h18.3v8.2h-18.3zM555 670.4h9.3v8.2h-9.3zM77.5 678.2h27.3v8.2h-27.3zM113.6 678.2h9.3v8.2h-9.3zM131.6 678.2h54.4v8.2h-54.4zM266.7 678.2h18.3v8.2h-18.3zM473.9 678.2h18.3v8.2h-18.3zM500.9 678.2h9.3v8.2h-9.3zM518.9 678.2h36.3v8.2h-36.3zM564 678.2h27.3v8.2h-27.3zM59.5 686.1h9.3v8.2h-9.3zM77.5 686.1h108.4v8.2h-108.4zM257.7 686.1h27.3v8.2h-27.3zM473.9 686.1h36.3v8.2h-36.3zM518.9 686.1h72.4v8.2h-72.4zM50.5 693.9h18.3v8.2h-18.3zM122.6 693.9h9.3v8.2h-9.3zM149.6 693.9h9.3v8.2h-9.3zM176.6 693.9h9.3v8.2h-9.3zM257.7 693.9h36.3v8.2h-36.3zM329.8 693.9h9.3v8.2h-9.3zM473.9 693.9h36.3v8.2h-36.3zM518.9 693.9h36.3v8.2h-36.3zM564 693.9h27.3v8.2h-27.3zM50.5 701.8h18.3v8.2h-18.3zM140.6 701.8h9.3v8.2h-9.3zM257.7 701.8h9.3v8.2h-9.3zM275.7 701.8h18.3v8.2h-18.3zM329.8 701.8h9.3v8.2h-9.3zM473.9 701.8h36.3v8.2h-36.3zM518.9 701.8h72.4v8.2h-72.4zM50.5 709.6h9.3v8.2h-9.3zM77.5 709.6h9.3v8.2h-9.3zM158.6 709.6h9.3v8.2h-9.3zM230.7 709.6h9.3v8.2h-9.3zM248.7 709.6h45.3v8.2h-45.3zM320.8 709.6h18.3v8.2h-18.3zM473.9 709.6h36.3v8.2h-36.3zM518.9 709.6h36.3v8.2h-36.3zM564 709.6h27.3v8.2h-27.3zM50.5 717.5h9.3v8.2h-9.3zM122.6 717.5h9.3v8.2h-9.3zM176.6 717.5h9.3v8.2h-9.3zM248.7 717.5h45.3v8.2h-45.3zM320.8 717.5h27.3v8.2h-27.3zM473.9 717.5h36.3v8.2h-36.3zM518.9 717.5h72.4v8.2h-72.4zM50.5 725.3h9.3v8.2h-9.3zM167.6 725.3h9.3v8.2h-9.3zM230.7 725.3h9.3v8.2h-9.3zM248.7 725.3h18.3v8.2h-18.3zM284.7 725.3h9.3v8.2h-9.3zM320.8 725.3h27.3v8.2h-27.3zM455.9 725.3h9.3v8.2h-9.3zM473.9 725.3h36.3v8.2h-36.3zM518.9 725.3h9.3v8.2h-9.3zM537 725.3h9.3v8.2h-9.3zM573 725.3h9.3v8.2h-9.3zM50.5 733.2h9.3v8.2h-9.3zM77.5 733.2h9.3v8.2h-9.3zM230.7 733.2h18.3v8.2h-18.3zM284.7 733.2h9.3v8.2h-9.3zM329.8 733.2h18.3v8.2h-18.3zM455.9 733.2h9.3v8.2h-9.3zM473.9 733.2h36.3v8.2h-36.3zM518.9 733.2h9.3v8.2h-9.3zM537 733.2h9.3v8.2h-9.3zM50.5 741h18.3v8.2h-18.3zM311.7 741h9.3v8.2h-9.3zM329.8 741h9.3v8.2h-9.3zM455.9 741h9.3v8.2h-9.3zM473.9 741h27.3v8.2h-27.3zM509.9 741h18.3v8.2h-18.3zM50.5 748.9h18.3v8.2h-18.3zM203.6 748.9h27.3v8.2h-27.3zM311.7 748.9h9.3v8.2h-9.3zM464.9 748.9h9.3v8.2h-9.3zM59.5 756.7h9.3v8.2h-9.3zM203.6 756.7h9.3v8.2h-9.3zM311.7 756.7h9.3v8.2h-9.3zM68.5 764.6h9.3v8.2h-9.3zM203.6 764.6h9.3v8.2h-9.3zM293.7 764.6h9.3v8.2h-9.3zM311.7 764.6h9.3v8.2h-9.3zM329.8 764.6h18.3v8.2h-18.3zM194.6 772.4h9.3v8.2h-9.3zM365.8 772.4h9.3v8.2h-9.3zM383.8 772.4h9.3v8.2h-9.3z"/>
<path fill="#00b078" d="M149.6 662.5h9.3v8.2h-9.3zM104.5 678.2h9.3v8.2h-9.3zM122.6 678.2h9.3v8.2h-9.3zM95.5 693.9h27.3v8.2h-27.3zM131.6 693.9h9.3v8.2h-9.3zM86.5 701.8h36.3v8.2h-36.3zM131.6 701.8h9.3v8.2h-9.3zM266.7 701.8h9.3v8.2h-9.3zM86.5 709.6h54.3v8.2h-54.3zM95.5 717.5h27.3v8.2h-27.3zM131.6 717.5h9.3v8.2h-9.3zM149.6 717.5h9.3v8.2h-9.3zM86.5 725.3h36.3v8.2h-36.3zM131.6 725.3h27.3v8.2h-27.3zM266.7 725.3h18.3v8.2h-18.3zM86.5 733.2h81.4v8.2h-81.4zM248.7 733.2h36.3v8.2h-36.3zM320.8 733.2h9.3v8.2h-9.3zM86.5 741h99.4v8.2h-99.4zM230.7 741h18.3v8.2h-18.3zM275.7 741h18.3v8.2h-18.3zM338.8 741h9.3v8.2h-9.3zM86.5 748.9h72.4v8.2h-72.4zM167.6 748.9h18.3v8.2h-18.3zM284.7 748.9h9.3v8.2h-9.3zM329.8 748.9h18.3v8.2h-18.3zM50.5 756.7h9.3v8.2h-9.3zM77.5 756.7h9.3v8.2h-9.3zM212.7 756.7h18.3v8.2h-18.3zM284.7 756.7h9.3v8.2h-9.3zM329.8 756.7h18.3v8.2h-18.3zM473.9 756.7h9.3v8.2h-9.3zM491.9 756.7h9.3v8.2h-9.3zM518.9 756.7h9.3v8.2h-9.3zM546 756.7h9.3v8.2h-9.3zM564 756.7h9.3v8.2h-9.3zM59.5 764.6h9.3v8.2h-9.3zM212.7 764.6h18.3v8.2h-18.3zM320.8 764.6h9.3v8.2h-9.3zM455.9 764.6h18.3v8.2h-18.3zM491.9 764.6h9.3v8.2h-9.3zM518.9 764.6h9.3v8.2h-9.3zM68.5 772.4h9.3v8.2h-9.3zM203.6 772.4h9.3v8.2h-9.3zM302.7 772.4h9.3v8.2h-9.3zM329.8 772.4h18.3v8.2h-18.3zM374.8 772.4h9.3v8.2h-9.3zM464.9 772.4h9.3v8.2h-9.3zM185.6 780.3h9.3v8.2h-9.3zM401.8 780.3h9.3v8.2h-9.3z"/>
<path fill="#ffcb00" d="M203.6 662.5h9.3v8.2h-9.3zM257.7 662.5h9.3v8.2h-9.3zM302.7 662.5h9.3v8.2h-9.3zM320.8 662.5h9.3v8.2h-9.3zM338.8 662.5h9.3v8.2h-9.3zM455.9 662.5h9.3v8.2h-9.3zM509.9 662.5h9.3v8.2h-9.3zM194.6 670.4h18.3v8.2h-18.3zM248.7 670.4h9.3v8.2h-9.3zM338.8 670.4h9.3v8.2h-9.3zM455.9 670.4h9.3v8.2h-9.3zM185.6 678.2h18.3v8.2h-18.3zM212.7 678.2h9.3v8.2h-9.3zM185.6 686.1h18.3v8.2h-18.3zM185.6 693.9h9.3v8.2h-9.3zM194.6 701.8h9.3v8.2h-9.3zM212.7 701.8h9.3v8.2h-9.3zM212.7 709.6h9.3v8.2h-9.3zM437.9 709.6h9.3v8.2h-9.3zM194.6 717.5h9.3v8.2h-9.3zM212.7 717.5h9.3v8.2h-9.3zM311.7 717.5h9.3v8.2h-9.3zM356.8 717.5h9.3v8.2h-9.3zM437.9 717.5h9.3v8.2h-9.3zM194.6 725.3h9.3v8.2h-9.3zM311.7 725.3h9.3v8.2h-9.3zM347.8 725.3h27.3v8.2h-27.3zM428.9 725.3h27.3v8.2h-27.3zM302.7 733.2h9.3v8.2h-9.3zM383.8 733.2h9.3v8.2h-9.3zM419.8 733.2h9.3v8.2h-9.3zM185.6 741h9.3v8.2h-9.3zM374.8 741h27.3v8.2h-27.3zM419.8 741h9.3v8.2h-9.3zM374.8 748.9h9.3v8.2h-9.3zM392.8 748.9h9.3v8.2h-9.3zM419.8 748.9h9.3v8.2h-9.3zM365.8 756.7h36.3v8.2h-36.3zM419.8 756.7h9.3v8.2h-9.3zM437.9 756.7h18.3v8.2h-18.3zM185.6 764.6h9.3v8.2h-9.3zM347.8 764.6h18.3v8.2h-18.3zM428.9 764.6h9.3v8.2h-9.3zM401.8 772.4h9.3v8.2h-9.3zM419.8 772.4h9.3v8.2h-9.3z"/>
<path fill="#ff5000" d="M311.7 662.5h9.3v8.2h-9.3zM347.8 662.5h9.3v8.2h-9.3zM347.8 670.4h9.3v8.2h-9.3zM356.8 678.2h9.3v8.2h-9.3zM203.6 686.1h9.3v8.2h-9.3zM302.7 686.1h9.3v8.2h-9.3zM365.8 686.1h9.3v8.2h-9.3zM437.9 686.1h9.3v8.2h-9.3zM212.7 693.9h9.3v8.2h-9.3zM311.7 693.9h9.3v8.2h-9.3zM347.8 693.9h27.3v8.2h-27.3zM428.9 693.9h18.3v8.2h-18.3zM347.8 701.8h27.3v8.2h-27.3zM428.9 701.8h9.3v8.2h-9.3zM446.9 701.8h9.3v8.2h-9.3zM302.7 709.6h9.3v8.2h-9.3zM347.8 709.6h9.3v8.2h-9.3zM374.8 709.6h9.3v8.2h-9.3zM428.9 709.6h9.3v8.2h-9.3zM446.9 709.6h9.3v8.2h-9.3zM185.6 717.5h9.3v8.2h-9.3zM302.7 717.5h9.3v8.2h-9.3zM374.8 717.5h9.3v8.2h-9.3zM419.8 717.5h9.3v8.2h-9.3zM392.8 725.3h9.3v8.2h-9.3zM185.6 733.2h9.3v8.2h-9.3zM410.8 733.2h9.3v8.2h-9.3zM410.8 756.7h9.3v8.2h-9.3zM437.9 764.6h9.3v8.2h-9.3z"/>
<path fill="#ff0000" d="M356.8 662.5h27.3v8.2h-27.3zM311.7 670.4h9.3v8.2h-9.3zM356.8 670.4h27.3v8.2h-27.3zM446.9 670.4h9.3v8.2h-9.3zM311.7 678.2h9.3v8.2h-9.3zM365.8 678.2h18.3v8.2h-18.3zM437.9 678.2h18.3v8.2h-18.3zM311.7 686.1h9.3v8.2h-9.3zM356.8 686.1h9.3v8.2h-9.3zM374.8 686.1h9.3v8.2h-9.3zM428.9 686.1h9.3v8.2h-9.3zM446.9 686.1h9.3v8.2h-9.3zM302.7 693.9h9.3v8.2h-9.3zM374.8 693.9h9.3v8.2h-9.3zM419.8 693.9h9.3v8.2h-9.3zM446.9 693.9h9.3v8.2h-9.3zM302.7 701.8h9.3v8.2h-9.3zM374.8 701.8h9.3v8.2h-9.3zM419.8 701.8h9.3v8.2h-9.3zM185.6 709.6h9.3v8.2h-9.3zM419.8 709.6h9.3v8.2h-9.3zM383.8 717.5h18.3v8.2h-18.3zM410.8 717.5h9.3v8.2h-9.3zM185.6 725.3h9.3v8.2h-9.3zM383.8 725.3h9.3v8.2h-9.3zM410.8 725.3h9.3v8.2h-9.3z"/>
<path fill="#ff0080" d="M383.8 662.5h9.3v8.2h-9.3zM446.9 662.5h9.3v8.2h-9.3zM383.8 670.4h9.3v8.2h-9.3zM437.9 670.4h9.3v8.2h-9.3zM383.8 678.2h9.3v8.2h-9.3zM428.9 678.2h9.3v8.2h-9.3zM383.8 686.1h9.3v8.2h-9.3zM419.8 686.1h9.3v8.2h-9.3zM383.8 693.9h9.3v8.2h-9.3zM383.8 701.8h9.3v8.2h-9.3zM410.8 701.8h9.3v8.2h-9.3zM383.8 709.6h18.3v8.2h-18.3zM410.8 709.6h9.3v8.2h-9.3zM401.8 748.9h9.3v8.2h-9.3zM401.8 756.7h9.3v8.2h-9.3zM401.8 764.6h18.3v8.2h-18.3z"/>
<path fill="#ff00f9" d="M392.8 662.5h45.3v8.2h-45.3zM392.8 670.4h36.3v8.2h-36.3zM401.8 678.2h18.3v8.2h-18.3zM401.8 686.1h9.3v8.2h-9.3zM392.8 693.9h9.3v8.2h-9.3zM401.8 709.6h9.3v8.2h-9.3zM401.8 717.5h9.3v8.2h-9.3zM401.8 725.3h9.3v8.2h-9.3zM401.8 733.2h9.3v8.2h-9.3z"/>
<path fill="#ff00e0" d="M437.9 662.5h9.3v8.2h-9.3zM428.9 670.4h9.3v8.2h-9.3zM392.8 678.2h9.3v8.2h-9.3zM419.8 678.2h9.3v8.2h-9.3zM392.8 686.1h9.3v8.2h-9.3zM410.8 686.1h9.3v8.2h-9.3zM410.8 693.9h9.3v8.2h-9.3zM392.8 701.8h9.3v8.2h-9.3zM401.8 741h9.3v8.2h-9.3z"/>
<path fill="#ff8c00" d="M212.7 670.4h9.3v8.2h-9.3zM302.7 670.4h9.3v8.2h-9.3zM203.6 678.2h9.3v8.2h-9.3zM302.7 678.2h9.3v8.2h-9.3zM347.8 678.2h9.3v8.2h-9.3zM212.7 686.1h9.3v8.2h-9.3zM347.8 686.1h9.3v8.2h-9.3zM194.6 693.9h18.3v8.2h-18.3zM185.6 701.8h9.3v8.2h-9.3zM311.7 701.8h9.3v8.2h-9.3zM437.9 701.8h9.3v8.2h-9.3zM194.6 709.6h9.3v8.2h-9.3zM311.7 709.6h9.3v8.2h-9.3zM356.8 709.6h18.3v8.2h-18.3zM347.8 717.5h9.3v8.2h-9.3zM365.8 717.5h9.3v8.2h-9.3zM428.9 717.5h9.3v8.2h-9.3zM446.9 717.5h9.3v8.2h-9.3zM302.7 725.3h9.3v8.2h-9.3zM374.8 725.3h9.3v8.2h-9.3zM419.8 725.3h9.3v8.2h-9.3zM374.8 733.2h9.3v8.2h-9.3zM392.8 733.2h9.3v8.2h-9.3zM410.8 741h9.3v8.2h-9.3zM410.8 748.9h9.3v8.2h-9.3zM185.6 756.7h9.3v8.2h-9.3zM365.8 764.6h36.3v8.2h-36.3zM419.8 764.6h9.3v8.2h-9.3zM446.9 764.6h9.3v8.2h-9.3zM410.8 772.4h9.3v8.2h-9.3z"/>
<path fill="#00d840" d="M555 678.2h9.3v8.2h-9.3zM77.5 693.9h18.3v8.2h-18.3zM140.6 693.9h9.3v8.2h-9.3zM158.6 693.9h18.3v8.2h-18.3zM555 693.9h9.3v8.2h-9.3zM77.5 701.8h9.3v8.2h-9.3zM122.6 701.8h9.3v8.2h-9.3zM149.6 701.8h18.3v8.2h-18.3zM176.6 701.8h9.3v8.2h-9.3zM140.6 709.6h18.3v8.2h-18.3zM176.6 709.6h9.3v8.2h-9.3zM555 709.6h9.3v8.2h-9.3zM77.5 717.5h18.3v8.2h-18.3zM140.6 717.5h9.3v8.2h-9.3zM158.6 717.5h18.3v8.2h-18.3zM77.5 725.3h9.3v8.2h-9.3zM122.6 725.3h9.3v8.2h-9.3zM158.6 725.3h9.3v8.2h-9.3zM176.6 725.3h9.3v8.2h-9.3zM527.9 725.3h9.3v8.2h-9.3zM546 725.3h27.3v8.2h-27.3zM582 725.3h9.3v8.2h-9.3zM167.6 733.2h18.3v8.2h-18.3zM527.9 733.2h9.3v8.2h-9.3zM546 733.2h45.3v8.2h-45.3zM77.5 741h9.3v8.2h-9.3zM500.9 741h9.3v8.2h-9.3zM527.9 741h63.4v8.2h-63.4zM77.5 748.9h9.3v8.2h-9.3zM455.9 748.9h9.3v8.2h-9.3zM473.9 748.9h117.4v8.2h-117.4zM455.9 756.7h18.3v8.2h-18.3zM482.9 756.7h9.3v8.2h-9.3zM500.9 756.7h18.3v8.2h-18.3zM527.9 756.7h18.3v8.2h-18.3zM555 756.7h9.3v8.2h-9.3zM573 756.7h18.3v8.2h-18.3z"/>
<path fill="#ff7cff" d="M401.8 693.9h9.3v8.2h-9.3zM401.8 701.8h9.3v8.2h-9.3z"/>
<path fill="#0073bd" d="M248.7 741h27.3v8.2h-27.3zM320.8 741h9.3v8.2h-9.3zM158.6 748.9h9.3v8.2h-9.3zM230.7 748.9h27.3v8.2h-27.3zM266.7 748.9h18.3v8.2h-18.3zM320.8 748.9h9.3v8.2h-9.3zM86.5 756.7h99.4v8.2h-99.4zM239.7 756.7h9.3v8.2h-9.3zM320.8 756.7h9.3v8.2h-9.3zM50.5 764.6h9.3v8.2h-9.3zM77.5 764.6h18.3v8.2h-18.3zM122.6 764.6h63.4v8.2h-63.4zM239.7 764.6h18.3v8.2h-18.3zM266.7 764.6h27.3v8.2h-27.3zM473.9 764.6h18.3v8.2h-18.3zM500.9 764.6h18.3v8.2h-18.3zM527.9 764.6h63.4v8.2h-63.4zM50.5 772.4h18.3v8.2h-18.3zM77.5 772.4h9.3v8.2h-9.3zM212.7 772.4h18.3v8.2h-18.3zM293.7 772.4h9.3v8.2h-9.3zM311.7 772.4h9.3v8.2h-9.3zM383.8 780.3h18.3v8.2h-18.3zM410.8 780.3h9.3v8.2h-9.3z"/>
<path fill="#0000f9" d="M257.7 748.9h9.3v8.2h-9.3zM230.7 756.7h9.3v8.2h-9.3zM248.7 756.7h36.3v8.2h-36.3zM95.5 764.6h27.3v8.2h-27.3zM230.7 764.6h9.3v8.2h-9.3zM257.7 764.6h9.3v8.2h-9.3zM86.5 772.4h99.4v8.2h-99.4zM230.7 772.4h63.4v8.2h-63.4zM320.8 772.4h9.3v8.2h-9.3zM455.9 772.4h9.3v8.2h-9.3zM473.9 772.4h117.4v8.2h-117.4zM194.6 780.3h36.3v8.2h-36.3zM293.7 780.3h27.3v8.2h-27.3zM347.8 780.3h36.3v8.2h-36.3zM419.8 780.3h54.4v8.2h-54.4zM482.9 780.3h18.3v8.2h-18.3zM518.9 780.3h18.3v8.2h-18.3z"/>
<path fill="#00007c" d="M50.5 780.3h135.4v8.2h-135.4zM230.7 780.3h63.4v8.2h-63.4zM320.8 780.3h27.3v8.2h-27.3zM473.9 780.3h9.3v8.2h-9.3zM500.9 780.3h18.3v8.2h-18.3zM537 780.3h54.3v8.2h-54.3zM50.5 788.1h540.8v4.2h-540.8z"/>
<path fill="#000000" d="M50.5 792.1h540.8v4.2h-540.8z"/>
<path fill="#ffcb00" d="M50.5 827.3h9.3v8.2h-9.3zM365.8 827.3h18.3v8.2h-18.3zM464.9 827.3h9.3v8.2h-9.3zM491.9 827.3h27.3v8.2h-27.3zM546 827.3h9.3v8.2h-9.3zM158.6 835.2h9.3v8.2h-9.3zM248.7 835.2h9.3v8.2h-9.3zM356.8 835.2h27.3v8.2h-27.3zM50.5 843h9.3v8.2h-9.3zM149.6 843h9.3v8.2h-9.3zM239.7 843h9.3v8.2h-9.3zM374.8 843h9.3v8.2h-9.3zM401.8 843h9.3v8.2h-9.3zM491.9 843h18.3v8.2h-18.3zM537 843h18.3v8.2h-18.3zM50.5 850.9h9.3v8.2h-9.3zM149.6 850.9h9.3v8.2h-9.3zM230.7 850.9h18.3v8.2h-18.3zM302.7 850.9h9.3v8.2h-9.3zM365.8 850.9h18.3v8.2h-18.3zM455.9 850.9h9.3v8.2h-9.3zM546 850.9h9.3v8.2h-9.3zM573 850.9h9.3v8.2h-9.3zM131.6 858.8h9.3v8.2h-9.3zM149.6 858.8h18.3v8.2h-18.3zM221.7 858.8h9.3v8.2h-9.3zM365.8 858.8h18.3v8.2h-18.3zM401.8 858.8h9.3v8.2h-9.3zM428.9 858.8h18.3v8.2h-18.3zM140.6 866.6h9.3v8.2h-9.3zM158.6 866.6h9.3v8.2h-9.3zM212.7 866.6h9.3v8.2h-9.3zM401.8 866.6h9.3v8.2h-9.3zM419.8 866.6h36.3v8.2h-36.3zM95.5 874.5h9.3v8.2h-9.3zM113.6 874.5h9.3v8.2h-9.3zM140.6 874.5h9.3v8.2h-9.3zM158.6 874.5h18.3v8.2h-18.3zM203.6 874.5h9.3v8.2h-9.3zM356.8 874.5h9.3v8.2h-9.3zM383.8 874.5h18.3v8.2h-18.3zM419.8 874.5h9.3v8.2h-9.3zM437.9 874.5h9.3v8.2h-9.3zM59.5 882.4h9.3v8.2h-9.3zM77.5 882.4h63.4v8.2h-63.4zM167.6 882.4h36.3v8.2h-36.3zM392.8 882.4h9.3v8.2h-9.3zM410.8 882.4h18.3v8.2h-18.3zM437.9 882.4h9.3v8.2h-9.3zM59.5 890.2h9.3v8.2h-9.3zM77.5 890.2h9.3v8.2h-9.3zM122.6 890.2h9.3v8.2h-9.3zM68.5 898.1h18.3v8.2h-18.3zM365.8 905.9h9.3v8.2h-9.3zM401.8 905.9h9.3v8.2h-9.3zM329.8 921.7h9.3v8.2h-9.3zM365.8 921.7h18.3v8.2h-18.3zM257.7 929.5h9.3v8.2h-9.3zM302.7 929.5h9.3v8.2h-9.3zM320.8 929.5h9.3v8.2h-9.3zM338.8 929.5h9.3v8.2h-9.3zM365.8 929.5h9.3v8.2h-9.3zM401.8 929.5h9.3v8.2h-9.3zM185.6 937.4h9.3v8.2h-9.3zM437.9 937.4h9.3v8.2h-9.3zM194.6 945.3h9.3v8.2h-9.3zM293.7 945.3h18.3v8.2h-18.3zM446.9 945.3h9.3v8.2h-9.3zM68.5 953.1h9.3v4.2h-9.3zM113.6 953.1h18.3v4.2h-18.3zM320.8 953.1h9.3v4.2h-9.3zM365.8 953.1h9.3v4.2h-9.3zM392.8 953.1h9.3v4.2h-9.3zM419.8 953.1h9.3v4.2h-9.3zM437.9 953.1h18.3v4.2h-18.3zM537 953.1h9.3v4.2h-9.3z"/>
<path fill="#ff00e0" d="M59.5 827.3h36.3v8.2h-36.3zM104.5 827.3h9.3v8.2h-9.3zM167.6 827.3h27.3v8.2h-27.3zM203.6 827.3h9.3v8.2h-9.3zM59.5 835.2h63.4v8.2h-63.4zM167.6 835.2h18.3v8.2h-18.3zM194.6 835.2h18.3v8.2h-18.3zM59.5 843h36.3v8.2h-36.3zM104.5 843h9.3v8.2h-9.3zM176.6 843h36.3v8.2h-36.3zM410.8 843h9.3v8.2h-9.3zM59.5 850.9h18.3v8.2h-18.3zM185.6 850.9h18.3v8.2h-18.3zM77.5 858.8h9.3v8.2h-9.3z"/>
<path fill="#ff00f9" d="M95.5 827.3h9.3v8.2h-9.3zM194.6 827.3h9.3v8.2h-9.3zM185.6 835.2h9.3v8.2h-9.3z"/>
<path fill="#ff0080" d="M113.6 827.3h9.3v8.2h-9.3zM131.6 827.3h9.3v8.2h-9.3zM212.7 827.3h9.3v8.2h-9.3zM392.8 827.3h18.3v8.2h-18.3zM437.9 827.3h18.3v8.2h-18.3zM122.6 835.2h18.3v8.2h-18.3zM212.7 835.2h9.3v8.2h-9.3zM437.9 835.2h18.3v8.2h-18.3zM95.5 843h9.3v8.2h-9.3zM131.6 843h9.3v8.2h-9.3zM167.6 843h9.3v8.2h-9.3zM77.5 850.9h18.3v8.2h-18.3zM104.5 850.9h9.3v8.2h-9.3zM176.6 850.9h9.3v8.2h-9.3zM203.6 850.9h9.3v8.2h-9.3zM194.6 858.8h9.3v8.2h-9.3zM392.8 929.5h9.3v8.2h-9.3zM203.6 945.3h9.3v8.2h-9.3z"/>
<path fill="#ff0000" d="M122.6 827.3h9.3v8.2h-9.3zM221.7 827.3h36.3v8.2h-36.3zM383.8 827.3h9.3v8.2h-9.3zM410.8 827.3h27.3v8.2h-27.3zM140.6 835.2h9.3v8.2h-9.3zM221.7 835.2h9.3v8.2h-9.3zM383.8 835.2h54.4v8.2h-54.4zM455.9 835.2h9.3v8.2h-9.3zM113.6 843h18.3v8.2h-18.3zM140.6 843h9.3v8.2h-9.3zM212.7 843h9.3v8.2h-9.3zM419.8 843h9.3v8.2h-9.3zM437.9 843h9.3v8.2h-9.3zM95.5 850.9h9.3v8.2h-9.3zM113.6 850.9h27.3v8.2h-27.3zM158.6 850.9h18.3v8.2h-18.3zM212.7 850.9h9.3v8.2h-9.3zM392.8 850.9h9.3v8.2h-9.3zM59.5 858.8h18.3v8.2h-18.3zM86.5 858.8h27.3v8.2h-27.3zM167.6 858.8h27.3v8.2h-27.3zM203.6 858.8h9.3v8.2h-9.3zM383.8 858.8h18.3v8.2h-18.3zM410.8 858.8h9.3v8.2h-9.3zM446.9 858.8h9.3v8.2h-9.3zM176.6 866.6h18.3v8.2h-18.3zM383.8 866.6h9.3v8.2h-9.3zM401.8 882.4h9.3v8.2h-9.3zM564 953.1h9.3v4.2h-9.3z"/>
<path fill="#ff5000" d="M140.6 827.3h9.3v8.2h-9.3zM455.9 827.3h9.3v8.2h-9.3zM230.7 835.2h9.3v8.2h-9.3zM221.7 843h9.3v8.2h-9.3zM446.9 843h9.3v8.2h-9.3zM140.6 850.9h9.3v8.2h-9.3zM410.8 850.9h9.3v8.2h-9.3zM113.6 858.8h18.3v8.2h-18.3zM212.7 858.8h9.3v8.2h-9.3zM68.5 866.6h9.3v8.2h-9.3zM86.5 866.6h9.3v8.2h-9.3zM104.5 866.6h9.3v8.2h-9.3zM122.6 866.6h9.3v8.2h-9.3zM194.6 866.6h9.3v8.2h-9.3zM86.5 874.5h9.3v8.2h-9.3zM185.6 874.5h9.3v8.2h-9.3zM185.6 945.3h9.3v8.2h-9.3z"/>
<path fill="#ff8c00" d="M149.6 827.3h18.3v8.2h-18.3zM582 827.3h9.3v8.2h-9.3zM50.5 835.2h9.3v8.2h-9.3zM149.6 835.2h9.3v8.2h-9.3zM239.7 835.2h9.3v8.2h-9.3zM491.9 835.2h9.3v8.2h-9.3zM546 835.2h9.3v8.2h-9.3zM573 835.2h9.3v8.2h-9.3zM158.6 843h9.3v8.2h-9.3zM230.7 843h9.3v8.2h-9.3zM356.8 843h18.3v8.2h-18.3zM383.8 843h18.3v8.2h-18.3zM428.9 843h9.3v8.2h-9.3zM455.9 843h9.3v8.2h-9.3zM573 843h18.3v8.2h-18.3zM221.7 850.9h9.3v8.2h-9.3zM356.8 850.9h9.3v8.2h-9.3zM383.8 850.9h9.3v8.2h-9.3zM401.8 850.9h9.3v8.2h-9.3zM419.8 850.9h36.3v8.2h-36.3zM582 850.9h9.3v8.2h-9.3zM140.6 858.8h9.3v8.2h-9.3zM356.8 858.8h9.3v8.2h-9.3zM419.8 858.8h9.3v8.2h-9.3zM546 858.8h9.3v8.2h-9.3zM582 858.8h9.3v8.2h-9.3zM59.5 866.6h9.3v8.2h-9.3zM77.5 866.6h9.3v8.2h-9.3zM95.5 866.6h9.3v8.2h-9.3zM113.6 866.6h9.3v8.2h-9.3zM131.6 866.6h9.3v8.2h-9.3zM167.6 866.6h9.3v8.2h-9.3zM203.6 866.6h9.3v8.2h-9.3zM356.8 866.6h9.3v8.2h-9.3zM392.8 866.6h9.3v8.2h-9.3zM410.8 866.6h9.3v8.2h-9.3zM59.5 874.5h27.3v8.2h-27.3zM104.5 874.5h9.3v8.2h-9.3zM122.6 874.5h18.3v8.2h-18.3zM176.6 874.5h9.3v8.2h-9.3zM194.6 874.5h9.3v8.2h-9.3zM401.8 874.5h18.3v8.2h-18.3zM68.5 882.4h9.3v8.2h-9.3zM68.5 890.2h9.3v8.2h-9.3zM401.8 890.2h9.3v8.2h-9.3zM374.8 913.8h9.3v8.2h-9.3zM374.8 929.5h9.3v8.2h-9.3zM546 953.1h18.3v4.2h-18.3z"/>
<path fill="#fbff00" d="M257.7 827.3h9.3v8.2h-9.3zM356.8 827.3h9.3v8.2h-9.3zM473.9 827.3h9.3v8.2h-9.3zM518.9 827.3h9.3v8.2h-9.3zM537 827.3h9.3v8.2h-9.3zM555 827.3h27.3v8.2h-27.3zM347.8 835.2h9.3v8.2h-9.3zM464.9 835.2h18.3v8.2h-18.3zM500.9 835.2h27.3v8.2h-27.3zM537 835.2h9.3v8.2h-9.3zM555 835.2h18.3v8.2h-18.3zM582 835.2h9.3v8.2h-9.3zM248.7 843h9.3v8.2h-9.3zM302.7 843h18.3v8.2h-18.3zM347.8 843h9.3v8.2h-9.3zM464.9 843h27.3v8.2h-27.3zM509.9 843h27.3v8.2h-27.3zM555 843h18.3v8.2h-18.3zM248.7 850.9h9.3v8.2h-9.3zM311.7 850.9h18.3v8.2h-18.3zM347.8 850.9h9.3v8.2h-9.3zM464.9 850.9h81.4v8.2h-81.4zM555 850.9h18.3v8.2h-18.3zM50.5 858.8h9.3v8.2h-9.3zM230.7 858.8h9.3v8.2h-9.3zM302.7 858.8h18.3v8.2h-18.3zM347.8 858.8h9.3v8.2h-9.3zM455.9 858.8h90.4v8.2h-90.4zM555 858.8h27.3v8.2h-27.3zM50.5 866.6h9.3v8.2h-9.3zM221.7 866.6h9.3v8.2h-9.3zM302.7 866.6h9.3v8.2h-9.3zM347.8 866.6h9.3v8.2h-9.3zM365.8 866.6h18.3v8.2h-18.3zM455.9 866.6h27.3v8.2h-27.3zM491.9 866.6h18.3v8.2h-18.3zM518.9 866.6h72.4v8.2h-72.4zM50.5 874.5h9.3v8.2h-9.3zM149.6 874.5h9.3v8.2h-9.3zM212.7 874.5h9.3v8.2h-9.3zM347.8 874.5h9.3v8.2h-9.3zM365.8 874.5h18.3v8.2h-18.3zM428.9 874.5h9.3v8.2h-9.3zM446.9 874.5h9.3v8.2h-9.3zM464.9 874.5h9.3v8.2h-9.3zM491.9 874.5h9.3v8.2h-9.3zM537 874.5h18.3v8.2h-18.3zM582 874.5h9.3v8.2h-9.3zM50.5 882.4h9.3v8.2h-9.3zM140.6 882.4h27.3v8.2h-27.3zM203.6 882.4h9.3v8.2h-9.3zM356.8 882.4h18.3v8.2h-18.3zM383.8 882.4h9.3v8.2h-9.3zM428.9 882.4h9.3v8.2h-9.3zM446.9 882.4h9.3v8.2h-9.3zM491.9 882.4h9.3v8.2h-9.3zM86.5 890.2h36.3v8.2h-36.3zM131.6 890.2h72.4v8.2h-72.4zM365.8 890.2h9.3v8.2h-9.3zM383.8 890.2h18.3v8.2h-18.3zM410.8 890.2h9.3v8.2h-9.3zM428.9 890.2h27.3v8.2h-27.3zM491.9 890.2h9.3v8.2h-9.3zM59.5 898.1h9.3v8.2h-9.3zM86.5 898.1h63.4v8.2h-63.4zM167.6 898.1h27.3v8.2h-27.3zM365.8 898.1h45.3v8.2h-45.3zM437.9 898.1h18.3v8.2h-18.3zM491.9 898.1h9.3v8.2h-9.3zM582 898.1h9.3v8.2h-9.3zM68.5 905.9h36.3v8.2h-36.3zM176.6 905.9h18.3v8.2h-18.3zM356.8 905.9h9.3v8.2h-9.3zM374.8 905.9h27.3v8.2h-27.3zM410.8 905.9h9.3v8.2h-9.3zM428.9 905.9h27.3v8.2h-27.3zM77.5 913.8h36.3v8.2h-36.3zM131.6 913.8h18.3v8.2h-18.3zM167.6 913.8h27.3v8.2h-27.3zM203.6 913.8h9.3v8.2h-9.3zM275.7 913.8h9.3v8.2h-9.3zM356.8 913.8h18.3v8.2h-18.3zM383.8 913.8h27.3v8.2h-27.3zM419.8 913.8h36.3v8.2h-36.3zM564 913.8h27.3v8.2h-27.3zM50.5 921.7h18.3v8.2h-18.3zM77.5 921.7h36.3v8.2h-36.3zM122.6 921.7h18.3v8.2h-18.3zM158.6 921.7h27.3v8.2h-27.3zM50.5 929.5h18.3v8.2h-18.3zM86.5 929.5h54.3v8.2h-54.3zM149.6 929.5h36.3v8.2h-36.3zM50.5 937.4h18.3v8.2h-18.3zM77.5 937.4h81.4v8.2h-81.4zM167.6 937.4h18.3v8.2h-18.3zM50.5 945.3h18.3v8.2h-18.3zM77.5 945.3h81.4v8.2h-81.4zM176.6 945.3h9.3v8.2h-9.3zM50.5 953.1h18.3v4.2h-18.3zM77.5 953.1h36.3v4.2h-36.3zM131.6 953.1h54.4v4.2h-54.4zM50.5 957.1h135.4v4.2h-135.4z"/>
<path fill="#70ff00" d="M266.7 827.3h9.3v8.2h-9.3zM293.7 827.3h9.3v8.2h-9.3zM266.7 835.2h9.3v8.2h-9.3zM293.7 835.2h9.3v8.2h-9.3zM266.7 843h9.3v8.2h-9.3zM293.7 843h9.3v8.2h-9.3zM266.7 850.9h18.3v8.2h-18.3zM293.7 850.9h9.3v8.2h-9.3zM257.7 858.8h36.3v8.2h-36.3zM329.8 858.8h9.3v8.2h-9.3zM248.7 866.6h45.3v8.2h-45.3zM239.7 874.5h54.4v8.2h-54.4zM329.8 874.5h9.3v8.2h-9.3zM239.7 882.4h54.4v8.2h-54.4zM320.8 882.4h9.3v8.2h-9.3zM338.8 882.4h9.3v8.2h-9.3zM248.7 890.2h45.3v8.2h-45.3zM302.7 890.2h9.3v8.2h-9.3zM329.8 890.2h18.3v8.2h-18.3zM257.7 898.1h36.3v8.2h-36.3zM302.7 898.1h9.3v8.2h-9.3zM338.8 898.1h9.3v8.2h-9.3zM419.8 898.1h9.3v8.2h-9.3zM284.7 905.9h9.3v8.2h-9.3zM302.7 905.9h9.3v8.2h-9.3zM329.8 905.9h18.3v8.2h-18.3z"/>
<path fill="#0073bd" d="M275.7 827.3h9.3v8.2h-9.3zM284.7 835.2h9.3v8.2h-9.3zM284.7 843h9.3v8.2h-9.3z"/>
<path fill="#00b078" d="M284.7 827.3h9.3v8.2h-9.3zM275.7 843h9.3v8.2h-9.3zM284.7 850.9h9.3v8.2h-9.3zM383.8 937.4h9.3v8.2h-9.3z"/>
<path fill="#b8ff00" d="M302.7 827.3h54.4v8.2h-54.4zM482.9 827.3h9.3v8.2h-9.3zM527.9 827.3h9.3v8.2h-9.3zM257.7 835.2h9.3v8.2h-9.3zM302.7 835.2h45.3v8.2h-45.3zM482.9 835.2h9.3v8.2h-9.3zM527.9 835.2h9.3v8.2h-9.3zM257.7 843h9.3v8.2h-9.3zM320.8 843h27.3v8.2h-27.3zM257.7 850.9h9.3v8.2h-9.3zM329.8 850.9h18.3v8.2h-18.3zM239.7 858.8h18.3v8.2h-18.3zM293.7 858.8h9.3v8.2h-9.3zM320.8 858.8h9.3v8.2h-9.3zM338.8 858.8h9.3v8.2h-9.3zM149.6 866.6h9.3v8.2h-9.3zM230.7 866.6h18.3v8.2h-18.3zM293.7 866.6h9.3v8.2h-9.3zM311.7 866.6h36.3v8.2h-36.3zM482.9 866.6h9.3v8.2h-9.3zM509.9 866.6h9.3v8.2h-9.3zM221.7 874.5h18.3v8.2h-18.3zM293.7 874.5h36.3v8.2h-36.3zM338.8 874.5h9.3v8.2h-9.3zM455.9 874.5h9.3v8.2h-9.3zM473.9 874.5h18.3v8.2h-18.3zM500.9 874.5h36.3v8.2h-36.3zM555 874.5h27.3v8.2h-27.3zM212.7 882.4h27.3v8.2h-27.3zM293.7 882.4h27.3v8.2h-27.3zM329.8 882.4h9.3v8.2h-9.3zM347.8 882.4h9.3v8.2h-9.3zM374.8 882.4h9.3v8.2h-9.3zM455.9 882.4h36.3v8.2h-36.3zM500.9 882.4h90.4v8.2h-90.4zM50.5 890.2h9.3v8.2h-9.3zM203.6 890.2h45.3v8.2h-45.3zM293.7 890.2h9.3v8.2h-9.3zM311.7 890.2h18.3v8.2h-18.3zM347.8 890.2h18.3v8.2h-18.3zM374.8 890.2h9.3v8.2h-9.3zM419.8 890.2h9.3v8.2h-9.3zM455.9 890.2h36.3v8.2h-36.3zM500.9 890.2h90.4v8.2h-90.4zM50.5 898.1h9.3v8.2h-9.3zM149.6 898.1h18.3v8.2h-18.3zM194.6 898.1h63.4v8.2h-63.4zM293.7 898.1h9.3v8.2h-9.3zM311.7 898.1h27.3v8.2h-27.3zM347.8 898.1h18.3v8.2h-18.3zM410.8 898.1h9.3v8.2h-9.3zM428.9 898.1h9.3v8.2h-9.3zM455.9 898.1h36.3v8.2h-36.3zM500.9 898.1h81.4v8.2h-81.4zM50.5 905.9h18.3v8.2h-18.3zM104.5 905.9h72.4v8.2h-72.4zM194.6 905.9h90.4v8.2h-90.4zM293.7 905.9h9.3v8.2h-9.3zM311.7 905.9h18.3v8.2h-18.3zM347.8 905.9h9.3v8.2h-9.3zM419.8 905.9h9.3v8.2h-9.3zM455.9 905.9h54.4v8.2h-54.4zM518.9 905.9h72.4v8.2h-72.4zM50.5 913.8h27.3v8.2h-27.3zM113.6 913.8h18.3v8.2h-18.3zM149.6 913.8h18.3v8.2h-18.3zM194.6 913.8h9.3v8.2h-9.3zM212.7 913.8h63.4v8.2h-63.4zM284.7 913.8h72.4v8.2h-72.4zM410.8 913.8h9.3v8.2h-9.3zM455.9 913.8h108.4v8.2h-108.4zM68.5 921.7h9.3v8.2h-9.3zM113.6 921.7h9.3v8.2h-9.3zM140.6 921.7h18.3v8.2h-18.3zM221.7 921.7h45.3v8.2h-45.3zM275.7 921.7h27.3v8.2h-27.3zM347.8 921.7h9.3v8.2h-9.3zM482.9 921.7h9.3v8.2h-9.3zM573 921.7h9.3v8.2h-9.3zM68.5 929.5h18.3v8.2h-18.3zM140.6 929.5h9.3v8.2h-9.3zM185.6 929.5h9.3v8.2h-9.3zM230.7 929.5h27.3v8.2h-27.3zM284.7 929.5h18.3v8.2h-18.3zM347.8 929.5h9.3v8.2h-9.3zM383.8 929.5h9.3v8.2h-9.3zM509.9 929.5h9.3v8.2h-9.3zM537 929.5h45.3v8.2h-45.3zM68.5 937.4h9.3v8.2h-9.3zM158.6 937.4h9.3v8.2h-9.3zM284.7 937.4h18.3v8.2h-18.3zM311.7 937.4h9.3v8.2h-9.3zM347.8 937.4h36.3v8.2h-36.3zM401.8 937.4h9.3v8.2h-9.3zM482.9 937.4h9.3v8.2h-9.3zM573 937.4h9.3v8.2h-9.3zM68.5 945.3h9.3v8.2h-9.3zM158.6 945.3h18.3v8.2h-18.3zM248.7 945.3h27.3v8.2h-27.3zM329.8 945.3h27.3v8.2h-27.3zM365.8 945.3h18.3v8.2h-18.3zM392.8 945.3h18.3v8.2h-18.3zM573 945.3h9.3v8.2h-9.3zM185.6 953.1h18.3v4.2h-18.3zM455.9 953.1h9.3v4.2h-9.3z"/>
<path fill="#0000f9" d="M275.7 835.2h9.3v8.2h-9.3zM392.8 937.4h9.3v8.2h-9.3z"/>
<path fill="#20f810" d="M509.9 905.9h9.3v8.2h-9.3zM302.7 937.4h9.3v8.2h-9.3zM356.8 945.3h9.3v8.2h-9.3zM383.8 945.3h9.3v8.2h-9.3zM582 953.1h9.3v4.2h-9.3z"/>
<path fill="#e1ff00" d="M185.6 921.7h36.3v8.2h-36.3zM266.7 921.7h9.3v8.2h-9.3zM302.7 921.7h27.3v8.2h-27.3zM338.8 921.7h9.3v8.2h-9.3zM356.8 921.7h9.3v8.2h-9.3zM383.8 921.7h99.4v8.2h-99.4zM491.9 921.7h81.4v8.2h-81.4zM582 921.7h9.3v8.2h-9.3zM194.6 929.5h36.3v8.2h-36.3zM266.7 929.5h18.3v8.2h-18.3zM311.7 929.5h9.3v8.2h-9.3zM329.8 929.5h9.3v8.2h-9.3zM356.8 929.5h9.3v8.2h-9.3zM410.8 929.5h99.4v8.2h-99.4zM518.9 929.5h18.3v8.2h-18.3zM582 929.5h9.3v8.2h-9.3zM194.6 937.4h90.4v8.2h-90.4zM320.8 937.4h27.3v8.2h-27.3zM410.8 937.4h27.3v8.2h-27.3zM446.9 937.4h36.3v8.2h-36.3zM491.9 937.4h81.4v8.2h-81.4zM582 937.4h9.3v8.2h-9.3zM212.7 945.3h36.3v8.2h-36.3zM275.7 945.3h18.3v8.2h-18.3zM311.7 945.3h18.3v8.2h-18.3zM410.8 945.3h36.3v8.2h-36.3zM455.9 945.3h117.4v8.2h-117.4zM582 945.3h9.3v8.2h-9.3zM203.6 953.1h117.4v4.2h-117.4zM329.8 953.1h36.3v4.2h-36.3zM374.8 953.1h18.3v4.2h-18.3zM401.8 953.1h18.3v4.2h-18.3zM428.9 953.1h9.3v4.2h-9.3zM464.9 953.1h72.4v4.2h-72.4zM573 953.1h9.3v4.2h-9.3zM185.6 957.1h405.7v4.2h-405.7z"/>
<path fill="#6400ff" d="M213.1 181.6h6.2v4.4h-6.2zM219.2 181.6h6.2v4.4h-6.2zM220.4 194.2h3.8v4.4h-3.8zM190.2 202.7h3.8v4.4h-3.8zM63.8 211.1h3.8v4.4h-3.8zM87.8 211.1h3.8v4.4h-3.8zM81.8 215.3h3.8v4.4h-3.8zM467.3 215.3h3.8v4.4h-3.8zM545.6 215.3h3.8v4.4h-3.8zM509.5 227.9h3.8v4.4h-3.8zM575.7 232.2h3.8v4.4h-3.8zM56.5 240.6h6.2v4.4h-6.2zM81.8 244.8h3.8v4.4h-3.8zM201.1 244.8h6.2v4.4h-6.2zM544.4 244.8h6.2v4.4h-6.2zM74.6 249h6.2v4.4h-6.2zM74.6 257.4h6.2v4.4h-6.2zM86.6 257.4h6.2v4.4h-6.2zM255.3 257.4h6.2v4.4h-6.2zM327.6 257.4h6.2v4.4h-6.2zM550.4 257.4h6.2v4.4h-6.2zM189 265.8h6.2v4.4h-6.2zM255.3 265.8h6.2v4.4h-6.2zM261.3 265.8h6.2v4.4h-6.2zM255.3 270.1h6.2v4.4h-6.2zM261.3 270.1h6.2v4.4h-6.2zM255.3 274.3h6.2v4.4h-6.2zM261.3 274.3h6.2v4.4h-6.2zM255.3 278.5h6.2v4.4h-6.2zM80.6 291.1h6.2v4.4h-6.2zM86.6 291.1h6.2v4.4h-6.2zM116.8 291.1h6.2v4.4h-6.2zM177 291.1h6.2v4.4h-6.2zM417.9 291.1h6.2v4.4h-6.2zM93.9 312.2h3.8v4.4h-3.8zM563.7 316.4h3.8v4.4h-3.8z"/>
<path fill="#00d040" d="M274.6 190h3.8v4.4h-3.8zM207.1 202.7h6.2v4.4h-6.2zM184.2 219.5h3.8v4.4h-3.8zM183 223.7h6.2v4.4h-6.2zM399.9 223.7h6.2v4.4h-6.2zM405.9 223.7h6.2v4.4h-6.2zM411.9 223.7h6.2v4.4h-6.2zM75.8 232.2h3.8v4.4h-3.8zM467.3 232.2h3.8v4.4h-3.8zM128.8 240.6h6.2v4.4h-6.2zM140.8 240.6h6.2v4.4h-6.2zM231.2 240.6h6.2v4.4h-6.2zM237.2 240.6h6.2v4.4h-6.2zM243.2 240.6h6.2v4.4h-6.2zM128.8 244.8h6.2v4.4h-6.2zM249.3 244.8h6.2v4.4h-6.2zM128.8 249h6.2v4.4h-6.2zM255.3 249h6.2v4.4h-6.2zM363.7 249h6.2v4.4h-6.2zM93.9 253.2h3.8v4.4h-3.8zM128.8 253.2h6.2v4.4h-6.2zM255.3 253.2h6.2v4.4h-6.2zM261.3 253.2h6.2v4.4h-6.2zM267.3 253.2h6.2v4.4h-6.2zM369.7 253.2h6.2v4.4h-6.2zM98.7 257.4h6.2v4.4h-6.2zM128.8 257.4h6.2v4.4h-6.2zM134.8 257.4h6.2v4.4h-6.2zM146.9 257.4h6.2v4.4h-6.2zM213.1 257.4h6.2v4.4h-6.2zM237.2 257.4h6.2v4.4h-6.2zM128.8 261.6h6.2v4.4h-6.2zM146.9 261.6h6.2v4.4h-6.2zM128.8 265.8h6.2v4.4h-6.2zM146.9 265.8h6.2v4.4h-6.2zM273.4 265.8h6.2v4.4h-6.2zM128.8 270.1h6.2v4.4h-6.2zM146.9 270.1h6.2v4.4h-6.2zM285.4 270.1h6.2v4.4h-6.2zM116.8 274.3h6.2v4.4h-6.2zM128.8 274.3h6.2v4.4h-6.2zM146.9 274.3h6.2v4.4h-6.2zM189 274.3h6.2v4.4h-6.2zM285.4 274.3h6.2v4.4h-6.2zM128.8 278.5h6.2v4.4h-6.2zM146.9 278.5h6.2v4.4h-6.2zM327.6 278.5h6.2v4.4h-6.2zM128.8 282.7h6.2v4.4h-6.2zM146.9 282.7h6.2v4.4h-6.2zM273.4 282.7h6.2v4.4h-6.2zM303.5 282.7h6.2v4.4h-6.2zM321.6 282.7h6.2v4.4h-6.2zM327.6 282.7h6.2v4.4h-6.2zM128.8 286.9h6.2v4.4h-6.2zM146.9 286.9h6.2v4.4h-6.2zM285.4 286.9h6.2v4.4h-6.2zM328.8 286.9h3.8v4.4h-3.8zM92.7 291.1h6.2v4.4h-6.2zM104.7 291.1h6.2v4.4h-6.2zM128.8 291.1h6.2v4.4h-6.2zM146.9 291.1h6.2v4.4h-6.2zM364.9 291.1h3.8v4.4h-3.8zM255.3 295.3h6.2v4.4h-6.2zM472.1 295.3h6.2v4.4h-6.2zM74.6 299.5h6.2v4.4h-6.2zM279.4 299.5h6.2v4.4h-6.2zM297.5 299.5h6.2v4.4h-6.2zM328.8 299.5h3.8v4.4h-3.8zM502.2 303.8h6.2v4.4h-6.2zM508.3 303.8h6.2v4.4h-6.2zM526.3 303.8h6.2v4.4h-6.2zM508.3 308h6.2v4.4h-6.2zM550.4 308h6.2v4.4h-6.2zM562.5 308h6.2v4.4h-6.2zM568.5 308h6.2v4.4h-6.2zM322.8 312.2h3.8v4.4h-3.8zM562.5 312.2h6.2v4.4h-6.2zM321.6 316.4h6.2v4.4h-6.2z"/>
<path fill="#50f020" d="M364.9 190h3.8v4.4h-3.8zM351.7 194.2h6.2v4.4h-6.2zM364.9 202.7h3.8v4.4h-3.8zM370.9 227.9h3.8v4.4h-3.8zM395 227.9h3.8v4.4h-3.8zM93.9 232.2h3.8v4.4h-3.8zM321.6 232.2h6.2v4.4h-6.2zM370.9 232.2h3.8v4.4h-3.8zM508.3 232.2h6.2v4.4h-6.2zM551.6 232.2h3.8v4.4h-3.8zM225.2 236.4h6.2v4.4h-6.2zM514.3 236.4h6.2v4.4h-6.2zM62.5 240.6h6.2v4.4h-6.2zM538.4 240.6h6.2v4.4h-6.2zM140.8 244.8h6.2v4.4h-6.2zM274.6 244.8h3.8v4.4h-3.8zM116.8 249h6.2v4.4h-6.2zM56.5 253.2h6.2v4.4h-6.2zM104.7 257.4h6.2v4.4h-6.2zM110.7 257.4h6.2v4.4h-6.2zM122.8 257.4h6.2v4.4h-6.2zM369.7 257.4h6.2v4.4h-6.2zM508.3 257.4h6.2v4.4h-6.2zM62.5 261.6h6.2v4.4h-6.2zM81.8 261.6h3.8v4.4h-3.8zM98.7 261.6h6.2v4.4h-6.2zM104.7 261.6h6.2v4.4h-6.2zM116.8 261.6h6.2v4.4h-6.2zM122.8 261.6h6.2v4.4h-6.2zM261.3 261.6h6.2v4.4h-6.2zM267.3 261.6h6.2v4.4h-6.2zM80.6 265.8h6.2v4.4h-6.2zM98.7 265.8h6.2v4.4h-6.2zM104.7 265.8h6.2v4.4h-6.2zM116.8 265.8h6.2v4.4h-6.2zM122.8 265.8h6.2v4.4h-6.2zM213.1 265.8h6.2v4.4h-6.2zM544.4 265.8h6.2v4.4h-6.2zM74.6 270.1h6.2v4.4h-6.2zM80.6 270.1h6.2v4.4h-6.2zM98.7 270.1h6.2v4.4h-6.2zM104.7 270.1h6.2v4.4h-6.2zM116.8 270.1h6.2v4.4h-6.2zM122.8 270.1h6.2v4.4h-6.2zM134.8 270.1h6.2v4.4h-6.2zM195.1 270.1h6.2v4.4h-6.2zM207.1 270.1h6.2v4.4h-6.2zM550.4 270.1h6.2v4.4h-6.2zM568.5 270.1h6.2v4.4h-6.2zM74.6 274.3h6.2v4.4h-6.2zM80.6 274.3h6.2v4.4h-6.2zM104.7 274.3h6.2v4.4h-6.2zM110.7 274.3h6.2v4.4h-6.2zM122.8 274.3h6.2v4.4h-6.2zM134.8 274.3h6.2v4.4h-6.2zM92.7 278.5h6.2v4.4h-6.2zM104.7 278.5h6.2v4.4h-6.2zM110.7 278.5h6.2v4.4h-6.2zM116.8 278.5h6.2v4.4h-6.2zM478.2 278.5h6.2v4.4h-6.2zM62.5 282.7h6.2v4.4h-6.2zM92.7 282.7h6.2v4.4h-6.2zM104.7 282.7h6.2v4.4h-6.2zM110.7 282.7h6.2v4.4h-6.2zM116.8 282.7h6.2v4.4h-6.2zM122.8 282.7h6.2v4.4h-6.2zM134.8 282.7h6.2v4.4h-6.2zM74.6 286.9h6.2v4.4h-6.2zM92.7 286.9h6.2v4.4h-6.2zM98.7 286.9h6.2v4.4h-6.2zM116.8 286.9h6.2v4.4h-6.2zM454.1 286.9h6.2v4.4h-6.2zM472.1 286.9h6.2v4.4h-6.2zM478.2 286.9h6.2v4.4h-6.2zM74.6 291.1h6.2v4.4h-6.2zM261.3 291.1h6.2v4.4h-6.2zM454.1 291.1h6.2v4.4h-6.2zM472.1 291.1h6.2v4.4h-6.2zM478.2 291.1h6.2v4.4h-6.2zM74.6 295.3h6.2v4.4h-6.2zM80.6 295.3h6.2v4.4h-6.2zM93.9 295.3h3.8v4.4h-3.8zM267.3 295.3h6.2v4.4h-6.2zM490.2 295.3h6.2v4.4h-6.2zM92.7 299.5h6.2v4.4h-6.2zM267.3 299.5h6.2v4.4h-6.2zM273.4 299.5h6.2v4.4h-6.2zM472.1 299.5h6.2v4.4h-6.2zM490.2 299.5h6.2v4.4h-6.2zM81.8 303.8h3.8v4.4h-3.8zM93.9 303.8h3.8v4.4h-3.8zM93.9 308h3.8v4.4h-3.8zM118 312.2h3.8v4.4h-3.8zM285.4 312.2h6.2v4.4h-6.2zM297.5 312.2h6.2v4.4h-6.2zM556.5 312.2h6.2v4.4h-6.2zM286.6 316.4h3.8v4.4h-3.8zM297.5 316.4h6.2v4.4h-6.2zM327.6 316.4h6.2v4.4h-6.2zM364.9 316.4h3.8v4.4h-3.8zM580.6 316.4h6.2v4.4h-6.2z"/>
<path fill="#0050a0" d="M509.5 190h3.8v4.4h-3.8zM207.1 211.1h6.2v4.4h-6.2zM183 215.3h6.2v4.4h-6.2zM364.9 223.7h3.8v4.4h-3.8zM195.1 227.9h6.2v4.4h-6.2zM327.6 236.4h6.2v4.4h-6.2zM249.3 240.6h6.2v4.4h-6.2zM262.5 244.8h3.8v4.4h-3.8zM249.3 249h6.2v4.4h-6.2zM201.1 253.2h6.2v4.4h-6.2zM98.7 282.7h6.2v4.4h-6.2zM274.6 316.4h3.8v4.4h-3.8z"/>
<path fill="#ffd000" d="M545.6 190h3.8v4.4h-3.8zM201.1 206.9h6.2v4.4h-6.2zM189 227.9h6.2v4.4h-6.2zM160.1 232.2h3.8v4.4h-3.8zM134.8 240.6h6.2v4.4h-6.2zM351.7 240.6h6.2v4.4h-6.2zM134.8 244.8h6.2v4.4h-6.2zM231.2 244.8h6.2v4.4h-6.2zM351.7 244.8h6.2v4.4h-6.2zM375.8 244.8h6.2v4.4h-6.2zM381.8 244.8h6.2v4.4h-6.2zM411.9 244.8h6.2v4.4h-6.2zM417.9 244.8h6.2v4.4h-6.2zM423.9 244.8h6.2v4.4h-6.2zM152.9 249h6.2v4.4h-6.2zM291.4 249h6.2v4.4h-6.2zM309.5 249h6.2v4.4h-6.2zM351.7 249h6.2v4.4h-6.2zM357.7 249h6.2v4.4h-6.2zM381.8 249h6.2v4.4h-6.2zM393.8 249h6.2v4.4h-6.2zM405.9 249h6.2v4.4h-6.2zM411.9 249h6.2v4.4h-6.2zM417.9 249h6.2v4.4h-6.2zM152.9 253.2h6.2v4.4h-6.2zM164.9 253.2h6.2v4.4h-6.2zM351.7 253.2h6.2v4.4h-6.2zM357.7 253.2h6.2v4.4h-6.2zM393.8 253.2h6.2v4.4h-6.2zM399.9 253.2h6.2v4.4h-6.2zM405.9 253.2h6.2v4.4h-6.2zM411.9 253.2h6.2v4.4h-6.2zM436 253.2h6.2v4.4h-6.2zM158.9 257.4h6.2v4.4h-6.2zM291.4 257.4h6.2v4.4h-6.2zM303.5 257.4h6.2v4.4h-6.2zM351.7 257.4h6.2v4.4h-6.2zM381.8 257.4h6.2v4.4h-6.2zM393.8 257.4h6.2v4.4h-6.2zM399.9 257.4h6.2v4.4h-6.2zM411.9 257.4h6.2v4.4h-6.2zM436 257.4h6.2v4.4h-6.2zM68.6 261.6h6.2v4.4h-6.2zM158.9 261.6h6.2v4.4h-6.2zM171 261.6h6.2v4.4h-6.2zM243.2 261.6h6.2v4.4h-6.2zM255.3 261.6h6.2v4.4h-6.2zM273.4 261.6h6.2v4.4h-6.2zM291.4 261.6h6.2v4.4h-6.2zM303.5 261.6h6.2v4.4h-6.2zM309.5 261.6h6.2v4.4h-6.2zM315.5 261.6h6.2v4.4h-6.2zM351.7 261.6h6.2v4.4h-6.2zM357.7 261.6h6.2v4.4h-6.2zM381.8 261.6h6.2v4.4h-6.2zM393.8 261.6h6.2v4.4h-6.2zM411.9 261.6h6.2v4.4h-6.2zM442 261.6h6.2v4.4h-6.2zM267.3 265.8h6.2v4.4h-6.2zM297.5 265.8h6.2v4.4h-6.2zM303.5 265.8h6.2v4.4h-6.2zM339.6 265.8h6.2v4.4h-6.2zM351.7 265.8h6.2v4.4h-6.2zM381.8 265.8h6.2v4.4h-6.2zM387.8 265.8h6.2v4.4h-6.2zM399.9 265.8h6.2v4.4h-6.2zM442 265.8h6.2v4.4h-6.2zM454.1 265.8h6.2v4.4h-6.2zM508.3 265.8h6.2v4.4h-6.2zM62.5 270.1h6.2v4.4h-6.2zM273.4 270.1h6.2v4.4h-6.2zM291.4 270.1h6.2v4.4h-6.2zM297.5 270.1h6.2v4.4h-6.2zM303.5 270.1h6.2v4.4h-6.2zM309.5 270.1h6.2v4.4h-6.2zM315.5 270.1h6.2v4.4h-6.2zM351.7 270.1h6.2v4.4h-6.2zM357.7 270.1h6.2v4.4h-6.2zM363.7 270.1h6.2v4.4h-6.2zM381.8 270.1h6.2v4.4h-6.2zM387.8 270.1h6.2v4.4h-6.2zM393.8 270.1h6.2v4.4h-6.2zM399.9 270.1h6.2v4.4h-6.2zM448 270.1h6.2v4.4h-6.2zM454.1 270.1h6.2v4.4h-6.2zM490.2 270.1h6.2v4.4h-6.2zM508.3 270.1h6.2v4.4h-6.2zM62.5 274.3h6.2v4.4h-6.2zM158.9 274.3h6.2v4.4h-6.2zM273.4 274.3h6.2v4.4h-6.2zM291.4 274.3h6.2v4.4h-6.2zM297.5 274.3h6.2v4.4h-6.2zM303.5 274.3h6.2v4.4h-6.2zM315.5 274.3h6.2v4.4h-6.2zM351.7 274.3h6.2v4.4h-6.2zM357.7 274.3h6.2v4.4h-6.2zM363.7 274.3h6.2v4.4h-6.2zM375.8 274.3h6.2v4.4h-6.2zM393.8 274.3h6.2v4.4h-6.2zM448 274.3h6.2v4.4h-6.2zM460.1 274.3h6.2v4.4h-6.2zM472.1 274.3h6.2v4.4h-6.2zM478.2 274.3h6.2v4.4h-6.2zM496.2 274.3h6.2v4.4h-6.2zM508.3 274.3h6.2v4.4h-6.2zM562.5 274.3h6.2v4.4h-6.2zM568.5 274.3h6.2v4.4h-6.2zM50.5 278.5h6.2v4.4h-6.2zM158.9 278.5h6.2v4.4h-6.2zM171 278.5h6.2v4.4h-6.2zM267.3 278.5h6.2v4.4h-6.2zM273.4 278.5h6.2v4.4h-6.2zM279.4 278.5h6.2v4.4h-6.2zM291.4 278.5h6.2v4.4h-6.2zM303.5 278.5h6.2v4.4h-6.2zM309.5 278.5h6.2v4.4h-6.2zM315.5 278.5h6.2v4.4h-6.2zM351.7 278.5h6.2v4.4h-6.2zM363.7 278.5h6.2v4.4h-6.2zM369.7 278.5h6.2v4.4h-6.2zM381.8 278.5h6.2v4.4h-6.2zM387.8 278.5h6.2v4.4h-6.2zM448 278.5h6.2v4.4h-6.2zM466.1 278.5h6.2v4.4h-6.2zM496.2 278.5h6.2v4.4h-6.2zM514.3 278.5h6.2v4.4h-6.2zM526.3 278.5h6.2v4.4h-6.2zM544.4 278.5h6.2v4.4h-6.2zM556.5 278.5h6.2v4.4h-6.2zM562.5 278.5h6.2v4.4h-6.2zM568.5 278.5h6.2v4.4h-6.2zM50.5 282.7h6.2v4.4h-6.2zM56.5 282.7h6.2v4.4h-6.2zM158.9 282.7h6.2v4.4h-6.2zM285.4 282.7h6.2v4.4h-6.2zM291.4 282.7h6.2v4.4h-6.2zM309.5 282.7h6.2v4.4h-6.2zM315.5 282.7h6.2v4.4h-6.2zM387.8 282.7h6.2v4.4h-6.2zM399.9 282.7h6.2v4.4h-6.2zM472.1 282.7h6.2v4.4h-6.2zM484.2 282.7h6.2v4.4h-6.2zM490.2 282.7h6.2v4.4h-6.2zM502.2 282.7h6.2v4.4h-6.2zM520.3 282.7h6.2v4.4h-6.2zM526.3 282.7h6.2v4.4h-6.2zM550.4 282.7h6.2v4.4h-6.2zM556.5 282.7h6.2v4.4h-6.2zM562.5 282.7h6.2v4.4h-6.2zM568.5 282.7h6.2v4.4h-6.2zM574.5 282.7h6.2v4.4h-6.2zM50.5 286.9h6.2v4.4h-6.2zM56.5 286.9h6.2v4.4h-6.2zM62.5 286.9h6.2v4.4h-6.2zM171 286.9h6.2v4.4h-6.2zM244.5 286.9h3.8v4.4h-3.8zM262.5 286.9h3.8v4.4h-3.8zM310.7 286.9h3.8v4.4h-3.8zM383 286.9h3.8v4.4h-3.8zM393.8 286.9h6.2v4.4h-6.2zM399.9 286.9h6.2v4.4h-6.2zM423.9 286.9h6.2v4.4h-6.2zM466.1 286.9h6.2v4.4h-6.2zM484.2 286.9h6.2v4.4h-6.2zM490.2 286.9h6.2v4.4h-6.2zM496.2 286.9h6.2v4.4h-6.2zM502.2 286.9h6.2v4.4h-6.2zM508.3 286.9h6.2v4.4h-6.2zM520.3 286.9h6.2v4.4h-6.2zM532.4 286.9h6.2v4.4h-6.2zM538.4 286.9h6.2v4.4h-6.2zM556.5 286.9h6.2v4.4h-6.2zM562.5 286.9h6.2v4.4h-6.2zM568.5 286.9h6.2v4.4h-6.2zM574.5 286.9h6.2v4.4h-6.2zM586.6 286.9h6.2v4.4h-6.2zM164.9 291.1h6.2v4.4h-6.2zM171 291.1h6.2v4.4h-6.2zM243.2 291.1h6.2v4.4h-6.2zM430 291.1h6.2v4.4h-6.2zM442 291.1h6.2v4.4h-6.2zM484.2 291.1h6.2v4.4h-6.2zM490.2 291.1h6.2v4.4h-6.2zM502.2 291.1h6.2v4.4h-6.2zM514.3 291.1h6.2v4.4h-6.2zM520.3 291.1h6.2v4.4h-6.2zM538.4 291.1h6.2v4.4h-6.2zM544.4 291.1h6.2v4.4h-6.2zM556.5 291.1h6.2v4.4h-6.2zM568.5 291.1h6.2v4.4h-6.2zM574.5 291.1h6.2v4.4h-6.2zM586.6 291.1h6.2v4.4h-6.2zM496.2 295.3h6.2v4.4h-6.2zM514.3 295.3h6.2v4.4h-6.2zM538.4 295.3h6.2v4.4h-6.2zM544.4 295.3h6.2v4.4h-6.2zM568.5 295.3h6.2v4.4h-6.2zM574.5 295.3h6.2v4.4h-6.2zM586.6 295.3h6.2v4.4h-6.2zM50.5 299.5h6.2v4.4h-6.2zM291.4 299.5h6.2v4.4h-6.2zM496.2 299.5h6.2v4.4h-6.2zM520.3 299.5h6.2v4.4h-6.2zM538.4 299.5h6.2v4.4h-6.2zM544.4 299.5h6.2v4.4h-6.2zM556.5 299.5h6.2v4.4h-6.2zM587.8 299.5h3.8v4.4h-3.8zM514.3 303.8h6.2v4.4h-6.2zM520.3 303.8h6.2v4.4h-6.2zM538.4 303.8h6.2v4.4h-6.2zM544.4 303.8h6.2v4.4h-6.2zM574.5 303.8h6.2v4.4h-6.2zM580.6 303.8h6.2v4.4h-6.2zM586.6 303.8h6.2v4.4h-6.2zM514.3 308h6.2v4.4h-6.2zM538.4 308h6.2v4.4h-6.2zM544.4 308h6.2v4.4h-6.2zM580.6 308h6.2v4.4h-6.2zM586.6 308h6.2v4.4h-6.2zM273.4 312.2h6.2v4.4h-6.2zM339.6 312.2h6.2v4.4h-6.2zM586.6 312.2h6.2v4.4h-6.2zM545.6 316.4h3.8v4.4h-3.8z"/>
<path fill="#808080" d="M357.7 194.2h6.2v4.4h-6.2zM358.9 198.5h3.8v4.4h-3.8zM383 202.7h3.8v4.4h-3.8zM395 202.7h3.8v4.4h-3.8zM443.2 219.5h3.8v4.4h-3.8zM327.6 232.2h6.2v4.4h-6.2zM395 232.2h3.8v4.4h-3.8zM514.3 232.2h6.2v4.4h-6.2zM130 236.4h3.8v4.4h-3.8zM333.6 236.4h6.2v4.4h-6.2zM496.2 236.4h6.2v4.4h-6.2zM502.2 236.4h6.2v4.4h-6.2zM508.3 236.4h6.2v4.4h-6.2zM557.7 236.4h3.8v4.4h-3.8zM581.8 236.4h3.8v4.4h-3.8zM333.6 240.6h6.2v4.4h-6.2zM377 240.6h3.8v4.4h-3.8zM443.2 240.6h3.8v4.4h-3.8zM544.4 240.6h6.2v4.4h-6.2zM569.7 240.6h3.8v4.4h-3.8zM369.7 244.8h6.2v4.4h-6.2zM63.8 249h3.8v4.4h-3.8zM80.6 249h6.2v4.4h-6.2zM261.3 249h6.2v4.4h-6.2zM333.6 249h6.2v4.4h-6.2zM369.7 249h6.2v4.4h-6.2zM62.5 253.2h6.2v4.4h-6.2zM110.7 253.2h6.2v4.4h-6.2zM116.8 253.2h6.2v4.4h-6.2zM122.8 253.2h6.2v4.4h-6.2zM273.4 253.2h6.2v4.4h-6.2zM363.7 253.2h6.2v4.4h-6.2zM62.5 257.4h6.2v4.4h-6.2zM273.4 257.4h6.2v4.4h-6.2zM569.7 257.4h3.8v4.4h-3.8zM110.7 261.6h6.2v4.4h-6.2zM140.8 261.6h6.2v4.4h-6.2zM195.1 261.6h6.2v4.4h-6.2zM201.1 261.6h6.2v4.4h-6.2zM213.1 261.6h6.2v4.4h-6.2zM363.7 261.6h6.2v4.4h-6.2zM369.7 261.6h6.2v4.4h-6.2zM569.7 261.6h3.8v4.4h-3.8zM50.5 265.8h6.2v4.4h-6.2zM86.6 265.8h6.2v4.4h-6.2zM110.7 265.8h6.2v4.4h-6.2zM140.8 265.8h6.2v4.4h-6.2zM195.1 265.8h6.2v4.4h-6.2zM201.1 265.8h6.2v4.4h-6.2zM207.1 265.8h6.2v4.4h-6.2zM219.2 265.8h6.2v4.4h-6.2zM231.2 265.8h6.2v4.4h-6.2zM309.5 265.8h6.2v4.4h-6.2zM321.6 265.8h6.2v4.4h-6.2zM357.7 265.8h6.2v4.4h-6.2zM363.7 265.8h6.2v4.4h-6.2zM369.7 265.8h6.2v4.4h-6.2zM485.4 265.8h3.8v4.4h-3.8zM520.3 265.8h6.2v4.4h-6.2zM526.3 265.8h6.2v4.4h-6.2zM538.4 265.8h6.2v4.4h-6.2zM550.4 265.8h6.2v4.4h-6.2zM556.5 265.8h6.2v4.4h-6.2zM92.7 270.1h6.2v4.4h-6.2zM140.8 270.1h6.2v4.4h-6.2zM201.1 270.1h6.2v4.4h-6.2zM213.1 270.1h6.2v4.4h-6.2zM225.2 270.1h6.2v4.4h-6.2zM339.6 270.1h6.2v4.4h-6.2zM345.6 270.1h6.2v4.4h-6.2zM369.7 270.1h6.2v4.4h-6.2zM411.9 270.1h6.2v4.4h-6.2zM417.9 270.1h6.2v4.4h-6.2zM460.1 270.1h6.2v4.4h-6.2zM478.2 270.1h6.2v4.4h-6.2zM484.2 270.1h6.2v4.4h-6.2zM532.4 270.1h6.2v4.4h-6.2zM538.4 270.1h6.2v4.4h-6.2zM544.4 270.1h6.2v4.4h-6.2zM562.5 270.1h6.2v4.4h-6.2zM574.5 270.1h6.2v4.4h-6.2zM586.6 270.1h6.2v4.4h-6.2zM98.7 274.3h6.2v4.4h-6.2zM249.3 274.3h6.2v4.4h-6.2zM369.7 274.3h6.2v4.4h-6.2zM387.8 274.3h6.2v4.4h-6.2zM405.9 274.3h6.2v4.4h-6.2zM411.9 274.3h6.2v4.4h-6.2zM417.9 274.3h6.2v4.4h-6.2zM550.4 274.3h6.2v4.4h-6.2zM74.6 278.5h6.2v4.4h-6.2zM80.6 278.5h6.2v4.4h-6.2zM86.6 278.5h6.2v4.4h-6.2zM98.7 278.5h6.2v4.4h-6.2zM152.9 278.5h6.2v4.4h-6.2zM417.9 278.5h6.2v4.4h-6.2zM436 278.5h6.2v4.4h-6.2zM460.1 278.5h6.2v4.4h-6.2zM550.4 278.5h6.2v4.4h-6.2zM74.6 282.7h6.2v4.4h-6.2zM80.6 282.7h6.2v4.4h-6.2zM86.6 282.7h6.2v4.4h-6.2zM369.7 282.7h6.2v4.4h-6.2zM417.9 282.7h6.2v4.4h-6.2zM436 282.7h6.2v4.4h-6.2zM460.1 282.7h6.2v4.4h-6.2zM538.4 282.7h6.2v4.4h-6.2zM80.6 286.9h6.2v4.4h-6.2zM86.6 286.9h6.2v4.4h-6.2zM104.7 286.9h6.2v4.4h-6.2zM110.7 286.9h6.2v4.4h-6.2zM122.8 286.9h6.2v4.4h-6.2zM134.8 286.9h6.2v4.4h-6.2zM417.9 286.9h6.2v4.4h-6.2zM98.7 291.1h6.2v4.4h-6.2zM158.9 291.1h6.2v4.4h-6.2zM423.9 291.1h6.2v4.4h-6.2zM436 291.1h6.2v4.4h-6.2zM550.4 295.3h6.2v4.4h-6.2zM68.6 299.5h6.2v4.4h-6.2zM98.7 299.5h6.2v4.4h-6.2zM104.7 299.5h6.2v4.4h-6.2zM261.3 299.5h6.2v4.4h-6.2zM69.8 303.8h3.8v4.4h-3.8zM118 308h3.8v4.4h-3.8zM279.4 312.2h6.2v4.4h-6.2zM291.4 312.2h6.2v4.4h-6.2zM303.5 312.2h6.2v4.4h-6.2zM345.6 312.2h6.2v4.4h-6.2zM568.5 312.2h6.2v4.4h-6.2zM303.5 316.4h6.2v4.4h-6.2zM574.5 316.4h6.2v4.4h-6.2z"/>
<path fill="#ff3800" d="M214.3 198.5h3.8v4.4h-3.8zM195.1 206.9h6.2v4.4h-6.2zM207.1 206.9h6.2v4.4h-6.2zM213.1 206.9h6.2v4.4h-6.2zM189 211.1h6.2v4.4h-6.2zM195.1 211.1h6.2v4.4h-6.2zM201.1 211.1h6.2v4.4h-6.2zM189 215.3h6.2v4.4h-6.2zM202.3 215.3h3.8v4.4h-3.8zM219.2 215.3h6.2v4.4h-6.2zM225.2 215.3h6.2v4.4h-6.2zM195.1 219.5h6.2v4.4h-6.2zM201.1 219.5h6.2v4.4h-6.2zM226.4 219.5h3.8v4.4h-3.8zM201.1 227.9h6.2v4.4h-6.2zM189 232.2h6.2v4.4h-6.2zM195.1 232.2h6.2v4.4h-6.2zM219.2 232.2h6.2v4.4h-6.2zM225.2 232.2h6.2v4.4h-6.2zM351.7 232.2h6.2v4.4h-6.2zM158.9 236.4h6.2v4.4h-6.2zM171 236.4h6.2v4.4h-6.2zM183 236.4h6.2v4.4h-6.2zM189 236.4h6.2v4.4h-6.2zM195.1 236.4h6.2v4.4h-6.2zM201.1 236.4h6.2v4.4h-6.2zM207.1 236.4h6.2v4.4h-6.2zM213.1 236.4h6.2v4.4h-6.2zM339.6 236.4h6.2v4.4h-6.2zM345.6 236.4h6.2v4.4h-6.2zM393.8 236.4h6.2v4.4h-6.2zM399.9 236.4h6.2v4.4h-6.2zM158.9 240.6h6.2v4.4h-6.2zM164.9 240.6h6.2v4.4h-6.2zM177 240.6h6.2v4.4h-6.2zM183 240.6h6.2v4.4h-6.2zM189 240.6h6.2v4.4h-6.2zM195.1 240.6h6.2v4.4h-6.2zM201.1 240.6h6.2v4.4h-6.2zM207.1 240.6h6.2v4.4h-6.2zM219.2 240.6h6.2v4.4h-6.2zM225.2 240.6h6.2v4.4h-6.2zM297.5 240.6h6.2v4.4h-6.2zM315.5 240.6h6.2v4.4h-6.2zM321.6 240.6h6.2v4.4h-6.2zM339.6 240.6h6.2v4.4h-6.2zM345.6 240.6h6.2v4.4h-6.2zM387.8 240.6h6.2v4.4h-6.2zM393.8 240.6h6.2v4.4h-6.2zM158.9 244.8h6.2v4.4h-6.2zM177 244.8h6.2v4.4h-6.2zM183 244.8h6.2v4.4h-6.2zM189 244.8h6.2v4.4h-6.2zM195.1 244.8h6.2v4.4h-6.2zM207.1 244.8h6.2v4.4h-6.2zM213.1 244.8h6.2v4.4h-6.2zM219.2 244.8h6.2v4.4h-6.2zM225.2 244.8h6.2v4.4h-6.2zM237.2 244.8h6.2v4.4h-6.2zM297.5 244.8h6.2v4.4h-6.2zM303.5 244.8h6.2v4.4h-6.2zM315.5 244.8h6.2v4.4h-6.2zM321.6 244.8h6.2v4.4h-6.2zM339.6 244.8h6.2v4.4h-6.2zM345.6 244.8h6.2v4.4h-6.2zM387.8 244.8h6.2v4.4h-6.2zM158.9 249h6.2v4.4h-6.2zM183 249h6.2v4.4h-6.2zM189 249h6.2v4.4h-6.2zM202.3 249h3.8v4.4h-3.8zM219.2 249h6.2v4.4h-6.2zM225.2 249h6.2v4.4h-6.2zM231.2 249h6.2v4.4h-6.2zM237.2 249h6.2v4.4h-6.2zM243.2 249h6.2v4.4h-6.2zM279.4 249h6.2v4.4h-6.2zM285.4 249h6.2v4.4h-6.2zM315.5 249h6.2v4.4h-6.2zM321.6 249h6.2v4.4h-6.2zM183 253.2h6.2v4.4h-6.2zM189 253.2h6.2v4.4h-6.2zM195.1 253.2h6.2v4.4h-6.2zM207.1 253.2h6.2v4.4h-6.2zM219.2 253.2h6.2v4.4h-6.2zM225.2 253.2h6.2v4.4h-6.2zM231.2 253.2h6.2v4.4h-6.2zM237.2 253.2h6.2v4.4h-6.2zM243.2 253.2h6.2v4.4h-6.2zM279.4 253.2h6.2v4.4h-6.2zM285.4 253.2h6.2v4.4h-6.2zM291.4 253.2h6.2v4.4h-6.2zM315.5 253.2h6.2v4.4h-6.2zM345.6 253.2h6.2v4.4h-6.2zM177 257.4h6.2v4.4h-6.2zM189 257.4h6.2v4.4h-6.2zM207.1 257.4h6.2v4.4h-6.2zM219.2 257.4h6.2v4.4h-6.2zM225.2 257.4h6.2v4.4h-6.2zM231.2 257.4h6.2v4.4h-6.2zM243.2 257.4h6.2v4.4h-6.2zM279.4 257.4h6.2v4.4h-6.2zM285.4 257.4h6.2v4.4h-6.2zM430 257.4h6.2v4.4h-6.2zM448 257.4h6.2v4.4h-6.2zM514.3 257.4h6.2v4.4h-6.2zM580.6 257.4h6.2v4.4h-6.2zM183 261.6h6.2v4.4h-6.2zM225.2 261.6h6.2v4.4h-6.2zM237.2 261.6h6.2v4.4h-6.2zM249.3 261.6h6.2v4.4h-6.2zM183 265.8h6.2v4.4h-6.2zM225.2 265.8h6.2v4.4h-6.2zM237.2 265.8h6.2v4.4h-6.2zM243.2 265.8h6.2v4.4h-6.2zM249.3 265.8h6.2v4.4h-6.2zM279.4 265.8h6.2v4.4h-6.2zM171 270.1h6.2v4.4h-6.2zM231.2 270.1h6.2v4.4h-6.2zM237.2 270.1h6.2v4.4h-6.2zM177 274.3h6.2v4.4h-6.2zM333.6 274.3h6.2v4.4h-6.2zM177 278.5h6.2v4.4h-6.2zM195.1 278.5h6.2v4.4h-6.2zM201.1 278.5h6.2v4.4h-6.2zM189 282.7h6.2v4.4h-6.2zM201.1 282.7h6.2v4.4h-6.2zM207.1 282.7h6.2v4.4h-6.2zM183 286.9h6.2v4.4h-6.2zM189 286.9h6.2v4.4h-6.2zM195.1 286.9h6.2v4.4h-6.2zM201.1 286.9h6.2v4.4h-6.2zM183 291.1h6.2v4.4h-6.2zM189 291.1h6.2v4.4h-6.2zM195.1 291.1h6.2v4.4h-6.2zM237.2 291.1h6.2v4.4h-6.2zM255.3 291.1h6.2v4.4h-6.2zM273.4 291.1h6.2v4.4h-6.2z"/>
<path fill="#1010f0" d="M213.1 202.7h6.2v4.4h-6.2zM586.6 257.4h6.2v4.4h-6.2zM189 261.6h6.2v4.4h-6.2z"/>
<path fill="#ffa000" d="M274.6 202.7h3.8v4.4h-3.8zM220.4 211.1h3.8v4.4h-3.8zM213.1 215.3h6.2v4.4h-6.2zM213.1 227.9h6.2v4.4h-6.2zM219.2 227.9h6.2v4.4h-6.2zM225.2 227.9h6.2v4.4h-6.2zM231.2 227.9h6.2v4.4h-6.2zM183 232.2h6.2v4.4h-6.2zM201.1 232.2h6.2v4.4h-6.2zM357.7 232.2h6.2v4.4h-6.2zM407.1 232.2h3.8v4.4h-3.8zM219.2 236.4h6.2v4.4h-6.2zM244.5 236.4h3.8v4.4h-3.8zM351.7 236.4h6.2v4.4h-6.2zM357.7 236.4h6.2v4.4h-6.2zM152.9 240.6h6.2v4.4h-6.2zM303.5 240.6h6.2v4.4h-6.2zM399.9 240.6h6.2v4.4h-6.2zM405.9 240.6h6.2v4.4h-6.2zM411.9 240.6h6.2v4.4h-6.2zM152.9 244.8h6.2v4.4h-6.2zM164.9 244.8h6.2v4.4h-6.2zM171 244.8h6.2v4.4h-6.2zM243.2 244.8h6.2v4.4h-6.2zM291.4 244.8h6.2v4.4h-6.2zM357.7 244.8h6.2v4.4h-6.2zM393.8 244.8h6.2v4.4h-6.2zM399.9 244.8h6.2v4.4h-6.2zM405.9 244.8h6.2v4.4h-6.2zM134.8 249h6.2v4.4h-6.2zM164.9 249h6.2v4.4h-6.2zM171 249h6.2v4.4h-6.2zM213.1 249h6.2v4.4h-6.2zM297.5 249h6.2v4.4h-6.2zM303.5 249h6.2v4.4h-6.2zM339.6 249h6.2v4.4h-6.2zM345.6 249h6.2v4.4h-6.2zM387.8 249h6.2v4.4h-6.2zM399.9 249h6.2v4.4h-6.2zM436 249h6.2v4.4h-6.2zM134.8 253.2h6.2v4.4h-6.2zM158.9 253.2h6.2v4.4h-6.2zM171 253.2h6.2v4.4h-6.2zM297.5 253.2h6.2v4.4h-6.2zM303.5 253.2h6.2v4.4h-6.2zM309.5 253.2h6.2v4.4h-6.2zM321.6 253.2h6.2v4.4h-6.2zM339.6 253.2h6.2v4.4h-6.2zM387.8 253.2h6.2v4.4h-6.2zM164.9 257.4h6.2v4.4h-6.2zM183 257.4h6.2v4.4h-6.2zM249.3 257.4h6.2v4.4h-6.2zM267.3 257.4h6.2v4.4h-6.2zM297.5 257.4h6.2v4.4h-6.2zM309.5 257.4h6.2v4.4h-6.2zM315.5 257.4h6.2v4.4h-6.2zM321.6 257.4h6.2v4.4h-6.2zM333.6 257.4h6.2v4.4h-6.2zM339.6 257.4h6.2v4.4h-6.2zM345.6 257.4h6.2v4.4h-6.2zM363.7 257.4h6.2v4.4h-6.2zM387.8 257.4h6.2v4.4h-6.2zM177 261.6h6.2v4.4h-6.2zM231.2 261.6h6.2v4.4h-6.2zM279.4 261.6h6.2v4.4h-6.2zM285.4 261.6h6.2v4.4h-6.2zM297.5 261.6h6.2v4.4h-6.2zM333.6 261.6h6.2v4.4h-6.2zM339.6 261.6h6.2v4.4h-6.2zM345.6 261.6h6.2v4.4h-6.2zM387.8 261.6h6.2v4.4h-6.2zM56.5 265.8h6.2v4.4h-6.2zM158.9 265.8h6.2v4.4h-6.2zM164.9 265.8h6.2v4.4h-6.2zM177 265.8h6.2v4.4h-6.2zM285.4 265.8h6.2v4.4h-6.2zM291.4 265.8h6.2v4.4h-6.2zM315.5 265.8h6.2v4.4h-6.2zM333.6 265.8h6.2v4.4h-6.2zM345.6 265.8h6.2v4.4h-6.2zM393.8 265.8h6.2v4.4h-6.2zM448 265.8h6.2v4.4h-6.2zM467.3 265.8h3.8v4.4h-3.8zM496.2 265.8h6.2v4.4h-6.2zM502.2 265.8h6.2v4.4h-6.2zM50.5 270.1h6.2v4.4h-6.2zM56.5 270.1h6.2v4.4h-6.2zM158.9 270.1h6.2v4.4h-6.2zM164.9 270.1h6.2v4.4h-6.2zM177 270.1h6.2v4.4h-6.2zM183 270.1h6.2v4.4h-6.2zM267.3 270.1h6.2v4.4h-6.2zM279.4 270.1h6.2v4.4h-6.2zM333.6 270.1h6.2v4.4h-6.2zM496.2 270.1h6.2v4.4h-6.2zM502.2 270.1h6.2v4.4h-6.2zM514.3 270.1h6.2v4.4h-6.2zM520.3 270.1h6.2v4.4h-6.2zM580.6 270.1h6.2v4.4h-6.2zM56.5 274.3h6.2v4.4h-6.2zM164.9 274.3h6.2v4.4h-6.2zM171 274.3h6.2v4.4h-6.2zM183 274.3h6.2v4.4h-6.2zM238.4 274.3h3.8v4.4h-3.8zM267.3 274.3h6.2v4.4h-6.2zM279.4 274.3h6.2v4.4h-6.2zM339.6 274.3h6.2v4.4h-6.2zM345.6 274.3h6.2v4.4h-6.2zM466.1 274.3h6.2v4.4h-6.2zM484.2 274.3h6.2v4.4h-6.2zM490.2 274.3h6.2v4.4h-6.2zM502.2 274.3h6.2v4.4h-6.2zM514.3 274.3h6.2v4.4h-6.2zM544.4 274.3h6.2v4.4h-6.2zM574.5 274.3h6.2v4.4h-6.2zM586.6 274.3h6.2v4.4h-6.2zM56.5 278.5h6.2v4.4h-6.2zM62.5 278.5h6.2v4.4h-6.2zM164.9 278.5h6.2v4.4h-6.2zM183 278.5h6.2v4.4h-6.2zM297.5 278.5h6.2v4.4h-6.2zM333.6 278.5h6.2v4.4h-6.2zM339.6 278.5h6.2v4.4h-6.2zM345.6 278.5h6.2v4.4h-6.2zM484.2 278.5h6.2v4.4h-6.2zM490.2 278.5h6.2v4.4h-6.2zM502.2 278.5h6.2v4.4h-6.2zM508.3 278.5h6.2v4.4h-6.2zM520.3 278.5h6.2v4.4h-6.2zM574.5 278.5h6.2v4.4h-6.2zM580.6 278.5h6.2v4.4h-6.2zM164.9 282.7h6.2v4.4h-6.2zM171 282.7h6.2v4.4h-6.2zM177 282.7h6.2v4.4h-6.2zM183 282.7h6.2v4.4h-6.2zM195.1 282.7h6.2v4.4h-6.2zM250.5 282.7h3.8v4.4h-3.8zM279.4 282.7h6.2v4.4h-6.2zM333.6 282.7h6.2v4.4h-6.2zM339.6 282.7h6.2v4.4h-6.2zM345.6 282.7h6.2v4.4h-6.2zM381.8 282.7h6.2v4.4h-6.2zM448 282.7h6.2v4.4h-6.2zM466.1 282.7h6.2v4.4h-6.2zM496.2 282.7h6.2v4.4h-6.2zM508.3 282.7h6.2v4.4h-6.2zM514.3 282.7h6.2v4.4h-6.2zM580.6 282.7h6.2v4.4h-6.2zM586.6 282.7h6.2v4.4h-6.2zM177 286.9h6.2v4.4h-6.2zM279.4 286.9h6.2v4.4h-6.2zM460.1 286.9h6.2v4.4h-6.2zM514.3 286.9h6.2v4.4h-6.2zM580.6 286.9h6.2v4.4h-6.2zM56.5 291.1h6.2v4.4h-6.2zM62.5 291.1h6.2v4.4h-6.2zM249.3 291.1h6.2v4.4h-6.2zM279.4 291.1h6.2v4.4h-6.2zM460.1 291.1h6.2v4.4h-6.2zM496.2 291.1h6.2v4.4h-6.2zM580.6 291.1h6.2v4.4h-6.2zM57.7 295.3h3.8v4.4h-3.8zM273.4 295.3h6.2v4.4h-6.2zM279.4 295.3h6.2v4.4h-6.2zM466.1 295.3h6.2v4.4h-6.2zM478.2 295.3h6.2v4.4h-6.2zM484.2 295.3h6.2v4.4h-6.2zM502.2 295.3h6.2v4.4h-6.2zM56.5 299.5h6.2v4.4h-6.2zM484.2 299.5h6.2v4.4h-6.2zM274.6 303.8h3.8v4.4h-3.8zM550.4 303.8h6.2v4.4h-6.2z"/>
<path fill="#e8ff10" d="M395 219.5h3.8v4.4h-3.8zM189 223.7h6.2v4.4h-6.2zM346.8 227.9h3.8v4.4h-3.8zM231.2 232.2h6.2v4.4h-6.2zM164.9 236.4h6.2v4.4h-6.2zM298.7 236.4h3.8v4.4h-3.8zM316.7 236.4h3.8v4.4h-3.8zM146.9 240.6h6.2v4.4h-6.2zM171 240.6h6.2v4.4h-6.2zM581.8 240.6h3.8v4.4h-3.8zM146.9 244.8h6.2v4.4h-6.2zM327.6 244.8h6.2v4.4h-6.2zM538.4 244.8h6.2v4.4h-6.2zM122.8 249h6.2v4.4h-6.2zM140.8 249h6.2v4.4h-6.2zM146.9 249h6.2v4.4h-6.2zM177 249h6.2v4.4h-6.2zM327.6 249h6.2v4.4h-6.2zM375.8 249h6.2v4.4h-6.2zM423.9 249h6.2v4.4h-6.2zM140.8 253.2h6.2v4.4h-6.2zM146.9 253.2h6.2v4.4h-6.2zM177 253.2h6.2v4.4h-6.2zM249.3 253.2h6.2v4.4h-6.2zM327.6 253.2h6.2v4.4h-6.2zM375.8 253.2h6.2v4.4h-6.2zM381.8 253.2h6.2v4.4h-6.2zM417.9 253.2h6.2v4.4h-6.2zM423.9 253.2h6.2v4.4h-6.2zM442 253.2h6.2v4.4h-6.2zM68.6 257.4h6.2v4.4h-6.2zM92.7 257.4h6.2v4.4h-6.2zM116.8 257.4h6.2v4.4h-6.2zM140.8 257.4h6.2v4.4h-6.2zM152.9 257.4h6.2v4.4h-6.2zM171 257.4h6.2v4.4h-6.2zM261.3 257.4h6.2v4.4h-6.2zM357.7 257.4h6.2v4.4h-6.2zM375.8 257.4h6.2v4.4h-6.2zM405.9 257.4h6.2v4.4h-6.2zM417.9 257.4h6.2v4.4h-6.2zM423.9 257.4h6.2v4.4h-6.2zM442 257.4h6.2v4.4h-6.2zM544.4 257.4h6.2v4.4h-6.2zM134.8 261.6h6.2v4.4h-6.2zM152.9 261.6h6.2v4.4h-6.2zM164.9 261.6h6.2v4.4h-6.2zM219.2 261.6h6.2v4.4h-6.2zM321.6 261.6h6.2v4.4h-6.2zM327.6 261.6h6.2v4.4h-6.2zM375.8 261.6h6.2v4.4h-6.2zM399.9 261.6h6.2v4.4h-6.2zM405.9 261.6h6.2v4.4h-6.2zM417.9 261.6h6.2v4.4h-6.2zM423.9 261.6h6.2v4.4h-6.2zM430 261.6h6.2v4.4h-6.2zM436 261.6h6.2v4.4h-6.2zM448 261.6h6.2v4.4h-6.2zM62.5 265.8h6.2v4.4h-6.2zM68.6 265.8h6.2v4.4h-6.2zM74.6 265.8h6.2v4.4h-6.2zM92.7 265.8h6.2v4.4h-6.2zM134.8 265.8h6.2v4.4h-6.2zM152.9 265.8h6.2v4.4h-6.2zM171 265.8h6.2v4.4h-6.2zM327.6 265.8h6.2v4.4h-6.2zM375.8 265.8h6.2v4.4h-6.2zM405.9 265.8h6.2v4.4h-6.2zM411.9 265.8h6.2v4.4h-6.2zM417.9 265.8h6.2v4.4h-6.2zM423.9 265.8h6.2v4.4h-6.2zM430 265.8h6.2v4.4h-6.2zM436 265.8h6.2v4.4h-6.2zM68.6 270.1h6.2v4.4h-6.2zM110.7 270.1h6.2v4.4h-6.2zM152.9 270.1h6.2v4.4h-6.2zM219.2 270.1h6.2v4.4h-6.2zM249.3 270.1h6.2v4.4h-6.2zM321.6 270.1h6.2v4.4h-6.2zM327.6 270.1h6.2v4.4h-6.2zM375.8 270.1h6.2v4.4h-6.2zM405.9 270.1h6.2v4.4h-6.2zM423.9 270.1h6.2v4.4h-6.2zM430 270.1h6.2v4.4h-6.2zM436 270.1h6.2v4.4h-6.2zM442 270.1h6.2v4.4h-6.2zM466.1 270.1h6.2v4.4h-6.2zM526.3 270.1h6.2v4.4h-6.2zM68.6 274.3h6.2v4.4h-6.2zM140.8 274.3h6.2v4.4h-6.2zM152.9 274.3h6.2v4.4h-6.2zM309.5 274.3h6.2v4.4h-6.2zM321.6 274.3h6.2v4.4h-6.2zM327.6 274.3h6.2v4.4h-6.2zM381.8 274.3h6.2v4.4h-6.2zM423.9 274.3h6.2v4.4h-6.2zM430 274.3h6.2v4.4h-6.2zM436 274.3h6.2v4.4h-6.2zM442 274.3h6.2v4.4h-6.2zM454.1 274.3h6.2v4.4h-6.2zM520.3 274.3h6.2v4.4h-6.2zM556.5 274.3h6.2v4.4h-6.2zM68.6 278.5h6.2v4.4h-6.2zM122.8 278.5h6.2v4.4h-6.2zM134.8 278.5h6.2v4.4h-6.2zM140.8 278.5h6.2v4.4h-6.2zM261.3 278.5h6.2v4.4h-6.2zM285.4 278.5h6.2v4.4h-6.2zM321.6 278.5h6.2v4.4h-6.2zM357.7 278.5h6.2v4.4h-6.2zM375.8 278.5h6.2v4.4h-6.2zM393.8 278.5h6.2v4.4h-6.2zM399.9 278.5h6.2v4.4h-6.2zM405.9 278.5h6.2v4.4h-6.2zM411.9 278.5h6.2v4.4h-6.2zM423.9 278.5h6.2v4.4h-6.2zM430 278.5h6.2v4.4h-6.2zM442 278.5h6.2v4.4h-6.2zM454.1 278.5h6.2v4.4h-6.2zM472.1 278.5h6.2v4.4h-6.2zM68.6 282.7h6.2v4.4h-6.2zM140.8 282.7h6.2v4.4h-6.2zM152.9 282.7h6.2v4.4h-6.2zM297.5 282.7h6.2v4.4h-6.2zM357.7 282.7h6.2v4.4h-6.2zM363.7 282.7h6.2v4.4h-6.2zM375.8 282.7h6.2v4.4h-6.2zM393.8 282.7h6.2v4.4h-6.2zM405.9 282.7h6.2v4.4h-6.2zM411.9 282.7h6.2v4.4h-6.2zM423.9 282.7h6.2v4.4h-6.2zM430 282.7h6.2v4.4h-6.2zM442 282.7h6.2v4.4h-6.2zM454.1 282.7h6.2v4.4h-6.2zM478.2 282.7h6.2v4.4h-6.2zM532.4 282.7h6.2v4.4h-6.2zM544.4 282.7h6.2v4.4h-6.2zM68.6 286.9h6.2v4.4h-6.2zM140.8 286.9h6.2v4.4h-6.2zM152.9 286.9h6.2v4.4h-6.2zM158.9 286.9h6.2v4.4h-6.2zM164.9 286.9h6.2v4.4h-6.2zM411.9 286.9h6.2v4.4h-6.2zM430 286.9h6.2v4.4h-6.2zM436 286.9h6.2v4.4h-6.2zM442 286.9h6.2v4.4h-6.2zM448 286.9h6.2v4.4h-6.2zM526.3 286.9h6.2v4.4h-6.2zM544.4 286.9h6.2v4.4h-6.2zM550.4 286.9h6.2v4.4h-6.2zM68.6 291.1h6.2v4.4h-6.2zM122.8 291.1h6.2v4.4h-6.2zM152.9 291.1h6.2v4.4h-6.2zM267.3 291.1h6.2v4.4h-6.2zM448 291.1h6.2v4.4h-6.2zM508.3 291.1h6.2v4.4h-6.2zM526.3 291.1h6.2v4.4h-6.2zM532.4 291.1h6.2v4.4h-6.2zM550.4 291.1h6.2v4.4h-6.2zM562.5 291.1h6.2v4.4h-6.2zM68.6 295.3h6.2v4.4h-6.2zM261.3 295.3h6.2v4.4h-6.2zM508.3 295.3h6.2v4.4h-6.2zM520.3 295.3h6.2v4.4h-6.2zM526.3 295.3h6.2v4.4h-6.2zM532.4 295.3h6.2v4.4h-6.2zM556.5 295.3h6.2v4.4h-6.2zM562.5 295.3h6.2v4.4h-6.2zM580.6 295.3h6.2v4.4h-6.2zM62.5 299.5h6.2v4.4h-6.2zM130 299.5h3.8v4.4h-3.8zM285.4 299.5h6.2v4.4h-6.2zM303.5 299.5h6.2v4.4h-6.2zM502.2 299.5h6.2v4.4h-6.2zM508.3 299.5h6.2v4.4h-6.2zM514.3 299.5h6.2v4.4h-6.2zM526.3 299.5h6.2v4.4h-6.2zM532.4 299.5h6.2v4.4h-6.2zM550.4 299.5h6.2v4.4h-6.2zM562.5 299.5h6.2v4.4h-6.2zM568.5 299.5h6.2v4.4h-6.2zM250.5 303.8h3.8v4.4h-3.8zM496.2 303.8h6.2v4.4h-6.2zM532.4 303.8h6.2v4.4h-6.2zM556.5 303.8h6.2v4.4h-6.2zM496.2 308h6.2v4.4h-6.2zM502.2 308h6.2v4.4h-6.2zM574.5 308h6.2v4.4h-6.2zM574.5 312.2h6.2v4.4h-6.2zM580.6 312.2h6.2v4.4h-6.2zM586.6 316.4h6.2v4.4h-6.2z"/>
<path fill="#ff6400" d="M442 249h6.2v4.4h-6.2zM50.5 274.3h6.2v4.4h-6.2zM532.4 274.3h6.2v4.4h-6.2zM538.4 274.3h6.2v4.4h-6.2zM580.6 274.3h6.2v4.4h-6.2zM532.4 278.5h6.2v4.4h-6.2zM538.4 278.5h6.2v4.4h-6.2zM586.6 278.5h6.2v4.4h-6.2zM466.1 291.1h6.2v4.4h-6.2zM478.2 299.5h6.2v4.4h-6.2z"/>
<line x1="50.5" y1="459.4" x2="591.0" y2="459.4" stroke="#fff" stroke-opacity="0.5" stroke-width="1" stroke-dasharray="1.2,4.3"/>
<line x1="50.5" y1="428.1" x2="591.0" y2="428.1" stroke="#fff" stroke-opacity="0.5" stroke-width="1" stroke-dasharray="1.2,4.3"/>
<line x1="50.5" y1="396.9" x2="591.0" y2="396.9" stroke="#fff" stroke-opacity="0.5" stroke-width="1" stroke-dasharray="1.2,4.3"/>
<line x1="50.5" y1="365.6" x2="591.0" y2="365.6" stroke="#fff" stroke-opacity="0.5" stroke-width="1" stroke-dasharray="1.2,4.3"/>
<line x1="95.5" y1="334.4" x2="95.5" y2="467.4" stroke="#fff" stroke-opacity="0.45" stroke-width="1" stroke-dasharray="1.2,4.3"/>
<line x1="140.6" y1="334.4" x2="140.6" y2="467.4" stroke="#fff" stroke-opacity="0.45" stroke-width="1" stroke-dasharray="1.2,4.3"/>
<line x1="185.6" y1="334.4" x2="185.6" y2="467.4" stroke="#fff" stroke-opacity="0.45" stroke-width="1" stroke-dasharray="1.2,4.3"/>
<line x1="230.7" y1="334.4" x2="230.7" y2="467.4" stroke="#fff" stroke-opacity="0.45" stroke-width="1" stroke-dasharray="1.2,4.3"/>
<line x1="275.7" y1="334.4" x2="275.7" y2="467.4" stroke="#fff" stroke-opacity="0.45" stroke-width="1" stroke-dasharray="1.2,4.3"/>
<line x1="320.8" y1="334.4" x2="320.8" y2="467.4" stroke="#fff" stroke-opacity="0.45" stroke-width="1" stroke-dasharray="1.2,4.3"/>
<line x1="365.8" y1="334.4" x2="365.8" y2="467.4" stroke="#fff" stroke-opacity="0.45" stroke-width="1" stroke-dasharray="1.2,4.3"/>
<line x1="410.8" y1="334.4" x2="410.8" y2="467.4" stroke="#fff" stroke-opacity="0.45" stroke-width="1" stroke-dasharray="1.2,4.3"/>
<line x1="455.9" y1="334.4" x2="455.9" y2="467.4" stroke="#fff" stroke-opacity="0.45" stroke-width="1" stroke-dasharray="1.2,4.3"/>
<line x1="500.9" y1="334.4" x2="500.9" y2="467.4" stroke="#fff" stroke-opacity="0.45" stroke-width="1" stroke-dasharray="1.2,4.3"/>
<line x1="546.0" y1="334.4" x2="546.0" y2="467.4" stroke="#fff" stroke-opacity="0.45" stroke-width="1" stroke-dasharray="1.2,4.3"/>
<rect x="350.3" y="334.4" width="1.6" height="133.0" fill="#000"/>
<rect x="50.5" y="466.4" width="540.5" height="1.0" fill="#f4f4f4"/>
<rect x="50.5" y="467.4" width="540.5" height="1.1" fill="#b4b4b4"/>
<path d="M50.0 468.0V333.9H591.0V468.0" fill="none" stroke="#222" stroke-width="1"/>
<line x1="50.5" y1="459.4" x2="55.5" y2="459.4" stroke="#111" stroke-width="1"/>
<line x1="591.0" y1="459.4" x2="586.0" y2="459.4" stroke="#111" stroke-width="1"/>
<line x1="50.5" y1="453.1" x2="53.5" y2="453.1" stroke="#111" stroke-width="1"/>
<line x1="591.0" y1="453.1" x2="588.0" y2="453.1" stroke="#111" stroke-width="1"/>
<line x1="50.5" y1="446.9" x2="53.5" y2="446.9" stroke="#111" stroke-width="1"/>
<line x1="591.0" y1="446.9" x2="588.0" y2="446.9" stroke="#111" stroke-width="1"/>
<line x1="50.5" y1="440.6" x2="53.5" y2="440.6" stroke="#111" stroke-width="1"/>
<line x1="591.0" y1="440.6" x2="588.0" y2="440.6" stroke="#111" stroke-width="1"/>
<line x1="50.5" y1="434.4" x2="53.5" y2="434.4" stroke="#111" stroke-width="1"/>
<line x1="591.0" y1="434.4" x2="588.0" y2="434.4" stroke="#111" stroke-width="1"/>
<line x1="50.5" y1="428.1" x2="55.5" y2="428.1" stroke="#111" stroke-width="1"/>
<line x1="591.0" y1="428.1" x2="586.0" y2="428.1" stroke="#111" stroke-width="1"/>
<line x1="50.5" y1="421.9" x2="53.5" y2="421.9" stroke="#111" stroke-width="1"/>
<line x1="591.0" y1="421.9" x2="588.0" y2="421.9" stroke="#111" stroke-width="1"/>
<line x1="50.5" y1="415.6" x2="53.5" y2="415.6" stroke="#111" stroke-width="1"/>
<line x1="591.0" y1="415.6" x2="588.0" y2="415.6" stroke="#111" stroke-width="1"/>
<line x1="50.5" y1="409.4" x2="53.5" y2="409.4" stroke="#111" stroke-width="1"/>
<line x1="591.0" y1="409.4" x2="588.0" y2="409.4" stroke="#111" stroke-width="1"/>
<line x1="50.5" y1="403.1" x2="53.5" y2="403.1" stroke="#111" stroke-width="1"/>
<line x1="591.0" y1="403.1" x2="588.0" y2="403.1" stroke="#111" stroke-width="1"/>
<line x1="50.5" y1="396.9" x2="55.5" y2="396.9" stroke="#111" stroke-width="1"/>
<line x1="591.0" y1="396.9" x2="586.0" y2="396.9" stroke="#111" stroke-width="1"/>
<line x1="50.5" y1="390.6" x2="53.5" y2="390.6" stroke="#111" stroke-width="1"/>
<line x1="591.0" y1="390.6" x2="588.0" y2="390.6" stroke="#111" stroke-width="1"/>
<line x1="50.5" y1="384.4" x2="53.5" y2="384.4" stroke="#111" stroke-width="1"/>
<line x1="591.0" y1="384.4" x2="588.0" y2="384.4" stroke="#111" stroke-width="1"/>
<line x1="50.5" y1="378.1" x2="53.5" y2="378.1" stroke="#111" stroke-width="1"/>
<line x1="591.0" y1="378.1" x2="588.0" y2="378.1" stroke="#111" stroke-width="1"/>
<line x1="50.5" y1="371.9" x2="53.5" y2="371.9" stroke="#111" stroke-width="1"/>
<line x1="591.0" y1="371.9" x2="588.0" y2="371.9" stroke="#111" stroke-width="1"/>
<line x1="50.5" y1="365.6" x2="55.5" y2="365.6" stroke="#111" stroke-width="1"/>
<line x1="591.0" y1="365.6" x2="586.0" y2="365.6" stroke="#111" stroke-width="1"/>
<line x1="50.5" y1="359.4" x2="53.5" y2="359.4" stroke="#111" stroke-width="1"/>
<line x1="591.0" y1="359.4" x2="588.0" y2="359.4" stroke="#111" stroke-width="1"/>
<line x1="50.5" y1="353.1" x2="53.5" y2="353.1" stroke="#111" stroke-width="1"/>
<line x1="591.0" y1="353.1" x2="588.0" y2="353.1" stroke="#111" stroke-width="1"/>
<line x1="50.5" y1="346.9" x2="53.5" y2="346.9" stroke="#111" stroke-width="1"/>
<line x1="591.0" y1="346.9" x2="588.0" y2="346.9" stroke="#111" stroke-width="1"/>
<line x1="50.5" y1="340.6" x2="53.5" y2="340.6" stroke="#111" stroke-width="1"/>
<line x1="591.0" y1="340.6" x2="588.0" y2="340.6" stroke="#111" stroke-width="1"/>
<line x1="50.5" y1="334.4" x2="55.5" y2="334.4" stroke="#111" stroke-width="1"/>
<line x1="591.0" y1="334.4" x2="586.0" y2="334.4" stroke="#111" stroke-width="1"/>
<line x1="50.5" y1="468.5" x2="50.5" y2="465.9" stroke="#333" stroke-width="1"/>
<line x1="50.5" y1="334.4" x2="50.5" y2="337.9" stroke="#222" stroke-width="0.9"/>
<line x1="65.5" y1="468.5" x2="65.5" y2="465.9" stroke="#333" stroke-width="1"/>
<line x1="65.5" y1="334.4" x2="65.5" y2="336.4" stroke="#222" stroke-width="0.9"/>
<line x1="80.5" y1="468.5" x2="80.5" y2="465.9" stroke="#333" stroke-width="1"/>
<line x1="80.5" y1="334.4" x2="80.5" y2="336.4" stroke="#222" stroke-width="0.9"/>
<line x1="95.5" y1="468.5" x2="95.5" y2="465.9" stroke="#333" stroke-width="1"/>
<line x1="95.5" y1="334.4" x2="95.5" y2="337.9" stroke="#222" stroke-width="0.9"/>
<line x1="110.6" y1="468.5" x2="110.6" y2="465.9" stroke="#333" stroke-width="1"/>
<line x1="110.6" y1="334.4" x2="110.6" y2="336.4" stroke="#222" stroke-width="0.9"/>
<line x1="125.6" y1="468.5" x2="125.6" y2="465.9" stroke="#333" stroke-width="1"/>
<line x1="125.6" y1="334.4" x2="125.6" y2="336.4" stroke="#222" stroke-width="0.9"/>
<line x1="140.6" y1="468.5" x2="140.6" y2="465.9" stroke="#333" stroke-width="1"/>
<line x1="140.6" y1="334.4" x2="140.6" y2="337.9" stroke="#222" stroke-width="0.9"/>
<line x1="155.6" y1="468.5" x2="155.6" y2="465.9" stroke="#333" stroke-width="1"/>
<line x1="155.6" y1="334.4" x2="155.6" y2="336.4" stroke="#222" stroke-width="0.9"/>
<line x1="170.6" y1="468.5" x2="170.6" y2="465.9" stroke="#333" stroke-width="1"/>
<line x1="170.6" y1="334.4" x2="170.6" y2="336.4" stroke="#222" stroke-width="0.9"/>
<line x1="185.6" y1="468.5" x2="185.6" y2="465.9" stroke="#333" stroke-width="1"/>
<line x1="185.6" y1="334.4" x2="185.6" y2="337.9" stroke="#222" stroke-width="0.9"/>
<line x1="200.6" y1="468.5" x2="200.6" y2="465.9" stroke="#333" stroke-width="1"/>
<line x1="200.6" y1="334.4" x2="200.6" y2="336.4" stroke="#222" stroke-width="0.9"/>
<line x1="215.7" y1="468.5" x2="215.7" y2="465.9" stroke="#333" stroke-width="1"/>
<line x1="215.7" y1="334.4" x2="215.7" y2="336.4" stroke="#222" stroke-width="0.9"/>
<line x1="230.7" y1="468.5" x2="230.7" y2="465.9" stroke="#333" stroke-width="1"/>
<line x1="230.7" y1="334.4" x2="230.7" y2="337.9" stroke="#222" stroke-width="0.9"/>
<line x1="245.7" y1="468.5" x2="245.7" y2="465.9" stroke="#333" stroke-width="1"/>
<line x1="245.7" y1="334.4" x2="245.7" y2="336.4" stroke="#222" stroke-width="0.9"/>
<line x1="260.7" y1="468.5" x2="260.7" y2="465.9" stroke="#333" stroke-width="1"/>
<line x1="260.7" y1="334.4" x2="260.7" y2="336.4" stroke="#222" stroke-width="0.9"/>
<line x1="275.7" y1="468.5" x2="275.7" y2="465.9" stroke="#333" stroke-width="1"/>
<line x1="275.7" y1="334.4" x2="275.7" y2="337.9" stroke="#222" stroke-width="0.9"/>
<line x1="290.7" y1="468.5" x2="290.7" y2="465.9" stroke="#333" stroke-width="1"/>
<line x1="290.7" y1="334.4" x2="290.7" y2="336.4" stroke="#222" stroke-width="0.9"/>
<line x1="305.7" y1="468.5" x2="305.7" y2="465.9" stroke="#333" stroke-width="1"/>
<line x1="305.7" y1="334.4" x2="305.7" y2="336.4" stroke="#222" stroke-width="0.9"/>
<line x1="320.8" y1="468.5" x2="320.8" y2="465.9" stroke="#333" stroke-width="1"/>
<line x1="320.8" y1="334.4" x2="320.8" y2="337.9" stroke="#222" stroke-width="0.9"/>
<line x1="335.8" y1="468.5" x2="335.8" y2="465.9" stroke="#333" stroke-width="1"/>
<line x1="335.8" y1="334.4" x2="335.8" y2="336.4" stroke="#222" stroke-width="0.9"/>
<line x1="350.8" y1="468.5" x2="350.8" y2="465.9" stroke="#333" stroke-width="1"/>
<line x1="350.8" y1="334.4" x2="350.8" y2="336.4" stroke="#222" stroke-width="0.9"/>
<line x1="365.8" y1="468.5" x2="365.8" y2="465.9" stroke="#333" stroke-width="1"/>
<line x1="365.8" y1="334.4" x2="365.8" y2="337.9" stroke="#222" stroke-width="0.9"/>
<line x1="380.8" y1="468.5" x2="380.8" y2="465.9" stroke="#333" stroke-width="1"/>
<line x1="380.8" y1="334.4" x2="380.8" y2="336.4" stroke="#222" stroke-width="0.9"/>
<line x1="395.8" y1="468.5" x2="395.8" y2="465.9" stroke="#333" stroke-width="1"/>
<line x1="395.8" y1="334.4" x2="395.8" y2="336.4" stroke="#222" stroke-width="0.9"/>
<line x1="410.8" y1="468.5" x2="410.8" y2="465.9" stroke="#333" stroke-width="1"/>
<line x1="410.8" y1="334.4" x2="410.8" y2="337.9" stroke="#222" stroke-width="0.9"/>
<line x1="425.8" y1="468.5" x2="425.8" y2="465.9" stroke="#333" stroke-width="1"/>
<line x1="425.8" y1="334.4" x2="425.8" y2="336.4" stroke="#222" stroke-width="0.9"/>
<line x1="440.9" y1="468.5" x2="440.9" y2="465.9" stroke="#333" stroke-width="1"/>
<line x1="440.9" y1="334.4" x2="440.9" y2="336.4" stroke="#222" stroke-width="0.9"/>
<line x1="455.9" y1="468.5" x2="455.9" y2="465.9" stroke="#333" stroke-width="1"/>
<line x1="455.9" y1="334.4" x2="455.9" y2="337.9" stroke="#222" stroke-width="0.9"/>
<line x1="470.9" y1="468.5" x2="470.9" y2="465.9" stroke="#333" stroke-width="1"/>
<line x1="470.9" y1="334.4" x2="470.9" y2="336.4" stroke="#222" stroke-width="0.9"/>
<line x1="485.9" y1="468.5" x2="485.9" y2="465.9" stroke="#333" stroke-width="1"/>
<line x1="485.9" y1="334.4" x2="485.9" y2="336.4" stroke="#222" stroke-width="0.9"/>
<line x1="500.9" y1="468.5" x2="500.9" y2="465.9" stroke="#333" stroke-width="1"/>
<line x1="500.9" y1="334.4" x2="500.9" y2="337.9" stroke="#222" stroke-width="0.9"/>
<line x1="515.9" y1="468.5" x2="515.9" y2="465.9" stroke="#333" stroke-width="1"/>
<line x1="515.9" y1="334.4" x2="515.9" y2="336.4" stroke="#222" stroke-width="0.9"/>
<line x1="530.9" y1="468.5" x2="530.9" y2="465.9" stroke="#333" stroke-width="1"/>
<line x1="530.9" y1="334.4" x2="530.9" y2="336.4" stroke="#222" stroke-width="0.9"/>
<line x1="546.0" y1="468.5" x2="546.0" y2="465.9" stroke="#333" stroke-width="1"/>
<line x1="546.0" y1="334.4" x2="546.0" y2="337.9" stroke="#222" stroke-width="0.9"/>
<line x1="561.0" y1="468.5" x2="561.0" y2="465.9" stroke="#333" stroke-width="1"/>
<line x1="561.0" y1="334.4" x2="561.0" y2="336.4" stroke="#222" stroke-width="0.9"/>
<line x1="576.0" y1="468.5" x2="576.0" y2="465.9" stroke="#333" stroke-width="1"/>
<line x1="576.0" y1="334.4" x2="576.0" y2="336.4" stroke="#222" stroke-width="0.9"/>
<line x1="591.0" y1="468.5" x2="591.0" y2="465.9" stroke="#333" stroke-width="1"/>
<line x1="591.0" y1="334.4" x2="591.0" y2="337.9" stroke="#222" stroke-width="0.9"/>
<text x="41.30" y="464.00" font-size="13.0" fill="#2a2a2a" text-anchor="end">100</text>
<text x="41.30" y="432.75" font-size="13.0" fill="#2a2a2a" text-anchor="end">200</text>
<text x="41.30" y="401.50" font-size="13.0" fill="#2a2a2a" text-anchor="end">300</text>
<text x="41.30" y="370.25" font-size="13.0" fill="#2a2a2a" text-anchor="end">400</text>
<text x="41.30" y="339.00" font-size="13.0" fill="#2a2a2a" text-anchor="end">500</text>
<text transform="translate(11.70,408.40) rotate(-90) scale(0.88,1)" font-size="13.8" fill="#2a2a2a" text-anchor="middle">Altitude (km)</text>
<text transform="translate(4.60,334.90) rotate(0) scale(0.76,1)" font-size="16.4" fill="#1f3a22" text-anchor="start">(c)</text>
<line x1="50.5" y1="623.4" x2="591.0" y2="623.4" stroke="#fff" stroke-opacity="0.5" stroke-width="1" stroke-dasharray="1.2,4.3"/>
<line x1="50.5" y1="592.0" x2="591.0" y2="592.0" stroke="#fff" stroke-opacity="0.5" stroke-width="1" stroke-dasharray="1.2,4.3"/>
<line x1="50.5" y1="560.7" x2="591.0" y2="560.7" stroke="#fff" stroke-opacity="0.5" stroke-width="1" stroke-dasharray="1.2,4.3"/>
<line x1="50.5" y1="529.4" x2="591.0" y2="529.4" stroke="#fff" stroke-opacity="0.5" stroke-width="1" stroke-dasharray="1.2,4.3"/>
<line x1="95.5" y1="498.0" x2="95.5" y2="631.4" stroke="#fff" stroke-opacity="0.45" stroke-width="1" stroke-dasharray="1.2,4.3"/>
<line x1="140.6" y1="498.0" x2="140.6" y2="631.4" stroke="#fff" stroke-opacity="0.45" stroke-width="1" stroke-dasharray="1.2,4.3"/>
<line x1="185.6" y1="498.0" x2="185.6" y2="631.4" stroke="#fff" stroke-opacity="0.45" stroke-width="1" stroke-dasharray="1.2,4.3"/>
<line x1="230.7" y1="498.0" x2="230.7" y2="631.4" stroke="#fff" stroke-opacity="0.45" stroke-width="1" stroke-dasharray="1.2,4.3"/>
<line x1="275.7" y1="498.0" x2="275.7" y2="631.4" stroke="#fff" stroke-opacity="0.45" stroke-width="1" stroke-dasharray="1.2,4.3"/>
<line x1="320.8" y1="498.0" x2="320.8" y2="631.4" stroke="#fff" stroke-opacity="0.45" stroke-width="1" stroke-dasharray="1.2,4.3"/>
<line x1="365.8" y1="498.0" x2="365.8" y2="631.4" stroke="#fff" stroke-opacity="0.45" stroke-width="1" stroke-dasharray="1.2,4.3"/>
<line x1="410.8" y1="498.0" x2="410.8" y2="631.4" stroke="#fff" stroke-opacity="0.45" stroke-width="1" stroke-dasharray="1.2,4.3"/>
<line x1="455.9" y1="498.0" x2="455.9" y2="631.4" stroke="#fff" stroke-opacity="0.45" stroke-width="1" stroke-dasharray="1.2,4.3"/>
<line x1="500.9" y1="498.0" x2="500.9" y2="631.4" stroke="#fff" stroke-opacity="0.45" stroke-width="1" stroke-dasharray="1.2,4.3"/>
<line x1="546.0" y1="498.0" x2="546.0" y2="631.4" stroke="#fff" stroke-opacity="0.45" stroke-width="1" stroke-dasharray="1.2,4.3"/>
<rect x="350.3" y="498.0" width="1.6" height="133.39999999999998" fill="#000"/>
<rect x="50.5" y="630.4" width="540.5" height="1.0" fill="#f4f4f4"/>
<rect x="50.5" y="631.4" width="540.5" height="1.1" fill="#b4b4b4"/>
<path d="M50.0 632.0V497.5H591.0V632.0" fill="none" stroke="#222" stroke-width="1"/>
<line x1="50.5" y1="623.4" x2="55.5" y2="623.4" stroke="#111" stroke-width="1"/>
<line x1="591.0" y1="623.4" x2="586.0" y2="623.4" stroke="#111" stroke-width="1"/>
<line x1="50.5" y1="617.1" x2="53.5" y2="617.1" stroke="#111" stroke-width="1"/>
<line x1="591.0" y1="617.1" x2="588.0" y2="617.1" stroke="#111" stroke-width="1"/>
<line x1="50.5" y1="610.9" x2="53.5" y2="610.9" stroke="#111" stroke-width="1"/>
<line x1="591.0" y1="610.9" x2="588.0" y2="610.9" stroke="#111" stroke-width="1"/>
<line x1="50.5" y1="604.6" x2="53.5" y2="604.6" stroke="#111" stroke-width="1"/>
<line x1="591.0" y1="604.6" x2="588.0" y2="604.6" stroke="#111" stroke-width="1"/>
<line x1="50.5" y1="598.3" x2="53.5" y2="598.3" stroke="#111" stroke-width="1"/>
<line x1="591.0" y1="598.3" x2="588.0" y2="598.3" stroke="#111" stroke-width="1"/>
<line x1="50.5" y1="592.0" x2="55.5" y2="592.0" stroke="#111" stroke-width="1"/>
<line x1="591.0" y1="592.0" x2="586.0" y2="592.0" stroke="#111" stroke-width="1"/>
<line x1="50.5" y1="585.8" x2="53.5" y2="585.8" stroke="#111" stroke-width="1"/>
<line x1="591.0" y1="585.8" x2="588.0" y2="585.8" stroke="#111" stroke-width="1"/>
<line x1="50.5" y1="579.5" x2="53.5" y2="579.5" stroke="#111" stroke-width="1"/>
<line x1="591.0" y1="579.5" x2="588.0" y2="579.5" stroke="#111" stroke-width="1"/>
<line x1="50.5" y1="573.2" x2="53.5" y2="573.2" stroke="#111" stroke-width="1"/>
<line x1="591.0" y1="573.2" x2="588.0" y2="573.2" stroke="#111" stroke-width="1"/>
<line x1="50.5" y1="567.0" x2="53.5" y2="567.0" stroke="#111" stroke-width="1"/>
<line x1="591.0" y1="567.0" x2="588.0" y2="567.0" stroke="#111" stroke-width="1"/>
<line x1="50.5" y1="560.7" x2="55.5" y2="560.7" stroke="#111" stroke-width="1"/>
<line x1="591.0" y1="560.7" x2="586.0" y2="560.7" stroke="#111" stroke-width="1"/>
<line x1="50.5" y1="554.4" x2="53.5" y2="554.4" stroke="#111" stroke-width="1"/>
<line x1="591.0" y1="554.4" x2="588.0" y2="554.4" stroke="#111" stroke-width="1"/>
<line x1="50.5" y1="548.2" x2="53.5" y2="548.2" stroke="#111" stroke-width="1"/>
<line x1="591.0" y1="548.2" x2="588.0" y2="548.2" stroke="#111" stroke-width="1"/>
<line x1="50.5" y1="541.9" x2="53.5" y2="541.9" stroke="#111" stroke-width="1"/>
<line x1="591.0" y1="541.9" x2="588.0" y2="541.9" stroke="#111" stroke-width="1"/>
<line x1="50.5" y1="535.6" x2="53.5" y2="535.6" stroke="#111" stroke-width="1"/>
<line x1="591.0" y1="535.6" x2="588.0" y2="535.6" stroke="#111" stroke-width="1"/>
<line x1="50.5" y1="529.4" x2="55.5" y2="529.4" stroke="#111" stroke-width="1"/>
<line x1="591.0" y1="529.4" x2="586.0" y2="529.4" stroke="#111" stroke-width="1"/>
<line x1="50.5" y1="523.1" x2="53.5" y2="523.1" stroke="#111" stroke-width="1"/>
<line x1="591.0" y1="523.1" x2="588.0" y2="523.1" stroke="#111" stroke-width="1"/>
<line x1="50.5" y1="516.8" x2="53.5" y2="516.8" stroke="#111" stroke-width="1"/>
<line x1="591.0" y1="516.8" x2="588.0" y2="516.8" stroke="#111" stroke-width="1"/>
<line x1="50.5" y1="510.5" x2="53.5" y2="510.5" stroke="#111" stroke-width="1"/>
<line x1="591.0" y1="510.5" x2="588.0" y2="510.5" stroke="#111" stroke-width="1"/>
<line x1="50.5" y1="504.3" x2="53.5" y2="504.3" stroke="#111" stroke-width="1"/>
<line x1="591.0" y1="504.3" x2="588.0" y2="504.3" stroke="#111" stroke-width="1"/>
<line x1="50.5" y1="498.0" x2="55.5" y2="498.0" stroke="#111" stroke-width="1"/>
<line x1="591.0" y1="498.0" x2="586.0" y2="498.0" stroke="#111" stroke-width="1"/>
<line x1="50.5" y1="632.5" x2="50.5" y2="629.9" stroke="#333" stroke-width="1"/>
<line x1="50.5" y1="498.0" x2="50.5" y2="501.5" stroke="#222" stroke-width="0.9"/>
<line x1="65.5" y1="632.5" x2="65.5" y2="629.9" stroke="#333" stroke-width="1"/>
<line x1="65.5" y1="498.0" x2="65.5" y2="500.0" stroke="#222" stroke-width="0.9"/>
<line x1="80.5" y1="632.5" x2="80.5" y2="629.9" stroke="#333" stroke-width="1"/>
<line x1="80.5" y1="498.0" x2="80.5" y2="500.0" stroke="#222" stroke-width="0.9"/>
<line x1="95.5" y1="632.5" x2="95.5" y2="629.9" stroke="#333" stroke-width="1"/>
<line x1="95.5" y1="498.0" x2="95.5" y2="501.5" stroke="#222" stroke-width="0.9"/>
<line x1="110.6" y1="632.5" x2="110.6" y2="629.9" stroke="#333" stroke-width="1"/>
<line x1="110.6" y1="498.0" x2="110.6" y2="500.0" stroke="#222" stroke-width="0.9"/>
<line x1="125.6" y1="632.5" x2="125.6" y2="629.9" stroke="#333" stroke-width="1"/>
<line x1="125.6" y1="498.0" x2="125.6" y2="500.0" stroke="#222" stroke-width="0.9"/>
<line x1="140.6" y1="632.5" x2="140.6" y2="629.9" stroke="#333" stroke-width="1"/>
<line x1="140.6" y1="498.0" x2="140.6" y2="501.5" stroke="#222" stroke-width="0.9"/>
<line x1="155.6" y1="632.5" x2="155.6" y2="629.9" stroke="#333" stroke-width="1"/>
<line x1="155.6" y1="498.0" x2="155.6" y2="500.0" stroke="#222" stroke-width="0.9"/>
<line x1="170.6" y1="632.5" x2="170.6" y2="629.9" stroke="#333" stroke-width="1"/>
<line x1="170.6" y1="498.0" x2="170.6" y2="500.0" stroke="#222" stroke-width="0.9"/>
<line x1="185.6" y1="632.5" x2="185.6" y2="629.9" stroke="#333" stroke-width="1"/>
<line x1="185.6" y1="498.0" x2="185.6" y2="501.5" stroke="#222" stroke-width="0.9"/>
<line x1="200.6" y1="632.5" x2="200.6" y2="629.9" stroke="#333" stroke-width="1"/>
<line x1="200.6" y1="498.0" x2="200.6" y2="500.0" stroke="#222" stroke-width="0.9"/>
<line x1="215.7" y1="632.5" x2="215.7" y2="629.9" stroke="#333" stroke-width="1"/>
<line x1="215.7" y1="498.0" x2="215.7" y2="500.0" stroke="#222" stroke-width="0.9"/>
<line x1="230.7" y1="632.5" x2="230.7" y2="629.9" stroke="#333" stroke-width="1"/>
<line x1="230.7" y1="498.0" x2="230.7" y2="501.5" stroke="#222" stroke-width="0.9"/>
<line x1="245.7" y1="632.5" x2="245.7" y2="629.9" stroke="#333" stroke-width="1"/>
<line x1="245.7" y1="498.0" x2="245.7" y2="500.0" stroke="#222" stroke-width="0.9"/>
<line x1="260.7" y1="632.5" x2="260.7" y2="629.9" stroke="#333" stroke-width="1"/>
<line x1="260.7" y1="498.0" x2="260.7" y2="500.0" stroke="#222" stroke-width="0.9"/>
<line x1="275.7" y1="632.5" x2="275.7" y2="629.9" stroke="#333" stroke-width="1"/>
<line x1="275.7" y1="498.0" x2="275.7" y2="501.5" stroke="#222" stroke-width="0.9"/>
<line x1="290.7" y1="632.5" x2="290.7" y2="629.9" stroke="#333" stroke-width="1"/>
<line x1="290.7" y1="498.0" x2="290.7" y2="500.0" stroke="#222" stroke-width="0.9"/>
<line x1="305.7" y1="632.5" x2="305.7" y2="629.9" stroke="#333" stroke-width="1"/>
<line x1="305.7" y1="498.0" x2="305.7" y2="500.0" stroke="#222" stroke-width="0.9"/>
<line x1="320.8" y1="632.5" x2="320.8" y2="629.9" stroke="#333" stroke-width="1"/>
<line x1="320.8" y1="498.0" x2="320.8" y2="501.5" stroke="#222" stroke-width="0.9"/>
<line x1="335.8" y1="632.5" x2="335.8" y2="629.9" stroke="#333" stroke-width="1"/>
<line x1="335.8" y1="498.0" x2="335.8" y2="500.0" stroke="#222" stroke-width="0.9"/>
<line x1="350.8" y1="632.5" x2="350.8" y2="629.9" stroke="#333" stroke-width="1"/>
<line x1="350.8" y1="498.0" x2="350.8" y2="500.0" stroke="#222" stroke-width="0.9"/>
<line x1="365.8" y1="632.5" x2="365.8" y2="629.9" stroke="#333" stroke-width="1"/>
<line x1="365.8" y1="498.0" x2="365.8" y2="501.5" stroke="#222" stroke-width="0.9"/>
<line x1="380.8" y1="632.5" x2="380.8" y2="629.9" stroke="#333" stroke-width="1"/>
<line x1="380.8" y1="498.0" x2="380.8" y2="500.0" stroke="#222" stroke-width="0.9"/>
<line x1="395.8" y1="632.5" x2="395.8" y2="629.9" stroke="#333" stroke-width="1"/>
<line x1="395.8" y1="498.0" x2="395.8" y2="500.0" stroke="#222" stroke-width="0.9"/>
<line x1="410.8" y1="632.5" x2="410.8" y2="629.9" stroke="#333" stroke-width="1"/>
<line x1="410.8" y1="498.0" x2="410.8" y2="501.5" stroke="#222" stroke-width="0.9"/>
<line x1="425.8" y1="632.5" x2="425.8" y2="629.9" stroke="#333" stroke-width="1"/>
<line x1="425.8" y1="498.0" x2="425.8" y2="500.0" stroke="#222" stroke-width="0.9"/>
<line x1="440.9" y1="632.5" x2="440.9" y2="629.9" stroke="#333" stroke-width="1"/>
<line x1="440.9" y1="498.0" x2="440.9" y2="500.0" stroke="#222" stroke-width="0.9"/>
<line x1="455.9" y1="632.5" x2="455.9" y2="629.9" stroke="#333" stroke-width="1"/>
<line x1="455.9" y1="498.0" x2="455.9" y2="501.5" stroke="#222" stroke-width="0.9"/>
<line x1="470.9" y1="632.5" x2="470.9" y2="629.9" stroke="#333" stroke-width="1"/>
<line x1="470.9" y1="498.0" x2="470.9" y2="500.0" stroke="#222" stroke-width="0.9"/>
<line x1="485.9" y1="632.5" x2="485.9" y2="629.9" stroke="#333" stroke-width="1"/>
<line x1="485.9" y1="498.0" x2="485.9" y2="500.0" stroke="#222" stroke-width="0.9"/>
<line x1="500.9" y1="632.5" x2="500.9" y2="629.9" stroke="#333" stroke-width="1"/>
<line x1="500.9" y1="498.0" x2="500.9" y2="501.5" stroke="#222" stroke-width="0.9"/>
<line x1="515.9" y1="632.5" x2="515.9" y2="629.9" stroke="#333" stroke-width="1"/>
<line x1="515.9" y1="498.0" x2="515.9" y2="500.0" stroke="#222" stroke-width="0.9"/>
<line x1="530.9" y1="632.5" x2="530.9" y2="629.9" stroke="#333" stroke-width="1"/>
<line x1="530.9" y1="498.0" x2="530.9" y2="500.0" stroke="#222" stroke-width="0.9"/>
<line x1="546.0" y1="632.5" x2="546.0" y2="629.9" stroke="#333" stroke-width="1"/>
<line x1="546.0" y1="498.0" x2="546.0" y2="501.5" stroke="#222" stroke-width="0.9"/>
<line x1="561.0" y1="632.5" x2="561.0" y2="629.9" stroke="#333" stroke-width="1"/>
<line x1="561.0" y1="498.0" x2="561.0" y2="500.0" stroke="#222" stroke-width="0.9"/>
<line x1="576.0" y1="632.5" x2="576.0" y2="629.9" stroke="#333" stroke-width="1"/>
<line x1="576.0" y1="498.0" x2="576.0" y2="500.0" stroke="#222" stroke-width="0.9"/>
<line x1="591.0" y1="632.5" x2="591.0" y2="629.9" stroke="#333" stroke-width="1"/>
<line x1="591.0" y1="498.0" x2="591.0" y2="501.5" stroke="#222" stroke-width="0.9"/>
<text x="41.30" y="628.00" font-size="13.0" fill="#2a2a2a" text-anchor="end">100</text>
<text x="41.30" y="596.65" font-size="13.0" fill="#2a2a2a" text-anchor="end">200</text>
<text x="41.30" y="565.30" font-size="13.0" fill="#2a2a2a" text-anchor="end">300</text>
<text x="41.30" y="533.95" font-size="13.0" fill="#2a2a2a" text-anchor="end">400</text>
<text x="41.30" y="502.60" font-size="13.0" fill="#2a2a2a" text-anchor="end">500</text>
<text transform="translate(11.70,572.20) rotate(-90) scale(0.88,1)" font-size="13.8" fill="#2a2a2a" text-anchor="middle">Altitude (km)</text>
<text transform="translate(4.60,496.10) rotate(0) scale(0.76,1)" font-size="16.4" fill="#1f3a22" text-anchor="start">(d)</text>
<line x1="50.5" y1="788.0" x2="591.0" y2="788.0" stroke="#fff" stroke-opacity="0.5" stroke-width="1" stroke-dasharray="1.2,4.3"/>
<line x1="50.5" y1="756.6" x2="591.0" y2="756.6" stroke="#fff" stroke-opacity="0.5" stroke-width="1" stroke-dasharray="1.2,4.3"/>
<line x1="50.5" y1="725.2" x2="591.0" y2="725.2" stroke="#fff" stroke-opacity="0.5" stroke-width="1" stroke-dasharray="1.2,4.3"/>
<line x1="50.5" y1="693.9" x2="591.0" y2="693.9" stroke="#fff" stroke-opacity="0.5" stroke-width="1" stroke-dasharray="1.2,4.3"/>
<line x1="95.5" y1="662.5" x2="95.5" y2="796.0" stroke="#fff" stroke-opacity="0.45" stroke-width="1" stroke-dasharray="1.2,4.3"/>
<line x1="140.6" y1="662.5" x2="140.6" y2="796.0" stroke="#fff" stroke-opacity="0.45" stroke-width="1" stroke-dasharray="1.2,4.3"/>
<line x1="185.6" y1="662.5" x2="185.6" y2="796.0" stroke="#fff" stroke-opacity="0.45" stroke-width="1" stroke-dasharray="1.2,4.3"/>
<line x1="230.7" y1="662.5" x2="230.7" y2="796.0" stroke="#fff" stroke-opacity="0.45" stroke-width="1" stroke-dasharray="1.2,4.3"/>
<line x1="275.7" y1="662.5" x2="275.7" y2="796.0" stroke="#fff" stroke-opacity="0.45" stroke-width="1" stroke-dasharray="1.2,4.3"/>
<line x1="320.8" y1="662.5" x2="320.8" y2="796.0" stroke="#fff" stroke-opacity="0.45" stroke-width="1" stroke-dasharray="1.2,4.3"/>
<line x1="365.8" y1="662.5" x2="365.8" y2="796.0" stroke="#fff" stroke-opacity="0.45" stroke-width="1" stroke-dasharray="1.2,4.3"/>
<line x1="410.8" y1="662.5" x2="410.8" y2="796.0" stroke="#fff" stroke-opacity="0.45" stroke-width="1" stroke-dasharray="1.2,4.3"/>
<line x1="455.9" y1="662.5" x2="455.9" y2="796.0" stroke="#fff" stroke-opacity="0.45" stroke-width="1" stroke-dasharray="1.2,4.3"/>
<line x1="500.9" y1="662.5" x2="500.9" y2="796.0" stroke="#fff" stroke-opacity="0.45" stroke-width="1" stroke-dasharray="1.2,4.3"/>
<line x1="546.0" y1="662.5" x2="546.0" y2="796.0" stroke="#fff" stroke-opacity="0.45" stroke-width="1" stroke-dasharray="1.2,4.3"/>
<rect x="350.3" y="662.5" width="1.6" height="133.5" fill="#000"/>
<rect x="50.5" y="795.0" width="540.5" height="1.0" fill="#f4f4f4"/>
<rect x="50.5" y="796.0" width="540.5" height="1.1" fill="#b4b4b4"/>
<path d="M50.0 796.6V662.0H591.0V796.6" fill="none" stroke="#222" stroke-width="1"/>
<line x1="50.5" y1="788.0" x2="55.5" y2="788.0" stroke="#111" stroke-width="1"/>
<line x1="591.0" y1="788.0" x2="586.0" y2="788.0" stroke="#111" stroke-width="1"/>
<line x1="50.5" y1="781.7" x2="53.5" y2="781.7" stroke="#111" stroke-width="1"/>
<line x1="591.0" y1="781.7" x2="588.0" y2="781.7" stroke="#111" stroke-width="1"/>
<line x1="50.5" y1="775.5" x2="53.5" y2="775.5" stroke="#111" stroke-width="1"/>
<line x1="591.0" y1="775.5" x2="588.0" y2="775.5" stroke="#111" stroke-width="1"/>
<line x1="50.5" y1="769.2" x2="53.5" y2="769.2" stroke="#111" stroke-width="1"/>
<line x1="591.0" y1="769.2" x2="588.0" y2="769.2" stroke="#111" stroke-width="1"/>
<line x1="50.5" y1="762.9" x2="53.5" y2="762.9" stroke="#111" stroke-width="1"/>
<line x1="591.0" y1="762.9" x2="588.0" y2="762.9" stroke="#111" stroke-width="1"/>
<line x1="50.5" y1="756.6" x2="55.5" y2="756.6" stroke="#111" stroke-width="1"/>
<line x1="591.0" y1="756.6" x2="586.0" y2="756.6" stroke="#111" stroke-width="1"/>
<line x1="50.5" y1="750.4" x2="53.5" y2="750.4" stroke="#111" stroke-width="1"/>
<line x1="591.0" y1="750.4" x2="588.0" y2="750.4" stroke="#111" stroke-width="1"/>
<line x1="50.5" y1="744.1" x2="53.5" y2="744.1" stroke="#111" stroke-width="1"/>
<line x1="591.0" y1="744.1" x2="588.0" y2="744.1" stroke="#111" stroke-width="1"/>
<line x1="50.5" y1="737.8" x2="53.5" y2="737.8" stroke="#111" stroke-width="1"/>
<line x1="591.0" y1="737.8" x2="588.0" y2="737.8" stroke="#111" stroke-width="1"/>
<line x1="50.5" y1="731.5" x2="53.5" y2="731.5" stroke="#111" stroke-width="1"/>
<line x1="591.0" y1="731.5" x2="588.0" y2="731.5" stroke="#111" stroke-width="1"/>
<line x1="50.5" y1="725.2" x2="55.5" y2="725.2" stroke="#111" stroke-width="1"/>
<line x1="591.0" y1="725.2" x2="586.0" y2="725.2" stroke="#111" stroke-width="1"/>
<line x1="50.5" y1="719.0" x2="53.5" y2="719.0" stroke="#111" stroke-width="1"/>
<line x1="591.0" y1="719.0" x2="588.0" y2="719.0" stroke="#111" stroke-width="1"/>
<line x1="50.5" y1="712.7" x2="53.5" y2="712.7" stroke="#111" stroke-width="1"/>
<line x1="591.0" y1="712.7" x2="588.0" y2="712.7" stroke="#111" stroke-width="1"/>
<line x1="50.5" y1="706.4" x2="53.5" y2="706.4" stroke="#111" stroke-width="1"/>
<line x1="591.0" y1="706.4" x2="588.0" y2="706.4" stroke="#111" stroke-width="1"/>
<line x1="50.5" y1="700.1" x2="53.5" y2="700.1" stroke="#111" stroke-width="1"/>
<line x1="591.0" y1="700.1" x2="588.0" y2="700.1" stroke="#111" stroke-width="1"/>
<line x1="50.5" y1="693.9" x2="55.5" y2="693.9" stroke="#111" stroke-width="1"/>
<line x1="591.0" y1="693.9" x2="586.0" y2="693.9" stroke="#111" stroke-width="1"/>
<line x1="50.5" y1="687.6" x2="53.5" y2="687.6" stroke="#111" stroke-width="1"/>
<line x1="591.0" y1="687.6" x2="588.0" y2="687.6" stroke="#111" stroke-width="1"/>
<line x1="50.5" y1="681.3" x2="53.5" y2="681.3" stroke="#111" stroke-width="1"/>
<line x1="591.0" y1="681.3" x2="588.0" y2="681.3" stroke="#111" stroke-width="1"/>
<line x1="50.5" y1="675.0" x2="53.5" y2="675.0" stroke="#111" stroke-width="1"/>
<line x1="591.0" y1="675.0" x2="588.0" y2="675.0" stroke="#111" stroke-width="1"/>
<line x1="50.5" y1="668.8" x2="53.5" y2="668.8" stroke="#111" stroke-width="1"/>
<line x1="591.0" y1="668.8" x2="588.0" y2="668.8" stroke="#111" stroke-width="1"/>
<line x1="50.5" y1="662.5" x2="55.5" y2="662.5" stroke="#111" stroke-width="1"/>
<line x1="591.0" y1="662.5" x2="586.0" y2="662.5" stroke="#111" stroke-width="1"/>
<line x1="50.5" y1="797.1" x2="50.5" y2="794.5" stroke="#333" stroke-width="1"/>
<line x1="50.5" y1="662.5" x2="50.5" y2="666.0" stroke="#222" stroke-width="0.9"/>
<line x1="65.5" y1="797.1" x2="65.5" y2="794.5" stroke="#333" stroke-width="1"/>
<line x1="65.5" y1="662.5" x2="65.5" y2="664.5" stroke="#222" stroke-width="0.9"/>
<line x1="80.5" y1="797.1" x2="80.5" y2="794.5" stroke="#333" stroke-width="1"/>
<line x1="80.5" y1="662.5" x2="80.5" y2="664.5" stroke="#222" stroke-width="0.9"/>
<line x1="95.5" y1="797.1" x2="95.5" y2="794.5" stroke="#333" stroke-width="1"/>
<line x1="95.5" y1="662.5" x2="95.5" y2="666.0" stroke="#222" stroke-width="0.9"/>
<line x1="110.6" y1="797.1" x2="110.6" y2="794.5" stroke="#333" stroke-width="1"/>
<line x1="110.6" y1="662.5" x2="110.6" y2="664.5" stroke="#222" stroke-width="0.9"/>
<line x1="125.6" y1="797.1" x2="125.6" y2="794.5" stroke="#333" stroke-width="1"/>
<line x1="125.6" y1="662.5" x2="125.6" y2="664.5" stroke="#222" stroke-width="0.9"/>
<line x1="140.6" y1="797.1" x2="140.6" y2="794.5" stroke="#333" stroke-width="1"/>
<line x1="140.6" y1="662.5" x2="140.6" y2="666.0" stroke="#222" stroke-width="0.9"/>
<line x1="155.6" y1="797.1" x2="155.6" y2="794.5" stroke="#333" stroke-width="1"/>
<line x1="155.6" y1="662.5" x2="155.6" y2="664.5" stroke="#222" stroke-width="0.9"/>
<line x1="170.6" y1="797.1" x2="170.6" y2="794.5" stroke="#333" stroke-width="1"/>
<line x1="170.6" y1="662.5" x2="170.6" y2="664.5" stroke="#222" stroke-width="0.9"/>
<line x1="185.6" y1="797.1" x2="185.6" y2="794.5" stroke="#333" stroke-width="1"/>
<line x1="185.6" y1="662.5" x2="185.6" y2="666.0" stroke="#222" stroke-width="0.9"/>
<line x1="200.6" y1="797.1" x2="200.6" y2="794.5" stroke="#333" stroke-width="1"/>
<line x1="200.6" y1="662.5" x2="200.6" y2="664.5" stroke="#222" stroke-width="0.9"/>
<line x1="215.7" y1="797.1" x2="215.7" y2="794.5" stroke="#333" stroke-width="1"/>
<line x1="215.7" y1="662.5" x2="215.7" y2="664.5" stroke="#222" stroke-width="0.9"/>
<line x1="230.7" y1="797.1" x2="230.7" y2="794.5" stroke="#333" stroke-width="1"/>
<line x1="230.7" y1="662.5" x2="230.7" y2="666.0" stroke="#222" stroke-width="0.9"/>
<line x1="245.7" y1="797.1" x2="245.7" y2="794.5" stroke="#333" stroke-width="1"/>
<line x1="245.7" y1="662.5" x2="245.7" y2="664.5" stroke="#222" stroke-width="0.9"/>
<line x1="260.7" y1="797.1" x2="260.7" y2="794.5" stroke="#333" stroke-width="1"/>
<line x1="260.7" y1="662.5" x2="260.7" y2="664.5" stroke="#222" stroke-width="0.9"/>
<line x1="275.7" y1="797.1" x2="275.7" y2="794.5" stroke="#333" stroke-width="1"/>
<line x1="275.7" y1="662.5" x2="275.7" y2="666.0" stroke="#222" stroke-width="0.9"/>
<line x1="290.7" y1="797.1" x2="290.7" y2="794.5" stroke="#333" stroke-width="1"/>
<line x1="290.7" y1="662.5" x2="290.7" y2="664.5" stroke="#222" stroke-width="0.9"/>
<line x1="305.7" y1="797.1" x2="305.7" y2="794.5" stroke="#333" stroke-width="1"/>
<line x1="305.7" y1="662.5" x2="305.7" y2="664.5" stroke="#222" stroke-width="0.9"/>
<line x1="320.8" y1="797.1" x2="320.8" y2="794.5" stroke="#333" stroke-width="1"/>
<line x1="320.8" y1="662.5" x2="320.8" y2="666.0" stroke="#222" stroke-width="0.9"/>
<line x1="335.8" y1="797.1" x2="335.8" y2="794.5" stroke="#333" stroke-width="1"/>
<line x1="335.8" y1="662.5" x2="335.8" y2="664.5" stroke="#222" stroke-width="0.9"/>
<line x1="350.8" y1="797.1" x2="350.8" y2="794.5" stroke="#333" stroke-width="1"/>
<line x1="350.8" y1="662.5" x2="350.8" y2="664.5" stroke="#222" stroke-width="0.9"/>
<line x1="365.8" y1="797.1" x2="365.8" y2="794.5" stroke="#333" stroke-width="1"/>
<line x1="365.8" y1="662.5" x2="365.8" y2="666.0" stroke="#222" stroke-width="0.9"/>
<line x1="380.8" y1="797.1" x2="380.8" y2="794.5" stroke="#333" stroke-width="1"/>
<line x1="380.8" y1="662.5" x2="380.8" y2="664.5" stroke="#222" stroke-width="0.9"/>
<line x1="395.8" y1="797.1" x2="395.8" y2="794.5" stroke="#333" stroke-width="1"/>
<line x1="395.8" y1="662.5" x2="395.8" y2="664.5" stroke="#222" stroke-width="0.9"/>
<line x1="410.8" y1="797.1" x2="410.8" y2="794.5" stroke="#333" stroke-width="1"/>
<line x1="410.8" y1="662.5" x2="410.8" y2="666.0" stroke="#222" stroke-width="0.9"/>
<line x1="425.8" y1="797.1" x2="425.8" y2="794.5" stroke="#333" stroke-width="1"/>
<line x1="425.8" y1="662.5" x2="425.8" y2="664.5" stroke="#222" stroke-width="0.9"/>
<line x1="440.9" y1="797.1" x2="440.9" y2="794.5" stroke="#333" stroke-width="1"/>
<line x1="440.9" y1="662.5" x2="440.9" y2="664.5" stroke="#222" stroke-width="0.9"/>
<line x1="455.9" y1="797.1" x2="455.9" y2="794.5" stroke="#333" stroke-width="1"/>
<line x1="455.9" y1="662.5" x2="455.9" y2="666.0" stroke="#222" stroke-width="0.9"/>
<line x1="470.9" y1="797.1" x2="470.9" y2="794.5" stroke="#333" stroke-width="1"/>
<line x1="470.9" y1="662.5" x2="470.9" y2="664.5" stroke="#222" stroke-width="0.9"/>
<line x1="485.9" y1="797.1" x2="485.9" y2="794.5" stroke="#333" stroke-width="1"/>
<line x1="485.9" y1="662.5" x2="485.9" y2="664.5" stroke="#222" stroke-width="0.9"/>
<line x1="500.9" y1="797.1" x2="500.9" y2="794.5" stroke="#333" stroke-width="1"/>
<line x1="500.9" y1="662.5" x2="500.9" y2="666.0" stroke="#222" stroke-width="0.9"/>
<line x1="515.9" y1="797.1" x2="515.9" y2="794.5" stroke="#333" stroke-width="1"/>
<line x1="515.9" y1="662.5" x2="515.9" y2="664.5" stroke="#222" stroke-width="0.9"/>
<line x1="530.9" y1="797.1" x2="530.9" y2="794.5" stroke="#333" stroke-width="1"/>
<line x1="530.9" y1="662.5" x2="530.9" y2="664.5" stroke="#222" stroke-width="0.9"/>
<line x1="546.0" y1="797.1" x2="546.0" y2="794.5" stroke="#333" stroke-width="1"/>
<line x1="546.0" y1="662.5" x2="546.0" y2="666.0" stroke="#222" stroke-width="0.9"/>
<line x1="561.0" y1="797.1" x2="561.0" y2="794.5" stroke="#333" stroke-width="1"/>
<line x1="561.0" y1="662.5" x2="561.0" y2="664.5" stroke="#222" stroke-width="0.9"/>
<line x1="576.0" y1="797.1" x2="576.0" y2="794.5" stroke="#333" stroke-width="1"/>
<line x1="576.0" y1="662.5" x2="576.0" y2="664.5" stroke="#222" stroke-width="0.9"/>
<line x1="591.0" y1="797.1" x2="591.0" y2="794.5" stroke="#333" stroke-width="1"/>
<line x1="591.0" y1="662.5" x2="591.0" y2="666.0" stroke="#222" stroke-width="0.9"/>
<text x="41.30" y="792.60" font-size="13.0" fill="#2a2a2a" text-anchor="end">100</text>
<text x="41.30" y="761.23" font-size="13.0" fill="#2a2a2a" text-anchor="end">200</text>
<text x="41.30" y="729.85" font-size="13.0" fill="#2a2a2a" text-anchor="end">300</text>
<text x="41.30" y="698.48" font-size="13.0" fill="#2a2a2a" text-anchor="end">400</text>
<text x="41.30" y="667.10" font-size="13.0" fill="#2a2a2a" text-anchor="end">500</text>
<text transform="translate(11.70,736.75) rotate(-90) scale(0.88,1)" font-size="13.8" fill="#2a2a2a" text-anchor="middle">Altitude (km)</text>
<text transform="translate(4.60,657.80) rotate(0) scale(0.76,1)" font-size="16.4" fill="#1f3a22" text-anchor="start">(e)</text>
<line x1="50.5" y1="953.0" x2="591.0" y2="953.0" stroke="#fff" stroke-opacity="0.5" stroke-width="1" stroke-dasharray="1.2,4.3"/>
<line x1="50.5" y1="921.6" x2="591.0" y2="921.6" stroke="#fff" stroke-opacity="0.5" stroke-width="1" stroke-dasharray="1.2,4.3"/>
<line x1="50.5" y1="890.1" x2="591.0" y2="890.1" stroke="#fff" stroke-opacity="0.5" stroke-width="1" stroke-dasharray="1.2,4.3"/>
<line x1="50.5" y1="858.7" x2="591.0" y2="858.7" stroke="#fff" stroke-opacity="0.5" stroke-width="1" stroke-dasharray="1.2,4.3"/>
<line x1="95.5" y1="827.3" x2="95.5" y2="961.0" stroke="#fff" stroke-opacity="0.45" stroke-width="1" stroke-dasharray="1.2,4.3"/>
<line x1="140.6" y1="827.3" x2="140.6" y2="961.0" stroke="#fff" stroke-opacity="0.45" stroke-width="1" stroke-dasharray="1.2,4.3"/>
<line x1="185.6" y1="827.3" x2="185.6" y2="961.0" stroke="#fff" stroke-opacity="0.45" stroke-width="1" stroke-dasharray="1.2,4.3"/>
<line x1="230.7" y1="827.3" x2="230.7" y2="961.0" stroke="#fff" stroke-opacity="0.45" stroke-width="1" stroke-dasharray="1.2,4.3"/>
<line x1="275.7" y1="827.3" x2="275.7" y2="961.0" stroke="#fff" stroke-opacity="0.45" stroke-width="1" stroke-dasharray="1.2,4.3"/>
<line x1="320.8" y1="827.3" x2="320.8" y2="961.0" stroke="#fff" stroke-opacity="0.45" stroke-width="1" stroke-dasharray="1.2,4.3"/>
<line x1="365.8" y1="827.3" x2="365.8" y2="961.0" stroke="#fff" stroke-opacity="0.45" stroke-width="1" stroke-dasharray="1.2,4.3"/>
<line x1="410.8" y1="827.3" x2="410.8" y2="961.0" stroke="#fff" stroke-opacity="0.45" stroke-width="1" stroke-dasharray="1.2,4.3"/>
<line x1="455.9" y1="827.3" x2="455.9" y2="961.0" stroke="#fff" stroke-opacity="0.45" stroke-width="1" stroke-dasharray="1.2,4.3"/>
<line x1="500.9" y1="827.3" x2="500.9" y2="961.0" stroke="#fff" stroke-opacity="0.45" stroke-width="1" stroke-dasharray="1.2,4.3"/>
<line x1="546.0" y1="827.3" x2="546.0" y2="961.0" stroke="#fff" stroke-opacity="0.45" stroke-width="1" stroke-dasharray="1.2,4.3"/>
<rect x="350.3" y="827.3" width="1.6" height="133.70000000000005" fill="#000"/>
<rect x="50.5" y="960.0" width="540.5" height="1.0" fill="#f4f4f4"/>
<rect x="50.5" y="961.0" width="540.5" height="1.1" fill="#b4b4b4"/>
<path d="M50.0 961.6V826.8H591.0V961.6" fill="none" stroke="#222" stroke-width="1"/>
<line x1="50.5" y1="953.0" x2="55.5" y2="953.0" stroke="#111" stroke-width="1"/>
<line x1="591.0" y1="953.0" x2="586.0" y2="953.0" stroke="#111" stroke-width="1"/>
<line x1="50.5" y1="946.7" x2="53.5" y2="946.7" stroke="#111" stroke-width="1"/>
<line x1="591.0" y1="946.7" x2="588.0" y2="946.7" stroke="#111" stroke-width="1"/>
<line x1="50.5" y1="940.4" x2="53.5" y2="940.4" stroke="#111" stroke-width="1"/>
<line x1="591.0" y1="940.4" x2="588.0" y2="940.4" stroke="#111" stroke-width="1"/>
<line x1="50.5" y1="934.1" x2="53.5" y2="934.1" stroke="#111" stroke-width="1"/>
<line x1="591.0" y1="934.1" x2="588.0" y2="934.1" stroke="#111" stroke-width="1"/>
<line x1="50.5" y1="927.9" x2="53.5" y2="927.9" stroke="#111" stroke-width="1"/>
<line x1="591.0" y1="927.9" x2="588.0" y2="927.9" stroke="#111" stroke-width="1"/>
<line x1="50.5" y1="921.6" x2="55.5" y2="921.6" stroke="#111" stroke-width="1"/>
<line x1="591.0" y1="921.6" x2="586.0" y2="921.6" stroke="#111" stroke-width="1"/>
<line x1="50.5" y1="915.3" x2="53.5" y2="915.3" stroke="#111" stroke-width="1"/>
<line x1="591.0" y1="915.3" x2="588.0" y2="915.3" stroke="#111" stroke-width="1"/>
<line x1="50.5" y1="909.0" x2="53.5" y2="909.0" stroke="#111" stroke-width="1"/>
<line x1="591.0" y1="909.0" x2="588.0" y2="909.0" stroke="#111" stroke-width="1"/>
<line x1="50.5" y1="902.7" x2="53.5" y2="902.7" stroke="#111" stroke-width="1"/>
<line x1="591.0" y1="902.7" x2="588.0" y2="902.7" stroke="#111" stroke-width="1"/>
<line x1="50.5" y1="896.4" x2="53.5" y2="896.4" stroke="#111" stroke-width="1"/>
<line x1="591.0" y1="896.4" x2="588.0" y2="896.4" stroke="#111" stroke-width="1"/>
<line x1="50.5" y1="890.1" x2="55.5" y2="890.1" stroke="#111" stroke-width="1"/>
<line x1="591.0" y1="890.1" x2="586.0" y2="890.1" stroke="#111" stroke-width="1"/>
<line x1="50.5" y1="883.9" x2="53.5" y2="883.9" stroke="#111" stroke-width="1"/>
<line x1="591.0" y1="883.9" x2="588.0" y2="883.9" stroke="#111" stroke-width="1"/>
<line x1="50.5" y1="877.6" x2="53.5" y2="877.6" stroke="#111" stroke-width="1"/>
<line x1="591.0" y1="877.6" x2="588.0" y2="877.6" stroke="#111" stroke-width="1"/>
<line x1="50.5" y1="871.3" x2="53.5" y2="871.3" stroke="#111" stroke-width="1"/>
<line x1="591.0" y1="871.3" x2="588.0" y2="871.3" stroke="#111" stroke-width="1"/>
<line x1="50.5" y1="865.0" x2="53.5" y2="865.0" stroke="#111" stroke-width="1"/>
<line x1="591.0" y1="865.0" x2="588.0" y2="865.0" stroke="#111" stroke-width="1"/>
<line x1="50.5" y1="858.7" x2="55.5" y2="858.7" stroke="#111" stroke-width="1"/>
<line x1="591.0" y1="858.7" x2="586.0" y2="858.7" stroke="#111" stroke-width="1"/>
<line x1="50.5" y1="852.4" x2="53.5" y2="852.4" stroke="#111" stroke-width="1"/>
<line x1="591.0" y1="852.4" x2="588.0" y2="852.4" stroke="#111" stroke-width="1"/>
<line x1="50.5" y1="846.2" x2="53.5" y2="846.2" stroke="#111" stroke-width="1"/>
<line x1="591.0" y1="846.2" x2="588.0" y2="846.2" stroke="#111" stroke-width="1"/>
<line x1="50.5" y1="839.9" x2="53.5" y2="839.9" stroke="#111" stroke-width="1"/>
<line x1="591.0" y1="839.9" x2="588.0" y2="839.9" stroke="#111" stroke-width="1"/>
<line x1="50.5" y1="833.6" x2="53.5" y2="833.6" stroke="#111" stroke-width="1"/>
<line x1="591.0" y1="833.6" x2="588.0" y2="833.6" stroke="#111" stroke-width="1"/>
<line x1="50.5" y1="827.3" x2="55.5" y2="827.3" stroke="#111" stroke-width="1"/>
<line x1="591.0" y1="827.3" x2="586.0" y2="827.3" stroke="#111" stroke-width="1"/>
<line x1="50.5" y1="962.1" x2="50.5" y2="959.5" stroke="#333" stroke-width="1"/>
<line x1="50.5" y1="827.3" x2="50.5" y2="830.8" stroke="#222" stroke-width="0.9"/>
<line x1="65.5" y1="962.1" x2="65.5" y2="959.5" stroke="#333" stroke-width="1"/>
<line x1="65.5" y1="827.3" x2="65.5" y2="829.3" stroke="#222" stroke-width="0.9"/>
<line x1="80.5" y1="962.1" x2="80.5" y2="959.5" stroke="#333" stroke-width="1"/>
<line x1="80.5" y1="827.3" x2="80.5" y2="829.3" stroke="#222" stroke-width="0.9"/>
<line x1="95.5" y1="962.1" x2="95.5" y2="959.5" stroke="#333" stroke-width="1"/>
<line x1="95.5" y1="827.3" x2="95.5" y2="830.8" stroke="#222" stroke-width="0.9"/>
<line x1="110.6" y1="962.1" x2="110.6" y2="959.5" stroke="#333" stroke-width="1"/>
<line x1="110.6" y1="827.3" x2="110.6" y2="829.3" stroke="#222" stroke-width="0.9"/>
<line x1="125.6" y1="962.1" x2="125.6" y2="959.5" stroke="#333" stroke-width="1"/>
<line x1="125.6" y1="827.3" x2="125.6" y2="829.3" stroke="#222" stroke-width="0.9"/>
<line x1="140.6" y1="962.1" x2="140.6" y2="959.5" stroke="#333" stroke-width="1"/>
<line x1="140.6" y1="827.3" x2="140.6" y2="830.8" stroke="#222" stroke-width="0.9"/>
<line x1="155.6" y1="962.1" x2="155.6" y2="959.5" stroke="#333" stroke-width="1"/>
<line x1="155.6" y1="827.3" x2="155.6" y2="829.3" stroke="#222" stroke-width="0.9"/>
<line x1="170.6" y1="962.1" x2="170.6" y2="959.5" stroke="#333" stroke-width="1"/>
<line x1="170.6" y1="827.3" x2="170.6" y2="829.3" stroke="#222" stroke-width="0.9"/>
<line x1="185.6" y1="962.1" x2="185.6" y2="959.5" stroke="#333" stroke-width="1"/>
<line x1="185.6" y1="827.3" x2="185.6" y2="830.8" stroke="#222" stroke-width="0.9"/>
<line x1="200.6" y1="962.1" x2="200.6" y2="959.5" stroke="#333" stroke-width="1"/>
<line x1="200.6" y1="827.3" x2="200.6" y2="829.3" stroke="#222" stroke-width="0.9"/>
<line x1="215.7" y1="962.1" x2="215.7" y2="959.5" stroke="#333" stroke-width="1"/>
<line x1="215.7" y1="827.3" x2="215.7" y2="829.3" stroke="#222" stroke-width="0.9"/>
<line x1="230.7" y1="962.1" x2="230.7" y2="959.5" stroke="#333" stroke-width="1"/>
<line x1="230.7" y1="827.3" x2="230.7" y2="830.8" stroke="#222" stroke-width="0.9"/>
<line x1="245.7" y1="962.1" x2="245.7" y2="959.5" stroke="#333" stroke-width="1"/>
<line x1="245.7" y1="827.3" x2="245.7" y2="829.3" stroke="#222" stroke-width="0.9"/>
<line x1="260.7" y1="962.1" x2="260.7" y2="959.5" stroke="#333" stroke-width="1"/>
<line x1="260.7" y1="827.3" x2="260.7" y2="829.3" stroke="#222" stroke-width="0.9"/>
<line x1="275.7" y1="962.1" x2="275.7" y2="959.5" stroke="#333" stroke-width="1"/>
<line x1="275.7" y1="827.3" x2="275.7" y2="830.8" stroke="#222" stroke-width="0.9"/>
<line x1="290.7" y1="962.1" x2="290.7" y2="959.5" stroke="#333" stroke-width="1"/>
<line x1="290.7" y1="827.3" x2="290.7" y2="829.3" stroke="#222" stroke-width="0.9"/>
<line x1="305.7" y1="962.1" x2="305.7" y2="959.5" stroke="#333" stroke-width="1"/>
<line x1="305.7" y1="827.3" x2="305.7" y2="829.3" stroke="#222" stroke-width="0.9"/>
<line x1="320.8" y1="962.1" x2="320.8" y2="959.5" stroke="#333" stroke-width="1"/>
<line x1="320.8" y1="827.3" x2="320.8" y2="830.8" stroke="#222" stroke-width="0.9"/>
<line x1="335.8" y1="962.1" x2="335.8" y2="959.5" stroke="#333" stroke-width="1"/>
<line x1="335.8" y1="827.3" x2="335.8" y2="829.3" stroke="#222" stroke-width="0.9"/>
<line x1="350.8" y1="962.1" x2="350.8" y2="959.5" stroke="#333" stroke-width="1"/>
<line x1="350.8" y1="827.3" x2="350.8" y2="829.3" stroke="#222" stroke-width="0.9"/>
<line x1="365.8" y1="962.1" x2="365.8" y2="959.5" stroke="#333" stroke-width="1"/>
<line x1="365.8" y1="827.3" x2="365.8" y2="830.8" stroke="#222" stroke-width="0.9"/>
<line x1="380.8" y1="962.1" x2="380.8" y2="959.5" stroke="#333" stroke-width="1"/>
<line x1="380.8" y1="827.3" x2="380.8" y2="829.3" stroke="#222" stroke-width="0.9"/>
<line x1="395.8" y1="962.1" x2="395.8" y2="959.5" stroke="#333" stroke-width="1"/>
<line x1="395.8" y1="827.3" x2="395.8" y2="829.3" stroke="#222" stroke-width="0.9"/>
<line x1="410.8" y1="962.1" x2="410.8" y2="959.5" stroke="#333" stroke-width="1"/>
<line x1="410.8" y1="827.3" x2="410.8" y2="830.8" stroke="#222" stroke-width="0.9"/>
<line x1="425.8" y1="962.1" x2="425.8" y2="959.5" stroke="#333" stroke-width="1"/>
<line x1="425.8" y1="827.3" x2="425.8" y2="829.3" stroke="#222" stroke-width="0.9"/>
<line x1="440.9" y1="962.1" x2="440.9" y2="959.5" stroke="#333" stroke-width="1"/>
<line x1="440.9" y1="827.3" x2="440.9" y2="829.3" stroke="#222" stroke-width="0.9"/>
<line x1="455.9" y1="962.1" x2="455.9" y2="959.5" stroke="#333" stroke-width="1"/>
<line x1="455.9" y1="827.3" x2="455.9" y2="830.8" stroke="#222" stroke-width="0.9"/>
<line x1="470.9" y1="962.1" x2="470.9" y2="959.5" stroke="#333" stroke-width="1"/>
<line x1="470.9" y1="827.3" x2="470.9" y2="829.3" stroke="#222" stroke-width="0.9"/>
<line x1="485.9" y1="962.1" x2="485.9" y2="959.5" stroke="#333" stroke-width="1"/>
<line x1="485.9" y1="827.3" x2="485.9" y2="829.3" stroke="#222" stroke-width="0.9"/>
<line x1="500.9" y1="962.1" x2="500.9" y2="959.5" stroke="#333" stroke-width="1"/>
<line x1="500.9" y1="827.3" x2="500.9" y2="830.8" stroke="#222" stroke-width="0.9"/>
<line x1="515.9" y1="962.1" x2="515.9" y2="959.5" stroke="#333" stroke-width="1"/>
<line x1="515.9" y1="827.3" x2="515.9" y2="829.3" stroke="#222" stroke-width="0.9"/>
<line x1="530.9" y1="962.1" x2="530.9" y2="959.5" stroke="#333" stroke-width="1"/>
<line x1="530.9" y1="827.3" x2="530.9" y2="829.3" stroke="#222" stroke-width="0.9"/>
<line x1="546.0" y1="962.1" x2="546.0" y2="959.5" stroke="#333" stroke-width="1"/>
<line x1="546.0" y1="827.3" x2="546.0" y2="830.8" stroke="#222" stroke-width="0.9"/>
<line x1="561.0" y1="962.1" x2="561.0" y2="959.5" stroke="#333" stroke-width="1"/>
<line x1="561.0" y1="827.3" x2="561.0" y2="829.3" stroke="#222" stroke-width="0.9"/>
<line x1="576.0" y1="962.1" x2="576.0" y2="959.5" stroke="#333" stroke-width="1"/>
<line x1="576.0" y1="827.3" x2="576.0" y2="829.3" stroke="#222" stroke-width="0.9"/>
<line x1="591.0" y1="962.1" x2="591.0" y2="959.5" stroke="#333" stroke-width="1"/>
<line x1="591.0" y1="827.3" x2="591.0" y2="830.8" stroke="#222" stroke-width="0.9"/>
<text x="41.30" y="957.60" font-size="13.0" fill="#2a2a2a" text-anchor="end">100</text>
<text x="41.30" y="926.18" font-size="13.0" fill="#2a2a2a" text-anchor="end">200</text>
<text x="41.30" y="894.75" font-size="13.0" fill="#2a2a2a" text-anchor="end">300</text>
<text x="41.30" y="863.32" font-size="13.0" fill="#2a2a2a" text-anchor="end">400</text>
<text x="41.30" y="831.90" font-size="13.0" fill="#2a2a2a" text-anchor="end">500</text>
<text transform="translate(11.70,901.65) rotate(-90) scale(0.88,1)" font-size="13.8" fill="#2a2a2a" text-anchor="middle">Altitude (km)</text>
<text transform="translate(4.60,819.70) rotate(0) scale(0.76,1)" font-size="16.4" fill="#1f3a22" text-anchor="start">(f)</text>
<line x1="50.5" y1="108.6" x2="592.0" y2="108.6" stroke="#fff" stroke-width="2" stroke-dasharray="2,3.5"/>
<rect x="350.8" y="32.5" width="1.3" height="138.1" fill="#9a9a9a"/>
<rect x="50.0" y="32.0" width="542.5" height="139.1" fill="none" stroke="#333" stroke-width="1"/>
<text transform="translate(4.60,38.50) rotate(0) scale(0.76,1)" font-size="16.4" fill="#1f3a22" text-anchor="start">(a)</text>
<text transform="translate(26.30,38.40) rotate(0) scale(0.78,1)" font-size="16.4" fill="#333" text-anchor="start">NE</text>
<text transform="translate(26.30,168.20) rotate(0) scale(0.78,1)" font-size="16.4" fill="#333" text-anchor="start">SW</text>
<rect x="50.0" y="176.9" width="543.1" height="144.2" fill="none" stroke="#555" stroke-width="1.2"/>
<line x1="50.5" y1="223.2" x2="592.6" y2="223.2" stroke="#444" stroke-width="1.2"/>
<rect x="350.1" y="177.4" width="1.7" height="143.20000000000002" fill="#000"/>
<line x1="50.5" y1="320.6" x2="55.5" y2="320.6" stroke="#555" stroke-width="1"/>
<line x1="592.6" y1="320.6" x2="586.6" y2="320.6" stroke="#555" stroke-width="1"/>
<line x1="50.5" y1="315.5" x2="53.5" y2="315.5" stroke="#555" stroke-width="1"/>
<line x1="592.6" y1="315.5" x2="589.0" y2="315.5" stroke="#555" stroke-width="1"/>
<line x1="50.5" y1="310.4" x2="53.5" y2="310.4" stroke="#555" stroke-width="1"/>
<line x1="592.6" y1="310.4" x2="589.0" y2="310.4" stroke="#555" stroke-width="1"/>
<line x1="50.5" y1="305.3" x2="53.5" y2="305.3" stroke="#555" stroke-width="1"/>
<line x1="592.6" y1="305.3" x2="589.0" y2="305.3" stroke="#555" stroke-width="1"/>
<line x1="50.5" y1="300.1" x2="55.5" y2="300.1" stroke="#555" stroke-width="1"/>
<line x1="592.6" y1="300.1" x2="586.6" y2="300.1" stroke="#555" stroke-width="1"/>
<line x1="50.5" y1="295.0" x2="53.5" y2="295.0" stroke="#555" stroke-width="1"/>
<line x1="592.6" y1="295.0" x2="589.0" y2="295.0" stroke="#555" stroke-width="1"/>
<line x1="50.5" y1="289.9" x2="53.5" y2="289.9" stroke="#555" stroke-width="1"/>
<line x1="592.6" y1="289.9" x2="589.0" y2="289.9" stroke="#555" stroke-width="1"/>
<line x1="50.5" y1="284.8" x2="53.5" y2="284.8" stroke="#555" stroke-width="1"/>
<line x1="592.6" y1="284.8" x2="589.0" y2="284.8" stroke="#555" stroke-width="1"/>
<line x1="50.5" y1="279.7" x2="55.5" y2="279.7" stroke="#555" stroke-width="1"/>
<line x1="592.6" y1="279.7" x2="586.6" y2="279.7" stroke="#555" stroke-width="1"/>
<line x1="50.5" y1="274.6" x2="53.5" y2="274.6" stroke="#555" stroke-width="1"/>
<line x1="592.6" y1="274.6" x2="589.0" y2="274.6" stroke="#555" stroke-width="1"/>
<line x1="50.5" y1="269.5" x2="53.5" y2="269.5" stroke="#555" stroke-width="1"/>
<line x1="592.6" y1="269.5" x2="589.0" y2="269.5" stroke="#555" stroke-width="1"/>
<line x1="50.5" y1="264.3" x2="53.5" y2="264.3" stroke="#555" stroke-width="1"/>
<line x1="592.6" y1="264.3" x2="589.0" y2="264.3" stroke="#555" stroke-width="1"/>
<line x1="50.5" y1="259.2" x2="55.5" y2="259.2" stroke="#555" stroke-width="1"/>
<line x1="592.6" y1="259.2" x2="586.6" y2="259.2" stroke="#555" stroke-width="1"/>
<line x1="50.5" y1="254.1" x2="53.5" y2="254.1" stroke="#555" stroke-width="1"/>
<line x1="592.6" y1="254.1" x2="589.0" y2="254.1" stroke="#555" stroke-width="1"/>
<line x1="50.5" y1="249.0" x2="53.5" y2="249.0" stroke="#555" stroke-width="1"/>
<line x1="592.6" y1="249.0" x2="589.0" y2="249.0" stroke="#555" stroke-width="1"/>
<line x1="50.5" y1="243.9" x2="53.5" y2="243.9" stroke="#555" stroke-width="1"/>
<line x1="592.6" y1="243.9" x2="589.0" y2="243.9" stroke="#555" stroke-width="1"/>
<line x1="50.5" y1="238.8" x2="55.5" y2="238.8" stroke="#555" stroke-width="1"/>
<line x1="592.6" y1="238.8" x2="586.6" y2="238.8" stroke="#555" stroke-width="1"/>
<line x1="50.5" y1="233.7" x2="53.5" y2="233.7" stroke="#555" stroke-width="1"/>
<line x1="592.6" y1="233.7" x2="589.0" y2="233.7" stroke="#555" stroke-width="1"/>
<line x1="50.5" y1="228.5" x2="53.5" y2="228.5" stroke="#555" stroke-width="1"/>
<line x1="592.6" y1="228.5" x2="589.0" y2="228.5" stroke="#555" stroke-width="1"/>
<line x1="50.5" y1="223.4" x2="53.5" y2="223.4" stroke="#555" stroke-width="1"/>
<line x1="592.6" y1="223.4" x2="589.0" y2="223.4" stroke="#555" stroke-width="1"/>
<line x1="50.5" y1="218.3" x2="55.5" y2="218.3" stroke="#555" stroke-width="1"/>
<line x1="592.6" y1="218.3" x2="586.6" y2="218.3" stroke="#555" stroke-width="1"/>
<line x1="50.5" y1="213.2" x2="53.5" y2="213.2" stroke="#555" stroke-width="1"/>
<line x1="592.6" y1="213.2" x2="589.0" y2="213.2" stroke="#555" stroke-width="1"/>
<line x1="50.5" y1="208.1" x2="53.5" y2="208.1" stroke="#555" stroke-width="1"/>
<line x1="592.6" y1="208.1" x2="589.0" y2="208.1" stroke="#555" stroke-width="1"/>
<line x1="50.5" y1="203.0" x2="53.5" y2="203.0" stroke="#555" stroke-width="1"/>
<line x1="592.6" y1="203.0" x2="589.0" y2="203.0" stroke="#555" stroke-width="1"/>
<line x1="50.5" y1="197.9" x2="55.5" y2="197.9" stroke="#555" stroke-width="1"/>
<line x1="592.6" y1="197.9" x2="586.6" y2="197.9" stroke="#555" stroke-width="1"/>
<line x1="50.5" y1="192.7" x2="53.5" y2="192.7" stroke="#555" stroke-width="1"/>
<line x1="592.6" y1="192.7" x2="589.0" y2="192.7" stroke="#555" stroke-width="1"/>
<line x1="50.5" y1="187.6" x2="53.5" y2="187.6" stroke="#555" stroke-width="1"/>
<line x1="592.6" y1="187.6" x2="589.0" y2="187.6" stroke="#555" stroke-width="1"/>
<line x1="50.5" y1="182.5" x2="53.5" y2="182.5" stroke="#555" stroke-width="1"/>
<line x1="592.6" y1="182.5" x2="589.0" y2="182.5" stroke="#555" stroke-width="1"/>
<line x1="50.5" y1="177.4" x2="55.5" y2="177.4" stroke="#555" stroke-width="1"/>
<line x1="592.6" y1="177.4" x2="586.6" y2="177.4" stroke="#555" stroke-width="1"/>
<line x1="50.5" y1="320.6" x2="50.5" y2="317.6" stroke="#555" stroke-width="1"/>
<line x1="50.5" y1="177.4" x2="50.5" y2="180.4" stroke="#555" stroke-width="1"/>
<line x1="80.6" y1="320.6" x2="80.6" y2="317.6" stroke="#555" stroke-width="1"/>
<line x1="80.6" y1="177.4" x2="80.6" y2="180.4" stroke="#555" stroke-width="1"/>
<line x1="110.7" y1="320.6" x2="110.7" y2="317.6" stroke="#555" stroke-width="1"/>
<line x1="110.7" y1="177.4" x2="110.7" y2="180.4" stroke="#555" stroke-width="1"/>
<line x1="140.8" y1="320.6" x2="140.8" y2="317.6" stroke="#555" stroke-width="1"/>
<line x1="140.8" y1="177.4" x2="140.8" y2="180.4" stroke="#555" stroke-width="1"/>
<line x1="171.0" y1="320.6" x2="171.0" y2="317.6" stroke="#555" stroke-width="1"/>
<line x1="171.0" y1="177.4" x2="171.0" y2="180.4" stroke="#555" stroke-width="1"/>
<line x1="201.1" y1="320.6" x2="201.1" y2="317.6" stroke="#555" stroke-width="1"/>
<line x1="201.1" y1="177.4" x2="201.1" y2="180.4" stroke="#555" stroke-width="1"/>
<line x1="231.2" y1="320.6" x2="231.2" y2="317.6" stroke="#555" stroke-width="1"/>
<line x1="231.2" y1="177.4" x2="231.2" y2="180.4" stroke="#555" stroke-width="1"/>
<line x1="261.3" y1="320.6" x2="261.3" y2="317.6" stroke="#555" stroke-width="1"/>
<line x1="261.3" y1="177.4" x2="261.3" y2="180.4" stroke="#555" stroke-width="1"/>
<line x1="291.4" y1="320.6" x2="291.4" y2="317.6" stroke="#555" stroke-width="1"/>
<line x1="291.4" y1="177.4" x2="291.4" y2="180.4" stroke="#555" stroke-width="1"/>
<line x1="321.6" y1="320.6" x2="321.6" y2="317.6" stroke="#555" stroke-width="1"/>
<line x1="321.6" y1="177.4" x2="321.6" y2="180.4" stroke="#555" stroke-width="1"/>
<line x1="351.7" y1="320.6" x2="351.7" y2="317.6" stroke="#555" stroke-width="1"/>
<line x1="351.7" y1="177.4" x2="351.7" y2="180.4" stroke="#555" stroke-width="1"/>
<line x1="381.8" y1="320.6" x2="381.8" y2="317.6" stroke="#555" stroke-width="1"/>
<line x1="381.8" y1="177.4" x2="381.8" y2="180.4" stroke="#555" stroke-width="1"/>
<line x1="411.9" y1="320.6" x2="411.9" y2="317.6" stroke="#555" stroke-width="1"/>
<line x1="411.9" y1="177.4" x2="411.9" y2="180.4" stroke="#555" stroke-width="1"/>
<line x1="442.0" y1="320.6" x2="442.0" y2="317.6" stroke="#555" stroke-width="1"/>
<line x1="442.0" y1="177.4" x2="442.0" y2="180.4" stroke="#555" stroke-width="1"/>
<line x1="472.1" y1="320.6" x2="472.1" y2="317.6" stroke="#555" stroke-width="1"/>
<line x1="472.1" y1="177.4" x2="472.1" y2="180.4" stroke="#555" stroke-width="1"/>
<line x1="502.2" y1="320.6" x2="502.2" y2="317.6" stroke="#555" stroke-width="1"/>
<line x1="502.2" y1="177.4" x2="502.2" y2="180.4" stroke="#555" stroke-width="1"/>
<line x1="532.4" y1="320.6" x2="532.4" y2="317.6" stroke="#555" stroke-width="1"/>
<line x1="532.4" y1="177.4" x2="532.4" y2="180.4" stroke="#555" stroke-width="1"/>
<line x1="562.5" y1="320.6" x2="562.5" y2="317.6" stroke="#555" stroke-width="1"/>
<line x1="562.5" y1="177.4" x2="562.5" y2="180.4" stroke="#555" stroke-width="1"/>
<line x1="592.6" y1="320.6" x2="592.6" y2="317.6" stroke="#555" stroke-width="1"/>
<line x1="592.6" y1="177.4" x2="592.6" y2="180.4" stroke="#555" stroke-width="1"/>
<text x="45.80" y="186.20" font-size="13.6" fill="#000" text-anchor="end" stroke="#000" stroke-width="0.35">80</text>
<text x="45.80" y="202.76" font-size="13.6" fill="#000" text-anchor="end" stroke="#000" stroke-width="0.35">78</text>
<text x="45.80" y="223.21" font-size="13.6" fill="#000" text-anchor="end" stroke="#000" stroke-width="0.35">76</text>
<text x="45.80" y="243.67" font-size="13.6" fill="#000" text-anchor="end" stroke="#000" stroke-width="0.35">74</text>
<text x="45.80" y="264.13" font-size="13.6" fill="#000" text-anchor="end" stroke="#000" stroke-width="0.35">72</text>
<text x="45.80" y="284.59" font-size="13.6" fill="#000" text-anchor="end" stroke="#000" stroke-width="0.35">70</text>
<text x="45.80" y="305.04" font-size="13.6" fill="#000" text-anchor="end" stroke="#000" stroke-width="0.35">68</text>
<text x="45.80" y="321.30" font-size="13.6" fill="#000" text-anchor="end" stroke="#000" stroke-width="0.35">66</text>
<text transform="translate(11.80,244.10) rotate(-90) scale(0.85,1)" font-size="14.8" fill="#000" text-anchor="middle" stroke="#000" stroke-width="0.3">MLAT</text>
<text transform="translate(4.60,182.80) rotate(0) scale(0.76,1)" font-size="16.4" fill="#1f3a22" text-anchor="start">(b)</text>
<text x="47.50" y="978.30" font-size="13" fill="#2a2a2a" text-anchor="middle">09:00</text>
<text x="92.54" y="978.30" font-size="13" fill="#2a2a2a" text-anchor="middle">09:15</text>
<text x="137.58" y="978.30" font-size="13" fill="#2a2a2a" text-anchor="middle">09:30</text>
<text x="182.62" y="978.30" font-size="13" fill="#2a2a2a" text-anchor="middle">09:45</text>
<text x="227.67" y="978.30" font-size="13" fill="#2a2a2a" text-anchor="middle">10:00</text>
<text x="272.71" y="978.30" font-size="13" fill="#2a2a2a" text-anchor="middle">10:15</text>
<text x="317.75" y="978.30" font-size="13" fill="#2a2a2a" text-anchor="middle">10:30</text>
<text x="362.79" y="978.30" font-size="13" fill="#2a2a2a" text-anchor="middle">10:45</text>
<text x="407.83" y="978.30" font-size="13" fill="#2a2a2a" text-anchor="middle">11:00</text>
<text x="452.88" y="978.30" font-size="13" fill="#2a2a2a" text-anchor="middle">11:15</text>
<text x="497.92" y="978.30" font-size="13" fill="#2a2a2a" text-anchor="middle">11:30</text>
<text x="542.96" y="978.30" font-size="13" fill="#2a2a2a" text-anchor="middle">11:45</text>
<text x="588.00" y="978.30" font-size="13" fill="#2a2a2a" text-anchor="middle">12:00</text>
<text transform="translate(348.50,997.50) rotate(0) scale(0.86,1)" font-size="16" fill="#111" text-anchor="middle">UT</text>
<path fill="#241838" d="M271.2 76.8h1.3v1.2h-1.3zM308.9 67.9h1.3v1.2h-1.3zM269.4 72.3h1.3v1.2h-1.3zM300.1 84h1.3v1.2h-1.3zM271.3 60.1h1.3v1.2h-1.3zM304 77.7h1.3v1.2h-1.3zM318.1 82.8h1.3v1.2h-1.3zM290.3 70.3h1.3v1.2h-1.3zM335.7 70.1h1.3v1.2h-1.3zM278.7 61.6h1.3v1.2h-1.3zM293.6 74.5h1.3v1.2h-1.3zM286.1 72.4h1.3v1.2h-1.3zM296.6 79.9h1.3v1.2h-1.3zM310.6 75.1h1.3v1.2h-1.3zM261.6 80h1.3v1.2h-1.3zM267.9 71.3h1.3v1.2h-1.3zM266.9 73h1.3v1.2h-1.3zM278.8 75.1h1.3v1.2h-1.3zM348.1 72.5h1.3v1.2h-1.3zM306.3 59.8h1.3v1.2h-1.3zM287.1 79.6h1.3v1.2h-1.3zM290.4 76.7h1.3v1.2h-1.3zM293.8 62.9h1.3v1.2h-1.3zM301.6 64.9h1.3v1.2h-1.3zM323.8 67.9h1.3v1.2h-1.3zM303.7 73h1.3v1.2h-1.3zM308.2 67h1.3v1.2h-1.3zM309 71.8h1.3v1.2h-1.3zM313.5 79.2h1.3v1.2h-1.3zM294.4 65.2h1.3v1.2h-1.3zM305.1 77.7h1.3v1.2h-1.3zM319.9 69.2h1.3v1.2h-1.3zM301.4 78.1h1.3v1.2h-1.3zM296.8 75.1h1.3v1.2h-1.3zM295.1 67h1.3v1.2h-1.3zM274.8 69h1.3v1.2h-1.3zM302 88.1h1.3v1.2h-1.3zM308.6 83.5h1.3v1.2h-1.3zM305.2 80h1.3v1.2h-1.3zM295.1 80.7h1.3v1.2h-1.3zM322.2 69.7h1.3v1.2h-1.3zM280.2 92.6h1.3v1.2h-1.3zM296.2 82.7h1.3v1.2h-1.3zM306.9 61.6h1.3v1.2h-1.3zM333.4 90.8h1.3v1.2h-1.3zM295 80.5h1.3v1.2h-1.3zM294.2 64.2h1.3v1.2h-1.3zM290.1 76.7h1.3v1.2h-1.3zM311 80.1h1.3v1.2h-1.3zM293 86.5h1.3v1.2h-1.3zM279.1 80.9h1.3v1.2h-1.3zM310.9 70.1h1.3v1.2h-1.3zM261.6 63.9h1.3v1.2h-1.3zM296 78.3h1.3v1.2h-1.3zM318.3 63h1.3v1.2h-1.3zM339 67.2h1.3v1.2h-1.3zM338.1 43h1.3v1.2h-1.3zM343.8 80.5h1.3v1.2h-1.3zM345 54.7h1.3v1.2h-1.3zM336.5 63.8h1.3v1.2h-1.3zM353.9 66.9h1.3v1.2h-1.3zM339.7 74.5h1.3v1.2h-1.3zM338.5 76.9h1.3v1.2h-1.3zM334.9 58.2h1.3v1.2h-1.3zM343.3 73.4h1.3v1.2h-1.3zM342.9 64.4h1.3v1.2h-1.3zM328.1 56.3h1.3v1.2h-1.3zM335.3 57.7h1.3v1.2h-1.3zM342.5 59.3h1.3v1.2h-1.3zM343.7 62.7h1.3v1.2h-1.3zM337 62.9h1.3v1.2h-1.3zM341.6 68.9h1.3v1.2h-1.3zM336.1 60.1h1.3v1.2h-1.3zM330.8 74.8h1.3v1.2h-1.3zM347.7 60.6h1.3v1.2h-1.3zM336.1 52.1h1.3v1.2h-1.3zM340 63.7h1.3v1.2h-1.3zM352.1 64h1.3v1.2h-1.3zM334.3 42.4h1.3v1.2h-1.3zM347.5 63.5h1.3v1.2h-1.3zM329.3 63.4h1.3v1.2h-1.3zM329.3 89.8h1.3v1.2h-1.3zM345.7 66.6h1.3v1.2h-1.3zM337.9 44.9h1.3v1.2h-1.3zM338.2 49.6h1.3v1.2h-1.3zM342.6 44.9h1.3v1.2h-1.3zM333.6 71.8h1.3v1.2h-1.3zM348.9 52.6h1.3v1.2h-1.3zM329.8 69h1.3v1.2h-1.3zM344.1 54.1h1.3v1.2h-1.3zM334.8 56.4h1.3v1.2h-1.3zM331.9 56.6h1.3v1.2h-1.3zM346.5 67.5h1.3v1.2h-1.3zM351.3 61.3h1.3v1.2h-1.3zM338.2 54.1h1.3v1.2h-1.3zM338.3 51.5h1.3v1.2h-1.3zM328.3 67.6h1.3v1.2h-1.3zM347.6 68.7h1.3v1.2h-1.3zM347 64h1.3v1.2h-1.3zM334.7 62.7h1.3v1.2h-1.3zM336.8 53.1h1.3v1.2h-1.3zM328.8 50.1h1.3v1.2h-1.3zM339 63.2h1.3v1.2h-1.3zM336.2 73.4h1.3v1.2h-1.3zM340.1 66.7h1.3v1.2h-1.3zM346.3 55.4h1.3v1.2h-1.3zM327.2 68h1.3v1.2h-1.3zM334.9 72.5h1.3v1.2h-1.3zM341 70.1h1.3v1.2h-1.3zM343.6 45.4h1.3v1.2h-1.3zM343.3 56.6h1.3v1.2h-1.3zM334.5 58.5h1.3v1.2h-1.3zM343.6 69.1h1.3v1.2h-1.3zM345.1 48.7h1.3v1.2h-1.3zM335.5 43h1.3v1.2h-1.3zM338.4 66.8h1.3v1.2h-1.3zM334.4 64h1.3v1.2h-1.3zM340.4 70.1h1.3v1.2h-1.3zM334.1 55.4h1.3v1.2h-1.3zM334.4 76h1.3v1.2h-1.3zM345.5 61h1.3v1.2h-1.3zM340.4 62.9h1.3v1.2h-1.3zM340.2 60.3h1.3v1.2h-1.3zM337 51.9h1.3v1.2h-1.3zM335.1 75.2h1.3v1.2h-1.3zM342.2 62.5h1.3v1.2h-1.3zM337.7 62.5h1.3v1.2h-1.3zM341.1 56.8h1.3v1.2h-1.3zM340.2 63.9h1.3v1.2h-1.3zM334.5 55.7h1.3v1.2h-1.3zM304 51.5h1.3v1.2h-1.3zM319.1 41.1h1.3v1.2h-1.3zM309.9 55.1h1.3v1.2h-1.3zM307 60.8h1.3v1.2h-1.3zM321 60.6h1.3v1.2h-1.3zM310.9 55.1h1.3v1.2h-1.3zM311 67.3h1.3v1.2h-1.3zM308.8 50.8h1.3v1.2h-1.3zM301.9 51.1h1.3v1.2h-1.3zM300.9 68.8h1.3v1.2h-1.3zM314.8 58.1h1.3v1.2h-1.3zM323.7 54.7h1.3v1.2h-1.3zM318 66.4h1.3v1.2h-1.3zM299.6 47.5h1.3v1.2h-1.3zM304.6 67.3h1.3v1.2h-1.3zM322.4 50.2h1.3v1.2h-1.3zM320.4 56.9h1.3v1.2h-1.3zM308.9 55.6h1.3v1.2h-1.3zM309.4 45.5h1.3v1.2h-1.3zM304 50.1h1.3v1.2h-1.3zM315.9 76.7h1.3v1.2h-1.3zM333.9 57.3h1.3v1.2h-1.3zM298.2 56.7h1.3v1.2h-1.3zM304.5 75.9h1.3v1.2h-1.3zM316.6 54.2h1.3v1.2h-1.3zM451.2 50.1h1.3v1.2h-1.3zM420.5 45.9h1.3v1.2h-1.3zM437.1 48.1h1.3v1.2h-1.3zM441.6 46.6h1.3v1.2h-1.3zM442.3 45.7h1.3v1.2h-1.3zM429.2 54.1h1.3v1.2h-1.3zM444.3 49.8h1.3v1.2h-1.3zM420.9 47.3h1.3v1.2h-1.3zM449.8 42.8h1.3v1.2h-1.3zM453.2 46.4h1.3v1.2h-1.3zM444.8 47.5h1.3v1.2h-1.3zM442.6 52.8h1.3v1.2h-1.3zM435.2 54.3h1.3v1.2h-1.3zM430.6 44.3h1.3v1.2h-1.3zM448.5 43.7h1.3v1.2h-1.3z"/>
<rect x="52" y="153.6" width="14" height="1" fill="#e8b020"/>
<line x1="330" y1="85.8" x2="339.5" y2="95.3" stroke="#ffff00" stroke-width="2.8"/>
<polygon points="332.4,98.8 343.2,90 343.2,100.6" fill="#ffff00"/>
<rect x="573" y="334.4" width="3" height="23" fill="#ff10c0"/>
<rect x="573" y="357" width="3" height="68" fill="#ff80f0"/>
<rect x="573" y="425" width="3" height="7" fill="#ff10c0"/>
<rect x="573" y="432" width="3" height="23" fill="#ff1010"/>
<rect x="491.5" y="372" width="3" height="70" fill="#ff1060"/>
<rect x="510" y="334.4" width="2.6" height="28" fill="#ff2000"/>
<rect x="657.5" y="166.73" width="14.200000000000045" height="4.27" fill="#000000"/>
<rect x="657.5" y="162.04" width="14.200000000000045" height="5.10" fill="#6000c0"/>
<rect x="657.5" y="158.03" width="14.200000000000045" height="4.40" fill="#3000d0"/>
<rect x="657.5" y="154.03" width="14.200000000000045" height="4.40" fill="#2000e8"/>
<rect x="657.5" y="149.61" width="14.200000000000045" height="4.82" fill="#0000ff"/>
<rect x="657.5" y="145.05" width="14.200000000000045" height="4.96" fill="#0080e0"/>
<rect x="657.5" y="141.05" width="14.200000000000045" height="4.40" fill="#00ffff"/>
<rect x="657.5" y="136.49" width="14.200000000000045" height="4.96" fill="#00f080"/>
<rect x="657.5" y="128.48" width="14.200000000000045" height="8.41" fill="#00ff00"/>
<rect x="657.5" y="123.51" width="14.200000000000045" height="5.37" fill="#80e000"/>
<rect x="657.5" y="118.95" width="14.200000000000045" height="4.96" fill="#d0ff00"/>
<rect x="657.5" y="114.95" width="14.200000000000045" height="4.40" fill="#ffff00"/>
<rect x="657.5" y="110.53" width="14.200000000000045" height="4.82" fill="#ffc000"/>
<rect x="657.5" y="105.97" width="14.200000000000045" height="4.96" fill="#e8a000"/>
<rect x="657.5" y="101.00" width="14.200000000000045" height="5.37" fill="#e07000"/>
<rect x="657.5" y="96.99" width="14.200000000000045" height="4.40" fill="#ff8000"/>
<rect x="657.5" y="92.57" width="14.200000000000045" height="4.82" fill="#ff7000"/>
<rect x="657.5" y="87.60" width="14.200000000000045" height="5.37" fill="#ff6000"/>
<rect x="657.5" y="83.32" width="14.200000000000045" height="4.68" fill="#e84800"/>
<rect x="657.5" y="79.59" width="14.200000000000045" height="4.13" fill="#f03800"/>
<rect x="657.5" y="76.00" width="14.200000000000045" height="3.99" fill="#ff2800"/>
<rect x="657.5" y="71.03" width="14.200000000000045" height="5.37" fill="#ff1000"/>
<rect x="657.5" y="67.03" width="14.200000000000045" height="4.40" fill="#ff0000"/>
<rect x="657.5" y="62.05" width="14.200000000000045" height="5.37" fill="#e00000"/>
<rect x="657.5" y="58.46" width="14.200000000000045" height="3.99" fill="#d00000"/>
<rect x="657.5" y="55.01" width="14.200000000000045" height="3.85" fill="#c80000"/>
<rect x="657.5" y="50.04" width="14.200000000000045" height="5.37" fill="#c00000"/>
<rect x="657.5" y="46.03" width="14.200000000000045" height="4.40" fill="#b40000"/>
<rect x="657.5" y="42.44" width="14.200000000000045" height="3.99" fill="#a00000"/>
<rect x="657.5" y="37.47" width="14.200000000000045" height="5.37" fill="#8c0000"/>
<rect x="657.5" y="32.50" width="14.200000000000045" height="5.37" fill="#780000"/>
<rect x="657.5" y="32.5" width="14.200000000000045" height="138.1" fill="none" stroke="#222" stroke-width="1"/>
<text transform="translate(652.00,39.35) rotate(0) scale(1.63,1)" font-size="9.8" fill="#222" text-anchor="end" letter-spacing="0">3400</text>
<text transform="translate(652.00,71.30) rotate(0) scale(1.63,1)" font-size="9.8" fill="#222" text-anchor="end" letter-spacing="0">2600</text>
<text transform="translate(652.00,105.70) rotate(0) scale(1.63,1)" font-size="9.8" fill="#222" text-anchor="end" letter-spacing="0">1800</text>
<text transform="translate(652.00,140.50) rotate(0) scale(1.63,1)" font-size="9.8" fill="#222" text-anchor="end" letter-spacing="0">1000</text>
<text transform="translate(652.00,171.20) rotate(0) scale(1.63,1)" font-size="9.8" fill="#222" text-anchor="end" letter-spacing="0">200</text>
<text transform="translate(610.60,104.20) rotate(-90) scale(0.78,1)" font-size="13.6" fill="#222" text-anchor="middle">Intensity (R)</text>
<rect x="612.5" y="179.10" width="8.100000000000023" height="12.72" fill="#6400ff" stroke="#222" stroke-width="0.6"/>
<rect x="612.5" y="191.82" width="8.100000000000023" height="12.72" fill="#1010f0" stroke="#222" stroke-width="0.6"/>
<rect x="612.5" y="204.54" width="8.100000000000023" height="12.72" fill="#0050a0" stroke="#222" stroke-width="0.6"/>
<rect x="612.5" y="217.26" width="8.100000000000023" height="12.72" fill="#00d040" stroke="#222" stroke-width="0.6"/>
<rect x="612.5" y="229.98" width="8.100000000000023" height="12.72" fill="#50f020" stroke="#222" stroke-width="0.6"/>
<rect x="612.5" y="242.70" width="8.100000000000023" height="12.72" fill="#e8ff10" stroke="#222" stroke-width="0.6"/>
<rect x="612.5" y="255.42" width="8.100000000000023" height="12.72" fill="#ffd000" stroke="#222" stroke-width="0.6"/>
<rect x="612.5" y="268.14" width="8.100000000000023" height="12.72" fill="#ffa000" stroke="#222" stroke-width="0.6"/>
<rect x="612.5" y="280.86" width="8.100000000000023" height="12.72" fill="#ff6400" stroke="#222" stroke-width="0.6"/>
<rect x="612.5" y="293.58" width="8.100000000000023" height="12.72" fill="#ff3800" stroke="#222" stroke-width="0.6"/>
<text x="623.30" y="194.72" font-size="8.5" fill="#222" text-anchor="start">400</text>
<text x="623.30" y="207.44" font-size="8.5" fill="#222" text-anchor="start">300</text>
<text x="623.30" y="220.16" font-size="8.5" fill="#222" text-anchor="start">200</text>
<text x="623.30" y="232.88" font-size="8.5" fill="#222" text-anchor="start">100</text>
<text x="623.30" y="245.60" font-size="8.5" fill="#222" text-anchor="start">0</text>
<text x="623.30" y="258.32" font-size="8.5" fill="#222" text-anchor="start">-100</text>
<text x="623.30" y="271.04" font-size="8.5" fill="#222" text-anchor="start">-200</text>
<text x="623.30" y="283.76" font-size="8.5" fill="#222" text-anchor="start">-300</text>
<text x="623.30" y="296.48" font-size="8.5" fill="#222" text-anchor="start">-400</text>
<rect x="612.5" y="313.2" width="8.100000000000023" height="12" fill="#808080"/>
<text x="623.30" y="319.30" font-size="7.6" fill="#333" text-anchor="start">Ground</text>
<text x="623.30" y="325.30" font-size="7.6" fill="#333" text-anchor="start">Scatter</text>
<rect x="600.4" y="465.18" width="19.4" height="2.62" fill="#00000d"/>
<rect x="600.4" y="462.97" width="19.4" height="2.62" fill="#000028"/>
<rect x="600.4" y="460.75" width="19.4" height="2.62" fill="#000042"/>
<rect x="600.4" y="458.53" width="19.4" height="2.62" fill="#000056"/>
<rect x="600.4" y="456.32" width="19.4" height="2.62" fill="#00006a"/>
<rect x="600.4" y="454.10" width="19.4" height="2.62" fill="#00007e"/>
<rect x="600.4" y="451.88" width="19.4" height="2.62" fill="#000093"/>
<rect x="600.4" y="449.67" width="19.4" height="2.62" fill="#0000a8"/>
<rect x="600.4" y="447.45" width="19.4" height="2.62" fill="#0000bd"/>
<rect x="600.4" y="445.23" width="19.4" height="2.62" fill="#0000cf"/>
<rect x="600.4" y="443.02" width="19.4" height="2.62" fill="#0000e0"/>
<rect x="600.4" y="440.80" width="19.4" height="2.62" fill="#0000f0"/>
<rect x="600.4" y="438.58" width="19.4" height="2.62" fill="#0007fb"/>
<rect x="600.4" y="436.37" width="19.4" height="2.62" fill="#003be2"/>
<rect x="600.4" y="434.15" width="19.4" height="2.62" fill="#0067c9"/>
<rect x="600.4" y="431.93" width="19.4" height="2.62" fill="#0080b0"/>
<rect x="600.4" y="429.72" width="19.4" height="2.62" fill="#009997"/>
<rect x="600.4" y="427.50" width="19.4" height="2.62" fill="#00a982"/>
<rect x="600.4" y="425.28" width="19.4" height="2.62" fill="#00b76e"/>
<rect x="600.4" y="423.07" width="19.4" height="2.62" fill="#00c658"/>
<rect x="600.4" y="420.85" width="19.4" height="2.62" fill="#00da3d"/>
<rect x="600.4" y="418.63" width="19.4" height="2.62" fill="#00ee23"/>
<rect x="600.4" y="416.42" width="19.4" height="2.62" fill="#18f614"/>
<rect x="600.4" y="414.20" width="19.4" height="2.62" fill="#33fc07"/>
<rect x="600.4" y="411.98" width="19.4" height="2.62" fill="#54ff00"/>
<rect x="600.4" y="409.77" width="19.4" height="2.62" fill="#7cff00"/>
<rect x="600.4" y="407.55" width="19.4" height="2.62" fill="#a2ff00"/>
<rect x="600.4" y="405.33" width="19.4" height="2.62" fill="#b6ff00"/>
<rect x="600.4" y="403.12" width="19.4" height="2.62" fill="#caff00"/>
<rect x="600.4" y="400.90" width="19.4" height="2.62" fill="#daff00"/>
<rect x="600.4" y="398.68" width="19.4" height="2.62" fill="#e8ff00"/>
<rect x="600.4" y="396.47" width="19.4" height="2.62" fill="#f6ff00"/>
<rect x="600.4" y="394.25" width="19.4" height="2.62" fill="#fff700"/>
<rect x="600.4" y="392.03" width="19.4" height="2.62" fill="#ffe200"/>
<rect x="600.4" y="389.82" width="19.4" height="2.62" fill="#ffd000"/>
<rect x="600.4" y="387.60" width="19.4" height="2.62" fill="#ffc100"/>
<rect x="600.4" y="385.38" width="19.4" height="2.62" fill="#ffb200"/>
<rect x="600.4" y="383.17" width="19.4" height="2.62" fill="#ff9e00"/>
<rect x="600.4" y="380.95" width="19.4" height="2.62" fill="#ff8a00"/>
<rect x="600.4" y="378.73" width="19.4" height="2.62" fill="#ff7300"/>
<rect x="600.4" y="376.52" width="19.4" height="2.62" fill="#ff5800"/>
<rect x="600.4" y="374.30" width="19.4" height="2.62" fill="#ff3d00"/>
<rect x="600.4" y="372.08" width="19.4" height="2.62" fill="#ff2300"/>
<rect x="600.4" y="369.87" width="19.4" height="2.62" fill="#ff0800"/>
<rect x="600.4" y="367.65" width="19.4" height="2.62" fill="#ff001c"/>
<rect x="600.4" y="365.43" width="19.4" height="2.62" fill="#ff0044"/>
<rect x="600.4" y="363.22" width="19.4" height="2.62" fill="#ff0068"/>
<rect x="600.4" y="361.00" width="19.4" height="2.62" fill="#ff0083"/>
<rect x="600.4" y="358.78" width="19.4" height="2.62" fill="#ff009d"/>
<rect x="600.4" y="356.57" width="19.4" height="2.62" fill="#ff00b8"/>
<rect x="600.4" y="354.35" width="19.4" height="2.62" fill="#ff00d3"/>
<rect x="600.4" y="352.13" width="19.4" height="2.62" fill="#ff00ed"/>
<rect x="600.4" y="349.92" width="19.4" height="2.62" fill="#ff00f3"/>
<rect x="600.4" y="347.70" width="19.4" height="2.62" fill="#ff00f6"/>
<rect x="600.4" y="345.48" width="19.4" height="2.62" fill="#ff00f9"/>
<rect x="600.4" y="343.27" width="19.4" height="2.62" fill="#ff00fc"/>
<rect x="600.4" y="341.05" width="19.4" height="2.62" fill="#ff06ff"/>
<rect x="600.4" y="338.83" width="19.4" height="2.62" fill="#ff41ff"/>
<rect x="600.4" y="336.62" width="19.4" height="2.62" fill="#ff6aff"/>
<rect x="600.4" y="334.40" width="19.4" height="2.62" fill="#ff7eff"/>
<rect x="600.4" y="334.4" width="19.4" height="133.0" fill="none" stroke="#333" stroke-width="1"/>
<rect x="600.4" y="629.18" width="19.4" height="2.62" fill="#00000d"/>
<rect x="600.4" y="626.95" width="19.4" height="2.62" fill="#000028"/>
<rect x="600.4" y="624.73" width="19.4" height="2.62" fill="#000042"/>
<rect x="600.4" y="622.51" width="19.4" height="2.62" fill="#000056"/>
<rect x="600.4" y="620.28" width="19.4" height="2.62" fill="#00006a"/>
<rect x="600.4" y="618.06" width="19.4" height="2.62" fill="#00007e"/>
<rect x="600.4" y="615.84" width="19.4" height="2.62" fill="#000093"/>
<rect x="600.4" y="613.61" width="19.4" height="2.62" fill="#0000a8"/>
<rect x="600.4" y="611.39" width="19.4" height="2.62" fill="#0000bd"/>
<rect x="600.4" y="609.17" width="19.4" height="2.62" fill="#0000cf"/>
<rect x="600.4" y="606.94" width="19.4" height="2.62" fill="#0000e0"/>
<rect x="600.4" y="604.72" width="19.4" height="2.62" fill="#0000f0"/>
<rect x="600.4" y="602.50" width="19.4" height="2.62" fill="#0007fb"/>
<rect x="600.4" y="600.27" width="19.4" height="2.62" fill="#003be2"/>
<rect x="600.4" y="598.05" width="19.4" height="2.62" fill="#0067c9"/>
<rect x="600.4" y="595.83" width="19.4" height="2.62" fill="#0080b0"/>
<rect x="600.4" y="593.60" width="19.4" height="2.62" fill="#009997"/>
<rect x="600.4" y="591.38" width="19.4" height="2.62" fill="#00a982"/>
<rect x="600.4" y="589.16" width="19.4" height="2.62" fill="#00b76e"/>
<rect x="600.4" y="586.93" width="19.4" height="2.62" fill="#00c658"/>
<rect x="600.4" y="584.71" width="19.4" height="2.62" fill="#00da3d"/>
<rect x="600.4" y="582.49" width="19.4" height="2.62" fill="#00ee23"/>
<rect x="600.4" y="580.26" width="19.4" height="2.62" fill="#18f614"/>
<rect x="600.4" y="578.04" width="19.4" height="2.62" fill="#33fc07"/>
<rect x="600.4" y="575.82" width="19.4" height="2.62" fill="#54ff00"/>
<rect x="600.4" y="573.59" width="19.4" height="2.62" fill="#7cff00"/>
<rect x="600.4" y="571.37" width="19.4" height="2.62" fill="#a2ff00"/>
<rect x="600.4" y="569.15" width="19.4" height="2.62" fill="#b6ff00"/>
<rect x="600.4" y="566.92" width="19.4" height="2.62" fill="#caff00"/>
<rect x="600.4" y="564.70" width="19.4" height="2.62" fill="#daff00"/>
<rect x="600.4" y="562.48" width="19.4" height="2.62" fill="#e8ff00"/>
<rect x="600.4" y="560.25" width="19.4" height="2.62" fill="#f6ff00"/>
<rect x="600.4" y="558.03" width="19.4" height="2.62" fill="#fff700"/>
<rect x="600.4" y="555.81" width="19.4" height="2.62" fill="#ffe200"/>
<rect x="600.4" y="553.58" width="19.4" height="2.62" fill="#ffd000"/>
<rect x="600.4" y="551.36" width="19.4" height="2.62" fill="#ffc100"/>
<rect x="600.4" y="549.14" width="19.4" height="2.62" fill="#ffb200"/>
<rect x="600.4" y="546.91" width="19.4" height="2.62" fill="#ff9e00"/>
<rect x="600.4" y="544.69" width="19.4" height="2.62" fill="#ff8a00"/>
<rect x="600.4" y="542.47" width="19.4" height="2.62" fill="#ff7300"/>
<rect x="600.4" y="540.24" width="19.4" height="2.62" fill="#ff5800"/>
<rect x="600.4" y="538.02" width="19.4" height="2.62" fill="#ff3d00"/>
<rect x="600.4" y="535.80" width="19.4" height="2.62" fill="#ff2300"/>
<rect x="600.4" y="533.57" width="19.4" height="2.62" fill="#ff0800"/>
<rect x="600.4" y="531.35" width="19.4" height="2.62" fill="#ff001c"/>
<rect x="600.4" y="529.13" width="19.4" height="2.62" fill="#ff0044"/>
<rect x="600.4" y="526.90" width="19.4" height="2.62" fill="#ff0068"/>
<rect x="600.4" y="524.68" width="19.4" height="2.62" fill="#ff0083"/>
<rect x="600.4" y="522.46" width="19.4" height="2.62" fill="#ff009d"/>
<rect x="600.4" y="520.23" width="19.4" height="2.62" fill="#ff00b8"/>
<rect x="600.4" y="518.01" width="19.4" height="2.62" fill="#ff00d3"/>
<rect x="600.4" y="515.79" width="19.4" height="2.62" fill="#ff00ed"/>
<rect x="600.4" y="513.56" width="19.4" height="2.62" fill="#ff00f3"/>
<rect x="600.4" y="511.34" width="19.4" height="2.62" fill="#ff00f6"/>
<rect x="600.4" y="509.12" width="19.4" height="2.62" fill="#ff00f9"/>
<rect x="600.4" y="506.89" width="19.4" height="2.62" fill="#ff00fc"/>
<rect x="600.4" y="504.67" width="19.4" height="2.62" fill="#ff06ff"/>
<rect x="600.4" y="502.45" width="19.4" height="2.62" fill="#ff41ff"/>
<rect x="600.4" y="500.22" width="19.4" height="2.62" fill="#ff6aff"/>
<rect x="600.4" y="498.00" width="19.4" height="2.62" fill="#ff7eff"/>
<rect x="600.4" y="498.0" width="19.4" height="133.39999999999998" fill="none" stroke="#333" stroke-width="1"/>
<rect x="600.4" y="793.77" width="19.4" height="2.63" fill="#00000d"/>
<rect x="600.4" y="791.55" width="19.4" height="2.63" fill="#000028"/>
<rect x="600.4" y="789.33" width="19.4" height="2.62" fill="#000042"/>
<rect x="600.4" y="787.10" width="19.4" height="2.63" fill="#000056"/>
<rect x="600.4" y="784.88" width="19.4" height="2.63" fill="#00006a"/>
<rect x="600.4" y="782.65" width="19.4" height="2.63" fill="#00007e"/>
<rect x="600.4" y="780.42" width="19.4" height="2.63" fill="#000093"/>
<rect x="600.4" y="778.20" width="19.4" height="2.62" fill="#0000a8"/>
<rect x="600.4" y="775.98" width="19.4" height="2.63" fill="#0000bd"/>
<rect x="600.4" y="773.75" width="19.4" height="2.63" fill="#0000cf"/>
<rect x="600.4" y="771.52" width="19.4" height="2.63" fill="#0000e0"/>
<rect x="600.4" y="769.30" width="19.4" height="2.63" fill="#0000f0"/>
<rect x="600.4" y="767.08" width="19.4" height="2.62" fill="#0007fb"/>
<rect x="600.4" y="764.85" width="19.4" height="2.63" fill="#003be2"/>
<rect x="600.4" y="762.62" width="19.4" height="2.63" fill="#0067c9"/>
<rect x="600.4" y="760.40" width="19.4" height="2.63" fill="#0080b0"/>
<rect x="600.4" y="758.17" width="19.4" height="2.63" fill="#009997"/>
<rect x="600.4" y="755.95" width="19.4" height="2.62" fill="#00a982"/>
<rect x="600.4" y="753.73" width="19.4" height="2.63" fill="#00b76e"/>
<rect x="600.4" y="751.50" width="19.4" height="2.63" fill="#00c658"/>
<rect x="600.4" y="749.27" width="19.4" height="2.63" fill="#00da3d"/>
<rect x="600.4" y="747.05" width="19.4" height="2.63" fill="#00ee23"/>
<rect x="600.4" y="744.83" width="19.4" height="2.62" fill="#18f614"/>
<rect x="600.4" y="742.60" width="19.4" height="2.63" fill="#33fc07"/>
<rect x="600.4" y="740.38" width="19.4" height="2.63" fill="#54ff00"/>
<rect x="600.4" y="738.15" width="19.4" height="2.63" fill="#7cff00"/>
<rect x="600.4" y="735.92" width="19.4" height="2.63" fill="#a2ff00"/>
<rect x="600.4" y="733.70" width="19.4" height="2.62" fill="#b6ff00"/>
<rect x="600.4" y="731.48" width="19.4" height="2.63" fill="#caff00"/>
<rect x="600.4" y="729.25" width="19.4" height="2.63" fill="#daff00"/>
<rect x="600.4" y="727.02" width="19.4" height="2.63" fill="#e8ff00"/>
<rect x="600.4" y="724.80" width="19.4" height="2.63" fill="#f6ff00"/>
<rect x="600.4" y="722.58" width="19.4" height="2.62" fill="#fff700"/>
<rect x="600.4" y="720.35" width="19.4" height="2.63" fill="#ffe200"/>
<rect x="600.4" y="718.12" width="19.4" height="2.63" fill="#ffd000"/>
<rect x="600.4" y="715.90" width="19.4" height="2.63" fill="#ffc100"/>
<rect x="600.4" y="713.67" width="19.4" height="2.63" fill="#ffb200"/>
<rect x="600.4" y="711.45" width="19.4" height="2.62" fill="#ff9e00"/>
<rect x="600.4" y="709.23" width="19.4" height="2.63" fill="#ff8a00"/>
<rect x="600.4" y="707.00" width="19.4" height="2.63" fill="#ff7300"/>
<rect x="600.4" y="704.77" width="19.4" height="2.63" fill="#ff5800"/>
<rect x="600.4" y="702.55" width="19.4" height="2.63" fill="#ff3d00"/>
<rect x="600.4" y="700.33" width="19.4" height="2.62" fill="#ff2300"/>
<rect x="600.4" y="698.10" width="19.4" height="2.63" fill="#ff0800"/>
<rect x="600.4" y="695.88" width="19.4" height="2.63" fill="#ff001c"/>
<rect x="600.4" y="693.65" width="19.4" height="2.63" fill="#ff0044"/>
<rect x="600.4" y="691.42" width="19.4" height="2.63" fill="#ff0068"/>
<rect x="600.4" y="689.20" width="19.4" height="2.62" fill="#ff0083"/>
<rect x="600.4" y="686.98" width="19.4" height="2.63" fill="#ff009d"/>
<rect x="600.4" y="684.75" width="19.4" height="2.63" fill="#ff00b8"/>
<rect x="600.4" y="682.52" width="19.4" height="2.63" fill="#ff00d3"/>
<rect x="600.4" y="680.30" width="19.4" height="2.63" fill="#ff00ed"/>
<rect x="600.4" y="678.08" width="19.4" height="2.62" fill="#ff00f3"/>
<rect x="600.4" y="675.85" width="19.4" height="2.63" fill="#ff00f6"/>
<rect x="600.4" y="673.62" width="19.4" height="2.63" fill="#ff00f9"/>
<rect x="600.4" y="671.40" width="19.4" height="2.63" fill="#ff00fc"/>
<rect x="600.4" y="669.17" width="19.4" height="2.63" fill="#ff06ff"/>
<rect x="600.4" y="666.95" width="19.4" height="2.62" fill="#ff41ff"/>
<rect x="600.4" y="664.73" width="19.4" height="2.63" fill="#ff6aff"/>
<rect x="600.4" y="662.50" width="19.4" height="2.63" fill="#ff7eff"/>
<rect x="600.4" y="662.5" width="19.4" height="133.5" fill="none" stroke="#333" stroke-width="1"/>
<rect x="600.4" y="958.77" width="19.4" height="2.63" fill="#00000d"/>
<rect x="600.4" y="956.54" width="19.4" height="2.63" fill="#000028"/>
<rect x="600.4" y="954.32" width="19.4" height="2.63" fill="#000042"/>
<rect x="600.4" y="952.09" width="19.4" height="2.63" fill="#000056"/>
<rect x="600.4" y="949.86" width="19.4" height="2.63" fill="#00006a"/>
<rect x="600.4" y="947.63" width="19.4" height="2.63" fill="#00007e"/>
<rect x="600.4" y="945.40" width="19.4" height="2.63" fill="#000093"/>
<rect x="600.4" y="943.17" width="19.4" height="2.63" fill="#0000a8"/>
<rect x="600.4" y="940.94" width="19.4" height="2.63" fill="#0000bd"/>
<rect x="600.4" y="938.72" width="19.4" height="2.63" fill="#0000cf"/>
<rect x="600.4" y="936.49" width="19.4" height="2.63" fill="#0000e0"/>
<rect x="600.4" y="934.26" width="19.4" height="2.63" fill="#0000f0"/>
<rect x="600.4" y="932.03" width="19.4" height="2.63" fill="#0007fb"/>
<rect x="600.4" y="929.80" width="19.4" height="2.63" fill="#003be2"/>
<rect x="600.4" y="927.58" width="19.4" height="2.63" fill="#0067c9"/>
<rect x="600.4" y="925.35" width="19.4" height="2.63" fill="#0080b0"/>
<rect x="600.4" y="923.12" width="19.4" height="2.63" fill="#009997"/>
<rect x="600.4" y="920.89" width="19.4" height="2.63" fill="#00a982"/>
<rect x="600.4" y="918.66" width="19.4" height="2.63" fill="#00b76e"/>
<rect x="600.4" y="916.43" width="19.4" height="2.63" fill="#00c658"/>
<rect x="600.4" y="914.20" width="19.4" height="2.63" fill="#00da3d"/>
<rect x="600.4" y="911.98" width="19.4" height="2.63" fill="#00ee23"/>
<rect x="600.4" y="909.75" width="19.4" height="2.63" fill="#18f614"/>
<rect x="600.4" y="907.52" width="19.4" height="2.63" fill="#33fc07"/>
<rect x="600.4" y="905.29" width="19.4" height="2.63" fill="#54ff00"/>
<rect x="600.4" y="903.06" width="19.4" height="2.63" fill="#7cff00"/>
<rect x="600.4" y="900.84" width="19.4" height="2.63" fill="#a2ff00"/>
<rect x="600.4" y="898.61" width="19.4" height="2.63" fill="#b6ff00"/>
<rect x="600.4" y="896.38" width="19.4" height="2.63" fill="#caff00"/>
<rect x="600.4" y="894.15" width="19.4" height="2.63" fill="#daff00"/>
<rect x="600.4" y="891.92" width="19.4" height="2.63" fill="#e8ff00"/>
<rect x="600.4" y="889.69" width="19.4" height="2.63" fill="#f6ff00"/>
<rect x="600.4" y="887.46" width="19.4" height="2.63" fill="#fff700"/>
<rect x="600.4" y="885.24" width="19.4" height="2.63" fill="#ffe200"/>
<rect x="600.4" y="883.01" width="19.4" height="2.63" fill="#ffd000"/>
<rect x="600.4" y="880.78" width="19.4" height="2.63" fill="#ffc100"/>
<rect x="600.4" y="878.55" width="19.4" height="2.63" fill="#ffb200"/>
<rect x="600.4" y="876.32" width="19.4" height="2.63" fill="#ff9e00"/>
<rect x="600.4" y="874.10" width="19.4" height="2.63" fill="#ff8a00"/>
<rect x="600.4" y="871.87" width="19.4" height="2.63" fill="#ff7300"/>
<rect x="600.4" y="869.64" width="19.4" height="2.63" fill="#ff5800"/>
<rect x="600.4" y="867.41" width="19.4" height="2.63" fill="#ff3d00"/>
<rect x="600.4" y="865.18" width="19.4" height="2.63" fill="#ff2300"/>
<rect x="600.4" y="862.95" width="19.4" height="2.63" fill="#ff0800"/>
<rect x="600.4" y="860.72" width="19.4" height="2.63" fill="#ff001c"/>
<rect x="600.4" y="858.50" width="19.4" height="2.63" fill="#ff0044"/>
<rect x="600.4" y="856.27" width="19.4" height="2.63" fill="#ff0068"/>
<rect x="600.4" y="854.04" width="19.4" height="2.63" fill="#ff0083"/>
<rect x="600.4" y="851.81" width="19.4" height="2.63" fill="#ff009d"/>
<rect x="600.4" y="849.58" width="19.4" height="2.63" fill="#ff00b8"/>
<rect x="600.4" y="847.36" width="19.4" height="2.63" fill="#ff00d3"/>
<rect x="600.4" y="845.13" width="19.4" height="2.63" fill="#ff00ed"/>
<rect x="600.4" y="842.90" width="19.4" height="2.63" fill="#ff00f3"/>
<rect x="600.4" y="840.67" width="19.4" height="2.63" fill="#ff00f6"/>
<rect x="600.4" y="838.44" width="19.4" height="2.63" fill="#ff00f9"/>
<rect x="600.4" y="836.21" width="19.4" height="2.63" fill="#ff00fc"/>
<rect x="600.4" y="833.98" width="19.4" height="2.63" fill="#ff06ff"/>
<rect x="600.4" y="831.76" width="19.4" height="2.63" fill="#ff41ff"/>
<rect x="600.4" y="829.53" width="19.4" height="2.63" fill="#ff6aff"/>
<rect x="600.4" y="827.30" width="19.4" height="2.63" fill="#ff7eff"/>
<rect x="600.4" y="827.3" width="19.4" height="133.70000000000005" fill="none" stroke="#333" stroke-width="1"/>
<text x="625.00" y="341.40" font-size="13.2" fill="#2a2a2a" text-anchor="start">10</text>
<text x="643.30" y="335.30" font-size="9.6" fill="#2a2a2a" text-anchor="start">12</text>
<text x="625.00" y="399.50" font-size="13.2" fill="#2a2a2a" text-anchor="start">10</text>
<text x="643.30" y="393.40" font-size="9.6" fill="#2a2a2a" text-anchor="start">11</text>
<text x="625.00" y="458.10" font-size="13.2" fill="#2a2a2a" text-anchor="start">10</text>
<text x="643.30" y="452.00" font-size="9.6" fill="#2a2a2a" text-anchor="start">10</text>
<text x="624.40" y="501.80" font-size="13.2" fill="#2a2a2a" text-anchor="start">4000</text>
<text x="624.40" y="535.80" font-size="13.2" fill="#2a2a2a" text-anchor="start">3000</text>
<text x="624.40" y="569.80" font-size="13.2" fill="#2a2a2a" text-anchor="start">2000</text>
<text x="624.40" y="602.80" font-size="13.2" fill="#2a2a2a" text-anchor="start">1000</text>
<text x="624.40" y="635.80" font-size="13.2" fill="#2a2a2a" text-anchor="start">0</text>
<text x="624.40" y="666.10" font-size="13.2" fill="#2a2a2a" text-anchor="start">3000</text>
<text x="624.40" y="711.30" font-size="13.2" fill="#2a2a2a" text-anchor="start">2000</text>
<text x="624.40" y="756.20" font-size="13.2" fill="#2a2a2a" text-anchor="start">1000</text>
<text x="624.40" y="800.80" font-size="13.2" fill="#2a2a2a" text-anchor="start">0</text>
<text x="624.40" y="831.80" font-size="13.2" fill="#2a2a2a" text-anchor="start">400</text>
<text x="624.40" y="865.30" font-size="13.2" fill="#2a2a2a" text-anchor="start">200</text>
<text x="624.40" y="898.80" font-size="13.2" fill="#2a2a2a" text-anchor="start">0</text>
<text x="624.40" y="931.80" font-size="13.2" fill="#2a2a2a" text-anchor="start">-200</text>
<text x="624.40" y="965.20" font-size="13.2" fill="#2a2a2a" text-anchor="start">-400</text>
<text font-size="18.2" fill="#1a1a1a" transform="translate(669.80,198.00) rotate(90) scale(0.7606,1)">Velocity (m s<tspan font-size="11.3" dy="-6.9">-1</tspan><tspan dy="6.9">)</tspan></text>
<text font-size="17.8" fill="#1a1a1a" transform="translate(669.60,331.00) rotate(90) scale(0.8086,1)">Electron Density (m<tspan font-size="11.0" dy="-6.8">-3</tspan><tspan dy="6.8">)</tspan></text>
<text font-size="17.8" fill="#1a1a1a" transform="translate(669.60,486.60) rotate(90) scale(0.8015,1)">Electron Temperature (K)</text>
<text font-size="17.8" fill="#1a1a1a" transform="translate(669.60,674.60) rotate(90) scale(0.8002,1)">Ion Temperature (K)</text>
<text font-size="17.8" fill="#1a1a1a" transform="translate(669.60,832.70) rotate(90) scale(0.7875,1)">Ion Drift Velocity (m s<tspan font-size="11.0" dy="-6.8">-1</tspan><tspan dy="6.8">)</tspan></text>
<text font-size="12.5" fill="#1a1a1a" transform="translate(642.30,866.80) rotate(90) scale(0.9839,1)">(away)</text>
</svg></body></html>
